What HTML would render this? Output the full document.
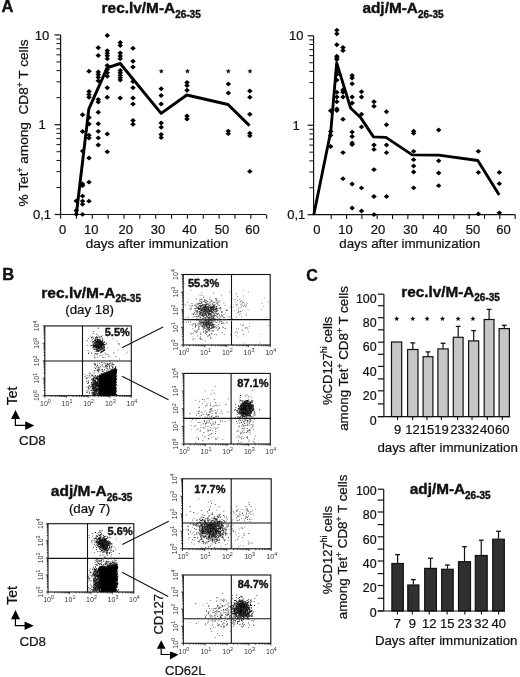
<!DOCTYPE html>
<html><head><meta charset="utf-8"><style>
html,body{margin:0;padding:0;background:#fff;}
svg{display:block;will-change:transform;}
text{font-family:"Liberation Sans", sans-serif;fill:#111;stroke:#111;stroke-width:0.22px;}
text[font-weight=bold]{stroke-width:0.4px;}
text.tk{stroke:none;fill:#333;}
</style></head><body>
<svg width="520" height="677" viewBox="0 0 520 677">
<rect width="520" height="677" fill="#fff"/>
<text x="1.6" y="11.8" font-size="16.5" font-weight="bold" text-anchor="start" >A</text>
<text x="101.6" y="13.2" font-size="15.4" font-weight="bold">rec.lv/M-A<tspan font-size="10" dy="4.6">26-35</tspan></text>
<text x="362.4" y="13.2" font-size="15.4" font-weight="bold">adj/M-A<tspan font-size="10" dy="4.6">26-35</tspan></text>
<line x1="60.60" y1="34.90" x2="60.60" y2="215.00" stroke="#111" stroke-width="1.2"/>
<line x1="56.40" y1="97.67" x2="60.60" y2="97.67" stroke="#111" stroke-width="1.0"/>
<line x1="56.40" y1="81.85" x2="60.60" y2="81.85" stroke="#111" stroke-width="1.0"/>
<line x1="56.40" y1="70.64" x2="60.60" y2="70.64" stroke="#111" stroke-width="1.0"/>
<line x1="56.40" y1="61.93" x2="60.60" y2="61.93" stroke="#111" stroke-width="1.0"/>
<line x1="56.40" y1="54.82" x2="60.60" y2="54.82" stroke="#111" stroke-width="1.0"/>
<line x1="56.40" y1="48.81" x2="60.60" y2="48.81" stroke="#111" stroke-width="1.0"/>
<line x1="56.40" y1="43.60" x2="60.60" y2="43.60" stroke="#111" stroke-width="1.0"/>
<line x1="56.40" y1="39.01" x2="60.60" y2="39.01" stroke="#111" stroke-width="1.0"/>
<line x1="56.40" y1="187.47" x2="60.60" y2="187.47" stroke="#111" stroke-width="1.0"/>
<line x1="56.40" y1="171.65" x2="60.60" y2="171.65" stroke="#111" stroke-width="1.0"/>
<line x1="56.40" y1="160.44" x2="60.60" y2="160.44" stroke="#111" stroke-width="1.0"/>
<line x1="56.40" y1="151.73" x2="60.60" y2="151.73" stroke="#111" stroke-width="1.0"/>
<line x1="56.40" y1="144.62" x2="60.60" y2="144.62" stroke="#111" stroke-width="1.0"/>
<line x1="56.40" y1="138.61" x2="60.60" y2="138.61" stroke="#111" stroke-width="1.0"/>
<line x1="56.40" y1="133.40" x2="60.60" y2="133.40" stroke="#111" stroke-width="1.0"/>
<line x1="56.40" y1="128.81" x2="60.60" y2="128.81" stroke="#111" stroke-width="1.0"/>
<line x1="54.60" y1="34.90" x2="60.60" y2="34.90" stroke="#111" stroke-width="1.2"/>
<line x1="54.60" y1="124.70" x2="60.60" y2="124.70" stroke="#111" stroke-width="1.2"/>
<line x1="54.60" y1="214.50" x2="60.60" y2="214.50" stroke="#111" stroke-width="1.2"/>
<line x1="60.60" y1="214.50" x2="266.00" y2="214.50" stroke="#111" stroke-width="1.2"/>
<line x1="60.60" y1="214.50" x2="60.60" y2="218.70" stroke="#111" stroke-width="1.1"/>
<line x1="76.45" y1="214.50" x2="76.45" y2="218.70" stroke="#111" stroke-width="1.1"/>
<line x1="92.30" y1="214.50" x2="92.30" y2="218.70" stroke="#111" stroke-width="1.1"/>
<line x1="108.15" y1="214.50" x2="108.15" y2="218.70" stroke="#111" stroke-width="1.1"/>
<line x1="124.00" y1="214.50" x2="124.00" y2="218.70" stroke="#111" stroke-width="1.1"/>
<line x1="139.85" y1="214.50" x2="139.85" y2="218.70" stroke="#111" stroke-width="1.1"/>
<line x1="155.70" y1="214.50" x2="155.70" y2="218.70" stroke="#111" stroke-width="1.1"/>
<line x1="171.55" y1="214.50" x2="171.55" y2="218.70" stroke="#111" stroke-width="1.1"/>
<line x1="187.40" y1="214.50" x2="187.40" y2="218.70" stroke="#111" stroke-width="1.1"/>
<line x1="203.25" y1="214.50" x2="203.25" y2="218.70" stroke="#111" stroke-width="1.1"/>
<line x1="219.10" y1="214.50" x2="219.10" y2="218.70" stroke="#111" stroke-width="1.1"/>
<line x1="234.95" y1="214.50" x2="234.95" y2="218.70" stroke="#111" stroke-width="1.1"/>
<line x1="250.80" y1="214.50" x2="250.80" y2="218.70" stroke="#111" stroke-width="1.1"/>
<line x1="266.65" y1="214.50" x2="266.65" y2="218.70" stroke="#111" stroke-width="1.1"/>
<text x="42.0" y="39.5" font-size="13" font-weight="normal" text-anchor="middle" >10</text>
<text x="42.0" y="129.3" font-size="13" font-weight="normal" text-anchor="middle" >1</text>
<text x="42.0" y="219.1" font-size="13" font-weight="normal" text-anchor="middle" >0,1</text>
<text x="62.6" y="233.9" font-size="13" font-weight="normal" text-anchor="middle" >0</text>
<text x="91.3" y="233.9" font-size="13" font-weight="normal" text-anchor="middle" >10</text>
<text x="125.8" y="233.9" font-size="13" font-weight="normal" text-anchor="middle" >20</text>
<text x="158.1" y="233.9" font-size="13" font-weight="normal" text-anchor="middle" >30</text>
<text x="189.6" y="233.9" font-size="13" font-weight="normal" text-anchor="middle" >40</text>
<text x="221.9" y="233.9" font-size="13" font-weight="normal" text-anchor="middle" >50</text>
<text x="252.4" y="233.9" font-size="13" font-weight="normal" text-anchor="middle" >60</text>
<text x="157.0" y="248.0" font-size="13.5" font-weight="normal" text-anchor="middle" >days after immunization</text>
<text transform="translate(28.0,206.4) rotate(-90)" font-size="13.65">% Tet<tspan font-size="8.5" dy="-5">+</tspan><tspan dy="5"> among&#160; CD8</tspan><tspan font-size="8.5" dy="-5">+</tspan><tspan dy="5"> T cells</tspan></text>
<line x1="313.60" y1="35.80" x2="313.60" y2="215.20" stroke="#111" stroke-width="1.2"/>
<line x1="309.40" y1="98.32" x2="313.60" y2="98.32" stroke="#111" stroke-width="1.0"/>
<line x1="309.40" y1="82.57" x2="313.60" y2="82.57" stroke="#111" stroke-width="1.0"/>
<line x1="309.40" y1="71.40" x2="313.60" y2="71.40" stroke="#111" stroke-width="1.0"/>
<line x1="309.40" y1="62.73" x2="313.60" y2="62.73" stroke="#111" stroke-width="1.0"/>
<line x1="309.40" y1="55.64" x2="313.60" y2="55.64" stroke="#111" stroke-width="1.0"/>
<line x1="309.40" y1="49.66" x2="313.60" y2="49.66" stroke="#111" stroke-width="1.0"/>
<line x1="309.40" y1="44.47" x2="313.60" y2="44.47" stroke="#111" stroke-width="1.0"/>
<line x1="309.40" y1="39.89" x2="313.60" y2="39.89" stroke="#111" stroke-width="1.0"/>
<line x1="309.40" y1="187.77" x2="313.60" y2="187.77" stroke="#111" stroke-width="1.0"/>
<line x1="309.40" y1="172.02" x2="313.60" y2="172.02" stroke="#111" stroke-width="1.0"/>
<line x1="309.40" y1="160.85" x2="313.60" y2="160.85" stroke="#111" stroke-width="1.0"/>
<line x1="309.40" y1="152.18" x2="313.60" y2="152.18" stroke="#111" stroke-width="1.0"/>
<line x1="309.40" y1="145.09" x2="313.60" y2="145.09" stroke="#111" stroke-width="1.0"/>
<line x1="309.40" y1="139.11" x2="313.60" y2="139.11" stroke="#111" stroke-width="1.0"/>
<line x1="309.40" y1="133.92" x2="313.60" y2="133.92" stroke="#111" stroke-width="1.0"/>
<line x1="309.40" y1="129.34" x2="313.60" y2="129.34" stroke="#111" stroke-width="1.0"/>
<line x1="307.60" y1="35.80" x2="313.60" y2="35.80" stroke="#111" stroke-width="1.2"/>
<line x1="307.60" y1="125.25" x2="313.60" y2="125.25" stroke="#111" stroke-width="1.2"/>
<line x1="307.60" y1="214.70" x2="313.60" y2="214.70" stroke="#111" stroke-width="1.2"/>
<line x1="313.60" y1="214.70" x2="515.30" y2="214.70" stroke="#111" stroke-width="1.2"/>
<line x1="331.23" y1="214.70" x2="331.23" y2="218.90" stroke="#111" stroke-width="1.1"/>
<line x1="346.56" y1="214.70" x2="346.56" y2="218.90" stroke="#111" stroke-width="1.1"/>
<line x1="361.89" y1="214.70" x2="361.89" y2="218.90" stroke="#111" stroke-width="1.1"/>
<line x1="377.22" y1="214.70" x2="377.22" y2="218.90" stroke="#111" stroke-width="1.1"/>
<line x1="392.55" y1="214.70" x2="392.55" y2="218.90" stroke="#111" stroke-width="1.1"/>
<line x1="407.88" y1="214.70" x2="407.88" y2="218.90" stroke="#111" stroke-width="1.1"/>
<line x1="423.21" y1="214.70" x2="423.21" y2="218.90" stroke="#111" stroke-width="1.1"/>
<line x1="438.54" y1="214.70" x2="438.54" y2="218.90" stroke="#111" stroke-width="1.1"/>
<line x1="453.87" y1="214.70" x2="453.87" y2="218.90" stroke="#111" stroke-width="1.1"/>
<line x1="469.20" y1="214.70" x2="469.20" y2="218.90" stroke="#111" stroke-width="1.1"/>
<line x1="484.53" y1="214.70" x2="484.53" y2="218.90" stroke="#111" stroke-width="1.1"/>
<line x1="499.86" y1="214.70" x2="499.86" y2="218.90" stroke="#111" stroke-width="1.1"/>
<line x1="515.19" y1="214.70" x2="515.19" y2="218.90" stroke="#111" stroke-width="1.1"/>
<text x="296.2" y="40.4" font-size="13" font-weight="normal" text-anchor="middle" >10</text>
<text x="296.2" y="129.8" font-size="13" font-weight="normal" text-anchor="middle" >1</text>
<text x="296.2" y="219.3" font-size="13" font-weight="normal" text-anchor="middle" >0,1</text>
<text x="316.9" y="233.9" font-size="13" font-weight="normal" text-anchor="middle" >0</text>
<text x="345.4" y="233.9" font-size="13" font-weight="normal" text-anchor="middle" >10</text>
<text x="378.1" y="233.9" font-size="13" font-weight="normal" text-anchor="middle" >20</text>
<text x="410.5" y="233.9" font-size="13" font-weight="normal" text-anchor="middle" >30</text>
<text x="440.1" y="233.9" font-size="13" font-weight="normal" text-anchor="middle" >40</text>
<text x="472.9" y="233.9" font-size="13" font-weight="normal" text-anchor="middle" >50</text>
<text x="503.5" y="233.9" font-size="13" font-weight="normal" text-anchor="middle" >60</text>
<text x="409.7" y="248.0" font-size="13.35" font-weight="normal" text-anchor="middle" >days after immunization</text>
<path d="M73.5 201.0L76.3 198.6L79.0 201.0L76.3 203.4ZM73.5 210.5L76.3 208.1L79.0 210.5L76.3 212.9ZM73.5 214.3L76.3 211.9L79.0 214.3L76.3 216.8ZM79.8 114.8L82.6 112.3L85.3 114.8L82.6 117.2ZM79.8 131.5L82.6 129.1L85.3 131.5L82.6 133.9ZM79.8 151.1L82.6 148.7L85.3 151.1L82.6 153.5ZM79.8 184.0L82.6 181.6L85.3 184.0L82.6 186.4ZM79.8 185.7L82.6 183.2L85.3 185.7L82.6 188.1ZM79.8 196.1L82.6 193.7L85.3 196.1L82.6 198.5ZM79.8 201.1L82.6 198.7L85.3 201.1L82.6 203.5ZM79.8 204.3L82.6 201.9L85.3 204.3L82.6 206.8ZM79.8 214.4L82.6 212.0L85.3 214.4L82.6 216.8ZM86.2 71.3L89.0 68.8L91.8 71.3L89.0 73.8ZM86.2 91.5L89.0 89.0L91.8 91.5L89.0 94.0ZM86.2 94.4L89.0 92.0L91.8 94.4L89.0 96.9ZM86.2 97.3L89.0 94.8L91.8 97.3L89.0 99.8ZM86.2 117.6L89.0 115.1L91.8 117.6L89.0 120.0ZM86.2 123.9L89.0 121.5L91.8 123.9L89.0 126.4ZM86.2 135.2L89.0 132.8L91.8 135.2L89.0 137.6ZM86.2 138.1L89.0 135.7L91.8 138.1L89.0 140.5ZM86.2 158.0L89.0 155.6L91.8 158.0L89.0 160.4ZM86.2 182.2L89.0 179.8L91.8 182.2L89.0 184.6ZM86.2 201.2L89.0 198.8L91.8 201.2L89.0 203.6ZM95.5 47.7L98.3 45.2L101.0 47.7L98.3 50.2ZM95.5 55.6L98.3 53.1L101.0 55.6L98.3 58.1ZM95.5 71.9L98.3 69.5L101.0 71.9L98.3 74.4ZM95.5 74.4L98.3 72.0L101.0 74.4L98.3 76.9ZM95.5 77.2L98.3 74.8L101.0 77.2L98.3 79.7ZM95.5 80.8L98.3 78.3L101.0 80.8L98.3 83.2ZM95.5 99.4L98.3 97.0L101.0 99.4L98.3 101.9ZM95.5 102.1L98.3 99.6L101.0 102.1L98.3 104.5ZM95.5 112.3L98.3 109.8L101.0 112.3L98.3 114.8ZM95.5 123.8L98.3 121.3L101.0 123.8L98.3 126.2ZM95.5 131.3L98.3 128.9L101.0 131.3L98.3 133.8ZM95.5 137.9L98.3 135.5L101.0 137.9L98.3 140.3ZM95.5 145.0L98.3 142.6L101.0 145.0L98.3 147.4ZM104.5 35.4L107.3 32.9L110.0 35.4L107.3 37.9ZM104.5 50.8L107.3 48.3L110.0 50.8L107.3 53.2ZM104.5 53.3L107.3 50.8L110.0 53.3L107.3 55.8ZM104.5 55.8L107.3 53.3L110.0 55.8L107.3 58.2ZM104.5 58.8L107.3 56.3L110.0 58.8L107.3 61.2ZM104.5 65.6L107.3 63.1L110.0 65.6L107.3 68.0ZM104.5 69.4L107.3 67.0L110.0 69.4L107.3 71.9ZM104.5 72.7L107.3 70.2L110.0 72.7L107.3 75.2ZM104.5 76.2L107.3 73.8L110.0 76.2L107.3 78.7ZM104.5 87.7L107.3 85.2L110.0 87.7L107.3 90.2ZM104.5 97.3L107.3 94.8L110.0 97.3L107.3 99.8ZM104.5 134.0L107.3 131.6L110.0 134.0L107.3 136.4ZM104.5 151.8L107.3 149.4L110.0 151.8L107.3 154.2ZM117.5 42.5L120.2 40.0L123.0 42.5L120.2 45.0ZM117.5 45.4L120.2 42.9L123.0 45.4L120.2 47.9ZM117.5 53.1L120.2 50.6L123.0 53.1L120.2 55.6ZM117.5 56.0L120.2 53.5L123.0 56.0L120.2 58.5ZM117.5 58.8L120.2 56.3L123.0 58.8L120.2 61.2ZM117.5 70.4L120.2 68.0L123.0 70.4L120.2 72.9ZM117.5 72.7L120.2 70.2L123.0 72.7L120.2 75.2ZM117.5 75.2L120.2 72.8L123.0 75.2L120.2 77.7ZM117.5 77.7L120.2 75.2L123.0 77.7L120.2 80.2ZM117.5 80.0L120.2 77.5L123.0 80.0L120.2 82.5ZM117.5 97.9L120.2 95.5L123.0 97.9L120.2 100.4ZM130.2 48.3L133.0 45.8L135.8 48.3L133.0 50.8ZM130.2 61.3L133.0 58.8L135.8 61.3L133.0 63.8ZM130.2 67.1L133.0 64.6L135.8 67.1L133.0 69.5ZM130.2 81.5L133.0 79.0L135.8 81.5L133.0 84.0ZM130.2 87.7L133.0 85.2L135.8 87.7L133.0 90.2ZM130.2 97.9L133.0 95.5L135.8 97.9L133.0 100.4ZM130.2 104.0L133.0 101.5L135.8 104.0L133.0 106.5ZM130.2 120.4L133.0 118.0L135.8 120.4L133.0 122.9ZM130.2 124.2L133.0 121.8L135.8 124.2L133.0 126.7ZM158.4 88.8L161.2 86.3L163.9 88.8L161.2 91.2ZM158.4 95.4L161.2 93.0L163.9 95.4L161.2 97.9ZM158.4 104.0L161.2 101.5L163.9 104.0L161.2 106.5ZM158.4 123.0L161.2 120.5L163.9 123.0L161.2 125.5ZM158.4 127.3L161.2 124.8L163.9 127.3L161.2 129.8ZM158.4 134.5L161.2 132.1L163.9 134.5L161.2 136.9ZM158.4 137.6L161.2 135.2L163.9 137.6L161.2 140.0ZM184.2 82.6L187.0 80.1L189.8 82.6L187.0 85.0ZM184.2 85.6L187.0 83.1L189.8 85.6L187.0 88.0ZM184.2 90.3L187.0 87.8L189.8 90.3L187.0 92.8ZM184.2 116.0L187.0 113.5L189.8 116.0L187.0 118.5ZM184.2 119.0L187.0 116.5L189.8 119.0L187.0 121.5ZM225.6 84.0L228.3 81.5L231.1 84.0L228.3 86.5ZM225.6 93.0L228.3 90.5L231.1 93.0L228.3 95.5ZM225.6 131.1L228.3 128.7L231.1 131.1L228.3 133.5ZM225.6 133.7L228.3 131.2L231.1 133.7L228.3 136.1ZM247.1 91.0L249.8 88.5L252.6 91.0L249.8 93.5ZM247.1 97.3L249.8 94.8L252.6 97.3L249.8 99.8ZM247.1 114.2L249.8 111.8L252.6 114.2L249.8 116.7ZM247.1 133.2L249.8 130.8L252.6 133.2L249.8 135.6ZM247.1 135.8L249.8 133.4L252.6 135.8L249.8 138.2ZM247.1 171.4L249.8 169.0L252.6 171.4L249.8 173.8Z" fill="#000"/>
<polyline points="76.3,214.5 88.8,109.2 107.1,67.9 120.2,63.5 161.1,113.4 186.8,95.0 228,104.5 249.5,125.6" fill="none" stroke="#000" stroke-width="2.95" stroke-linejoin="round"/>
<polygon points="161.30,68.60 161.98,70.37 163.87,70.47 162.39,71.66 162.89,73.48 161.30,72.45 159.71,73.48 160.21,71.66 158.73,70.47 160.62,70.37" fill="#111"/>
<polygon points="187.50,68.60 188.18,70.37 190.07,70.47 188.59,71.66 189.09,73.48 187.50,72.45 185.91,73.48 186.41,71.66 184.93,70.47 186.82,70.37" fill="#111"/>
<polygon points="228.30,68.60 228.98,70.37 230.87,70.47 229.39,71.66 229.89,73.48 228.30,72.45 226.71,73.48 227.21,71.66 225.73,70.47 227.62,70.37" fill="#111"/>
<polygon points="250.00,68.60 250.68,70.37 252.57,70.47 251.09,71.66 251.59,73.48 250.00,72.45 248.41,73.48 248.91,71.66 247.43,70.47 249.32,70.37" fill="#111"/>
<path d="M327.9 110.8L330.7 108.3L333.4 110.8L330.7 113.2ZM327.9 131.5L330.7 129.1L333.4 131.5L330.7 133.9ZM327.9 135.3L330.7 132.9L333.4 135.3L330.7 137.8ZM327.9 146.5L330.7 144.1L333.4 146.5L330.7 148.9ZM334.1 30.2L336.8 27.8L339.6 30.2L336.8 32.6ZM334.1 33.7L336.8 31.3L339.6 33.7L336.8 36.2ZM334.1 44.8L336.8 42.3L339.6 44.8L336.8 47.2ZM334.1 56.2L336.8 53.8L339.6 56.2L336.8 58.7ZM334.1 57.9L336.8 55.4L339.6 57.9L336.8 60.4ZM334.1 59.6L336.8 57.1L339.6 59.6L336.8 62.1ZM334.1 72.3L336.8 69.8L339.6 72.3L336.8 74.8ZM334.1 74.6L336.8 72.1L339.6 74.6L336.8 77.0ZM334.1 80.1L336.8 77.6L339.6 80.1L336.8 82.5ZM334.1 92.3L336.8 89.8L339.6 92.3L336.8 94.8ZM334.1 96.9L336.8 94.5L339.6 96.9L336.8 99.4ZM334.1 101.8L336.8 99.3L339.6 101.8L336.8 104.2ZM334.1 108.9L336.8 106.5L339.6 108.9L336.8 111.4ZM334.1 110.5L336.8 108.0L339.6 110.5L336.8 113.0ZM340.2 47.5L343.0 45.0L345.8 47.5L343.0 50.0ZM340.2 50.6L343.0 48.1L345.8 50.6L343.0 53.1ZM340.2 90.0L343.0 87.5L345.8 90.0L343.0 92.5ZM340.2 92.3L343.0 89.8L345.8 92.3L343.0 94.8ZM340.2 96.9L343.0 94.5L345.8 96.9L343.0 99.4ZM340.2 119.2L343.0 116.8L345.8 119.2L343.0 121.7ZM340.2 152.6L343.0 150.2L345.8 152.6L343.0 155.0ZM340.2 178.7L343.0 176.2L345.8 178.7L343.0 181.1ZM349.4 75.6L352.1 73.1L354.9 75.6L352.1 78.0ZM349.4 77.9L352.1 75.5L354.9 77.9L352.1 80.4ZM349.4 83.8L352.1 81.3L354.9 83.8L352.1 86.2ZM349.4 96.9L352.1 94.5L354.9 96.9L352.1 99.4ZM349.4 103.0L352.1 100.5L354.9 103.0L352.1 105.5ZM349.4 132.1L352.1 129.7L354.9 132.1L352.1 134.5ZM349.4 136.5L352.1 134.1L354.9 136.5L352.1 138.9ZM349.4 143.0L352.1 140.6L354.9 143.0L352.1 145.4ZM349.4 144.6L352.1 142.2L354.9 144.6L352.1 147.0ZM349.4 184.0L352.1 181.6L354.9 184.0L352.1 186.4ZM349.4 208.0L352.1 205.6L354.9 208.0L352.1 210.4ZM358.8 91.8L361.5 89.3L364.2 91.8L361.5 94.2ZM358.8 96.9L361.5 94.5L364.2 96.9L361.5 99.4ZM358.8 114.2L361.5 111.8L364.2 114.2L361.5 116.7ZM358.8 126.9L361.5 124.5L364.2 126.9L361.5 129.3ZM358.8 187.9L361.5 185.5L364.2 187.9L361.5 190.3ZM358.8 211.0L361.5 208.6L364.2 211.0L361.5 213.4ZM371.2 101.8L374.0 99.3L376.8 101.8L374.0 104.2ZM371.2 106.2L374.0 103.8L376.8 106.2L374.0 108.7ZM371.2 145.0L374.0 142.6L376.8 145.0L374.0 147.4ZM371.2 149.4L374.0 147.0L376.8 149.4L374.0 151.8ZM371.2 169.6L374.0 167.2L376.8 169.6L374.0 172.0ZM371.2 196.5L374.0 194.1L376.8 196.5L374.0 198.9ZM371.2 214.6L374.0 212.2L376.8 214.6L374.0 217.0ZM383.8 111.7L386.5 109.2L389.2 111.7L386.5 114.2ZM383.8 124.7L386.5 122.2L389.2 124.7L386.5 127.2ZM383.8 145.0L386.5 142.6L389.2 145.0L386.5 147.4ZM383.8 152.7L386.5 150.2L389.2 152.7L386.5 155.1ZM383.8 196.5L386.5 194.1L389.2 196.5L386.5 198.9ZM410.9 131.2L413.7 128.8L416.4 131.2L413.7 133.6ZM410.9 133.3L413.7 130.9L416.4 133.3L413.7 135.8ZM410.9 151.3L413.7 148.9L416.4 151.3L413.7 153.8ZM410.9 159.7L413.7 157.2L416.4 159.7L413.7 162.1ZM410.9 166.0L413.7 163.6L416.4 166.0L413.7 168.4ZM410.9 172.0L413.7 169.6L416.4 172.0L413.7 174.4ZM410.9 187.8L413.7 185.4L416.4 187.8L413.7 190.2ZM435.9 130.1L438.7 127.6L441.4 130.1L438.7 132.5ZM435.9 160.8L438.7 158.4L441.4 160.8L438.7 163.2ZM435.9 173.0L438.7 170.6L441.4 173.0L438.7 175.4ZM435.9 185.7L438.7 183.2L441.4 185.7L438.7 188.1ZM475.6 151.3L478.4 148.9L481.1 151.3L478.4 153.8ZM475.6 172.4L478.4 170.0L481.1 172.4L478.4 174.8ZM475.6 213.9L478.4 211.5L481.1 213.9L478.4 216.3ZM496.6 172.4L499.4 170.0L502.1 172.4L499.4 174.8ZM496.6 183.7L499.4 181.2L502.1 183.7L499.4 186.1ZM496.6 212.8L499.4 210.4L502.1 212.8L499.4 215.2Z" fill="#000"/>
<polyline points="313.8,214.6 330.8,131.3 336.7,62.8 350.6,108.0 361,118.1 373.5,136.9 386,137.4 412.2,154.9 438.7,155.2 477.8,160.5 499.2,195.0" fill="none" stroke="#000" stroke-width="2.85" stroke-linejoin="round"/>
<text x="2.2" y="280.3" font-size="16.5" font-weight="bold" text-anchor="start" >B</text>
<text x="41.3" y="297.7" font-size="15.5" font-weight="bold">rec.lv/M-A<tspan font-size="10" dy="4.6">26-35</tspan></text>
<text x="89.6" y="313.9" font-size="13.3" font-weight="normal" text-anchor="middle" >(day 18)</text>
<path d="M44.8 395.7v2.2M44.8 395.7h-2.2M51.3 395.7v1.3M44.8 390.4h-1.3M55.1 395.7v1.3M44.8 387.4h-1.3M57.8 395.7v1.3M44.8 385.2h-1.3M59.9 395.7v1.3M44.8 383.5h-1.3M61.6 395.7v1.3M44.8 382.1h-1.3M63.1 395.7v1.3M44.8 381.0h-1.3M64.3 395.7v1.3M44.8 379.9h-1.3M65.4 395.7v1.3M44.8 379.0h-1.3M66.4 395.7v2.2M44.8 378.2h-2.2M72.9 395.7v1.3M44.8 373.0h-1.3M76.7 395.7v1.3M44.8 369.9h-1.3M79.4 395.7v1.3M44.8 367.7h-1.3M81.5 395.7v1.3M44.8 366.1h-1.3M83.3 395.7v1.3M44.8 364.7h-1.3M84.7 395.7v1.3M44.8 363.5h-1.3M86.0 395.7v1.3M44.8 362.5h-1.3M87.1 395.7v1.3M44.8 361.6h-1.3M88.1 395.7v2.2M44.8 360.8h-2.2M94.6 395.7v1.3M44.8 355.5h-1.3M98.4 395.7v1.3M44.8 352.5h-1.3M101.1 395.7v1.3M44.8 350.3h-1.3M103.2 395.7v1.3M44.8 348.6h-1.3M104.9 395.7v1.3M44.8 347.2h-1.3M106.3 395.7v1.3M44.8 346.1h-1.3M107.6 395.7v1.3M44.8 345.0h-1.3M108.7 395.7v1.3M44.8 344.1h-1.3M109.7 395.7v2.2M44.8 343.3h-2.2M116.2 395.7v1.3M44.8 338.1h-1.3M120.0 395.7v1.3M44.8 335.0h-1.3M122.7 395.7v1.3M44.8 332.8h-1.3M124.8 395.7v1.3M44.8 331.2h-1.3M126.5 395.7v1.3M44.8 329.8h-1.3M128.0 395.7v1.3M44.8 328.6h-1.3M129.2 395.7v1.3M44.8 327.6h-1.3M130.3 395.7v1.3M44.8 326.7h-1.3M131.3 395.7v2.2M44.8 325.9h-2.2" stroke="#222" stroke-width="0.8" fill="none"/>
<rect x="44.8" y="325.9" width="86.5" height="69.8" fill="none" stroke="#111" stroke-width="1.1"/>
<line x1="82.50" y1="325.90" x2="82.50" y2="395.70" stroke="#111" stroke-width="1.1"/>
<line x1="44.80" y1="361.00" x2="131.30" y2="361.00" stroke="#111" stroke-width="1.1"/>
<text class="tk" x="45.4" y="405.9" font-size="7" text-anchor="middle">10<tspan font-size="5.4" dy="-2.8">0</tspan></text>
<text class="tk" transform="translate(39.4,395.7) rotate(-90)" font-size="7" text-anchor="middle">10<tspan font-size="5.4" dy="-2.8">0</tspan></text>
<text class="tk" x="67.0" y="405.9" font-size="7" text-anchor="middle">10<tspan font-size="5.4" dy="-2.8">1</tspan></text>
<text class="tk" transform="translate(39.4,378.2) rotate(-90)" font-size="7" text-anchor="middle">10<tspan font-size="5.4" dy="-2.8">1</tspan></text>
<text class="tk" x="88.7" y="405.9" font-size="7" text-anchor="middle">10<tspan font-size="5.4" dy="-2.8">2</tspan></text>
<text class="tk" transform="translate(39.4,360.8) rotate(-90)" font-size="7" text-anchor="middle">10<tspan font-size="5.4" dy="-2.8">2</tspan></text>
<text class="tk" x="110.3" y="405.9" font-size="7" text-anchor="middle">10<tspan font-size="5.4" dy="-2.8">3</tspan></text>
<text class="tk" transform="translate(39.4,343.3) rotate(-90)" font-size="7" text-anchor="middle">10<tspan font-size="5.4" dy="-2.8">3</tspan></text>
<text class="tk" x="131.9" y="405.9" font-size="7" text-anchor="middle">10<tspan font-size="5.4" dy="-2.8">4</tspan></text>
<text class="tk" transform="translate(39.4,325.9) rotate(-90)" font-size="7" text-anchor="middle">10<tspan font-size="5.4" dy="-2.8">4</tspan></text>
<path d="M98.8 346.0h0.9v0.9h-0.9zM97.4 343.9h0.9v0.9h-0.9zM96.2 345.1h0.9v0.9h-0.9zM101.3 343.9h0.9v0.9h-0.9zM100.9 343.6h0.9v0.9h-0.9zM99.5 344.3h0.9v0.9h-0.9zM96.5 348.8h0.9v0.9h-0.9zM100.2 344.9h0.9v0.9h-0.9zM92.1 342.4h0.9v0.9h-0.9zM95.8 344.4h0.9v0.9h-0.9zM98.9 343.9h0.9v0.9h-0.9zM98.3 342.1h0.9v0.9h-0.9zM99.7 345.0h0.9v0.9h-0.9zM100.0 349.5h0.9v0.9h-0.9zM101.5 346.6h0.9v0.9h-0.9zM95.9 343.4h0.9v0.9h-0.9zM97.5 344.6h0.9v0.9h-0.9zM100.1 344.2h0.9v0.9h-0.9zM95.9 342.6h0.9v0.9h-0.9zM99.4 348.1h0.9v0.9h-0.9zM97.2 346.1h0.9v0.9h-0.9zM96.7 340.1h0.9v0.9h-0.9zM100.7 347.6h0.9v0.9h-0.9zM93.9 346.3h0.9v0.9h-0.9zM96.8 342.5h0.9v0.9h-0.9zM99.3 343.6h0.9v0.9h-0.9zM96.9 348.4h0.9v0.9h-0.9zM101.3 345.8h0.9v0.9h-0.9zM101.9 343.3h0.9v0.9h-0.9zM96.4 341.0h0.9v0.9h-0.9zM98.6 342.1h0.9v0.9h-0.9zM95.4 341.9h0.9v0.9h-0.9zM95.6 344.4h0.9v0.9h-0.9zM97.5 337.6h0.9v0.9h-0.9zM95.9 347.0h0.9v0.9h-0.9zM102.2 343.9h0.9v0.9h-0.9zM90.4 340.7h0.9v0.9h-0.9zM97.9 342.1h0.9v0.9h-0.9zM97.8 348.3h0.9v0.9h-0.9zM100.8 343.3h0.9v0.9h-0.9zM99.6 345.1h0.9v0.9h-0.9zM102.6 343.8h0.9v0.9h-0.9zM100.4 345.1h0.9v0.9h-0.9zM97.5 349.7h0.9v0.9h-0.9zM101.2 344.4h0.9v0.9h-0.9zM93.4 345.5h0.9v0.9h-0.9zM97.0 338.8h0.9v0.9h-0.9zM99.8 347.2h0.9v0.9h-0.9zM98.5 350.2h0.9v0.9h-0.9zM99.2 343.3h0.9v0.9h-0.9zM100.1 345.6h0.9v0.9h-0.9zM100.6 347.1h0.9v0.9h-0.9zM96.4 344.3h0.9v0.9h-0.9zM100.5 343.1h0.9v0.9h-0.9zM98.3 347.9h0.9v0.9h-0.9zM100.5 341.3h0.9v0.9h-0.9zM95.4 345.9h0.9v0.9h-0.9zM97.6 343.9h0.9v0.9h-0.9zM99.4 340.0h0.9v0.9h-0.9zM98.7 339.6h0.9v0.9h-0.9zM97.9 347.0h0.9v0.9h-0.9zM102.1 345.0h0.9v0.9h-0.9zM99.3 344.3h0.9v0.9h-0.9zM99.7 345.6h0.9v0.9h-0.9zM98.5 345.3h0.9v0.9h-0.9zM99.5 343.6h0.9v0.9h-0.9zM100.9 344.8h0.9v0.9h-0.9zM102.9 342.5h0.9v0.9h-0.9zM96.9 344.1h0.9v0.9h-0.9zM99.9 346.7h0.9v0.9h-0.9zM98.4 345.8h0.9v0.9h-0.9zM97.7 335.6h0.9v0.9h-0.9zM96.6 346.5h0.9v0.9h-0.9zM99.6 344.5h0.9v0.9h-0.9zM98.7 346.6h0.9v0.9h-0.9zM98.1 342.7h0.9v0.9h-0.9zM103.8 342.0h0.9v0.9h-0.9zM97.1 344.9h0.9v0.9h-0.9zM97.8 344.6h0.9v0.9h-0.9zM92.2 346.9h0.9v0.9h-0.9zM98.4 340.1h0.9v0.9h-0.9zM99.9 346.9h0.9v0.9h-0.9zM102.6 346.9h0.9v0.9h-0.9zM94.4 345.8h0.9v0.9h-0.9zM98.8 346.4h0.9v0.9h-0.9zM96.0 336.3h0.9v0.9h-0.9zM98.1 339.3h0.9v0.9h-0.9zM97.2 339.8h0.9v0.9h-0.9zM100.8 347.1h0.9v0.9h-0.9zM98.4 345.1h0.9v0.9h-0.9zM100.2 343.7h0.9v0.9h-0.9zM100.8 348.3h0.9v0.9h-0.9zM100.0 342.3h0.9v0.9h-0.9zM101.9 337.8h0.9v0.9h-0.9zM99.8 342.5h0.9v0.9h-0.9zM99.9 346.0h0.9v0.9h-0.9zM99.9 345.7h0.9v0.9h-0.9zM92.8 342.7h0.9v0.9h-0.9zM98.0 341.2h0.9v0.9h-0.9zM93.9 342.2h0.9v0.9h-0.9zM102.2 344.5h0.9v0.9h-0.9zM99.7 340.1h0.9v0.9h-0.9zM96.5 341.6h0.9v0.9h-0.9zM102.6 347.3h0.9v0.9h-0.9zM99.3 349.5h0.9v0.9h-0.9zM100.1 342.6h0.9v0.9h-0.9zM96.9 350.6h0.9v0.9h-0.9zM97.2 343.0h0.9v0.9h-0.9zM99.9 344.9h0.9v0.9h-0.9zM99.6 339.8h0.9v0.9h-0.9zM103.2 346.5h0.9v0.9h-0.9zM101.0 342.0h0.9v0.9h-0.9zM98.7 347.9h0.9v0.9h-0.9zM98.8 344.6h0.9v0.9h-0.9zM100.8 341.8h0.9v0.9h-0.9zM93.2 346.6h0.9v0.9h-0.9zM96.1 348.9h0.9v0.9h-0.9zM98.0 342.5h0.9v0.9h-0.9zM99.8 346.5h0.9v0.9h-0.9zM100.8 347.6h0.9v0.9h-0.9zM100.0 347.1h0.9v0.9h-0.9zM104.1 346.4h0.9v0.9h-0.9zM98.6 347.5h0.9v0.9h-0.9zM92.8 344.3h0.9v0.9h-0.9zM96.3 349.7h0.9v0.9h-0.9zM95.9 346.0h0.9v0.9h-0.9zM98.0 344.6h0.9v0.9h-0.9zM97.6 345.8h0.9v0.9h-0.9zM102.0 342.1h0.9v0.9h-0.9zM101.1 346.2h0.9v0.9h-0.9zM95.9 341.5h0.9v0.9h-0.9zM99.1 347.8h0.9v0.9h-0.9zM94.1 345.2h0.9v0.9h-0.9zM101.7 345.0h0.9v0.9h-0.9zM99.8 346.4h0.9v0.9h-0.9zM96.7 341.3h0.9v0.9h-0.9zM94.2 344.9h0.9v0.9h-0.9zM99.3 341.7h0.9v0.9h-0.9zM95.3 343.7h0.9v0.9h-0.9zM95.2 346.2h0.9v0.9h-0.9zM96.7 346.9h0.9v0.9h-0.9zM94.3 348.4h0.9v0.9h-0.9zM93.8 340.5h0.9v0.9h-0.9zM99.4 342.7h0.9v0.9h-0.9zM92.5 345.3h0.9v0.9h-0.9zM98.2 342.9h0.9v0.9h-0.9zM101.2 345.2h0.9v0.9h-0.9zM100.3 344.3h0.9v0.9h-0.9zM102.2 344.2h0.9v0.9h-0.9zM95.8 338.6h0.9v0.9h-0.9zM102.4 346.4h0.9v0.9h-0.9zM97.0 343.6h0.9v0.9h-0.9zM99.3 337.4h0.9v0.9h-0.9zM103.4 349.8h0.9v0.9h-0.9zM97.7 347.4h0.9v0.9h-0.9zM101.9 341.5h0.9v0.9h-0.9zM101.0 345.9h0.9v0.9h-0.9zM96.5 345.4h0.9v0.9h-0.9zM100.4 346.0h0.9v0.9h-0.9zM98.0 344.0h0.9v0.9h-0.9zM95.8 344.9h0.9v0.9h-0.9zM100.3 343.4h0.9v0.9h-0.9zM95.3 343.5h0.9v0.9h-0.9zM105.6 343.6h0.9v0.9h-0.9zM95.3 337.1h0.9v0.9h-0.9zM100.4 344.7h0.9v0.9h-0.9zM102.5 343.2h0.9v0.9h-0.9zM99.2 345.8h0.9v0.9h-0.9zM96.3 349.6h0.9v0.9h-0.9zM97.9 342.2h0.9v0.9h-0.9zM104.1 347.1h0.9v0.9h-0.9zM94.5 344.7h0.9v0.9h-0.9zM99.3 344.5h0.9v0.9h-0.9zM96.0 342.5h0.9v0.9h-0.9zM104.4 344.1h0.9v0.9h-0.9zM93.8 342.7h0.9v0.9h-0.9zM103.4 344.5h0.9v0.9h-0.9zM103.4 343.9h0.9v0.9h-0.9zM97.1 346.2h0.9v0.9h-0.9zM92.9 345.5h0.9v0.9h-0.9zM99.2 345.8h0.9v0.9h-0.9zM96.7 345.1h0.9v0.9h-0.9zM99.9 344.7h0.9v0.9h-0.9zM100.0 344.1h0.9v0.9h-0.9zM99.1 346.8h0.9v0.9h-0.9zM97.1 342.3h0.9v0.9h-0.9zM97.2 345.2h0.9v0.9h-0.9zM98.4 344.9h0.9v0.9h-0.9zM98.7 344.8h0.9v0.9h-0.9zM96.0 341.5h0.9v0.9h-0.9zM101.0 346.4h0.9v0.9h-0.9zM98.9 343.3h0.9v0.9h-0.9zM97.6 341.4h0.9v0.9h-0.9zM94.7 347.1h0.9v0.9h-0.9zM97.8 347.5h0.9v0.9h-0.9zM91.8 339.4h0.9v0.9h-0.9zM99.0 349.7h0.9v0.9h-0.9zM95.3 341.5h0.9v0.9h-0.9zM97.8 346.7h0.9v0.9h-0.9zM99.7 344.2h0.9v0.9h-0.9zM102.5 344.1h0.9v0.9h-0.9zM99.4 345.9h0.9v0.9h-0.9zM103.3 344.6h0.9v0.9h-0.9zM98.6 340.3h0.9v0.9h-0.9zM99.3 346.4h0.9v0.9h-0.9zM99.6 347.4h0.9v0.9h-0.9zM101.1 345.8h0.9v0.9h-0.9zM102.3 351.0h0.9v0.9h-0.9zM100.5 342.2h0.9v0.9h-0.9zM103.0 350.7h0.9v0.9h-0.9zM99.2 347.0h0.9v0.9h-0.9zM100.4 343.1h0.9v0.9h-0.9zM96.4 346.4h0.9v0.9h-0.9zM101.0 346.7h0.9v0.9h-0.9zM100.0 343.4h0.9v0.9h-0.9zM101.0 344.6h0.9v0.9h-0.9zM98.9 344.3h0.9v0.9h-0.9zM99.1 346.4h0.9v0.9h-0.9zM95.2 344.3h0.9v0.9h-0.9zM95.9 340.8h0.9v0.9h-0.9zM94.1 340.0h0.9v0.9h-0.9zM98.0 346.7h0.9v0.9h-0.9zM99.4 343.5h0.9v0.9h-0.9zM95.5 341.2h0.9v0.9h-0.9zM102.9 343.2h0.9v0.9h-0.9zM99.1 340.7h0.9v0.9h-0.9zM95.0 340.1h0.9v0.9h-0.9zM101.5 345.7h0.9v0.9h-0.9zM94.6 346.8h0.9v0.9h-0.9zM96.7 339.2h0.9v0.9h-0.9zM93.0 344.2h0.9v0.9h-0.9zM94.8 341.8h0.9v0.9h-0.9zM98.9 345.0h0.9v0.9h-0.9zM100.8 345.3h0.9v0.9h-0.9zM103.3 345.2h0.9v0.9h-0.9zM94.9 344.9h0.9v0.9h-0.9zM94.5 343.2h0.9v0.9h-0.9zM98.2 344.5h0.9v0.9h-0.9zM96.7 339.8h0.9v0.9h-0.9zM95.9 346.0h0.9v0.9h-0.9zM97.5 343.9h0.9v0.9h-0.9zM97.0 342.6h0.9v0.9h-0.9zM100.4 344.3h0.9v0.9h-0.9zM97.1 342.9h0.9v0.9h-0.9zM93.4 337.9h0.9v0.9h-0.9zM96.5 345.8h0.9v0.9h-0.9zM95.8 346.9h0.9v0.9h-0.9zM96.4 340.8h0.9v0.9h-0.9zM97.4 344.0h0.9v0.9h-0.9zM100.3 345.3h0.9v0.9h-0.9zM96.9 342.3h0.9v0.9h-0.9zM98.0 344.4h0.9v0.9h-0.9zM100.4 344.1h0.9v0.9h-0.9zM94.7 342.0h0.9v0.9h-0.9zM96.4 343.1h0.9v0.9h-0.9zM96.0 345.6h0.9v0.9h-0.9zM97.6 345.3h0.9v0.9h-0.9zM98.7 342.7h0.9v0.9h-0.9zM102.5 340.5h0.9v0.9h-0.9zM100.8 343.2h0.9v0.9h-0.9zM96.6 337.0h0.9v0.9h-0.9zM97.3 346.0h0.9v0.9h-0.9zM103.6 349.4h0.9v0.9h-0.9zM101.2 347.1h0.9v0.9h-0.9zM101.5 345.7h0.9v0.9h-0.9zM99.1 343.3h0.9v0.9h-0.9zM97.6 341.0h0.9v0.9h-0.9zM99.0 340.3h0.9v0.9h-0.9zM102.5 349.3h0.9v0.9h-0.9zM98.0 344.8h0.9v0.9h-0.9zM100.7 342.9h0.9v0.9h-0.9zM97.2 346.1h0.9v0.9h-0.9zM100.8 345.4h0.9v0.9h-0.9zM99.8 349.8h0.9v0.9h-0.9zM101.7 342.2h0.9v0.9h-0.9zM98.2 343.0h0.9v0.9h-0.9zM100.0 340.7h0.9v0.9h-0.9zM98.9 342.3h0.9v0.9h-0.9zM98.2 347.1h0.9v0.9h-0.9zM101.0 342.6h0.9v0.9h-0.9zM98.4 347.3h0.9v0.9h-0.9zM98.8 345.2h0.9v0.9h-0.9zM103.3 345.1h0.9v0.9h-0.9zM101.2 350.8h0.9v0.9h-0.9zM99.7 346.3h0.9v0.9h-0.9zM97.0 345.2h0.9v0.9h-0.9zM98.0 351.2h0.9v0.9h-0.9zM99.0 339.5h0.9v0.9h-0.9zM92.7 342.4h0.9v0.9h-0.9zM100.0 341.7h0.9v0.9h-0.9zM97.8 343.7h0.9v0.9h-0.9zM96.3 341.9h0.9v0.9h-0.9zM96.0 340.8h0.9v0.9h-0.9zM98.8 345.3h0.9v0.9h-0.9zM98.9 343.2h0.9v0.9h-0.9zM96.9 346.0h0.9v0.9h-0.9zM100.1 348.9h0.9v0.9h-0.9zM99.7 343.1h0.9v0.9h-0.9zM96.3 343.3h0.9v0.9h-0.9zM95.9 344.8h0.9v0.9h-0.9zM99.9 345.3h0.9v0.9h-0.9zM103.1 348.8h0.9v0.9h-0.9zM97.0 345.4h0.9v0.9h-0.9zM100.8 336.0h0.9v0.9h-0.9zM97.7 345.5h0.9v0.9h-0.9zM99.4 345.2h0.9v0.9h-0.9zM98.5 345.6h0.9v0.9h-0.9zM99.8 346.2h0.9v0.9h-0.9zM93.2 344.8h0.9v0.9h-0.9zM96.6 341.8h0.9v0.9h-0.9zM97.4 347.4h0.9v0.9h-0.9zM98.2 346.9h0.9v0.9h-0.9zM100.4 344.1h0.9v0.9h-0.9zM99.2 343.5h0.9v0.9h-0.9zM95.6 346.2h0.9v0.9h-0.9zM98.4 342.5h0.9v0.9h-0.9zM99.5 346.4h0.9v0.9h-0.9zM97.7 347.2h0.9v0.9h-0.9zM101.2 340.5h0.9v0.9h-0.9zM98.4 343.8h0.9v0.9h-0.9zM102.0 343.1h0.9v0.9h-0.9zM99.0 341.5h0.9v0.9h-0.9zM98.4 344.4h0.9v0.9h-0.9zM97.3 350.4h0.9v0.9h-0.9zM97.2 338.9h0.9v0.9h-0.9zM99.7 343.1h0.9v0.9h-0.9zM99.9 344.7h0.9v0.9h-0.9zM95.1 345.9h0.9v0.9h-0.9zM100.4 341.0h0.9v0.9h-0.9zM94.1 342.4h0.9v0.9h-0.9zM96.5 346.9h0.9v0.9h-0.9zM102.5 343.2h0.9v0.9h-0.9zM102.7 349.6h0.9v0.9h-0.9zM96.2 343.4h0.9v0.9h-0.9zM100.4 345.0h0.9v0.9h-0.9zM94.4 342.9h0.9v0.9h-0.9zM99.4 344.6h0.9v0.9h-0.9zM95.5 345.7h0.9v0.9h-0.9zM98.1 346.3h0.9v0.9h-0.9zM98.0 344.3h0.9v0.9h-0.9zM99.5 347.5h0.9v0.9h-0.9zM100.5 341.6h0.9v0.9h-0.9zM98.8 341.4h0.9v0.9h-0.9zM99.8 346.2h0.9v0.9h-0.9zM100.8 341.4h0.9v0.9h-0.9zM98.6 345.0h0.9v0.9h-0.9zM95.5 346.5h0.9v0.9h-0.9zM97.7 346.2h0.9v0.9h-0.9zM92.8 341.0h0.9v0.9h-0.9zM98.9 345.0h0.9v0.9h-0.9zM98.8 347.3h0.9v0.9h-0.9zM96.8 343.3h0.9v0.9h-0.9zM96.7 339.9h0.9v0.9h-0.9zM97.0 345.3h0.9v0.9h-0.9zM99.8 342.8h0.9v0.9h-0.9zM97.9 342.4h0.9v0.9h-0.9zM101.8 348.1h0.9v0.9h-0.9zM101.0 351.2h0.9v0.9h-0.9zM97.2 345.3h0.9v0.9h-0.9zM100.5 346.7h0.9v0.9h-0.9zM92.4 340.9h0.9v0.9h-0.9zM100.9 345.5h0.9v0.9h-0.9zM104.1 350.1h0.9v0.9h-0.9zM99.2 344.8h0.9v0.9h-0.9zM100.9 344.1h0.9v0.9h-0.9zM99.6 339.1h0.9v0.9h-0.9zM91.8 336.4h0.9v0.9h-0.9zM99.4 342.4h0.9v0.9h-0.9zM103.9 348.5h0.9v0.9h-0.9zM98.0 343.8h0.9v0.9h-0.9zM96.0 343.0h0.9v0.9h-0.9zM98.2 346.8h0.9v0.9h-0.9zM98.6 344.5h0.9v0.9h-0.9zM99.6 346.9h0.9v0.9h-0.9zM99.1 343.4h0.9v0.9h-0.9zM99.5 343.1h0.9v0.9h-0.9zM98.6 349.6h0.9v0.9h-0.9zM97.7 341.4h0.9v0.9h-0.9zM101.1 343.8h0.9v0.9h-0.9zM98.0 350.5h0.9v0.9h-0.9zM100.6 346.2h0.9v0.9h-0.9zM98.5 343.8h0.9v0.9h-0.9zM97.0 348.9h0.9v0.9h-0.9zM98.0 343.6h0.9v0.9h-0.9zM99.2 344.1h0.9v0.9h-0.9zM99.1 342.6h0.9v0.9h-0.9zM94.7 339.2h0.9v0.9h-0.9zM98.7 346.6h0.9v0.9h-0.9zM100.4 341.7h0.9v0.9h-0.9zM100.8 348.5h0.9v0.9h-0.9zM99.0 346.7h0.9v0.9h-0.9zM101.8 342.2h0.9v0.9h-0.9zM99.6 341.0h0.9v0.9h-0.9zM98.7 343.9h0.9v0.9h-0.9zM100.5 347.0h0.9v0.9h-0.9zM102.0 339.5h0.9v0.9h-0.9zM98.1 346.4h0.9v0.9h-0.9zM97.2 347.1h0.9v0.9h-0.9zM99.1 342.9h0.9v0.9h-0.9zM96.8 339.8h0.9v0.9h-0.9zM97.3 339.5h0.9v0.9h-0.9zM96.1 344.0h0.9v0.9h-0.9zM99.1 347.1h0.9v0.9h-0.9zM97.9 343.3h0.9v0.9h-0.9zM102.2 347.6h0.9v0.9h-0.9zM99.0 345.3h0.9v0.9h-0.9zM101.3 343.4h0.9v0.9h-0.9zM100.1 352.3h0.9v0.9h-0.9zM99.4 336.5h0.9v0.9h-0.9zM99.0 345.5h0.9v0.9h-0.9zM101.4 344.7h0.9v0.9h-0.9zM96.1 342.2h0.9v0.9h-0.9zM100.4 346.8h0.9v0.9h-0.9zM94.5 343.3h0.9v0.9h-0.9zM95.1 339.6h0.9v0.9h-0.9zM97.1 343.7h0.9v0.9h-0.9zM98.1 342.1h0.9v0.9h-0.9zM96.0 344.6h0.9v0.9h-0.9zM97.2 342.8h0.9v0.9h-0.9zM99.7 346.2h0.9v0.9h-0.9z" fill="#000"/>
<path d="M107.5 354.2h0.9v0.9h-0.9zM93.1 346.3h0.9v0.9h-0.9zM93.6 363.2h0.9v0.9h-0.9zM94.5 348.4h0.9v0.9h-0.9zM95.3 338.1h0.9v0.9h-0.9zM99.2 345.8h0.9v0.9h-0.9zM91.2 352.6h0.9v0.9h-0.9zM96.4 333.8h0.9v0.9h-0.9zM101.3 346.5h0.9v0.9h-0.9zM100.8 348.5h0.9v0.9h-0.9zM102.0 342.9h0.9v0.9h-0.9zM99.7 342.8h0.9v0.9h-0.9zM97.8 340.8h0.9v0.9h-0.9zM102.5 357.1h0.9v0.9h-0.9zM98.8 345.1h0.9v0.9h-0.9zM90.5 345.0h0.9v0.9h-0.9zM101.2 351.9h0.9v0.9h-0.9zM100.8 349.1h0.9v0.9h-0.9zM101.5 354.8h0.9v0.9h-0.9zM94.2 344.7h0.9v0.9h-0.9zM101.2 345.4h0.9v0.9h-0.9zM94.6 344.3h0.9v0.9h-0.9zM98.4 351.1h0.9v0.9h-0.9zM95.1 339.3h0.9v0.9h-0.9zM99.7 347.1h0.9v0.9h-0.9zM96.0 353.6h0.9v0.9h-0.9zM95.3 345.7h0.9v0.9h-0.9zM104.8 352.8h0.9v0.9h-0.9zM96.1 351.0h0.9v0.9h-0.9zM101.3 362.1h0.9v0.9h-0.9zM99.3 354.9h0.9v0.9h-0.9zM97.5 353.0h0.9v0.9h-0.9zM98.3 327.7h0.9v0.9h-0.9zM97.3 350.8h0.9v0.9h-0.9zM95.1 343.4h0.9v0.9h-0.9zM106.2 342.8h0.9v0.9h-0.9zM93.7 355.4h0.9v0.9h-0.9zM94.3 357.3h0.9v0.9h-0.9zM95.7 349.1h0.9v0.9h-0.9zM102.8 345.0h0.9v0.9h-0.9zM86.7 340.3h0.9v0.9h-0.9zM104.5 348.7h0.9v0.9h-0.9zM97.0 353.7h0.9v0.9h-0.9zM101.5 349.6h0.9v0.9h-0.9zM87.6 350.2h0.9v0.9h-0.9zM103.3 349.2h0.9v0.9h-0.9zM93.3 331.1h0.9v0.9h-0.9zM99.7 349.4h0.9v0.9h-0.9zM96.3 347.9h0.9v0.9h-0.9zM99.6 342.6h0.9v0.9h-0.9zM99.6 340.0h0.9v0.9h-0.9zM96.9 343.4h0.9v0.9h-0.9zM96.0 342.7h0.9v0.9h-0.9zM94.6 356.7h0.9v0.9h-0.9zM97.0 343.2h0.9v0.9h-0.9zM101.4 352.2h0.9v0.9h-0.9zM93.3 348.5h0.9v0.9h-0.9zM101.3 348.8h0.9v0.9h-0.9zM89.6 335.7h0.9v0.9h-0.9zM103.4 346.2h0.9v0.9h-0.9zM96.7 345.4h0.9v0.9h-0.9zM97.2 344.0h0.9v0.9h-0.9zM91.1 345.0h0.9v0.9h-0.9zM93.2 344.8h0.9v0.9h-0.9zM94.9 353.1h0.9v0.9h-0.9zM94.4 353.6h0.9v0.9h-0.9zM94.6 351.2h0.9v0.9h-0.9zM103.6 345.2h0.9v0.9h-0.9zM94.8 348.9h0.9v0.9h-0.9zM92.7 336.8h0.9v0.9h-0.9zM95.6 349.2h0.9v0.9h-0.9zM95.9 348.5h0.9v0.9h-0.9zM102.8 349.8h0.9v0.9h-0.9zM102.9 348.4h0.9v0.9h-0.9zM96.3 347.5h0.9v0.9h-0.9zM95.5 345.8h0.9v0.9h-0.9zM91.4 337.5h0.9v0.9h-0.9zM96.1 347.6h0.9v0.9h-0.9zM93.6 349.0h0.9v0.9h-0.9zM99.0 345.0h0.9v0.9h-0.9zM97.6 327.7h0.9v0.9h-0.9zM91.0 337.0h0.9v0.9h-0.9zM109.6 360.0h0.9v0.9h-0.9zM88.0 353.1h0.9v0.9h-0.9zM98.6 344.2h0.9v0.9h-0.9zM92.7 333.0h0.9v0.9h-0.9zM102.0 347.3h0.9v0.9h-0.9zM95.8 343.6h0.9v0.9h-0.9zM98.5 342.9h0.9v0.9h-0.9zM96.8 343.6h0.9v0.9h-0.9zM88.5 351.7h0.9v0.9h-0.9zM100.6 350.9h0.9v0.9h-0.9zM93.9 348.7h0.9v0.9h-0.9zM100.4 346.5h0.9v0.9h-0.9zM108.6 355.7h0.9v0.9h-0.9zM87.9 338.0h0.9v0.9h-0.9zM105.6 353.9h0.9v0.9h-0.9zM103.7 349.7h0.9v0.9h-0.9zM92.8 344.3h0.9v0.9h-0.9zM98.2 339.9h0.9v0.9h-0.9zM87.2 345.2h0.9v0.9h-0.9zM113.3 352.6h0.9v0.9h-0.9zM92.5 344.3h0.9v0.9h-0.9zM96.1 342.2h0.9v0.9h-0.9zM102.4 343.7h0.9v0.9h-0.9zM97.3 356.8h0.9v0.9h-0.9zM95.9 349.5h0.9v0.9h-0.9zM96.5 345.2h0.9v0.9h-0.9zM96.6 342.3h0.9v0.9h-0.9z" fill="#333"/>
<path d="M118.9 358.6h0.9v0.9h-0.9zM117.4 349.6h0.9v0.9h-0.9zM101.9 335.2h0.9v0.9h-0.9zM118.2 343.1h0.9v0.9h-0.9zM115.4 356.1h0.9v0.9h-0.9zM101.1 340.9h0.9v0.9h-0.9zM104.0 341.0h0.9v0.9h-0.9zM107.3 347.3h0.9v0.9h-0.9zM118.5 344.3h0.9v0.9h-0.9zM104.8 357.2h0.9v0.9h-0.9zM103.7 348.9h0.9v0.9h-0.9zM125.4 352.9h0.9v0.9h-0.9zM112.3 338.4h0.9v0.9h-0.9zM101.3 349.1h0.9v0.9h-0.9zM116.7 340.8h0.9v0.9h-0.9zM119.1 343.4h0.9v0.9h-0.9zM127.2 351.5h0.9v0.9h-0.9zM108.0 356.3h0.9v0.9h-0.9zM102.2 345.9h0.9v0.9h-0.9z" fill="#666"/>
<path d="M99.5 386.4h0.9v0.9h-0.9zM114.8 386.0h0.9v0.9h-0.9zM106.6 374.6h0.9v0.9h-0.9zM103.7 393.9h0.9v0.9h-0.9zM111.9 391.8h0.9v0.9h-0.9zM110.4 382.5h0.9v0.9h-0.9zM102.7 375.2h0.9v0.9h-0.9zM104.2 390.6h0.9v0.9h-0.9zM110.6 383.2h0.9v0.9h-0.9zM111.6 386.6h0.9v0.9h-0.9zM115.2 371.5h0.9v0.9h-0.9zM110.8 381.0h0.9v0.9h-0.9zM103.2 388.2h0.9v0.9h-0.9zM110.4 391.8h0.9v0.9h-0.9zM110.8 388.0h0.9v0.9h-0.9zM108.1 387.6h0.9v0.9h-0.9zM100.1 375.1h0.9v0.9h-0.9zM100.7 377.1h0.9v0.9h-0.9zM99.7 388.8h0.9v0.9h-0.9zM110.4 385.2h0.9v0.9h-0.9zM105.1 391.5h0.9v0.9h-0.9zM100.4 392.9h0.9v0.9h-0.9zM100.4 376.0h0.9v0.9h-0.9zM113.3 389.8h0.9v0.9h-0.9zM109.2 374.1h0.9v0.9h-0.9zM111.6 382.1h0.9v0.9h-0.9zM98.8 391.1h0.9v0.9h-0.9zM104.2 387.5h0.9v0.9h-0.9zM113.0 380.3h0.9v0.9h-0.9zM106.0 387.9h0.9v0.9h-0.9zM107.9 376.2h0.9v0.9h-0.9zM112.5 375.1h0.9v0.9h-0.9zM111.6 382.8h0.9v0.9h-0.9zM107.0 383.1h0.9v0.9h-0.9zM104.6 393.9h0.9v0.9h-0.9zM103.5 386.5h0.9v0.9h-0.9zM100.2 391.1h0.9v0.9h-0.9zM110.6 378.0h0.9v0.9h-0.9zM104.5 376.6h0.9v0.9h-0.9zM114.0 376.3h0.9v0.9h-0.9zM113.4 392.9h0.9v0.9h-0.9zM101.9 391.0h0.9v0.9h-0.9zM111.1 377.8h0.9v0.9h-0.9zM101.6 388.9h0.9v0.9h-0.9zM100.6 387.8h0.9v0.9h-0.9zM99.6 380.6h0.9v0.9h-0.9zM101.5 394.4h0.9v0.9h-0.9zM101.4 382.2h0.9v0.9h-0.9zM107.7 377.2h0.9v0.9h-0.9zM115.1 394.4h0.9v0.9h-0.9zM99.2 394.0h0.9v0.9h-0.9zM110.7 387.1h0.9v0.9h-0.9zM100.5 376.6h0.9v0.9h-0.9zM105.5 382.5h0.9v0.9h-0.9zM109.0 386.3h0.9v0.9h-0.9zM105.4 380.1h0.9v0.9h-0.9zM108.3 375.8h0.9v0.9h-0.9zM111.5 386.8h0.9v0.9h-0.9zM112.8 380.1h0.9v0.9h-0.9zM103.7 382.5h0.9v0.9h-0.9zM111.7 374.9h0.9v0.9h-0.9zM105.1 382.8h0.9v0.9h-0.9zM110.3 386.9h0.9v0.9h-0.9zM98.9 391.3h0.9v0.9h-0.9zM114.4 384.5h0.9v0.9h-0.9zM107.6 385.8h0.9v0.9h-0.9zM112.2 394.5h0.9v0.9h-0.9zM101.9 389.7h0.9v0.9h-0.9zM101.1 375.6h0.9v0.9h-0.9zM103.1 383.1h0.9v0.9h-0.9zM105.5 377.8h0.9v0.9h-0.9zM102.3 382.7h0.9v0.9h-0.9zM102.4 377.5h0.9v0.9h-0.9zM100.9 386.0h0.9v0.9h-0.9zM106.2 394.8h0.9v0.9h-0.9zM103.9 390.1h0.9v0.9h-0.9zM106.3 376.7h0.9v0.9h-0.9zM112.2 378.7h0.9v0.9h-0.9zM104.9 378.4h0.9v0.9h-0.9zM98.5 379.6h0.9v0.9h-0.9zM103.1 388.0h0.9v0.9h-0.9zM109.0 394.5h0.9v0.9h-0.9zM100.0 389.1h0.9v0.9h-0.9zM101.2 373.2h0.9v0.9h-0.9zM99.4 379.8h0.9v0.9h-0.9zM100.5 391.9h0.9v0.9h-0.9zM105.0 393.3h0.9v0.9h-0.9zM101.9 390.2h0.9v0.9h-0.9zM110.6 390.6h0.9v0.9h-0.9zM101.7 389.0h0.9v0.9h-0.9zM106.5 377.5h0.9v0.9h-0.9zM102.9 376.1h0.9v0.9h-0.9zM106.8 385.1h0.9v0.9h-0.9zM107.8 392.0h0.9v0.9h-0.9zM105.8 391.6h0.9v0.9h-0.9zM103.8 376.5h0.9v0.9h-0.9zM109.3 386.1h0.9v0.9h-0.9zM106.2 373.4h0.9v0.9h-0.9zM110.5 391.7h0.9v0.9h-0.9zM104.2 391.0h0.9v0.9h-0.9zM101.6 386.8h0.9v0.9h-0.9zM112.4 382.6h0.9v0.9h-0.9zM109.8 377.8h0.9v0.9h-0.9zM103.0 390.3h0.9v0.9h-0.9zM99.0 384.1h0.9v0.9h-0.9zM99.3 379.2h0.9v0.9h-0.9zM113.7 389.3h0.9v0.9h-0.9zM113.5 385.0h0.9v0.9h-0.9zM109.8 375.2h0.9v0.9h-0.9zM109.1 374.2h0.9v0.9h-0.9zM102.4 394.6h0.9v0.9h-0.9zM109.1 392.3h0.9v0.9h-0.9zM108.1 382.9h0.9v0.9h-0.9zM99.3 377.5h0.9v0.9h-0.9zM111.4 380.5h0.9v0.9h-0.9zM114.8 371.8h0.9v0.9h-0.9zM109.6 372.0h0.9v0.9h-0.9zM98.5 394.8h0.9v0.9h-0.9zM100.2 374.7h0.9v0.9h-0.9zM110.8 377.2h0.9v0.9h-0.9zM99.5 391.1h0.9v0.9h-0.9zM111.6 389.3h0.9v0.9h-0.9zM106.7 394.8h0.9v0.9h-0.9zM110.9 387.1h0.9v0.9h-0.9zM112.9 389.4h0.9v0.9h-0.9zM101.7 374.4h0.9v0.9h-0.9zM104.3 388.0h0.9v0.9h-0.9zM101.1 387.2h0.9v0.9h-0.9zM108.8 391.3h0.9v0.9h-0.9zM114.8 375.3h0.9v0.9h-0.9zM100.3 392.0h0.9v0.9h-0.9zM103.1 390.2h0.9v0.9h-0.9zM108.6 394.4h0.9v0.9h-0.9zM104.7 392.1h0.9v0.9h-0.9zM112.3 376.8h0.9v0.9h-0.9zM104.9 392.3h0.9v0.9h-0.9zM99.7 391.3h0.9v0.9h-0.9zM108.1 393.6h0.9v0.9h-0.9zM110.6 372.1h0.9v0.9h-0.9zM108.1 389.1h0.9v0.9h-0.9zM114.5 388.9h0.9v0.9h-0.9zM106.6 391.0h0.9v0.9h-0.9zM111.8 391.1h0.9v0.9h-0.9zM111.8 394.9h0.9v0.9h-0.9zM113.1 384.9h0.9v0.9h-0.9zM101.8 390.2h0.9v0.9h-0.9zM104.2 384.5h0.9v0.9h-0.9zM102.7 383.2h0.9v0.9h-0.9zM99.7 376.7h0.9v0.9h-0.9zM108.4 373.2h0.9v0.9h-0.9zM100.1 385.0h0.9v0.9h-0.9zM108.1 384.0h0.9v0.9h-0.9zM114.8 392.8h0.9v0.9h-0.9zM103.2 377.8h0.9v0.9h-0.9zM100.5 393.7h0.9v0.9h-0.9zM107.4 372.6h0.9v0.9h-0.9zM102.2 394.4h0.9v0.9h-0.9zM109.5 375.8h0.9v0.9h-0.9zM115.4 369.6h0.9v0.9h-0.9zM113.7 388.9h0.9v0.9h-0.9zM109.7 374.5h0.9v0.9h-0.9zM112.1 377.0h0.9v0.9h-0.9zM108.6 378.8h0.9v0.9h-0.9zM103.3 378.3h0.9v0.9h-0.9zM103.0 375.3h0.9v0.9h-0.9zM110.8 394.5h0.9v0.9h-0.9zM103.2 392.5h0.9v0.9h-0.9zM100.7 394.7h0.9v0.9h-0.9zM112.5 377.7h0.9v0.9h-0.9zM111.9 374.0h0.9v0.9h-0.9zM103.0 386.7h0.9v0.9h-0.9zM101.2 382.6h0.9v0.9h-0.9zM101.0 383.9h0.9v0.9h-0.9zM100.9 394.0h0.9v0.9h-0.9zM100.6 393.7h0.9v0.9h-0.9zM110.1 379.3h0.9v0.9h-0.9zM115.8 376.2h0.9v0.9h-0.9zM114.6 377.6h0.9v0.9h-0.9zM116.1 377.9h0.9v0.9h-0.9zM101.8 385.7h0.9v0.9h-0.9zM100.7 380.3h0.9v0.9h-0.9zM108.5 390.9h0.9v0.9h-0.9zM110.7 373.2h0.9v0.9h-0.9zM108.5 376.5h0.9v0.9h-0.9zM108.7 383.6h0.9v0.9h-0.9zM102.7 383.6h0.9v0.9h-0.9zM111.7 379.5h0.9v0.9h-0.9zM113.3 368.8h0.9v0.9h-0.9zM113.1 376.9h0.9v0.9h-0.9zM101.9 376.7h0.9v0.9h-0.9zM104.8 384.9h0.9v0.9h-0.9zM105.9 389.2h0.9v0.9h-0.9zM112.8 387.6h0.9v0.9h-0.9zM105.0 392.6h0.9v0.9h-0.9zM114.2 383.4h0.9v0.9h-0.9zM109.0 377.2h0.9v0.9h-0.9zM101.9 392.5h0.9v0.9h-0.9zM99.7 380.2h0.9v0.9h-0.9zM98.3 385.3h0.9v0.9h-0.9zM111.3 390.2h0.9v0.9h-0.9zM99.7 386.5h0.9v0.9h-0.9zM103.6 377.3h0.9v0.9h-0.9zM108.8 384.9h0.9v0.9h-0.9zM104.3 386.2h0.9v0.9h-0.9zM106.1 379.6h0.9v0.9h-0.9zM113.0 390.8h0.9v0.9h-0.9zM98.2 394.3h0.9v0.9h-0.9zM102.1 382.8h0.9v0.9h-0.9zM108.1 384.4h0.9v0.9h-0.9zM99.7 393.7h0.9v0.9h-0.9zM113.9 391.3h0.9v0.9h-0.9zM114.3 376.6h0.9v0.9h-0.9zM109.1 383.4h0.9v0.9h-0.9zM114.7 387.4h0.9v0.9h-0.9zM99.5 384.2h0.9v0.9h-0.9zM102.5 377.5h0.9v0.9h-0.9zM100.9 384.0h0.9v0.9h-0.9zM103.4 386.3h0.9v0.9h-0.9zM112.4 385.9h0.9v0.9h-0.9zM101.8 384.8h0.9v0.9h-0.9zM108.6 377.5h0.9v0.9h-0.9zM101.8 386.9h0.9v0.9h-0.9zM98.1 382.4h0.9v0.9h-0.9zM103.6 374.2h0.9v0.9h-0.9zM113.2 379.9h0.9v0.9h-0.9zM106.0 377.2h0.9v0.9h-0.9zM114.9 377.3h0.9v0.9h-0.9zM104.2 391.1h0.9v0.9h-0.9zM111.7 389.1h0.9v0.9h-0.9zM110.6 388.9h0.9v0.9h-0.9zM114.8 370.7h0.9v0.9h-0.9zM111.1 394.3h0.9v0.9h-0.9zM107.5 394.0h0.9v0.9h-0.9zM108.5 383.6h0.9v0.9h-0.9zM110.7 385.8h0.9v0.9h-0.9zM104.7 394.4h0.9v0.9h-0.9zM106.7 379.6h0.9v0.9h-0.9zM100.4 375.9h0.9v0.9h-0.9zM113.8 393.7h0.9v0.9h-0.9zM115.0 394.8h0.9v0.9h-0.9zM99.3 386.0h0.9v0.9h-0.9zM114.3 394.5h0.9v0.9h-0.9zM106.6 381.3h0.9v0.9h-0.9zM104.2 394.2h0.9v0.9h-0.9zM109.8 380.2h0.9v0.9h-0.9zM104.7 392.6h0.9v0.9h-0.9zM114.5 386.0h0.9v0.9h-0.9zM115.2 392.2h0.9v0.9h-0.9zM108.1 390.1h0.9v0.9h-0.9zM113.6 380.4h0.9v0.9h-0.9zM101.0 386.7h0.9v0.9h-0.9zM102.0 388.8h0.9v0.9h-0.9zM105.3 373.7h0.9v0.9h-0.9zM105.6 387.8h0.9v0.9h-0.9zM98.2 389.7h0.9v0.9h-0.9zM110.1 386.0h0.9v0.9h-0.9zM102.7 394.8h0.9v0.9h-0.9zM108.1 375.7h0.9v0.9h-0.9zM111.7 374.9h0.9v0.9h-0.9zM107.7 389.8h0.9v0.9h-0.9zM100.4 381.7h0.9v0.9h-0.9zM110.5 377.9h0.9v0.9h-0.9zM100.7 381.2h0.9v0.9h-0.9zM106.1 393.7h0.9v0.9h-0.9zM109.0 386.3h0.9v0.9h-0.9zM103.9 393.5h0.9v0.9h-0.9zM104.6 378.7h0.9v0.9h-0.9zM109.4 394.4h0.9v0.9h-0.9zM102.0 380.1h0.9v0.9h-0.9zM104.2 390.3h0.9v0.9h-0.9zM102.9 378.9h0.9v0.9h-0.9zM115.0 373.4h0.9v0.9h-0.9zM107.2 374.3h0.9v0.9h-0.9zM100.8 378.8h0.9v0.9h-0.9zM101.7 375.8h0.9v0.9h-0.9zM109.7 389.2h0.9v0.9h-0.9zM100.0 379.9h0.9v0.9h-0.9zM106.5 374.1h0.9v0.9h-0.9zM104.5 393.9h0.9v0.9h-0.9zM102.6 378.4h0.9v0.9h-0.9zM106.8 379.7h0.9v0.9h-0.9zM113.5 375.3h0.9v0.9h-0.9zM109.1 376.6h0.9v0.9h-0.9zM106.9 390.3h0.9v0.9h-0.9zM104.7 378.8h0.9v0.9h-0.9zM105.4 392.9h0.9v0.9h-0.9zM103.9 385.6h0.9v0.9h-0.9zM104.3 374.6h0.9v0.9h-0.9zM103.9 390.2h0.9v0.9h-0.9zM102.4 392.5h0.9v0.9h-0.9zM113.8 376.2h0.9v0.9h-0.9zM98.7 381.1h0.9v0.9h-0.9zM105.1 377.0h0.9v0.9h-0.9zM112.6 375.9h0.9v0.9h-0.9zM101.2 388.8h0.9v0.9h-0.9zM99.5 379.4h0.9v0.9h-0.9zM103.6 380.7h0.9v0.9h-0.9zM109.8 387.3h0.9v0.9h-0.9zM110.7 389.2h0.9v0.9h-0.9zM105.4 390.8h0.9v0.9h-0.9zM104.3 387.6h0.9v0.9h-0.9zM99.3 392.2h0.9v0.9h-0.9zM102.8 374.6h0.9v0.9h-0.9zM109.7 392.9h0.9v0.9h-0.9zM104.3 384.4h0.9v0.9h-0.9zM114.1 389.6h0.9v0.9h-0.9zM109.1 388.6h0.9v0.9h-0.9zM104.7 375.7h0.9v0.9h-0.9zM112.3 391.4h0.9v0.9h-0.9zM101.7 387.2h0.9v0.9h-0.9zM107.8 380.8h0.9v0.9h-0.9zM105.7 376.8h0.9v0.9h-0.9zM110.4 376.0h0.9v0.9h-0.9zM106.2 381.6h0.9v0.9h-0.9zM103.8 385.7h0.9v0.9h-0.9zM104.5 389.1h0.9v0.9h-0.9zM101.1 383.0h0.9v0.9h-0.9zM111.7 377.1h0.9v0.9h-0.9zM104.7 379.8h0.9v0.9h-0.9zM101.7 375.4h0.9v0.9h-0.9zM103.6 377.4h0.9v0.9h-0.9zM101.3 390.9h0.9v0.9h-0.9zM99.6 383.6h0.9v0.9h-0.9zM99.8 379.0h0.9v0.9h-0.9zM108.9 387.3h0.9v0.9h-0.9zM109.9 376.5h0.9v0.9h-0.9zM102.8 391.2h0.9v0.9h-0.9zM112.8 387.2h0.9v0.9h-0.9zM113.2 390.0h0.9v0.9h-0.9zM112.7 373.5h0.9v0.9h-0.9zM112.4 385.3h0.9v0.9h-0.9zM105.0 373.0h0.9v0.9h-0.9zM107.6 387.3h0.9v0.9h-0.9zM114.5 382.0h0.9v0.9h-0.9zM101.0 377.7h0.9v0.9h-0.9zM100.6 379.1h0.9v0.9h-0.9zM111.8 392.3h0.9v0.9h-0.9zM111.6 387.7h0.9v0.9h-0.9zM106.9 383.1h0.9v0.9h-0.9zM110.4 372.5h0.9v0.9h-0.9zM103.0 382.0h0.9v0.9h-0.9zM102.2 384.7h0.9v0.9h-0.9zM116.0 394.0h0.9v0.9h-0.9zM114.3 369.2h0.9v0.9h-0.9zM109.7 384.6h0.9v0.9h-0.9zM114.1 377.4h0.9v0.9h-0.9zM104.5 377.2h0.9v0.9h-0.9zM109.9 387.6h0.9v0.9h-0.9zM104.4 384.6h0.9v0.9h-0.9zM108.0 376.4h0.9v0.9h-0.9zM113.5 392.2h0.9v0.9h-0.9zM103.3 380.0h0.9v0.9h-0.9zM106.5 385.5h0.9v0.9h-0.9zM99.8 376.5h0.9v0.9h-0.9zM106.0 393.4h0.9v0.9h-0.9zM107.7 372.5h0.9v0.9h-0.9zM115.4 390.8h0.9v0.9h-0.9zM105.8 388.4h0.9v0.9h-0.9zM112.3 372.9h0.9v0.9h-0.9zM102.5 387.2h0.9v0.9h-0.9zM101.9 385.2h0.9v0.9h-0.9zM113.0 382.8h0.9v0.9h-0.9zM114.4 388.6h0.9v0.9h-0.9zM104.4 390.2h0.9v0.9h-0.9zM111.5 373.2h0.9v0.9h-0.9zM108.0 393.6h0.9v0.9h-0.9zM110.0 382.8h0.9v0.9h-0.9zM112.6 370.0h0.9v0.9h-0.9zM100.5 385.8h0.9v0.9h-0.9zM103.3 375.7h0.9v0.9h-0.9zM112.7 390.5h0.9v0.9h-0.9zM115.2 372.9h0.9v0.9h-0.9zM107.7 371.0h0.9v0.9h-0.9zM101.9 381.0h0.9v0.9h-0.9zM107.2 383.4h0.9v0.9h-0.9zM113.3 377.9h0.9v0.9h-0.9zM102.7 373.8h0.9v0.9h-0.9zM101.0 387.9h0.9v0.9h-0.9zM105.1 386.3h0.9v0.9h-0.9zM99.7 382.1h0.9v0.9h-0.9zM102.8 386.4h0.9v0.9h-0.9zM109.0 371.0h0.9v0.9h-0.9zM108.2 388.1h0.9v0.9h-0.9zM109.0 377.3h0.9v0.9h-0.9zM112.9 385.6h0.9v0.9h-0.9zM103.8 382.9h0.9v0.9h-0.9zM109.0 382.5h0.9v0.9h-0.9zM106.5 378.5h0.9v0.9h-0.9zM104.5 393.1h0.9v0.9h-0.9zM105.6 380.2h0.9v0.9h-0.9zM101.8 381.3h0.9v0.9h-0.9zM109.8 378.5h0.9v0.9h-0.9zM114.1 373.7h0.9v0.9h-0.9zM108.9 390.3h0.9v0.9h-0.9zM106.0 383.5h0.9v0.9h-0.9zM113.8 370.8h0.9v0.9h-0.9zM101.2 381.0h0.9v0.9h-0.9zM105.5 394.4h0.9v0.9h-0.9zM109.6 393.9h0.9v0.9h-0.9zM104.5 385.9h0.9v0.9h-0.9zM112.7 373.2h0.9v0.9h-0.9zM104.1 380.7h0.9v0.9h-0.9zM110.0 381.6h0.9v0.9h-0.9zM99.0 384.8h0.9v0.9h-0.9zM108.7 373.0h0.9v0.9h-0.9zM113.0 369.7h0.9v0.9h-0.9zM108.9 372.5h0.9v0.9h-0.9zM101.7 377.7h0.9v0.9h-0.9zM111.9 386.0h0.9v0.9h-0.9zM107.6 378.4h0.9v0.9h-0.9zM111.1 391.8h0.9v0.9h-0.9zM101.3 388.6h0.9v0.9h-0.9zM110.8 379.1h0.9v0.9h-0.9zM111.5 373.8h0.9v0.9h-0.9zM98.9 379.1h0.9v0.9h-0.9zM114.4 374.3h0.9v0.9h-0.9zM111.4 370.6h0.9v0.9h-0.9zM111.9 386.4h0.9v0.9h-0.9zM108.9 384.4h0.9v0.9h-0.9zM104.2 389.6h0.9v0.9h-0.9zM99.3 392.2h0.9v0.9h-0.9zM99.1 393.8h0.9v0.9h-0.9zM114.4 375.2h0.9v0.9h-0.9zM102.7 378.7h0.9v0.9h-0.9zM101.9 392.7h0.9v0.9h-0.9zM113.3 393.3h0.9v0.9h-0.9zM103.0 394.8h0.9v0.9h-0.9zM101.0 382.8h0.9v0.9h-0.9zM108.7 392.6h0.9v0.9h-0.9zM104.8 374.8h0.9v0.9h-0.9zM113.7 369.9h0.9v0.9h-0.9zM100.5 394.1h0.9v0.9h-0.9zM101.1 377.5h0.9v0.9h-0.9zM110.6 394.5h0.9v0.9h-0.9zM111.8 368.7h0.9v0.9h-0.9zM102.7 372.8h0.9v0.9h-0.9zM107.2 375.7h0.9v0.9h-0.9zM99.3 393.4h0.9v0.9h-0.9zM100.3 383.9h0.9v0.9h-0.9zM101.4 389.7h0.9v0.9h-0.9zM107.4 384.6h0.9v0.9h-0.9zM113.6 373.1h0.9v0.9h-0.9zM103.2 385.1h0.9v0.9h-0.9zM105.0 372.7h0.9v0.9h-0.9zM109.9 383.4h0.9v0.9h-0.9zM111.3 388.5h0.9v0.9h-0.9zM104.7 377.1h0.9v0.9h-0.9zM116.3 394.0h0.9v0.9h-0.9zM102.5 378.4h0.9v0.9h-0.9zM102.6 392.7h0.9v0.9h-0.9zM114.8 378.2h0.9v0.9h-0.9zM98.5 383.6h0.9v0.9h-0.9zM109.0 386.8h0.9v0.9h-0.9zM110.6 381.9h0.9v0.9h-0.9zM106.9 378.6h0.9v0.9h-0.9zM108.9 386.2h0.9v0.9h-0.9zM103.5 389.0h0.9v0.9h-0.9zM107.1 375.5h0.9v0.9h-0.9zM113.8 383.1h0.9v0.9h-0.9zM112.4 392.1h0.9v0.9h-0.9zM105.8 391.8h0.9v0.9h-0.9zM113.8 391.8h0.9v0.9h-0.9zM112.7 376.8h0.9v0.9h-0.9zM99.7 387.6h0.9v0.9h-0.9zM109.8 391.4h0.9v0.9h-0.9zM111.9 381.0h0.9v0.9h-0.9zM107.4 381.2h0.9v0.9h-0.9zM105.4 386.1h0.9v0.9h-0.9zM99.8 382.5h0.9v0.9h-0.9zM104.1 377.6h0.9v0.9h-0.9zM109.6 380.9h0.9v0.9h-0.9zM111.7 370.5h0.9v0.9h-0.9zM105.5 380.9h0.9v0.9h-0.9zM104.9 379.3h0.9v0.9h-0.9zM104.1 376.3h0.9v0.9h-0.9zM115.0 385.8h0.9v0.9h-0.9zM104.9 382.5h0.9v0.9h-0.9zM106.4 390.3h0.9v0.9h-0.9zM98.5 384.2h0.9v0.9h-0.9zM112.4 393.8h0.9v0.9h-0.9zM105.4 392.0h0.9v0.9h-0.9zM109.9 370.6h0.9v0.9h-0.9zM109.3 389.6h0.9v0.9h-0.9zM100.6 392.6h0.9v0.9h-0.9zM101.0 387.7h0.9v0.9h-0.9zM99.1 383.6h0.9v0.9h-0.9zM99.2 386.2h0.9v0.9h-0.9zM116.0 370.1h0.9v0.9h-0.9zM103.2 380.3h0.9v0.9h-0.9zM112.6 380.3h0.9v0.9h-0.9zM99.0 394.2h0.9v0.9h-0.9zM113.1 371.7h0.9v0.9h-0.9zM107.3 384.6h0.9v0.9h-0.9zM107.9 378.1h0.9v0.9h-0.9zM114.1 377.4h0.9v0.9h-0.9zM107.1 380.6h0.9v0.9h-0.9zM103.3 388.5h0.9v0.9h-0.9zM111.8 393.6h0.9v0.9h-0.9zM106.2 382.3h0.9v0.9h-0.9zM110.4 373.2h0.9v0.9h-0.9zM109.2 387.5h0.9v0.9h-0.9zM111.4 387.6h0.9v0.9h-0.9zM103.8 378.9h0.9v0.9h-0.9zM114.3 372.1h0.9v0.9h-0.9zM112.4 386.7h0.9v0.9h-0.9zM103.5 375.9h0.9v0.9h-0.9zM99.4 392.2h0.9v0.9h-0.9zM103.6 382.2h0.9v0.9h-0.9zM108.7 381.5h0.9v0.9h-0.9zM105.7 387.8h0.9v0.9h-0.9zM102.1 384.1h0.9v0.9h-0.9zM110.3 374.3h0.9v0.9h-0.9zM114.2 378.3h0.9v0.9h-0.9zM110.2 373.1h0.9v0.9h-0.9zM107.2 383.7h0.9v0.9h-0.9zM100.3 394.5h0.9v0.9h-0.9zM113.1 373.1h0.9v0.9h-0.9zM109.2 394.4h0.9v0.9h-0.9zM110.2 382.4h0.9v0.9h-0.9zM102.7 390.5h0.9v0.9h-0.9zM104.2 376.0h0.9v0.9h-0.9zM108.1 381.3h0.9v0.9h-0.9zM98.9 388.7h0.9v0.9h-0.9zM100.3 382.2h0.9v0.9h-0.9zM104.7 382.0h0.9v0.9h-0.9zM101.9 378.0h0.9v0.9h-0.9zM106.7 383.2h0.9v0.9h-0.9zM100.7 382.1h0.9v0.9h-0.9zM101.6 377.5h0.9v0.9h-0.9zM103.0 392.5h0.9v0.9h-0.9zM99.3 391.2h0.9v0.9h-0.9zM108.1 389.1h0.9v0.9h-0.9zM101.1 383.2h0.9v0.9h-0.9zM107.1 376.4h0.9v0.9h-0.9zM108.5 392.3h0.9v0.9h-0.9zM111.0 386.1h0.9v0.9h-0.9zM116.0 387.9h0.9v0.9h-0.9zM111.9 383.8h0.9v0.9h-0.9zM115.4 380.1h0.9v0.9h-0.9zM105.8 390.2h0.9v0.9h-0.9zM110.4 375.1h0.9v0.9h-0.9zM115.7 380.8h0.9v0.9h-0.9zM112.5 385.4h0.9v0.9h-0.9zM101.2 389.7h0.9v0.9h-0.9zM100.0 377.2h0.9v0.9h-0.9zM114.6 370.8h0.9v0.9h-0.9zM113.7 388.2h0.9v0.9h-0.9zM113.0 379.6h0.9v0.9h-0.9zM112.8 375.1h0.9v0.9h-0.9zM113.7 371.8h0.9v0.9h-0.9zM115.1 390.7h0.9v0.9h-0.9zM102.6 380.3h0.9v0.9h-0.9zM107.6 388.0h0.9v0.9h-0.9zM105.4 386.5h0.9v0.9h-0.9zM114.8 370.1h0.9v0.9h-0.9zM109.9 384.9h0.9v0.9h-0.9zM112.8 382.4h0.9v0.9h-0.9zM99.5 385.3h0.9v0.9h-0.9zM108.4 377.0h0.9v0.9h-0.9zM104.9 378.2h0.9v0.9h-0.9zM99.9 386.1h0.9v0.9h-0.9zM109.9 387.5h0.9v0.9h-0.9zM99.4 380.1h0.9v0.9h-0.9zM114.6 393.7h0.9v0.9h-0.9zM109.3 382.8h0.9v0.9h-0.9zM113.4 374.3h0.9v0.9h-0.9zM113.0 370.8h0.9v0.9h-0.9zM102.0 391.4h0.9v0.9h-0.9zM102.7 386.5h0.9v0.9h-0.9zM112.8 394.0h0.9v0.9h-0.9zM113.7 385.5h0.9v0.9h-0.9zM106.6 387.6h0.9v0.9h-0.9zM108.9 389.0h0.9v0.9h-0.9zM99.9 385.1h0.9v0.9h-0.9zM106.2 387.1h0.9v0.9h-0.9zM111.8 373.9h0.9v0.9h-0.9zM115.0 384.3h0.9v0.9h-0.9zM108.8 390.1h0.9v0.9h-0.9zM109.3 380.3h0.9v0.9h-0.9zM106.6 389.2h0.9v0.9h-0.9zM112.0 394.0h0.9v0.9h-0.9zM110.5 373.8h0.9v0.9h-0.9zM108.7 378.0h0.9v0.9h-0.9zM99.9 378.1h0.9v0.9h-0.9zM111.3 372.5h0.9v0.9h-0.9zM101.3 381.3h0.9v0.9h-0.9zM103.8 379.5h0.9v0.9h-0.9zM104.3 381.3h0.9v0.9h-0.9zM102.4 391.7h0.9v0.9h-0.9zM109.5 373.8h0.9v0.9h-0.9zM110.8 387.9h0.9v0.9h-0.9zM107.4 379.8h0.9v0.9h-0.9zM112.6 385.2h0.9v0.9h-0.9zM104.9 378.2h0.9v0.9h-0.9zM98.9 388.7h0.9v0.9h-0.9zM105.6 379.2h0.9v0.9h-0.9zM110.2 387.9h0.9v0.9h-0.9zM110.8 391.2h0.9v0.9h-0.9zM103.6 382.7h0.9v0.9h-0.9zM102.1 384.4h0.9v0.9h-0.9zM110.2 378.9h0.9v0.9h-0.9zM99.1 393.7h0.9v0.9h-0.9zM109.5 384.8h0.9v0.9h-0.9zM103.7 390.6h0.9v0.9h-0.9zM100.7 383.5h0.9v0.9h-0.9zM114.5 390.0h0.9v0.9h-0.9zM109.8 388.1h0.9v0.9h-0.9zM110.2 371.8h0.9v0.9h-0.9zM109.0 375.6h0.9v0.9h-0.9zM111.7 373.4h0.9v0.9h-0.9zM112.8 386.3h0.9v0.9h-0.9zM100.8 384.5h0.9v0.9h-0.9zM108.0 391.5h0.9v0.9h-0.9zM100.5 383.6h0.9v0.9h-0.9zM103.8 391.0h0.9v0.9h-0.9zM102.6 383.9h0.9v0.9h-0.9zM99.0 385.5h0.9v0.9h-0.9zM106.4 390.1h0.9v0.9h-0.9zM108.0 386.8h0.9v0.9h-0.9zM103.5 388.7h0.9v0.9h-0.9zM114.2 374.1h0.9v0.9h-0.9zM107.0 389.4h0.9v0.9h-0.9zM110.2 375.8h0.9v0.9h-0.9zM105.3 390.6h0.9v0.9h-0.9zM107.0 389.2h0.9v0.9h-0.9zM101.8 391.0h0.9v0.9h-0.9zM115.1 390.9h0.9v0.9h-0.9zM110.8 375.3h0.9v0.9h-0.9zM99.2 386.9h0.9v0.9h-0.9zM102.8 388.4h0.9v0.9h-0.9zM115.4 373.7h0.9v0.9h-0.9zM105.3 382.0h0.9v0.9h-0.9zM100.5 391.7h0.9v0.9h-0.9zM107.7 390.9h0.9v0.9h-0.9zM106.8 374.2h0.9v0.9h-0.9zM107.8 377.8h0.9v0.9h-0.9zM99.5 393.8h0.9v0.9h-0.9zM114.5 380.1h0.9v0.9h-0.9zM112.5 369.6h0.9v0.9h-0.9zM101.7 373.8h0.9v0.9h-0.9zM112.8 369.5h0.9v0.9h-0.9zM113.5 377.9h0.9v0.9h-0.9zM109.6 386.1h0.9v0.9h-0.9zM102.1 385.0h0.9v0.9h-0.9zM100.1 378.7h0.9v0.9h-0.9zM105.7 388.3h0.9v0.9h-0.9zM106.7 374.2h0.9v0.9h-0.9zM105.9 390.3h0.9v0.9h-0.9zM102.1 382.9h0.9v0.9h-0.9zM101.5 374.8h0.9v0.9h-0.9zM102.9 382.4h0.9v0.9h-0.9zM112.3 387.7h0.9v0.9h-0.9zM100.3 393.6h0.9v0.9h-0.9zM99.5 394.8h0.9v0.9h-0.9zM101.7 385.7h0.9v0.9h-0.9zM114.2 370.3h0.9v0.9h-0.9zM112.5 390.3h0.9v0.9h-0.9zM101.8 384.7h0.9v0.9h-0.9zM100.6 391.8h0.9v0.9h-0.9zM98.9 391.1h0.9v0.9h-0.9zM106.6 390.1h0.9v0.9h-0.9zM100.4 381.4h0.9v0.9h-0.9zM106.1 373.0h0.9v0.9h-0.9zM112.9 371.6h0.9v0.9h-0.9zM109.8 374.9h0.9v0.9h-0.9zM114.8 371.1h0.9v0.9h-0.9zM111.6 370.9h0.9v0.9h-0.9zM104.5 378.4h0.9v0.9h-0.9zM109.7 370.8h0.9v0.9h-0.9zM100.4 388.7h0.9v0.9h-0.9zM106.9 387.0h0.9v0.9h-0.9zM110.3 389.9h0.9v0.9h-0.9zM114.5 368.1h0.9v0.9h-0.9zM110.5 391.9h0.9v0.9h-0.9zM102.1 389.1h0.9v0.9h-0.9zM102.7 382.1h0.9v0.9h-0.9zM98.8 390.1h0.9v0.9h-0.9zM114.5 393.6h0.9v0.9h-0.9zM111.3 381.8h0.9v0.9h-0.9zM104.2 391.4h0.9v0.9h-0.9zM111.9 391.4h0.9v0.9h-0.9zM103.5 384.7h0.9v0.9h-0.9zM115.3 387.7h0.9v0.9h-0.9zM108.2 393.4h0.9v0.9h-0.9zM110.5 375.9h0.9v0.9h-0.9zM103.5 379.2h0.9v0.9h-0.9zM111.1 381.5h0.9v0.9h-0.9zM109.9 387.9h0.9v0.9h-0.9zM102.7 389.4h0.9v0.9h-0.9zM102.0 391.3h0.9v0.9h-0.9zM108.2 387.2h0.9v0.9h-0.9zM103.9 373.8h0.9v0.9h-0.9zM104.8 384.8h0.9v0.9h-0.9zM114.9 388.8h0.9v0.9h-0.9zM101.9 383.7h0.9v0.9h-0.9zM109.5 374.0h0.9v0.9h-0.9zM113.9 371.9h0.9v0.9h-0.9zM112.8 393.1h0.9v0.9h-0.9zM110.0 375.8h0.9v0.9h-0.9zM114.4 386.3h0.9v0.9h-0.9zM109.9 373.9h0.9v0.9h-0.9zM114.8 385.5h0.9v0.9h-0.9zM102.4 392.8h0.9v0.9h-0.9zM101.2 389.7h0.9v0.9h-0.9zM101.0 381.5h0.9v0.9h-0.9zM107.7 391.6h0.9v0.9h-0.9zM102.8 380.1h0.9v0.9h-0.9zM101.9 383.3h0.9v0.9h-0.9zM108.5 373.1h0.9v0.9h-0.9zM110.0 370.8h0.9v0.9h-0.9zM106.4 390.0h0.9v0.9h-0.9zM100.5 379.3h0.9v0.9h-0.9zM102.2 375.7h0.9v0.9h-0.9zM103.5 386.5h0.9v0.9h-0.9zM99.9 388.7h0.9v0.9h-0.9zM114.3 371.4h0.9v0.9h-0.9zM114.3 373.5h0.9v0.9h-0.9zM113.3 377.0h0.9v0.9h-0.9zM113.5 371.8h0.9v0.9h-0.9zM106.1 388.8h0.9v0.9h-0.9zM105.7 386.2h0.9v0.9h-0.9zM102.3 385.4h0.9v0.9h-0.9zM98.1 387.0h0.9v0.9h-0.9zM101.8 388.4h0.9v0.9h-0.9zM101.4 387.6h0.9v0.9h-0.9zM112.4 376.5h0.9v0.9h-0.9zM101.5 374.6h0.9v0.9h-0.9zM102.7 377.2h0.9v0.9h-0.9zM101.8 393.1h0.9v0.9h-0.9zM105.3 394.6h0.9v0.9h-0.9zM107.6 376.9h0.9v0.9h-0.9zM113.3 386.1h0.9v0.9h-0.9zM102.8 382.5h0.9v0.9h-0.9zM104.3 381.4h0.9v0.9h-0.9zM101.3 387.5h0.9v0.9h-0.9zM102.3 390.1h0.9v0.9h-0.9zM101.4 388.0h0.9v0.9h-0.9zM114.0 374.0h0.9v0.9h-0.9zM108.0 393.6h0.9v0.9h-0.9zM110.6 375.1h0.9v0.9h-0.9zM114.5 393.9h0.9v0.9h-0.9zM100.7 380.9h0.9v0.9h-0.9zM115.4 382.2h0.9v0.9h-0.9zM113.3 381.4h0.9v0.9h-0.9zM100.5 388.9h0.9v0.9h-0.9zM113.2 372.8h0.9v0.9h-0.9zM100.3 377.7h0.9v0.9h-0.9zM110.3 380.8h0.9v0.9h-0.9zM107.4 389.3h0.9v0.9h-0.9zM108.4 391.4h0.9v0.9h-0.9zM97.9 390.4h0.9v0.9h-0.9zM110.1 393.3h0.9v0.9h-0.9zM101.3 380.1h0.9v0.9h-0.9zM106.5 377.1h0.9v0.9h-0.9zM110.6 391.4h0.9v0.9h-0.9zM100.7 381.1h0.9v0.9h-0.9zM99.4 384.8h0.9v0.9h-0.9zM98.8 385.9h0.9v0.9h-0.9zM104.4 375.9h0.9v0.9h-0.9zM107.5 375.9h0.9v0.9h-0.9zM105.7 391.7h0.9v0.9h-0.9zM109.0 393.8h0.9v0.9h-0.9zM101.9 378.7h0.9v0.9h-0.9zM111.8 391.4h0.9v0.9h-0.9zM108.6 384.7h0.9v0.9h-0.9zM110.9 371.0h0.9v0.9h-0.9zM101.4 379.2h0.9v0.9h-0.9zM102.7 370.8h0.9v0.9h-0.9zM101.7 376.2h0.9v0.9h-0.9zM103.8 382.6h0.9v0.9h-0.9zM106.7 374.6h0.9v0.9h-0.9zM101.9 390.3h0.9v0.9h-0.9zM103.2 379.4h0.9v0.9h-0.9zM107.3 388.0h0.9v0.9h-0.9zM99.8 384.6h0.9v0.9h-0.9zM110.9 393.1h0.9v0.9h-0.9zM99.8 389.4h0.9v0.9h-0.9zM112.3 371.4h0.9v0.9h-0.9zM109.6 375.5h0.9v0.9h-0.9zM109.0 378.2h0.9v0.9h-0.9zM102.4 390.6h0.9v0.9h-0.9zM99.0 380.5h0.9v0.9h-0.9zM109.2 392.0h0.9v0.9h-0.9zM101.7 381.5h0.9v0.9h-0.9zM101.3 394.3h0.9v0.9h-0.9zM111.6 377.6h0.9v0.9h-0.9zM103.9 386.7h0.9v0.9h-0.9zM100.6 378.3h0.9v0.9h-0.9zM114.8 373.3h0.9v0.9h-0.9zM99.9 382.5h0.9v0.9h-0.9zM109.9 373.1h0.9v0.9h-0.9zM99.3 381.3h0.9v0.9h-0.9zM110.0 383.8h0.9v0.9h-0.9zM110.7 380.7h0.9v0.9h-0.9zM115.0 370.9h0.9v0.9h-0.9zM106.0 372.6h0.9v0.9h-0.9zM115.5 381.0h0.9v0.9h-0.9zM109.0 390.2h0.9v0.9h-0.9zM111.5 380.5h0.9v0.9h-0.9zM100.3 380.8h0.9v0.9h-0.9zM111.8 372.3h0.9v0.9h-0.9zM100.4 377.9h0.9v0.9h-0.9zM101.5 380.4h0.9v0.9h-0.9zM100.7 380.3h0.9v0.9h-0.9zM102.9 391.3h0.9v0.9h-0.9zM107.2 378.4h0.9v0.9h-0.9zM106.3 373.5h0.9v0.9h-0.9zM102.0 391.8h0.9v0.9h-0.9zM104.3 384.8h0.9v0.9h-0.9zM116.0 379.1h0.9v0.9h-0.9zM101.4 377.3h0.9v0.9h-0.9zM106.1 383.8h0.9v0.9h-0.9zM98.7 392.3h0.9v0.9h-0.9zM114.3 393.2h0.9v0.9h-0.9zM102.7 382.5h0.9v0.9h-0.9zM105.2 394.4h0.9v0.9h-0.9zM104.8 388.5h0.9v0.9h-0.9zM103.5 394.7h0.9v0.9h-0.9zM111.0 374.7h0.9v0.9h-0.9zM109.0 376.1h0.9v0.9h-0.9zM107.2 382.1h0.9v0.9h-0.9zM113.5 371.0h0.9v0.9h-0.9zM114.5 384.8h0.9v0.9h-0.9zM99.8 383.5h0.9v0.9h-0.9zM104.5 391.0h0.9v0.9h-0.9zM102.0 377.1h0.9v0.9h-0.9zM105.0 378.5h0.9v0.9h-0.9zM100.5 379.7h0.9v0.9h-0.9zM103.1 382.3h0.9v0.9h-0.9zM113.8 391.6h0.9v0.9h-0.9zM108.8 392.8h0.9v0.9h-0.9zM106.9 393.3h0.9v0.9h-0.9zM110.0 381.0h0.9v0.9h-0.9zM114.8 393.1h0.9v0.9h-0.9zM98.6 389.5h0.9v0.9h-0.9zM106.4 392.5h0.9v0.9h-0.9zM111.8 390.0h0.9v0.9h-0.9zM101.8 391.2h0.9v0.9h-0.9zM101.1 388.4h0.9v0.9h-0.9zM103.1 384.7h0.9v0.9h-0.9zM112.5 386.6h0.9v0.9h-0.9zM111.8 393.2h0.9v0.9h-0.9zM102.6 394.0h0.9v0.9h-0.9zM114.5 393.8h0.9v0.9h-0.9zM108.5 392.5h0.9v0.9h-0.9zM105.4 378.5h0.9v0.9h-0.9zM105.1 374.8h0.9v0.9h-0.9zM98.2 392.5h0.9v0.9h-0.9zM102.5 379.2h0.9v0.9h-0.9zM109.1 385.2h0.9v0.9h-0.9zM110.8 386.7h0.9v0.9h-0.9zM103.8 372.2h0.9v0.9h-0.9zM114.4 371.0h0.9v0.9h-0.9zM112.0 381.3h0.9v0.9h-0.9zM109.9 390.1h0.9v0.9h-0.9zM102.8 383.5h0.9v0.9h-0.9zM109.0 377.3h0.9v0.9h-0.9zM100.1 386.5h0.9v0.9h-0.9zM107.3 376.2h0.9v0.9h-0.9zM108.8 373.7h0.9v0.9h-0.9zM111.0 379.2h0.9v0.9h-0.9zM105.3 383.3h0.9v0.9h-0.9zM101.5 373.2h0.9v0.9h-0.9zM113.0 385.1h0.9v0.9h-0.9zM113.8 378.0h0.9v0.9h-0.9zM107.6 393.1h0.9v0.9h-0.9zM100.3 393.3h0.9v0.9h-0.9zM108.4 393.7h0.9v0.9h-0.9zM107.6 375.0h0.9v0.9h-0.9zM113.9 377.6h0.9v0.9h-0.9zM106.2 393.5h0.9v0.9h-0.9zM103.4 387.3h0.9v0.9h-0.9zM106.4 387.8h0.9v0.9h-0.9zM111.9 381.2h0.9v0.9h-0.9zM105.2 378.4h0.9v0.9h-0.9zM104.3 388.3h0.9v0.9h-0.9zM98.9 392.4h0.9v0.9h-0.9zM101.0 380.6h0.9v0.9h-0.9zM110.8 392.1h0.9v0.9h-0.9zM108.1 393.9h0.9v0.9h-0.9zM106.2 394.5h0.9v0.9h-0.9zM105.9 391.5h0.9v0.9h-0.9zM108.8 372.6h0.9v0.9h-0.9zM101.4 388.2h0.9v0.9h-0.9zM100.6 388.3h0.9v0.9h-0.9zM105.6 378.6h0.9v0.9h-0.9zM115.9 373.1h0.9v0.9h-0.9zM101.8 391.2h0.9v0.9h-0.9zM98.8 375.7h0.9v0.9h-0.9zM106.2 381.5h0.9v0.9h-0.9zM113.2 379.3h0.9v0.9h-0.9zM115.3 381.9h0.9v0.9h-0.9zM101.2 390.4h0.9v0.9h-0.9zM98.9 384.0h0.9v0.9h-0.9zM98.7 388.0h0.9v0.9h-0.9zM108.2 393.8h0.9v0.9h-0.9zM115.5 376.5h0.9v0.9h-0.9zM104.8 393.8h0.9v0.9h-0.9zM112.6 384.5h0.9v0.9h-0.9zM104.0 386.2h0.9v0.9h-0.9zM101.6 379.1h0.9v0.9h-0.9zM115.3 390.7h0.9v0.9h-0.9zM101.1 392.4h0.9v0.9h-0.9zM107.5 375.2h0.9v0.9h-0.9zM112.1 373.5h0.9v0.9h-0.9zM112.6 377.1h0.9v0.9h-0.9zM110.9 382.6h0.9v0.9h-0.9zM111.0 379.2h0.9v0.9h-0.9zM105.9 394.6h0.9v0.9h-0.9zM105.0 389.5h0.9v0.9h-0.9zM106.6 393.9h0.9v0.9h-0.9zM107.2 376.8h0.9v0.9h-0.9zM111.5 385.3h0.9v0.9h-0.9zM111.6 381.1h0.9v0.9h-0.9zM102.8 384.1h0.9v0.9h-0.9zM100.6 373.3h0.9v0.9h-0.9zM105.7 390.0h0.9v0.9h-0.9zM104.7 375.8h0.9v0.9h-0.9zM112.7 383.4h0.9v0.9h-0.9zM104.8 386.2h0.9v0.9h-0.9zM111.9 378.4h0.9v0.9h-0.9zM113.0 387.9h0.9v0.9h-0.9zM108.3 381.9h0.9v0.9h-0.9zM101.0 388.0h0.9v0.9h-0.9zM111.3 392.8h0.9v0.9h-0.9zM115.2 387.0h0.9v0.9h-0.9zM107.7 375.5h0.9v0.9h-0.9zM106.1 381.1h0.9v0.9h-0.9zM108.0 374.0h0.9v0.9h-0.9zM99.8 381.5h0.9v0.9h-0.9zM107.8 376.9h0.9v0.9h-0.9zM100.5 388.3h0.9v0.9h-0.9zM114.5 393.6h0.9v0.9h-0.9zM108.4 387.3h0.9v0.9h-0.9zM104.3 394.7h0.9v0.9h-0.9zM102.9 373.9h0.9v0.9h-0.9zM108.1 375.8h0.9v0.9h-0.9zM112.4 392.5h0.9v0.9h-0.9zM115.1 367.0h0.9v0.9h-0.9zM98.2 383.4h0.9v0.9h-0.9zM108.7 393.7h0.9v0.9h-0.9zM108.6 376.2h0.9v0.9h-0.9zM101.7 394.0h0.9v0.9h-0.9zM103.5 379.8h0.9v0.9h-0.9zM114.4 371.9h0.9v0.9h-0.9zM112.9 389.2h0.9v0.9h-0.9zM103.4 389.3h0.9v0.9h-0.9zM116.4 385.4h0.9v0.9h-0.9zM110.1 386.3h0.9v0.9h-0.9zM104.9 375.6h0.9v0.9h-0.9zM101.6 393.0h0.9v0.9h-0.9zM100.6 386.6h0.9v0.9h-0.9zM105.5 373.9h0.9v0.9h-0.9zM105.8 380.2h0.9v0.9h-0.9zM112.6 382.8h0.9v0.9h-0.9zM104.7 379.8h0.9v0.9h-0.9zM110.2 382.3h0.9v0.9h-0.9zM114.0 370.5h0.9v0.9h-0.9zM99.8 389.1h0.9v0.9h-0.9zM102.9 381.8h0.9v0.9h-0.9zM113.9 372.4h0.9v0.9h-0.9zM100.0 390.2h0.9v0.9h-0.9zM101.1 385.1h0.9v0.9h-0.9zM104.9 390.6h0.9v0.9h-0.9zM107.6 383.8h0.9v0.9h-0.9zM110.7 372.0h0.9v0.9h-0.9zM102.0 376.5h0.9v0.9h-0.9zM110.7 377.2h0.9v0.9h-0.9zM110.1 389.3h0.9v0.9h-0.9zM106.0 385.6h0.9v0.9h-0.9zM115.6 382.0h0.9v0.9h-0.9zM107.1 385.6h0.9v0.9h-0.9zM112.0 393.9h0.9v0.9h-0.9zM107.0 376.2h0.9v0.9h-0.9zM110.0 393.9h0.9v0.9h-0.9zM99.1 375.5h0.9v0.9h-0.9zM104.6 390.2h0.9v0.9h-0.9zM104.3 388.3h0.9v0.9h-0.9zM103.8 373.2h0.9v0.9h-0.9zM99.9 386.0h0.9v0.9h-0.9zM101.7 375.3h0.9v0.9h-0.9zM105.0 373.7h0.9v0.9h-0.9zM105.7 377.2h0.9v0.9h-0.9zM114.3 382.6h0.9v0.9h-0.9zM114.3 382.0h0.9v0.9h-0.9zM101.3 381.5h0.9v0.9h-0.9zM104.2 378.1h0.9v0.9h-0.9zM102.7 383.1h0.9v0.9h-0.9zM110.1 379.1h0.9v0.9h-0.9zM111.4 381.6h0.9v0.9h-0.9zM103.3 381.3h0.9v0.9h-0.9zM102.8 393.0h0.9v0.9h-0.9zM106.7 382.1h0.9v0.9h-0.9zM104.5 391.4h0.9v0.9h-0.9zM111.1 391.3h0.9v0.9h-0.9zM109.4 386.8h0.9v0.9h-0.9zM103.6 374.6h0.9v0.9h-0.9zM114.2 394.8h0.9v0.9h-0.9zM112.3 373.8h0.9v0.9h-0.9zM112.1 378.2h0.9v0.9h-0.9zM102.3 393.8h0.9v0.9h-0.9zM113.4 379.7h0.9v0.9h-0.9zM104.2 376.7h0.9v0.9h-0.9zM104.2 379.6h0.9v0.9h-0.9zM113.5 373.7h0.9v0.9h-0.9zM111.5 393.9h0.9v0.9h-0.9zM105.5 379.6h0.9v0.9h-0.9zM98.5 376.5h0.9v0.9h-0.9zM104.9 387.5h0.9v0.9h-0.9zM109.2 388.1h0.9v0.9h-0.9zM108.9 393.2h0.9v0.9h-0.9zM114.1 386.1h0.9v0.9h-0.9zM104.4 388.1h0.9v0.9h-0.9zM108.5 376.6h0.9v0.9h-0.9zM103.4 394.4h0.9v0.9h-0.9zM100.9 392.8h0.9v0.9h-0.9zM102.2 374.2h0.9v0.9h-0.9zM112.3 389.3h0.9v0.9h-0.9zM106.9 381.1h0.9v0.9h-0.9zM101.8 391.1h0.9v0.9h-0.9zM107.2 375.9h0.9v0.9h-0.9zM103.0 394.6h0.9v0.9h-0.9zM99.7 375.2h0.9v0.9h-0.9zM100.5 384.5h0.9v0.9h-0.9zM107.0 386.2h0.9v0.9h-0.9zM115.6 383.3h0.9v0.9h-0.9zM105.1 392.5h0.9v0.9h-0.9zM104.3 387.4h0.9v0.9h-0.9zM104.4 383.1h0.9v0.9h-0.9zM100.1 380.5h0.9v0.9h-0.9zM104.4 381.8h0.9v0.9h-0.9zM114.5 374.3h0.9v0.9h-0.9zM109.6 380.0h0.9v0.9h-0.9zM102.6 391.0h0.9v0.9h-0.9zM104.9 377.7h0.9v0.9h-0.9zM114.6 380.7h0.9v0.9h-0.9zM106.7 388.2h0.9v0.9h-0.9zM110.3 375.8h0.9v0.9h-0.9zM109.3 380.2h0.9v0.9h-0.9zM108.3 387.6h0.9v0.9h-0.9zM100.5 388.0h0.9v0.9h-0.9zM109.2 375.1h0.9v0.9h-0.9zM106.4 388.8h0.9v0.9h-0.9zM103.5 393.0h0.9v0.9h-0.9zM110.2 372.6h0.9v0.9h-0.9zM115.3 375.6h0.9v0.9h-0.9zM113.4 385.3h0.9v0.9h-0.9zM99.2 391.6h0.9v0.9h-0.9zM109.3 375.7h0.9v0.9h-0.9zM113.8 378.5h0.9v0.9h-0.9zM100.3 378.1h0.9v0.9h-0.9zM115.0 378.1h0.9v0.9h-0.9zM111.9 393.8h0.9v0.9h-0.9zM111.1 394.6h0.9v0.9h-0.9zM107.2 373.8h0.9v0.9h-0.9zM109.6 382.8h0.9v0.9h-0.9zM102.3 390.1h0.9v0.9h-0.9zM112.7 382.0h0.9v0.9h-0.9zM102.6 384.9h0.9v0.9h-0.9zM107.1 390.1h0.9v0.9h-0.9zM111.6 374.8h0.9v0.9h-0.9zM104.4 380.7h0.9v0.9h-0.9zM108.1 385.3h0.9v0.9h-0.9zM107.2 388.5h0.9v0.9h-0.9zM104.6 378.8h0.9v0.9h-0.9zM108.9 385.7h0.9v0.9h-0.9zM102.2 391.6h0.9v0.9h-0.9zM103.1 385.7h0.9v0.9h-0.9zM109.8 379.7h0.9v0.9h-0.9zM113.4 389.3h0.9v0.9h-0.9zM105.4 374.5h0.9v0.9h-0.9zM99.7 378.9h0.9v0.9h-0.9zM102.6 376.2h0.9v0.9h-0.9zM101.3 384.3h0.9v0.9h-0.9zM107.1 392.6h0.9v0.9h-0.9zM99.1 375.7h0.9v0.9h-0.9zM111.1 375.3h0.9v0.9h-0.9zM111.6 377.9h0.9v0.9h-0.9zM108.0 382.4h0.9v0.9h-0.9zM99.1 377.0h0.9v0.9h-0.9zM107.9 391.5h0.9v0.9h-0.9zM113.7 371.8h0.9v0.9h-0.9zM103.3 379.9h0.9v0.9h-0.9zM103.2 391.5h0.9v0.9h-0.9zM111.1 371.1h0.9v0.9h-0.9zM104.7 392.1h0.9v0.9h-0.9zM115.6 389.6h0.9v0.9h-0.9zM106.0 379.3h0.9v0.9h-0.9zM100.3 383.7h0.9v0.9h-0.9zM106.1 381.4h0.9v0.9h-0.9zM100.7 384.7h0.9v0.9h-0.9zM109.3 384.9h0.9v0.9h-0.9zM101.8 375.1h0.9v0.9h-0.9zM105.8 370.6h0.9v0.9h-0.9zM108.6 381.2h0.9v0.9h-0.9zM100.5 392.0h0.9v0.9h-0.9zM101.5 387.2h0.9v0.9h-0.9zM98.5 388.1h0.9v0.9h-0.9zM104.8 380.8h0.9v0.9h-0.9zM111.8 392.4h0.9v0.9h-0.9zM100.5 394.2h0.9v0.9h-0.9zM98.9 377.9h0.9v0.9h-0.9zM104.7 375.8h0.9v0.9h-0.9zM107.0 384.2h0.9v0.9h-0.9zM106.1 383.1h0.9v0.9h-0.9zM109.8 388.8h0.9v0.9h-0.9zM103.4 383.8h0.9v0.9h-0.9zM113.6 390.9h0.9v0.9h-0.9zM103.6 384.2h0.9v0.9h-0.9zM114.8 383.5h0.9v0.9h-0.9zM106.1 394.3h0.9v0.9h-0.9zM103.0 374.1h0.9v0.9h-0.9zM114.6 388.9h0.9v0.9h-0.9zM98.6 385.6h0.9v0.9h-0.9zM99.0 377.7h0.9v0.9h-0.9zM100.3 379.0h0.9v0.9h-0.9zM112.2 376.6h0.9v0.9h-0.9zM113.6 372.5h0.9v0.9h-0.9zM114.1 393.2h0.9v0.9h-0.9zM100.9 387.9h0.9v0.9h-0.9zM110.7 376.6h0.9v0.9h-0.9zM105.8 381.1h0.9v0.9h-0.9zM103.1 391.2h0.9v0.9h-0.9zM107.0 384.8h0.9v0.9h-0.9zM107.0 380.8h0.9v0.9h-0.9zM115.8 390.6h0.9v0.9h-0.9zM109.5 391.2h0.9v0.9h-0.9zM112.2 392.3h0.9v0.9h-0.9zM101.5 380.2h0.9v0.9h-0.9zM106.4 387.4h0.9v0.9h-0.9zM99.6 389.7h0.9v0.9h-0.9zM99.7 386.1h0.9v0.9h-0.9zM105.2 391.3h0.9v0.9h-0.9zM109.1 384.9h0.9v0.9h-0.9zM102.9 390.1h0.9v0.9h-0.9zM114.5 375.9h0.9v0.9h-0.9zM110.9 389.0h0.9v0.9h-0.9zM113.4 384.1h0.9v0.9h-0.9zM103.2 394.1h0.9v0.9h-0.9zM112.8 373.1h0.9v0.9h-0.9zM108.3 375.0h0.9v0.9h-0.9zM101.1 391.9h0.9v0.9h-0.9zM104.4 378.4h0.9v0.9h-0.9zM105.8 381.5h0.9v0.9h-0.9zM99.0 374.4h0.9v0.9h-0.9zM115.0 370.3h0.9v0.9h-0.9zM100.0 384.0h0.9v0.9h-0.9zM102.4 385.2h0.9v0.9h-0.9zM115.6 391.4h0.9v0.9h-0.9zM98.6 387.6h0.9v0.9h-0.9zM108.0 384.1h0.9v0.9h-0.9zM102.8 390.0h0.9v0.9h-0.9zM108.4 384.5h0.9v0.9h-0.9zM114.5 376.3h0.9v0.9h-0.9zM114.2 378.4h0.9v0.9h-0.9zM111.2 386.6h0.9v0.9h-0.9zM114.6 380.1h0.9v0.9h-0.9zM111.4 386.7h0.9v0.9h-0.9zM101.1 382.7h0.9v0.9h-0.9zM115.3 390.3h0.9v0.9h-0.9zM109.9 378.1h0.9v0.9h-0.9zM99.7 385.2h0.9v0.9h-0.9zM106.0 392.1h0.9v0.9h-0.9zM111.5 377.6h0.9v0.9h-0.9zM106.3 385.3h0.9v0.9h-0.9zM102.7 375.8h0.9v0.9h-0.9zM104.5 374.4h0.9v0.9h-0.9zM106.1 393.6h0.9v0.9h-0.9zM112.2 369.4h0.9v0.9h-0.9zM105.0 376.0h0.9v0.9h-0.9zM107.4 382.6h0.9v0.9h-0.9zM100.1 385.4h0.9v0.9h-0.9zM99.7 394.3h0.9v0.9h-0.9zM112.5 387.9h0.9v0.9h-0.9zM104.0 392.5h0.9v0.9h-0.9zM102.3 379.9h0.9v0.9h-0.9zM111.2 383.5h0.9v0.9h-0.9zM113.4 383.4h0.9v0.9h-0.9zM116.0 383.9h0.9v0.9h-0.9zM111.6 382.2h0.9v0.9h-0.9zM108.6 394.3h0.9v0.9h-0.9zM98.3 379.0h0.9v0.9h-0.9zM112.7 391.1h0.9v0.9h-0.9zM102.3 390.1h0.9v0.9h-0.9zM107.2 385.4h0.9v0.9h-0.9zM115.0 372.6h0.9v0.9h-0.9zM107.0 392.0h0.9v0.9h-0.9zM100.7 393.9h0.9v0.9h-0.9zM101.6 385.1h0.9v0.9h-0.9zM114.8 373.5h0.9v0.9h-0.9zM100.5 388.8h0.9v0.9h-0.9zM100.8 376.3h0.9v0.9h-0.9zM112.7 393.7h0.9v0.9h-0.9zM112.4 392.6h0.9v0.9h-0.9zM113.3 391.2h0.9v0.9h-0.9zM110.1 376.0h0.9v0.9h-0.9zM113.1 387.1h0.9v0.9h-0.9zM110.6 376.3h0.9v0.9h-0.9zM102.5 392.7h0.9v0.9h-0.9zM113.7 389.1h0.9v0.9h-0.9zM100.7 379.1h0.9v0.9h-0.9zM100.0 386.8h0.9v0.9h-0.9zM112.6 379.4h0.9v0.9h-0.9zM113.6 389.8h0.9v0.9h-0.9zM100.0 379.7h0.9v0.9h-0.9zM110.2 381.2h0.9v0.9h-0.9zM98.8 392.4h0.9v0.9h-0.9zM110.8 386.9h0.9v0.9h-0.9zM100.4 381.4h0.9v0.9h-0.9zM111.2 378.6h0.9v0.9h-0.9zM112.9 378.6h0.9v0.9h-0.9zM114.8 383.7h0.9v0.9h-0.9zM113.2 373.1h0.9v0.9h-0.9zM107.1 381.7h0.9v0.9h-0.9zM115.0 391.8h0.9v0.9h-0.9zM113.6 386.7h0.9v0.9h-0.9zM111.8 377.2h0.9v0.9h-0.9zM107.2 384.5h0.9v0.9h-0.9zM115.0 380.2h0.9v0.9h-0.9zM115.7 388.2h0.9v0.9h-0.9zM112.1 372.5h0.9v0.9h-0.9zM113.2 390.4h0.9v0.9h-0.9zM102.2 381.7h0.9v0.9h-0.9zM102.1 374.1h0.9v0.9h-0.9zM115.3 381.1h0.9v0.9h-0.9zM109.3 385.0h0.9v0.9h-0.9zM104.9 385.2h0.9v0.9h-0.9zM107.1 383.0h0.9v0.9h-0.9zM108.1 377.3h0.9v0.9h-0.9zM108.2 375.8h0.9v0.9h-0.9zM104.6 376.0h0.9v0.9h-0.9zM111.3 384.5h0.9v0.9h-0.9zM99.9 390.2h0.9v0.9h-0.9zM105.8 378.5h0.9v0.9h-0.9zM99.0 379.4h0.9v0.9h-0.9zM99.1 390.6h0.9v0.9h-0.9zM109.1 378.2h0.9v0.9h-0.9zM102.1 386.0h0.9v0.9h-0.9zM110.2 387.6h0.9v0.9h-0.9zM109.2 376.8h0.9v0.9h-0.9zM114.9 384.9h0.9v0.9h-0.9zM100.0 393.4h0.9v0.9h-0.9zM97.8 392.4h0.9v0.9h-0.9zM110.7 389.3h0.9v0.9h-0.9zM103.5 389.5h0.9v0.9h-0.9zM108.9 377.4h0.9v0.9h-0.9zM116.4 369.2h0.9v0.9h-0.9zM107.2 380.9h0.9v0.9h-0.9zM102.2 389.1h0.9v0.9h-0.9zM107.7 377.5h0.9v0.9h-0.9zM107.0 388.0h0.9v0.9h-0.9zM111.2 388.1h0.9v0.9h-0.9zM110.1 387.3h0.9v0.9h-0.9zM111.1 380.1h0.9v0.9h-0.9zM99.7 388.7h0.9v0.9h-0.9zM101.4 390.0h0.9v0.9h-0.9zM101.3 386.0h0.9v0.9h-0.9zM104.0 377.8h0.9v0.9h-0.9zM111.1 375.4h0.9v0.9h-0.9zM114.8 377.7h0.9v0.9h-0.9zM104.2 394.9h0.9v0.9h-0.9zM99.1 374.6h0.9v0.9h-0.9zM113.8 373.2h0.9v0.9h-0.9zM105.0 379.1h0.9v0.9h-0.9zM108.0 384.8h0.9v0.9h-0.9zM111.7 392.8h0.9v0.9h-0.9zM111.5 378.2h0.9v0.9h-0.9zM101.3 375.4h0.9v0.9h-0.9zM114.4 387.7h0.9v0.9h-0.9zM101.6 381.3h0.9v0.9h-0.9zM106.9 386.4h0.9v0.9h-0.9zM106.1 389.1h0.9v0.9h-0.9zM99.2 378.9h0.9v0.9h-0.9zM107.9 375.9h0.9v0.9h-0.9zM109.3 376.0h0.9v0.9h-0.9zM110.4 379.7h0.9v0.9h-0.9zM101.0 388.9h0.9v0.9h-0.9zM109.8 375.2h0.9v0.9h-0.9zM111.8 386.8h0.9v0.9h-0.9zM105.5 394.1h0.9v0.9h-0.9zM105.3 390.4h0.9v0.9h-0.9zM103.5 384.4h0.9v0.9h-0.9zM100.3 382.4h0.9v0.9h-0.9zM116.3 369.5h0.9v0.9h-0.9zM110.4 369.4h0.9v0.9h-0.9zM113.7 391.7h0.9v0.9h-0.9zM104.3 379.8h0.9v0.9h-0.9zM100.3 393.4h0.9v0.9h-0.9zM102.7 390.6h0.9v0.9h-0.9zM101.2 389.5h0.9v0.9h-0.9zM99.0 384.1h0.9v0.9h-0.9zM100.1 377.5h0.9v0.9h-0.9zM113.1 376.3h0.9v0.9h-0.9zM106.0 392.2h0.9v0.9h-0.9zM105.8 377.3h0.9v0.9h-0.9zM98.6 378.9h0.9v0.9h-0.9zM106.8 384.3h0.9v0.9h-0.9zM113.3 387.8h0.9v0.9h-0.9zM103.6 385.1h0.9v0.9h-0.9zM108.7 379.1h0.9v0.9h-0.9zM113.1 369.5h0.9v0.9h-0.9zM102.7 391.5h0.9v0.9h-0.9zM109.7 383.6h0.9v0.9h-0.9zM113.8 383.6h0.9v0.9h-0.9zM107.0 373.6h0.9v0.9h-0.9zM105.3 386.4h0.9v0.9h-0.9zM104.3 382.4h0.9v0.9h-0.9zM115.2 388.5h0.9v0.9h-0.9zM104.6 381.9h0.9v0.9h-0.9zM103.6 394.9h0.9v0.9h-0.9zM103.0 375.2h0.9v0.9h-0.9zM114.0 375.2h0.9v0.9h-0.9zM110.6 379.1h0.9v0.9h-0.9zM102.8 390.6h0.9v0.9h-0.9zM99.2 388.1h0.9v0.9h-0.9zM106.5 390.0h0.9v0.9h-0.9zM99.9 383.2h0.9v0.9h-0.9zM114.4 371.0h0.9v0.9h-0.9zM108.2 394.7h0.9v0.9h-0.9zM111.2 379.7h0.9v0.9h-0.9zM108.1 392.6h0.9v0.9h-0.9zM101.5 393.7h0.9v0.9h-0.9zM114.5 373.4h0.9v0.9h-0.9zM105.0 379.6h0.9v0.9h-0.9zM99.5 379.7h0.9v0.9h-0.9zM102.9 383.4h0.9v0.9h-0.9zM102.5 390.7h0.9v0.9h-0.9zM101.4 379.5h0.9v0.9h-0.9zM103.5 383.8h0.9v0.9h-0.9zM107.3 377.4h0.9v0.9h-0.9zM101.2 388.7h0.9v0.9h-0.9zM106.0 376.5h0.9v0.9h-0.9zM104.0 371.9h0.9v0.9h-0.9zM110.5 377.4h0.9v0.9h-0.9zM102.4 379.8h0.9v0.9h-0.9zM102.6 382.4h0.9v0.9h-0.9zM112.2 391.2h0.9v0.9h-0.9zM109.8 375.2h0.9v0.9h-0.9zM102.0 386.5h0.9v0.9h-0.9zM105.9 393.6h0.9v0.9h-0.9zM105.7 379.5h0.9v0.9h-0.9zM113.5 380.0h0.9v0.9h-0.9zM113.6 375.1h0.9v0.9h-0.9zM113.0 387.4h0.9v0.9h-0.9zM98.9 378.5h0.9v0.9h-0.9zM106.3 375.8h0.9v0.9h-0.9zM108.9 374.5h0.9v0.9h-0.9zM113.7 376.2h0.9v0.9h-0.9zM106.7 389.7h0.9v0.9h-0.9zM113.6 391.6h0.9v0.9h-0.9zM98.7 388.4h0.9v0.9h-0.9zM112.2 392.8h0.9v0.9h-0.9zM110.9 391.9h0.9v0.9h-0.9zM105.9 381.4h0.9v0.9h-0.9zM101.0 378.2h0.9v0.9h-0.9zM104.5 381.8h0.9v0.9h-0.9zM112.6 394.8h0.9v0.9h-0.9zM114.0 382.6h0.9v0.9h-0.9zM111.7 376.4h0.9v0.9h-0.9zM100.5 382.6h0.9v0.9h-0.9zM108.3 392.1h0.9v0.9h-0.9zM112.4 372.9h0.9v0.9h-0.9zM111.4 378.0h0.9v0.9h-0.9zM101.4 390.8h0.9v0.9h-0.9zM104.0 391.5h0.9v0.9h-0.9zM113.1 381.7h0.9v0.9h-0.9zM113.3 377.6h0.9v0.9h-0.9zM103.9 378.8h0.9v0.9h-0.9zM100.4 378.5h0.9v0.9h-0.9zM111.7 383.8h0.9v0.9h-0.9zM105.3 393.9h0.9v0.9h-0.9zM100.7 389.7h0.9v0.9h-0.9zM111.9 368.8h0.9v0.9h-0.9zM98.8 380.6h0.9v0.9h-0.9zM107.6 383.9h0.9v0.9h-0.9zM113.9 380.8h0.9v0.9h-0.9zM104.1 388.2h0.9v0.9h-0.9zM103.6 390.1h0.9v0.9h-0.9zM105.3 382.0h0.9v0.9h-0.9zM108.3 393.6h0.9v0.9h-0.9zM99.3 384.2h0.9v0.9h-0.9zM113.3 389.3h0.9v0.9h-0.9zM111.5 389.7h0.9v0.9h-0.9zM99.4 387.4h0.9v0.9h-0.9zM104.0 376.3h0.9v0.9h-0.9zM114.4 379.7h0.9v0.9h-0.9zM103.4 394.8h0.9v0.9h-0.9zM114.7 368.7h0.9v0.9h-0.9zM100.5 384.2h0.9v0.9h-0.9zM116.0 371.9h0.9v0.9h-0.9zM102.7 375.2h0.9v0.9h-0.9zM107.3 387.1h0.9v0.9h-0.9zM108.5 390.2h0.9v0.9h-0.9zM110.2 378.2h0.9v0.9h-0.9zM98.5 379.7h0.9v0.9h-0.9zM113.9 389.4h0.9v0.9h-0.9zM107.0 390.6h0.9v0.9h-0.9zM115.4 378.4h0.9v0.9h-0.9zM104.3 392.1h0.9v0.9h-0.9zM104.7 379.4h0.9v0.9h-0.9zM102.2 391.8h0.9v0.9h-0.9zM108.0 372.0h0.9v0.9h-0.9zM114.6 380.2h0.9v0.9h-0.9zM109.5 391.8h0.9v0.9h-0.9zM102.9 382.8h0.9v0.9h-0.9zM114.6 385.8h0.9v0.9h-0.9zM102.4 374.3h0.9v0.9h-0.9zM114.9 379.1h0.9v0.9h-0.9zM102.5 393.5h0.9v0.9h-0.9zM106.7 391.2h0.9v0.9h-0.9zM110.5 379.0h0.9v0.9h-0.9zM108.3 391.9h0.9v0.9h-0.9zM98.3 378.2h0.9v0.9h-0.9zM114.0 380.5h0.9v0.9h-0.9zM108.6 373.7h0.9v0.9h-0.9zM111.0 391.8h0.9v0.9h-0.9zM113.5 369.0h0.9v0.9h-0.9zM111.0 370.2h0.9v0.9h-0.9zM102.8 377.0h0.9v0.9h-0.9zM101.0 382.8h0.9v0.9h-0.9zM103.6 382.6h0.9v0.9h-0.9zM110.1 377.3h0.9v0.9h-0.9zM99.9 393.3h0.9v0.9h-0.9zM100.3 380.8h0.9v0.9h-0.9zM100.1 383.5h0.9v0.9h-0.9zM106.3 380.8h0.9v0.9h-0.9zM101.1 394.1h0.9v0.9h-0.9zM115.1 374.4h0.9v0.9h-0.9zM109.3 387.4h0.9v0.9h-0.9zM114.7 382.5h0.9v0.9h-0.9zM109.9 378.9h0.9v0.9h-0.9zM115.7 382.0h0.9v0.9h-0.9zM110.5 385.6h0.9v0.9h-0.9zM98.6 384.5h0.9v0.9h-0.9zM98.3 379.4h0.9v0.9h-0.9zM112.1 380.8h0.9v0.9h-0.9zM108.7 390.3h0.9v0.9h-0.9zM98.6 394.6h0.9v0.9h-0.9zM107.5 386.8h0.9v0.9h-0.9zM113.0 381.2h0.9v0.9h-0.9zM114.9 386.9h0.9v0.9h-0.9zM101.8 389.3h0.9v0.9h-0.9zM108.1 380.2h0.9v0.9h-0.9zM100.7 391.7h0.9v0.9h-0.9zM98.4 390.7h0.9v0.9h-0.9zM112.6 370.9h0.9v0.9h-0.9zM99.5 393.7h0.9v0.9h-0.9zM107.4 377.1h0.9v0.9h-0.9zM105.5 382.4h0.9v0.9h-0.9zM111.9 394.2h0.9v0.9h-0.9zM112.9 370.4h0.9v0.9h-0.9zM111.4 380.1h0.9v0.9h-0.9zM115.9 372.4h0.9v0.9h-0.9zM114.8 383.0h0.9v0.9h-0.9zM111.4 390.5h0.9v0.9h-0.9zM110.8 391.5h0.9v0.9h-0.9zM110.6 384.4h0.9v0.9h-0.9zM100.2 378.0h0.9v0.9h-0.9zM99.2 386.1h0.9v0.9h-0.9zM101.9 385.5h0.9v0.9h-0.9zM101.9 379.5h0.9v0.9h-0.9zM101.5 393.3h0.9v0.9h-0.9zM101.4 377.0h0.9v0.9h-0.9zM103.1 393.6h0.9v0.9h-0.9zM107.9 389.6h0.9v0.9h-0.9zM106.2 391.1h0.9v0.9h-0.9zM100.9 389.2h0.9v0.9h-0.9zM101.3 374.7h0.9v0.9h-0.9zM102.7 374.4h0.9v0.9h-0.9zM103.0 384.0h0.9v0.9h-0.9zM104.6 392.5h0.9v0.9h-0.9zM111.1 376.3h0.9v0.9h-0.9zM113.6 391.4h0.9v0.9h-0.9zM114.2 385.2h0.9v0.9h-0.9zM100.2 390.6h0.9v0.9h-0.9zM108.9 372.1h0.9v0.9h-0.9zM99.3 392.0h0.9v0.9h-0.9zM99.8 381.5h0.9v0.9h-0.9zM102.5 390.6h0.9v0.9h-0.9zM105.4 385.7h0.9v0.9h-0.9zM110.1 374.5h0.9v0.9h-0.9zM112.2 377.7h0.9v0.9h-0.9zM109.1 391.3h0.9v0.9h-0.9zM111.5 376.0h0.9v0.9h-0.9zM102.8 381.9h0.9v0.9h-0.9zM113.5 374.8h0.9v0.9h-0.9zM108.5 373.7h0.9v0.9h-0.9zM108.0 390.2h0.9v0.9h-0.9zM102.1 380.7h0.9v0.9h-0.9zM114.3 384.4h0.9v0.9h-0.9zM113.7 383.5h0.9v0.9h-0.9zM109.9 392.9h0.9v0.9h-0.9zM111.6 383.0h0.9v0.9h-0.9zM102.5 388.7h0.9v0.9h-0.9zM106.2 390.3h0.9v0.9h-0.9zM116.3 375.5h0.9v0.9h-0.9zM108.8 382.4h0.9v0.9h-0.9zM105.2 385.4h0.9v0.9h-0.9zM104.2 375.6h0.9v0.9h-0.9zM101.0 385.6h0.9v0.9h-0.9zM107.4 372.7h0.9v0.9h-0.9zM108.5 379.9h0.9v0.9h-0.9zM103.9 390.0h0.9v0.9h-0.9zM98.8 383.6h0.9v0.9h-0.9zM104.4 385.2h0.9v0.9h-0.9zM109.0 385.6h0.9v0.9h-0.9zM107.5 389.6h0.9v0.9h-0.9zM104.6 393.4h0.9v0.9h-0.9zM104.6 380.6h0.9v0.9h-0.9zM101.7 377.0h0.9v0.9h-0.9zM102.2 382.7h0.9v0.9h-0.9zM111.7 371.1h0.9v0.9h-0.9zM113.1 383.7h0.9v0.9h-0.9zM113.4 373.6h0.9v0.9h-0.9zM107.3 393.2h0.9v0.9h-0.9zM108.5 382.7h0.9v0.9h-0.9zM106.8 394.7h0.9v0.9h-0.9zM110.2 392.4h0.9v0.9h-0.9zM114.7 392.3h0.9v0.9h-0.9zM101.3 386.1h0.9v0.9h-0.9zM107.9 375.4h0.9v0.9h-0.9zM110.4 391.5h0.9v0.9h-0.9zM115.8 368.7h0.9v0.9h-0.9zM104.8 390.4h0.9v0.9h-0.9zM113.5 381.7h0.9v0.9h-0.9zM107.4 377.8h0.9v0.9h-0.9zM116.0 371.1h0.9v0.9h-0.9zM110.3 377.6h0.9v0.9h-0.9zM113.5 372.0h0.9v0.9h-0.9zM98.8 384.8h0.9v0.9h-0.9zM111.3 384.4h0.9v0.9h-0.9zM99.7 381.3h0.9v0.9h-0.9zM112.6 371.9h0.9v0.9h-0.9zM115.2 389.8h0.9v0.9h-0.9zM109.9 386.6h0.9v0.9h-0.9zM100.6 388.3h0.9v0.9h-0.9zM109.2 371.2h0.9v0.9h-0.9zM115.1 393.3h0.9v0.9h-0.9zM100.7 384.2h0.9v0.9h-0.9zM109.6 386.4h0.9v0.9h-0.9zM111.4 375.9h0.9v0.9h-0.9zM109.9 377.4h0.9v0.9h-0.9zM111.7 394.7h0.9v0.9h-0.9zM108.5 394.0h0.9v0.9h-0.9zM109.7 380.4h0.9v0.9h-0.9zM106.6 384.0h0.9v0.9h-0.9zM103.1 382.8h0.9v0.9h-0.9zM109.2 384.7h0.9v0.9h-0.9zM107.7 385.9h0.9v0.9h-0.9zM114.5 386.5h0.9v0.9h-0.9zM99.4 380.7h0.9v0.9h-0.9zM105.9 380.4h0.9v0.9h-0.9zM111.7 371.3h0.9v0.9h-0.9zM102.2 388.4h0.9v0.9h-0.9zM108.9 393.3h0.9v0.9h-0.9zM106.1 383.2h0.9v0.9h-0.9zM114.5 378.5h0.9v0.9h-0.9zM101.5 383.6h0.9v0.9h-0.9zM114.4 369.3h0.9v0.9h-0.9zM109.9 382.4h0.9v0.9h-0.9zM98.2 388.6h0.9v0.9h-0.9zM100.0 388.2h0.9v0.9h-0.9zM101.0 390.5h0.9v0.9h-0.9zM109.6 382.1h0.9v0.9h-0.9zM112.2 393.1h0.9v0.9h-0.9zM110.7 384.7h0.9v0.9h-0.9zM114.1 370.3h0.9v0.9h-0.9zM108.5 376.0h0.9v0.9h-0.9zM107.1 388.0h0.9v0.9h-0.9zM114.0 392.0h0.9v0.9h-0.9zM108.3 372.9h0.9v0.9h-0.9zM111.2 387.2h0.9v0.9h-0.9zM113.5 387.1h0.9v0.9h-0.9zM110.2 381.6h0.9v0.9h-0.9zM110.8 383.5h0.9v0.9h-0.9zM103.1 374.5h0.9v0.9h-0.9zM107.4 371.5h0.9v0.9h-0.9zM110.1 386.6h0.9v0.9h-0.9zM107.7 376.5h0.9v0.9h-0.9zM104.2 383.6h0.9v0.9h-0.9zM110.1 384.7h0.9v0.9h-0.9zM113.9 391.5h0.9v0.9h-0.9zM103.6 385.4h0.9v0.9h-0.9zM111.1 386.5h0.9v0.9h-0.9zM111.7 380.0h0.9v0.9h-0.9zM105.6 389.8h0.9v0.9h-0.9zM105.9 373.4h0.9v0.9h-0.9zM104.4 383.1h0.9v0.9h-0.9zM103.0 383.0h0.9v0.9h-0.9zM115.6 374.3h0.9v0.9h-0.9zM107.7 374.2h0.9v0.9h-0.9zM107.9 380.0h0.9v0.9h-0.9zM103.4 392.3h0.9v0.9h-0.9zM114.3 387.7h0.9v0.9h-0.9zM104.5 385.9h0.9v0.9h-0.9zM113.7 368.9h0.9v0.9h-0.9zM111.4 370.7h0.9v0.9h-0.9zM100.2 384.1h0.9v0.9h-0.9zM115.4 371.9h0.9v0.9h-0.9zM108.1 389.4h0.9v0.9h-0.9zM115.5 392.7h0.9v0.9h-0.9zM109.9 390.5h0.9v0.9h-0.9zM109.1 378.9h0.9v0.9h-0.9zM104.6 378.1h0.9v0.9h-0.9zM115.7 377.7h0.9v0.9h-0.9zM100.3 382.7h0.9v0.9h-0.9zM112.4 381.0h0.9v0.9h-0.9zM106.8 384.4h0.9v0.9h-0.9zM106.9 384.7h0.9v0.9h-0.9zM112.0 394.5h0.9v0.9h-0.9zM101.0 388.2h0.9v0.9h-0.9zM101.0 392.0h0.9v0.9h-0.9zM105.5 385.4h0.9v0.9h-0.9zM103.6 376.2h0.9v0.9h-0.9zM107.4 374.4h0.9v0.9h-0.9zM109.3 380.6h0.9v0.9h-0.9zM105.6 380.5h0.9v0.9h-0.9zM109.3 379.3h0.9v0.9h-0.9zM105.6 387.2h0.9v0.9h-0.9zM106.0 376.2h0.9v0.9h-0.9zM101.9 383.2h0.9v0.9h-0.9zM114.1 374.9h0.9v0.9h-0.9zM100.7 378.5h0.9v0.9h-0.9zM112.1 384.6h0.9v0.9h-0.9zM109.5 380.3h0.9v0.9h-0.9zM114.2 372.7h0.9v0.9h-0.9zM112.1 378.8h0.9v0.9h-0.9zM107.3 375.8h0.9v0.9h-0.9zM109.0 394.9h0.9v0.9h-0.9zM114.3 368.9h0.9v0.9h-0.9zM101.7 387.2h0.9v0.9h-0.9zM108.6 375.4h0.9v0.9h-0.9zM107.8 393.5h0.9v0.9h-0.9zM108.6 384.9h0.9v0.9h-0.9zM103.4 387.4h0.9v0.9h-0.9zM107.9 383.9h0.9v0.9h-0.9zM107.6 375.5h0.9v0.9h-0.9zM103.8 386.9h0.9v0.9h-0.9zM99.7 386.4h0.9v0.9h-0.9zM99.3 383.8h0.9v0.9h-0.9zM107.5 373.5h0.9v0.9h-0.9zM113.2 376.5h0.9v0.9h-0.9zM102.6 381.3h0.9v0.9h-0.9zM108.5 372.0h0.9v0.9h-0.9zM111.4 372.0h0.9v0.9h-0.9zM99.2 389.4h0.9v0.9h-0.9zM115.1 367.8h0.9v0.9h-0.9zM113.9 370.5h0.9v0.9h-0.9zM112.4 380.6h0.9v0.9h-0.9zM99.5 389.4h0.9v0.9h-0.9zM101.2 388.2h0.9v0.9h-0.9zM114.5 381.4h0.9v0.9h-0.9zM114.2 383.4h0.9v0.9h-0.9zM104.1 393.1h0.9v0.9h-0.9zM104.6 390.7h0.9v0.9h-0.9zM111.7 391.0h0.9v0.9h-0.9zM108.7 371.5h0.9v0.9h-0.9zM98.5 392.9h0.9v0.9h-0.9zM100.3 377.0h0.9v0.9h-0.9zM111.2 384.5h0.9v0.9h-0.9zM108.5 384.2h0.9v0.9h-0.9zM105.7 376.1h0.9v0.9h-0.9zM111.1 383.4h0.9v0.9h-0.9zM104.7 385.7h0.9v0.9h-0.9zM113.8 388.7h0.9v0.9h-0.9zM111.3 375.4h0.9v0.9h-0.9zM103.4 383.4h0.9v0.9h-0.9zM104.0 381.9h0.9v0.9h-0.9zM101.5 382.3h0.9v0.9h-0.9zM102.2 377.7h0.9v0.9h-0.9zM99.7 393.5h0.9v0.9h-0.9zM107.7 384.4h0.9v0.9h-0.9zM101.1 386.5h0.9v0.9h-0.9zM102.3 385.1h0.9v0.9h-0.9zM110.1 379.4h0.9v0.9h-0.9zM110.4 384.3h0.9v0.9h-0.9zM101.9 393.6h0.9v0.9h-0.9zM99.2 385.4h0.9v0.9h-0.9zM112.7 389.1h0.9v0.9h-0.9zM102.9 383.5h0.9v0.9h-0.9zM107.4 391.5h0.9v0.9h-0.9zM104.9 394.9h0.9v0.9h-0.9zM102.8 377.8h0.9v0.9h-0.9zM111.6 379.4h0.9v0.9h-0.9zM99.5 390.7h0.9v0.9h-0.9zM107.9 375.3h0.9v0.9h-0.9zM114.7 382.2h0.9v0.9h-0.9zM101.3 379.4h0.9v0.9h-0.9zM108.6 387.3h0.9v0.9h-0.9zM113.5 384.1h0.9v0.9h-0.9zM109.4 383.0h0.9v0.9h-0.9zM110.6 377.9h0.9v0.9h-0.9zM112.1 384.3h0.9v0.9h-0.9zM110.5 383.9h0.9v0.9h-0.9zM111.8 377.4h0.9v0.9h-0.9zM108.6 377.9h0.9v0.9h-0.9zM113.1 390.9h0.9v0.9h-0.9zM103.0 394.4h0.9v0.9h-0.9zM109.7 384.3h0.9v0.9h-0.9zM109.7 389.1h0.9v0.9h-0.9zM100.2 379.0h0.9v0.9h-0.9zM111.3 370.2h0.9v0.9h-0.9zM112.8 389.9h0.9v0.9h-0.9zM107.2 394.6h0.9v0.9h-0.9zM114.2 386.3h0.9v0.9h-0.9zM104.7 377.9h0.9v0.9h-0.9zM103.5 387.3h0.9v0.9h-0.9zM109.6 387.5h0.9v0.9h-0.9zM97.4 381.2h0.9v0.9h-0.9zM106.8 392.2h0.9v0.9h-0.9zM99.3 391.2h0.9v0.9h-0.9zM103.3 383.2h0.9v0.9h-0.9zM114.0 371.6h0.9v0.9h-0.9zM98.6 393.0h0.9v0.9h-0.9zM103.5 377.3h0.9v0.9h-0.9zM110.4 373.9h0.9v0.9h-0.9zM112.9 386.3h0.9v0.9h-0.9zM104.6 390.8h0.9v0.9h-0.9zM108.4 383.8h0.9v0.9h-0.9zM99.3 378.3h0.9v0.9h-0.9zM114.3 391.9h0.9v0.9h-0.9zM102.4 386.6h0.9v0.9h-0.9zM105.5 394.8h0.9v0.9h-0.9zM103.4 388.7h0.9v0.9h-0.9zM109.9 373.4h0.9v0.9h-0.9zM108.9 385.9h0.9v0.9h-0.9zM99.2 388.0h0.9v0.9h-0.9zM104.7 386.9h0.9v0.9h-0.9zM113.6 375.2h0.9v0.9h-0.9zM101.1 375.0h0.9v0.9h-0.9zM105.5 394.1h0.9v0.9h-0.9zM115.4 375.8h0.9v0.9h-0.9zM107.5 383.3h0.9v0.9h-0.9zM110.3 379.5h0.9v0.9h-0.9zM100.2 392.1h0.9v0.9h-0.9zM114.4 392.3h0.9v0.9h-0.9zM109.3 375.2h0.9v0.9h-0.9zM99.6 394.0h0.9v0.9h-0.9zM111.6 387.0h0.9v0.9h-0.9zM100.6 378.0h0.9v0.9h-0.9zM106.9 389.5h0.9v0.9h-0.9zM110.2 392.8h0.9v0.9h-0.9zM111.2 382.8h0.9v0.9h-0.9zM111.0 383.4h0.9v0.9h-0.9zM102.8 393.2h0.9v0.9h-0.9zM111.0 386.7h0.9v0.9h-0.9zM107.8 388.8h0.9v0.9h-0.9zM112.7 387.4h0.9v0.9h-0.9zM100.5 383.3h0.9v0.9h-0.9zM106.4 393.7h0.9v0.9h-0.9zM104.5 374.1h0.9v0.9h-0.9zM109.7 392.6h0.9v0.9h-0.9zM112.1 391.6h0.9v0.9h-0.9zM105.3 390.8h0.9v0.9h-0.9zM114.5 372.7h0.9v0.9h-0.9zM105.1 380.7h0.9v0.9h-0.9zM101.3 388.6h0.9v0.9h-0.9zM105.5 382.1h0.9v0.9h-0.9zM99.3 391.8h0.9v0.9h-0.9zM103.5 378.6h0.9v0.9h-0.9zM114.7 369.0h0.9v0.9h-0.9zM102.1 378.8h0.9v0.9h-0.9zM109.8 391.1h0.9v0.9h-0.9zM112.4 375.4h0.9v0.9h-0.9zM99.0 379.0h0.9v0.9h-0.9zM102.3 379.2h0.9v0.9h-0.9zM115.3 379.6h0.9v0.9h-0.9zM113.0 385.2h0.9v0.9h-0.9zM112.1 372.8h0.9v0.9h-0.9zM110.0 375.7h0.9v0.9h-0.9zM103.5 391.6h0.9v0.9h-0.9zM101.1 384.2h0.9v0.9h-0.9zM103.0 387.0h0.9v0.9h-0.9zM102.6 389.7h0.9v0.9h-0.9zM99.2 380.5h0.9v0.9h-0.9zM106.7 385.4h0.9v0.9h-0.9zM107.4 371.3h0.9v0.9h-0.9zM107.5 381.9h0.9v0.9h-0.9zM106.5 384.0h0.9v0.9h-0.9zM111.3 373.4h0.9v0.9h-0.9zM114.4 377.2h0.9v0.9h-0.9zM100.0 393.2h0.9v0.9h-0.9zM109.9 388.2h0.9v0.9h-0.9zM101.4 387.2h0.9v0.9h-0.9zM102.4 391.0h0.9v0.9h-0.9zM109.9 391.6h0.9v0.9h-0.9zM109.6 390.1h0.9v0.9h-0.9zM98.3 376.0h0.9v0.9h-0.9zM105.2 372.5h0.9v0.9h-0.9zM107.3 392.8h0.9v0.9h-0.9zM114.4 373.6h0.9v0.9h-0.9zM108.6 387.2h0.9v0.9h-0.9zM98.4 378.4h0.9v0.9h-0.9zM112.6 384.2h0.9v0.9h-0.9zM107.7 388.3h0.9v0.9h-0.9zM105.9 382.0h0.9v0.9h-0.9zM115.9 370.7h0.9v0.9h-0.9zM108.8 373.6h0.9v0.9h-0.9zM106.9 391.6h0.9v0.9h-0.9zM108.8 385.6h0.9v0.9h-0.9zM104.8 382.4h0.9v0.9h-0.9zM114.9 390.1h0.9v0.9h-0.9zM112.3 387.3h0.9v0.9h-0.9zM101.8 378.2h0.9v0.9h-0.9zM101.0 376.5h0.9v0.9h-0.9zM109.6 379.8h0.9v0.9h-0.9zM114.0 387.0h0.9v0.9h-0.9zM111.9 384.0h0.9v0.9h-0.9zM108.7 384.6h0.9v0.9h-0.9zM109.5 383.1h0.9v0.9h-0.9zM101.0 378.7h0.9v0.9h-0.9zM113.2 386.3h0.9v0.9h-0.9zM114.5 379.9h0.9v0.9h-0.9zM102.3 391.8h0.9v0.9h-0.9zM98.9 383.2h0.9v0.9h-0.9zM109.4 379.5h0.9v0.9h-0.9zM115.5 383.6h0.9v0.9h-0.9zM102.0 389.4h0.9v0.9h-0.9zM113.7 382.6h0.9v0.9h-0.9zM100.6 378.6h0.9v0.9h-0.9zM115.1 381.0h0.9v0.9h-0.9zM99.2 379.2h0.9v0.9h-0.9zM109.5 388.8h0.9v0.9h-0.9zM107.9 372.0h0.9v0.9h-0.9zM104.8 389.4h0.9v0.9h-0.9zM105.9 375.2h0.9v0.9h-0.9zM102.9 383.9h0.9v0.9h-0.9zM115.3 381.7h0.9v0.9h-0.9zM100.3 376.9h0.9v0.9h-0.9zM113.8 382.2h0.9v0.9h-0.9zM115.8 391.0h0.9v0.9h-0.9zM104.3 378.5h0.9v0.9h-0.9zM103.9 388.1h0.9v0.9h-0.9zM114.6 369.9h0.9v0.9h-0.9zM106.8 378.5h0.9v0.9h-0.9zM110.8 377.5h0.9v0.9h-0.9zM100.4 383.9h0.9v0.9h-0.9zM115.3 375.5h0.9v0.9h-0.9zM101.3 384.4h0.9v0.9h-0.9zM111.3 387.3h0.9v0.9h-0.9zM115.3 372.9h0.9v0.9h-0.9zM110.4 388.6h0.9v0.9h-0.9zM114.3 394.5h0.9v0.9h-0.9zM112.1 394.4h0.9v0.9h-0.9zM100.6 387.5h0.9v0.9h-0.9zM114.1 383.9h0.9v0.9h-0.9zM103.0 384.7h0.9v0.9h-0.9zM100.3 380.0h0.9v0.9h-0.9zM112.9 389.8h0.9v0.9h-0.9zM105.5 381.4h0.9v0.9h-0.9zM112.1 387.8h0.9v0.9h-0.9zM102.9 391.1h0.9v0.9h-0.9zM104.9 380.2h0.9v0.9h-0.9zM111.7 393.2h0.9v0.9h-0.9zM105.9 386.1h0.9v0.9h-0.9zM107.5 387.5h0.9v0.9h-0.9zM110.6 391.2h0.9v0.9h-0.9zM98.9 387.0h0.9v0.9h-0.9zM107.5 373.3h0.9v0.9h-0.9zM100.1 375.7h0.9v0.9h-0.9zM109.1 392.0h0.9v0.9h-0.9zM110.2 393.2h0.9v0.9h-0.9zM100.7 393.4h0.9v0.9h-0.9zM112.9 379.5h0.9v0.9h-0.9zM107.5 384.5h0.9v0.9h-0.9zM108.1 385.3h0.9v0.9h-0.9zM110.5 394.8h0.9v0.9h-0.9zM104.2 392.1h0.9v0.9h-0.9zM103.0 389.4h0.9v0.9h-0.9zM101.7 389.9h0.9v0.9h-0.9zM106.0 386.1h0.9v0.9h-0.9zM100.7 384.2h0.9v0.9h-0.9zM99.0 389.8h0.9v0.9h-0.9zM101.1 386.7h0.9v0.9h-0.9zM109.4 386.4h0.9v0.9h-0.9zM99.6 389.8h0.9v0.9h-0.9zM113.9 377.2h0.9v0.9h-0.9zM110.5 382.0h0.9v0.9h-0.9zM105.8 377.9h0.9v0.9h-0.9zM110.2 377.3h0.9v0.9h-0.9zM114.3 385.6h0.9v0.9h-0.9zM106.2 374.3h0.9v0.9h-0.9zM102.6 381.3h0.9v0.9h-0.9zM110.2 371.1h0.9v0.9h-0.9zM100.3 384.5h0.9v0.9h-0.9zM104.5 392.4h0.9v0.9h-0.9zM105.5 386.4h0.9v0.9h-0.9zM113.8 373.2h0.9v0.9h-0.9zM113.6 369.2h0.9v0.9h-0.9zM109.9 391.1h0.9v0.9h-0.9zM108.8 392.1h0.9v0.9h-0.9zM105.4 389.9h0.9v0.9h-0.9zM114.3 380.3h0.9v0.9h-0.9zM106.1 387.2h0.9v0.9h-0.9zM111.1 392.4h0.9v0.9h-0.9zM107.5 384.6h0.9v0.9h-0.9zM106.2 379.6h0.9v0.9h-0.9zM114.9 390.2h0.9v0.9h-0.9zM109.7 372.0h0.9v0.9h-0.9zM112.8 383.1h0.9v0.9h-0.9zM111.7 382.7h0.9v0.9h-0.9zM111.0 389.2h0.9v0.9h-0.9zM104.7 392.6h0.9v0.9h-0.9zM114.7 377.3h0.9v0.9h-0.9zM105.8 385.1h0.9v0.9h-0.9zM115.3 385.3h0.9v0.9h-0.9zM115.4 387.3h0.9v0.9h-0.9zM106.4 394.7h0.9v0.9h-0.9zM111.0 385.0h0.9v0.9h-0.9zM110.3 374.8h0.9v0.9h-0.9zM111.2 385.9h0.9v0.9h-0.9zM110.9 381.6h0.9v0.9h-0.9zM104.4 385.2h0.9v0.9h-0.9zM110.1 378.3h0.9v0.9h-0.9zM114.8 392.7h0.9v0.9h-0.9zM104.3 381.5h0.9v0.9h-0.9zM111.4 377.3h0.9v0.9h-0.9zM111.9 382.1h0.9v0.9h-0.9zM102.2 390.5h0.9v0.9h-0.9zM105.9 371.9h0.9v0.9h-0.9zM104.3 385.2h0.9v0.9h-0.9zM104.0 383.4h0.9v0.9h-0.9zM111.2 370.0h0.9v0.9h-0.9zM112.3 387.3h0.9v0.9h-0.9zM108.1 394.9h0.9v0.9h-0.9zM109.4 381.4h0.9v0.9h-0.9zM108.4 391.6h0.9v0.9h-0.9zM103.8 376.1h0.9v0.9h-0.9zM101.9 377.4h0.9v0.9h-0.9zM102.9 382.8h0.9v0.9h-0.9zM110.0 385.7h0.9v0.9h-0.9zM111.0 387.8h0.9v0.9h-0.9zM100.3 377.3h0.9v0.9h-0.9zM105.7 381.0h0.9v0.9h-0.9zM114.2 385.2h0.9v0.9h-0.9zM107.8 383.7h0.9v0.9h-0.9zM105.5 381.2h0.9v0.9h-0.9zM110.6 381.3h0.9v0.9h-0.9zM105.5 392.2h0.9v0.9h-0.9zM101.3 387.0h0.9v0.9h-0.9zM112.2 375.7h0.9v0.9h-0.9zM109.4 376.0h0.9v0.9h-0.9zM111.6 376.2h0.9v0.9h-0.9zM106.6 381.4h0.9v0.9h-0.9zM102.1 383.9h0.9v0.9h-0.9zM99.2 390.5h0.9v0.9h-0.9zM110.8 375.9h0.9v0.9h-0.9zM109.8 389.8h0.9v0.9h-0.9zM106.8 385.7h0.9v0.9h-0.9zM111.9 388.2h0.9v0.9h-0.9zM106.7 394.4h0.9v0.9h-0.9zM113.2 386.4h0.9v0.9h-0.9zM106.5 390.0h0.9v0.9h-0.9zM102.2 386.8h0.9v0.9h-0.9zM99.0 377.4h0.9v0.9h-0.9zM112.3 388.5h0.9v0.9h-0.9zM109.3 379.2h0.9v0.9h-0.9zM101.1 374.4h0.9v0.9h-0.9zM101.1 385.6h0.9v0.9h-0.9zM107.1 378.2h0.9v0.9h-0.9zM100.3 383.5h0.9v0.9h-0.9zM101.1 390.5h0.9v0.9h-0.9zM99.4 383.6h0.9v0.9h-0.9zM114.2 381.8h0.9v0.9h-0.9zM112.7 371.1h0.9v0.9h-0.9zM102.7 382.8h0.9v0.9h-0.9zM105.3 382.5h0.9v0.9h-0.9zM106.1 373.4h0.9v0.9h-0.9zM114.7 386.0h0.9v0.9h-0.9zM103.6 394.5h0.9v0.9h-0.9zM109.1 379.5h0.9v0.9h-0.9zM110.2 369.6h0.9v0.9h-0.9zM110.3 372.3h0.9v0.9h-0.9zM99.4 392.7h0.9v0.9h-0.9zM106.4 382.4h0.9v0.9h-0.9zM101.0 393.7h0.9v0.9h-0.9zM113.7 387.3h0.9v0.9h-0.9zM109.7 389.6h0.9v0.9h-0.9zM109.3 394.1h0.9v0.9h-0.9zM110.1 387.3h0.9v0.9h-0.9zM104.1 383.9h0.9v0.9h-0.9zM107.5 393.0h0.9v0.9h-0.9zM109.8 391.9h0.9v0.9h-0.9zM111.2 375.9h0.9v0.9h-0.9zM110.2 380.7h0.9v0.9h-0.9zM105.5 388.0h0.9v0.9h-0.9zM104.7 393.5h0.9v0.9h-0.9zM109.8 373.2h0.9v0.9h-0.9zM100.3 390.1h0.9v0.9h-0.9zM110.6 382.3h0.9v0.9h-0.9zM113.3 371.0h0.9v0.9h-0.9zM104.7 375.7h0.9v0.9h-0.9zM106.7 375.6h0.9v0.9h-0.9zM111.2 375.8h0.9v0.9h-0.9zM109.1 386.1h0.9v0.9h-0.9zM107.7 382.8h0.9v0.9h-0.9zM112.5 377.9h0.9v0.9h-0.9zM114.1 383.4h0.9v0.9h-0.9zM106.1 392.3h0.9v0.9h-0.9zM106.1 374.9h0.9v0.9h-0.9z" fill="#000"/>
<path d="M93.0 379.8h0.9v0.9h-0.9zM94.8 387.6h0.9v0.9h-0.9zM96.5 389.9h0.9v0.9h-0.9zM93.1 378.8h0.9v0.9h-0.9zM98.9 388.7h0.9v0.9h-0.9zM92.6 392.3h0.9v0.9h-0.9zM97.8 384.6h0.9v0.9h-0.9zM99.1 389.2h0.9v0.9h-0.9zM100.2 385.1h0.9v0.9h-0.9zM96.1 387.9h0.9v0.9h-0.9zM94.4 383.3h0.9v0.9h-0.9zM93.2 386.3h0.9v0.9h-0.9zM97.9 389.5h0.9v0.9h-0.9zM97.9 384.9h0.9v0.9h-0.9zM98.0 392.1h0.9v0.9h-0.9zM97.5 388.8h0.9v0.9h-0.9zM97.1 382.0h0.9v0.9h-0.9zM96.1 383.0h0.9v0.9h-0.9zM91.7 384.8h0.9v0.9h-0.9zM97.3 377.6h0.9v0.9h-0.9zM94.8 393.3h0.9v0.9h-0.9zM92.6 389.5h0.9v0.9h-0.9zM99.2 392.6h0.9v0.9h-0.9zM95.8 382.1h0.9v0.9h-0.9zM93.5 379.3h0.9v0.9h-0.9zM98.4 382.7h0.9v0.9h-0.9zM94.2 386.8h0.9v0.9h-0.9zM97.5 376.3h0.9v0.9h-0.9zM99.4 385.9h0.9v0.9h-0.9zM94.2 388.7h0.9v0.9h-0.9zM92.8 393.9h0.9v0.9h-0.9zM97.6 385.7h0.9v0.9h-0.9zM97.2 387.4h0.9v0.9h-0.9zM93.0 388.0h0.9v0.9h-0.9zM92.0 383.8h0.9v0.9h-0.9zM94.5 380.5h0.9v0.9h-0.9zM99.6 378.5h0.9v0.9h-0.9zM95.7 388.6h0.9v0.9h-0.9zM98.6 380.3h0.9v0.9h-0.9zM97.9 382.7h0.9v0.9h-0.9zM94.2 393.0h0.9v0.9h-0.9zM95.6 388.6h0.9v0.9h-0.9zM94.3 380.1h0.9v0.9h-0.9zM93.9 392.5h0.9v0.9h-0.9zM95.9 382.7h0.9v0.9h-0.9zM96.8 377.2h0.9v0.9h-0.9zM93.7 392.5h0.9v0.9h-0.9zM96.7 376.0h0.9v0.9h-0.9zM94.8 393.5h0.9v0.9h-0.9zM92.8 384.5h0.9v0.9h-0.9zM95.4 390.4h0.9v0.9h-0.9zM97.9 379.8h0.9v0.9h-0.9zM93.6 387.9h0.9v0.9h-0.9zM99.3 389.3h0.9v0.9h-0.9zM97.6 383.4h0.9v0.9h-0.9zM97.7 389.3h0.9v0.9h-0.9zM91.8 379.1h0.9v0.9h-0.9zM95.4 386.4h0.9v0.9h-0.9zM94.1 383.6h0.9v0.9h-0.9zM98.3 378.6h0.9v0.9h-0.9zM94.8 386.0h0.9v0.9h-0.9zM97.4 383.0h0.9v0.9h-0.9zM98.0 389.6h0.9v0.9h-0.9zM93.5 389.6h0.9v0.9h-0.9zM97.5 378.4h0.9v0.9h-0.9zM97.8 380.9h0.9v0.9h-0.9zM97.4 388.0h0.9v0.9h-0.9zM95.9 389.0h0.9v0.9h-0.9zM95.1 393.9h0.9v0.9h-0.9zM97.8 391.4h0.9v0.9h-0.9zM91.9 389.7h0.9v0.9h-0.9zM93.8 383.7h0.9v0.9h-0.9zM93.8 386.5h0.9v0.9h-0.9zM95.5 377.2h0.9v0.9h-0.9zM99.1 385.6h0.9v0.9h-0.9zM96.4 390.8h0.9v0.9h-0.9zM99.7 378.1h0.9v0.9h-0.9zM94.2 392.7h0.9v0.9h-0.9zM94.0 390.1h0.9v0.9h-0.9zM91.4 388.4h0.9v0.9h-0.9zM95.7 388.2h0.9v0.9h-0.9zM94.1 381.1h0.9v0.9h-0.9zM97.4 375.0h0.9v0.9h-0.9zM95.1 386.1h0.9v0.9h-0.9zM96.7 376.7h0.9v0.9h-0.9zM97.6 388.0h0.9v0.9h-0.9zM98.5 393.0h0.9v0.9h-0.9zM98.9 385.2h0.9v0.9h-0.9zM97.1 393.8h0.9v0.9h-0.9zM94.5 380.7h0.9v0.9h-0.9zM98.2 381.1h0.9v0.9h-0.9zM92.6 385.6h0.9v0.9h-0.9zM93.4 388.4h0.9v0.9h-0.9zM93.6 379.8h0.9v0.9h-0.9zM96.3 391.7h0.9v0.9h-0.9zM97.2 380.9h0.9v0.9h-0.9zM92.2 387.8h0.9v0.9h-0.9zM94.8 385.1h0.9v0.9h-0.9zM93.9 393.5h0.9v0.9h-0.9zM99.1 385.9h0.9v0.9h-0.9zM95.0 383.3h0.9v0.9h-0.9zM99.4 393.5h0.9v0.9h-0.9zM93.7 384.3h0.9v0.9h-0.9zM99.0 384.9h0.9v0.9h-0.9zM96.3 394.9h0.9v0.9h-0.9zM97.1 379.0h0.9v0.9h-0.9zM95.0 379.7h0.9v0.9h-0.9zM96.6 377.7h0.9v0.9h-0.9zM95.4 387.2h0.9v0.9h-0.9zM95.6 384.9h0.9v0.9h-0.9zM99.1 390.2h0.9v0.9h-0.9zM94.2 392.0h0.9v0.9h-0.9zM96.1 388.7h0.9v0.9h-0.9zM95.2 384.2h0.9v0.9h-0.9zM92.2 385.4h0.9v0.9h-0.9zM97.5 390.7h0.9v0.9h-0.9zM92.7 394.4h0.9v0.9h-0.9zM98.1 385.3h0.9v0.9h-0.9zM96.8 386.0h0.9v0.9h-0.9zM96.0 387.5h0.9v0.9h-0.9zM99.0 382.9h0.9v0.9h-0.9zM97.2 393.2h0.9v0.9h-0.9zM92.6 381.4h0.9v0.9h-0.9zM93.5 380.5h0.9v0.9h-0.9zM92.6 387.1h0.9v0.9h-0.9zM97.7 386.8h0.9v0.9h-0.9zM92.5 381.4h0.9v0.9h-0.9zM97.9 389.5h0.9v0.9h-0.9zM98.7 389.9h0.9v0.9h-0.9zM96.1 392.7h0.9v0.9h-0.9zM96.7 381.6h0.9v0.9h-0.9zM93.5 381.9h0.9v0.9h-0.9zM93.8 388.7h0.9v0.9h-0.9zM95.0 385.4h0.9v0.9h-0.9zM94.6 384.5h0.9v0.9h-0.9zM94.7 387.0h0.9v0.9h-0.9zM92.2 394.2h0.9v0.9h-0.9zM98.4 376.5h0.9v0.9h-0.9zM92.6 383.6h0.9v0.9h-0.9zM97.5 386.1h0.9v0.9h-0.9zM93.1 391.7h0.9v0.9h-0.9zM97.2 380.9h0.9v0.9h-0.9zM92.9 387.1h0.9v0.9h-0.9zM94.7 392.3h0.9v0.9h-0.9zM95.8 381.9h0.9v0.9h-0.9zM94.1 393.2h0.9v0.9h-0.9zM92.9 392.1h0.9v0.9h-0.9zM95.0 382.4h0.9v0.9h-0.9zM99.2 393.6h0.9v0.9h-0.9zM94.3 387.6h0.9v0.9h-0.9zM96.2 389.9h0.9v0.9h-0.9zM93.5 383.1h0.9v0.9h-0.9zM92.6 379.7h0.9v0.9h-0.9zM96.9 381.0h0.9v0.9h-0.9zM97.8 387.2h0.9v0.9h-0.9zM93.0 383.9h0.9v0.9h-0.9zM96.4 378.9h0.9v0.9h-0.9zM95.5 389.5h0.9v0.9h-0.9zM97.2 390.4h0.9v0.9h-0.9zM93.7 386.6h0.9v0.9h-0.9zM97.7 379.0h0.9v0.9h-0.9zM95.4 391.9h0.9v0.9h-0.9zM96.3 376.7h0.9v0.9h-0.9zM94.4 381.3h0.9v0.9h-0.9zM92.1 392.6h0.9v0.9h-0.9zM96.6 392.7h0.9v0.9h-0.9zM93.8 380.4h0.9v0.9h-0.9zM96.2 393.1h0.9v0.9h-0.9zM94.1 384.5h0.9v0.9h-0.9zM94.2 384.4h0.9v0.9h-0.9zM96.8 393.9h0.9v0.9h-0.9zM93.8 391.3h0.9v0.9h-0.9zM97.0 388.6h0.9v0.9h-0.9zM93.8 377.2h0.9v0.9h-0.9zM92.8 377.6h0.9v0.9h-0.9zM92.8 384.7h0.9v0.9h-0.9zM100.1 377.9h0.9v0.9h-0.9zM97.3 394.0h0.9v0.9h-0.9zM95.7 381.5h0.9v0.9h-0.9zM98.1 383.5h0.9v0.9h-0.9zM96.8 383.8h0.9v0.9h-0.9zM95.6 394.5h0.9v0.9h-0.9zM94.7 386.7h0.9v0.9h-0.9zM94.5 392.8h0.9v0.9h-0.9zM99.6 394.5h0.9v0.9h-0.9zM94.6 394.6h0.9v0.9h-0.9zM97.0 380.6h0.9v0.9h-0.9zM94.2 384.9h0.9v0.9h-0.9zM94.0 377.0h0.9v0.9h-0.9zM92.0 388.2h0.9v0.9h-0.9zM91.5 388.4h0.9v0.9h-0.9zM94.3 389.8h0.9v0.9h-0.9zM99.5 386.4h0.9v0.9h-0.9zM95.2 380.8h0.9v0.9h-0.9zM93.9 382.9h0.9v0.9h-0.9zM91.2 382.0h0.9v0.9h-0.9zM95.1 382.0h0.9v0.9h-0.9zM97.8 386.4h0.9v0.9h-0.9zM94.1 388.6h0.9v0.9h-0.9zM96.5 384.8h0.9v0.9h-0.9zM94.3 381.6h0.9v0.9h-0.9zM94.0 386.4h0.9v0.9h-0.9zM98.7 383.7h0.9v0.9h-0.9zM96.3 385.3h0.9v0.9h-0.9zM94.8 379.8h0.9v0.9h-0.9zM94.6 388.4h0.9v0.9h-0.9zM92.9 388.0h0.9v0.9h-0.9zM95.4 377.7h0.9v0.9h-0.9zM96.0 385.9h0.9v0.9h-0.9zM95.1 380.2h0.9v0.9h-0.9zM94.0 385.0h0.9v0.9h-0.9zM94.9 393.6h0.9v0.9h-0.9zM94.7 377.9h0.9v0.9h-0.9zM93.2 378.0h0.9v0.9h-0.9zM94.5 383.9h0.9v0.9h-0.9zM92.9 389.4h0.9v0.9h-0.9zM91.5 378.7h0.9v0.9h-0.9zM93.6 392.1h0.9v0.9h-0.9zM96.7 389.2h0.9v0.9h-0.9zM96.0 387.4h0.9v0.9h-0.9zM96.4 389.7h0.9v0.9h-0.9zM96.9 386.1h0.9v0.9h-0.9zM99.6 380.3h0.9v0.9h-0.9zM92.9 386.5h0.9v0.9h-0.9zM93.3 380.0h0.9v0.9h-0.9zM96.9 380.6h0.9v0.9h-0.9zM91.5 386.1h0.9v0.9h-0.9zM96.3 377.6h0.9v0.9h-0.9zM96.5 384.4h0.9v0.9h-0.9zM94.4 392.9h0.9v0.9h-0.9zM95.3 391.0h0.9v0.9h-0.9zM96.9 385.6h0.9v0.9h-0.9zM92.5 393.2h0.9v0.9h-0.9zM92.5 388.0h0.9v0.9h-0.9zM92.7 382.2h0.9v0.9h-0.9zM91.2 390.0h0.9v0.9h-0.9zM99.0 375.6h0.9v0.9h-0.9zM93.9 381.1h0.9v0.9h-0.9zM93.0 382.1h0.9v0.9h-0.9zM95.7 388.5h0.9v0.9h-0.9zM94.5 393.8h0.9v0.9h-0.9zM94.4 384.0h0.9v0.9h-0.9zM100.7 393.3h0.9v0.9h-0.9zM95.1 383.1h0.9v0.9h-0.9zM99.0 382.1h0.9v0.9h-0.9zM97.4 380.9h0.9v0.9h-0.9zM94.3 390.4h0.9v0.9h-0.9zM95.8 383.6h0.9v0.9h-0.9zM96.2 384.1h0.9v0.9h-0.9zM94.5 381.2h0.9v0.9h-0.9zM98.8 388.8h0.9v0.9h-0.9zM92.5 392.7h0.9v0.9h-0.9zM93.0 378.5h0.9v0.9h-0.9zM93.8 384.2h0.9v0.9h-0.9zM95.8 378.4h0.9v0.9h-0.9zM97.6 390.2h0.9v0.9h-0.9zM97.9 393.3h0.9v0.9h-0.9zM92.8 391.6h0.9v0.9h-0.9zM98.1 378.8h0.9v0.9h-0.9zM97.2 382.7h0.9v0.9h-0.9zM97.8 390.1h0.9v0.9h-0.9zM93.6 390.2h0.9v0.9h-0.9zM97.4 385.3h0.9v0.9h-0.9zM96.1 382.3h0.9v0.9h-0.9zM98.5 386.9h0.9v0.9h-0.9zM95.2 390.6h0.9v0.9h-0.9zM99.1 380.2h0.9v0.9h-0.9zM92.4 384.0h0.9v0.9h-0.9zM91.3 383.6h0.9v0.9h-0.9zM97.6 386.3h0.9v0.9h-0.9zM93.6 394.0h0.9v0.9h-0.9zM95.2 391.0h0.9v0.9h-0.9zM94.4 380.5h0.9v0.9h-0.9zM97.8 380.9h0.9v0.9h-0.9zM95.6 390.5h0.9v0.9h-0.9zM94.7 381.9h0.9v0.9h-0.9zM97.1 384.5h0.9v0.9h-0.9zM95.9 384.5h0.9v0.9h-0.9zM99.2 382.4h0.9v0.9h-0.9zM94.0 390.5h0.9v0.9h-0.9zM92.5 389.1h0.9v0.9h-0.9zM94.1 383.3h0.9v0.9h-0.9zM95.2 389.3h0.9v0.9h-0.9zM94.0 383.3h0.9v0.9h-0.9zM94.6 384.2h0.9v0.9h-0.9zM96.6 383.2h0.9v0.9h-0.9zM92.5 387.3h0.9v0.9h-0.9zM95.5 394.6h0.9v0.9h-0.9zM94.3 390.5h0.9v0.9h-0.9zM94.5 382.6h0.9v0.9h-0.9zM98.2 386.6h0.9v0.9h-0.9zM96.0 388.5h0.9v0.9h-0.9zM100.3 379.2h0.9v0.9h-0.9zM92.9 389.9h0.9v0.9h-0.9zM93.3 379.2h0.9v0.9h-0.9zM98.0 385.6h0.9v0.9h-0.9zM95.3 383.7h0.9v0.9h-0.9zM94.4 386.8h0.9v0.9h-0.9zM96.5 378.1h0.9v0.9h-0.9zM100.0 381.2h0.9v0.9h-0.9zM98.1 383.3h0.9v0.9h-0.9zM96.1 391.2h0.9v0.9h-0.9zM98.7 394.0h0.9v0.9h-0.9zM92.1 386.7h0.9v0.9h-0.9zM95.9 392.7h0.9v0.9h-0.9zM93.7 389.5h0.9v0.9h-0.9zM91.7 386.1h0.9v0.9h-0.9zM93.2 393.3h0.9v0.9h-0.9zM94.8 378.3h0.9v0.9h-0.9zM94.6 377.8h0.9v0.9h-0.9zM98.5 378.0h0.9v0.9h-0.9zM92.4 391.5h0.9v0.9h-0.9zM93.7 388.3h0.9v0.9h-0.9zM92.8 394.6h0.9v0.9h-0.9zM93.3 385.7h0.9v0.9h-0.9zM93.4 391.6h0.9v0.9h-0.9zM98.7 383.3h0.9v0.9h-0.9zM92.8 379.0h0.9v0.9h-0.9zM97.3 383.0h0.9v0.9h-0.9zM97.0 385.3h0.9v0.9h-0.9z" fill="#111"/>
<path d="M94.9 364.9h0.9v0.9h-0.9zM101.6 370.2h0.9v0.9h-0.9zM98.6 367.4h0.9v0.9h-0.9zM107.3 369.6h0.9v0.9h-0.9zM110.2 362.5h0.9v0.9h-0.9zM101.7 369.1h0.9v0.9h-0.9zM94.5 364.0h0.9v0.9h-0.9zM112.8 366.7h0.9v0.9h-0.9zM105.7 365.8h0.9v0.9h-0.9zM97.0 369.8h0.9v0.9h-0.9zM97.9 371.0h0.9v0.9h-0.9zM101.3 365.4h0.9v0.9h-0.9zM109.1 365.4h0.9v0.9h-0.9zM113.3 364.1h0.9v0.9h-0.9zM113.5 368.7h0.9v0.9h-0.9zM105.8 367.8h0.9v0.9h-0.9zM97.1 363.7h0.9v0.9h-0.9zM102.0 364.2h0.9v0.9h-0.9zM105.0 364.9h0.9v0.9h-0.9zM106.7 362.8h0.9v0.9h-0.9zM107.6 364.6h0.9v0.9h-0.9zM106.6 365.8h0.9v0.9h-0.9zM112.6 369.8h0.9v0.9h-0.9zM99.5 370.1h0.9v0.9h-0.9zM103.6 366.8h0.9v0.9h-0.9zM107.1 366.3h0.9v0.9h-0.9zM114.0 369.0h0.9v0.9h-0.9zM111.8 370.5h0.9v0.9h-0.9zM97.3 369.6h0.9v0.9h-0.9zM105.5 366.5h0.9v0.9h-0.9zM97.8 370.1h0.9v0.9h-0.9zM112.0 364.0h0.9v0.9h-0.9zM102.3 365.7h0.9v0.9h-0.9zM96.7 368.7h0.9v0.9h-0.9zM95.2 363.6h0.9v0.9h-0.9zM94.3 366.9h0.9v0.9h-0.9zM94.6 364.6h0.9v0.9h-0.9zM104.8 362.9h0.9v0.9h-0.9zM107.4 363.4h0.9v0.9h-0.9zM105.0 364.7h0.9v0.9h-0.9zM113.6 370.6h0.9v0.9h-0.9zM102.1 369.1h0.9v0.9h-0.9zM109.5 364.9h0.9v0.9h-0.9zM104.0 369.3h0.9v0.9h-0.9zM109.0 366.9h0.9v0.9h-0.9zM111.8 368.7h0.9v0.9h-0.9zM109.4 368.1h0.9v0.9h-0.9zM111.2 369.3h0.9v0.9h-0.9zM106.9 364.3h0.9v0.9h-0.9zM96.5 366.6h0.9v0.9h-0.9zM97.9 368.9h0.9v0.9h-0.9zM108.6 369.4h0.9v0.9h-0.9zM111.9 369.2h0.9v0.9h-0.9zM109.2 363.0h0.9v0.9h-0.9zM109.3 363.9h0.9v0.9h-0.9zM103.6 362.6h0.9v0.9h-0.9zM97.9 366.6h0.9v0.9h-0.9zM112.0 366.7h0.9v0.9h-0.9zM96.2 366.2h0.9v0.9h-0.9zM102.0 371.1h0.9v0.9h-0.9zM110.1 371.2h0.9v0.9h-0.9zM111.7 365.8h0.9v0.9h-0.9zM106.6 362.8h0.9v0.9h-0.9zM112.8 368.7h0.9v0.9h-0.9zM98.3 371.6h0.9v0.9h-0.9zM99.2 369.2h0.9v0.9h-0.9zM98.5 368.3h0.9v0.9h-0.9zM109.1 366.2h0.9v0.9h-0.9zM94.5 370.3h0.9v0.9h-0.9zM93.7 370.4h0.9v0.9h-0.9zM97.1 365.1h0.9v0.9h-0.9zM115.3 366.1h0.9v0.9h-0.9zM111.0 365.7h0.9v0.9h-0.9zM113.4 364.5h0.9v0.9h-0.9zM112.2 367.3h0.9v0.9h-0.9zM94.3 363.6h0.9v0.9h-0.9zM112.1 362.8h0.9v0.9h-0.9zM108.0 363.7h0.9v0.9h-0.9zM96.8 370.1h0.9v0.9h-0.9zM99.6 366.6h0.9v0.9h-0.9zM107.5 371.8h0.9v0.9h-0.9zM104.8 365.4h0.9v0.9h-0.9zM114.1 367.9h0.9v0.9h-0.9zM94.2 363.8h0.9v0.9h-0.9zM95.1 368.0h0.9v0.9h-0.9zM99.0 362.8h0.9v0.9h-0.9zM114.4 369.5h0.9v0.9h-0.9zM106.0 364.5h0.9v0.9h-0.9zM111.1 363.6h0.9v0.9h-0.9zM107.0 367.9h0.9v0.9h-0.9z" fill="#333"/>
<path d="M95.1 375.0h0.9v0.9h-0.9zM88.9 392.7h0.9v0.9h-0.9zM87.8 388.1h0.9v0.9h-0.9zM86.4 391.8h0.9v0.9h-0.9zM86.7 390.3h0.9v0.9h-0.9zM91.4 375.6h0.9v0.9h-0.9zM90.9 385.8h0.9v0.9h-0.9zM87.8 381.5h0.9v0.9h-0.9zM92.1 382.7h0.9v0.9h-0.9zM86.6 391.8h0.9v0.9h-0.9zM92.8 388.8h0.9v0.9h-0.9zM92.4 375.0h0.9v0.9h-0.9zM87.8 381.3h0.9v0.9h-0.9zM86.2 377.5h0.9v0.9h-0.9zM94.3 385.0h0.9v0.9h-0.9zM87.6 377.0h0.9v0.9h-0.9zM86.9 392.2h0.9v0.9h-0.9zM93.8 391.8h0.9v0.9h-0.9zM87.9 385.5h0.9v0.9h-0.9zM88.6 388.8h0.9v0.9h-0.9zM94.7 384.2h0.9v0.9h-0.9zM86.5 378.1h0.9v0.9h-0.9zM84.6 376.1h0.9v0.9h-0.9zM90.9 378.8h0.9v0.9h-0.9zM94.9 375.6h0.9v0.9h-0.9zM88.0 386.8h0.9v0.9h-0.9zM88.4 379.9h0.9v0.9h-0.9zM86.6 374.9h0.9v0.9h-0.9zM93.1 381.8h0.9v0.9h-0.9zM90.5 383.7h0.9v0.9h-0.9zM89.0 392.9h0.9v0.9h-0.9zM88.2 382.6h0.9v0.9h-0.9zM86.2 378.0h0.9v0.9h-0.9zM91.9 380.1h0.9v0.9h-0.9zM86.5 386.5h0.9v0.9h-0.9zM91.6 392.2h0.9v0.9h-0.9zM91.7 375.2h0.9v0.9h-0.9zM85.7 377.7h0.9v0.9h-0.9zM88.5 390.5h0.9v0.9h-0.9zM94.2 375.6h0.9v0.9h-0.9zM90.3 386.8h0.9v0.9h-0.9zM92.0 378.4h0.9v0.9h-0.9zM92.9 375.9h0.9v0.9h-0.9zM90.1 389.7h0.9v0.9h-0.9zM88.1 382.1h0.9v0.9h-0.9zM89.1 375.3h0.9v0.9h-0.9zM91.3 385.5h0.9v0.9h-0.9zM90.9 386.3h0.9v0.9h-0.9zM89.2 385.3h0.9v0.9h-0.9zM87.8 382.0h0.9v0.9h-0.9zM89.8 376.7h0.9v0.9h-0.9zM91.9 381.8h0.9v0.9h-0.9zM88.7 387.7h0.9v0.9h-0.9zM89.6 386.6h0.9v0.9h-0.9zM94.2 393.0h0.9v0.9h-0.9zM94.2 380.8h0.9v0.9h-0.9zM94.7 376.5h0.9v0.9h-0.9zM87.2 383.1h0.9v0.9h-0.9zM84.7 374.2h0.9v0.9h-0.9zM91.0 392.9h0.9v0.9h-0.9zM93.4 373.4h0.9v0.9h-0.9zM91.3 374.3h0.9v0.9h-0.9zM91.5 374.7h0.9v0.9h-0.9zM89.1 392.0h0.9v0.9h-0.9zM86.2 380.8h0.9v0.9h-0.9zM88.8 372.6h0.9v0.9h-0.9zM89.8 373.3h0.9v0.9h-0.9zM88.8 375.2h0.9v0.9h-0.9zM91.3 383.7h0.9v0.9h-0.9zM94.2 372.2h0.9v0.9h-0.9z" fill="#444"/>
<path d="M99.5 375.2 L115.2 369.3 L115.2 395.6 L99.5 395.6 Z" fill="#000"/>
<text x="129.8" y="335.8" font-size="11" font-weight="bold" text-anchor="end" >5.5%</text>
<line x1="122.00" y1="347.70" x2="163.10" y2="326.90" stroke="#111" stroke-width="1.1"/>
<line x1="122.00" y1="376.20" x2="168.50" y2="399.80" stroke="#111" stroke-width="1.1"/>
<path d="M183.2 345.0v2.2M183.2 345.0h-2.2M189.7 345.0v1.3M183.2 339.7h-1.3M193.6 345.0v1.3M183.2 336.6h-1.3M196.3 345.0v1.3M183.2 334.4h-1.3M198.4 345.0v1.3M183.2 332.7h-1.3M200.1 345.0v1.3M183.2 331.3h-1.3M201.6 345.0v1.3M183.2 330.1h-1.3M202.8 345.0v1.3M183.2 329.1h-1.3M204.0 345.0v1.3M183.2 328.2h-1.3M204.9 345.0v2.2M183.2 327.4h-2.2M211.5 345.0v1.3M183.2 322.1h-1.3M215.3 345.0v1.3M183.2 319.0h-1.3M218.0 345.0v1.3M183.2 316.8h-1.3M220.2 345.0v1.3M183.2 315.1h-1.3M221.9 345.0v1.3M183.2 313.7h-1.3M223.3 345.0v1.3M183.2 312.5h-1.3M224.6 345.0v1.3M183.2 311.5h-1.3M225.7 345.0v1.3M183.2 310.6h-1.3M226.7 345.0v2.2M183.2 309.8h-2.2M233.2 345.0v1.3M183.2 304.4h-1.3M237.1 345.0v1.3M183.2 301.3h-1.3M239.8 345.0v1.3M183.2 299.1h-1.3M241.9 345.0v1.3M183.2 297.4h-1.3M243.6 345.0v1.3M183.2 296.0h-1.3M245.1 345.0v1.3M183.2 294.9h-1.3M246.3 345.0v1.3M183.2 293.8h-1.3M247.5 345.0v1.3M183.2 292.9h-1.3M248.4 345.0v2.2M183.2 292.1h-2.2M255.0 345.0v1.3M183.2 286.8h-1.3M258.8 345.0v1.3M183.2 283.7h-1.3M261.5 345.0v1.3M183.2 281.5h-1.3M263.7 345.0v1.3M183.2 279.8h-1.3M265.4 345.0v1.3M183.2 278.4h-1.3M266.8 345.0v1.3M183.2 277.2h-1.3M268.1 345.0v1.3M183.2 276.2h-1.3M269.2 345.0v1.3M183.2 275.3h-1.3M270.2 345.0v2.2M183.2 274.5h-2.2" stroke="#222" stroke-width="0.8" fill="none"/>
<rect x="183.2" y="274.5" width="87.0" height="70.5" fill="none" stroke="#111" stroke-width="1.1"/>
<line x1="231.50" y1="274.50" x2="231.50" y2="345.00" stroke="#111" stroke-width="1.1"/>
<line x1="183.20" y1="319.60" x2="270.20" y2="319.60" stroke="#111" stroke-width="1.1"/>
<text class="tk" x="183.8" y="355.2" font-size="7" text-anchor="middle">10<tspan font-size="5.4" dy="-2.8">0</tspan></text>
<text class="tk" transform="translate(177.8,345.0) rotate(-90)" font-size="7" text-anchor="middle">10<tspan font-size="5.4" dy="-2.8">0</tspan></text>
<text class="tk" x="205.5" y="355.2" font-size="7" text-anchor="middle">10<tspan font-size="5.4" dy="-2.8">1</tspan></text>
<text class="tk" transform="translate(177.8,327.4) rotate(-90)" font-size="7" text-anchor="middle">10<tspan font-size="5.4" dy="-2.8">1</tspan></text>
<text class="tk" x="227.3" y="355.2" font-size="7" text-anchor="middle">10<tspan font-size="5.4" dy="-2.8">2</tspan></text>
<text class="tk" transform="translate(177.8,309.8) rotate(-90)" font-size="7" text-anchor="middle">10<tspan font-size="5.4" dy="-2.8">2</tspan></text>
<text class="tk" x="249.0" y="355.2" font-size="7" text-anchor="middle">10<tspan font-size="5.4" dy="-2.8">3</tspan></text>
<text class="tk" transform="translate(177.8,292.1) rotate(-90)" font-size="7" text-anchor="middle">10<tspan font-size="5.4" dy="-2.8">3</tspan></text>
<text class="tk" x="270.8" y="355.2" font-size="7" text-anchor="middle">10<tspan font-size="5.4" dy="-2.8">4</tspan></text>
<text class="tk" transform="translate(177.8,274.5) rotate(-90)" font-size="7" text-anchor="middle">10<tspan font-size="5.4" dy="-2.8">4</tspan></text>
<path d="M213.2 315.0h0.9v0.9h-0.9zM204.7 306.0h0.9v0.9h-0.9zM211.3 314.1h0.9v0.9h-0.9zM211.0 307.6h0.9v0.9h-0.9zM214.1 308.9h0.9v0.9h-0.9zM208.1 311.6h0.9v0.9h-0.9zM204.1 299.6h0.9v0.9h-0.9zM208.4 312.0h0.9v0.9h-0.9zM209.6 311.2h0.9v0.9h-0.9zM208.1 313.3h0.9v0.9h-0.9zM207.8 315.2h0.9v0.9h-0.9zM207.5 312.3h0.9v0.9h-0.9zM204.2 310.3h0.9v0.9h-0.9zM209.5 309.6h0.9v0.9h-0.9zM215.6 309.2h0.9v0.9h-0.9zM213.3 310.5h0.9v0.9h-0.9zM213.1 305.3h0.9v0.9h-0.9zM205.2 313.0h0.9v0.9h-0.9zM202.8 310.6h0.9v0.9h-0.9zM210.3 309.8h0.9v0.9h-0.9zM209.6 311.2h0.9v0.9h-0.9zM205.9 310.7h0.9v0.9h-0.9zM204.4 307.1h0.9v0.9h-0.9zM198.6 308.6h0.9v0.9h-0.9zM198.0 309.1h0.9v0.9h-0.9zM208.3 304.5h0.9v0.9h-0.9zM207.6 310.2h0.9v0.9h-0.9zM205.3 305.2h0.9v0.9h-0.9zM206.6 310.7h0.9v0.9h-0.9zM212.2 317.0h0.9v0.9h-0.9zM196.5 310.4h0.9v0.9h-0.9zM209.6 306.4h0.9v0.9h-0.9zM209.0 317.7h0.9v0.9h-0.9zM207.8 314.7h0.9v0.9h-0.9zM213.0 307.2h0.9v0.9h-0.9zM194.7 313.8h0.9v0.9h-0.9zM215.6 301.7h0.9v0.9h-0.9zM206.1 306.1h0.9v0.9h-0.9zM208.3 309.3h0.9v0.9h-0.9zM213.4 306.6h0.9v0.9h-0.9zM217.7 301.9h0.9v0.9h-0.9zM208.4 320.1h0.9v0.9h-0.9zM206.7 311.6h0.9v0.9h-0.9zM204.7 322.7h0.9v0.9h-0.9zM212.0 307.6h0.9v0.9h-0.9zM196.8 309.9h0.9v0.9h-0.9zM211.2 300.5h0.9v0.9h-0.9zM204.6 311.3h0.9v0.9h-0.9zM194.2 308.2h0.9v0.9h-0.9zM198.6 303.4h0.9v0.9h-0.9zM209.4 313.7h0.9v0.9h-0.9zM213.5 306.3h0.9v0.9h-0.9zM210.0 301.7h0.9v0.9h-0.9zM199.2 311.3h0.9v0.9h-0.9zM205.0 304.8h0.9v0.9h-0.9zM197.1 308.0h0.9v0.9h-0.9zM219.3 300.6h0.9v0.9h-0.9zM201.5 313.7h0.9v0.9h-0.9zM196.8 306.4h0.9v0.9h-0.9zM207.6 313.7h0.9v0.9h-0.9zM206.8 316.6h0.9v0.9h-0.9zM207.0 308.5h0.9v0.9h-0.9zM209.6 310.5h0.9v0.9h-0.9zM199.1 305.1h0.9v0.9h-0.9zM205.9 310.4h0.9v0.9h-0.9zM200.6 306.0h0.9v0.9h-0.9zM203.2 310.4h0.9v0.9h-0.9zM204.9 311.5h0.9v0.9h-0.9zM209.3 305.2h0.9v0.9h-0.9zM205.6 303.8h0.9v0.9h-0.9zM207.8 312.4h0.9v0.9h-0.9zM201.8 301.6h0.9v0.9h-0.9zM210.0 307.8h0.9v0.9h-0.9zM207.1 310.9h0.9v0.9h-0.9zM209.3 312.9h0.9v0.9h-0.9zM204.7 299.8h0.9v0.9h-0.9zM204.6 307.7h0.9v0.9h-0.9zM205.0 310.6h0.9v0.9h-0.9zM205.8 314.4h0.9v0.9h-0.9zM203.8 309.0h0.9v0.9h-0.9zM205.3 317.8h0.9v0.9h-0.9zM202.0 304.8h0.9v0.9h-0.9zM205.1 312.2h0.9v0.9h-0.9zM207.3 308.3h0.9v0.9h-0.9zM199.2 300.4h0.9v0.9h-0.9zM206.0 308.0h0.9v0.9h-0.9zM216.8 310.6h0.9v0.9h-0.9zM209.5 313.0h0.9v0.9h-0.9zM202.3 303.9h0.9v0.9h-0.9zM205.2 315.2h0.9v0.9h-0.9zM212.6 306.6h0.9v0.9h-0.9zM200.4 312.9h0.9v0.9h-0.9zM213.2 304.4h0.9v0.9h-0.9zM216.0 305.8h0.9v0.9h-0.9zM211.3 308.1h0.9v0.9h-0.9zM205.4 306.5h0.9v0.9h-0.9zM211.0 311.6h0.9v0.9h-0.9zM211.6 307.8h0.9v0.9h-0.9zM202.6 318.0h0.9v0.9h-0.9zM216.6 308.2h0.9v0.9h-0.9zM200.9 315.3h0.9v0.9h-0.9zM207.9 309.2h0.9v0.9h-0.9zM211.9 310.5h0.9v0.9h-0.9zM207.8 317.3h0.9v0.9h-0.9zM196.9 311.7h0.9v0.9h-0.9zM201.8 309.3h0.9v0.9h-0.9zM206.3 310.1h0.9v0.9h-0.9zM194.0 311.9h0.9v0.9h-0.9zM220.0 307.3h0.9v0.9h-0.9zM212.1 311.6h0.9v0.9h-0.9zM208.8 306.9h0.9v0.9h-0.9zM210.7 310.1h0.9v0.9h-0.9zM215.1 312.5h0.9v0.9h-0.9zM203.3 296.8h0.9v0.9h-0.9zM215.5 311.0h0.9v0.9h-0.9zM208.1 306.5h0.9v0.9h-0.9zM221.0 314.6h0.9v0.9h-0.9zM207.7 307.5h0.9v0.9h-0.9zM210.4 314.7h0.9v0.9h-0.9zM210.1 313.0h0.9v0.9h-0.9zM208.6 310.5h0.9v0.9h-0.9zM200.2 309.5h0.9v0.9h-0.9zM207.5 308.7h0.9v0.9h-0.9zM205.9 310.3h0.9v0.9h-0.9zM204.0 308.2h0.9v0.9h-0.9zM200.0 318.7h0.9v0.9h-0.9zM202.3 304.0h0.9v0.9h-0.9zM204.2 307.3h0.9v0.9h-0.9zM201.3 298.8h0.9v0.9h-0.9zM216.3 313.3h0.9v0.9h-0.9zM205.1 311.3h0.9v0.9h-0.9zM201.1 302.2h0.9v0.9h-0.9zM209.0 311.4h0.9v0.9h-0.9zM203.4 309.0h0.9v0.9h-0.9zM190.2 308.5h0.9v0.9h-0.9zM213.0 309.7h0.9v0.9h-0.9zM208.2 311.4h0.9v0.9h-0.9zM195.7 303.6h0.9v0.9h-0.9zM200.2 310.0h0.9v0.9h-0.9zM203.7 301.1h0.9v0.9h-0.9zM212.1 308.2h0.9v0.9h-0.9zM212.7 317.4h0.9v0.9h-0.9zM198.0 303.7h0.9v0.9h-0.9zM213.2 314.9h0.9v0.9h-0.9zM209.4 310.5h0.9v0.9h-0.9zM211.0 311.7h0.9v0.9h-0.9zM200.1 312.1h0.9v0.9h-0.9zM212.7 307.3h0.9v0.9h-0.9zM202.1 307.0h0.9v0.9h-0.9zM203.9 311.2h0.9v0.9h-0.9zM211.5 309.1h0.9v0.9h-0.9zM205.5 301.6h0.9v0.9h-0.9zM204.8 304.8h0.9v0.9h-0.9zM204.1 310.4h0.9v0.9h-0.9zM208.1 323.7h0.9v0.9h-0.9zM202.3 306.8h0.9v0.9h-0.9zM200.8 307.9h0.9v0.9h-0.9zM205.6 313.2h0.9v0.9h-0.9zM196.4 312.8h0.9v0.9h-0.9zM210.8 306.8h0.9v0.9h-0.9zM203.4 309.8h0.9v0.9h-0.9zM210.1 308.3h0.9v0.9h-0.9zM206.3 309.1h0.9v0.9h-0.9zM201.2 310.1h0.9v0.9h-0.9zM210.4 309.2h0.9v0.9h-0.9zM200.9 309.0h0.9v0.9h-0.9zM206.6 310.3h0.9v0.9h-0.9zM204.9 312.5h0.9v0.9h-0.9zM213.2 312.4h0.9v0.9h-0.9zM208.5 314.1h0.9v0.9h-0.9zM207.0 308.3h0.9v0.9h-0.9zM199.2 309.1h0.9v0.9h-0.9zM213.9 305.0h0.9v0.9h-0.9zM211.5 303.7h0.9v0.9h-0.9zM208.8 316.6h0.9v0.9h-0.9zM207.4 304.2h0.9v0.9h-0.9zM208.8 308.4h0.9v0.9h-0.9zM211.6 306.8h0.9v0.9h-0.9zM197.6 307.0h0.9v0.9h-0.9zM210.5 313.3h0.9v0.9h-0.9zM208.7 309.1h0.9v0.9h-0.9zM211.0 308.2h0.9v0.9h-0.9zM204.7 309.9h0.9v0.9h-0.9zM213.3 306.9h0.9v0.9h-0.9zM209.9 306.4h0.9v0.9h-0.9zM203.1 309.7h0.9v0.9h-0.9zM199.8 305.5h0.9v0.9h-0.9zM200.6 306.5h0.9v0.9h-0.9zM202.1 318.6h0.9v0.9h-0.9zM210.6 309.3h0.9v0.9h-0.9zM199.7 299.2h0.9v0.9h-0.9zM209.6 306.4h0.9v0.9h-0.9zM213.0 307.4h0.9v0.9h-0.9zM199.9 306.4h0.9v0.9h-0.9zM198.7 303.2h0.9v0.9h-0.9zM211.1 306.8h0.9v0.9h-0.9zM211.0 306.7h0.9v0.9h-0.9zM205.9 306.7h0.9v0.9h-0.9zM204.1 306.3h0.9v0.9h-0.9zM215.5 308.8h0.9v0.9h-0.9zM196.3 316.0h0.9v0.9h-0.9zM214.1 313.6h0.9v0.9h-0.9zM206.6 308.4h0.9v0.9h-0.9zM204.5 309.5h0.9v0.9h-0.9zM209.8 309.0h0.9v0.9h-0.9zM202.6 305.0h0.9v0.9h-0.9zM216.4 315.9h0.9v0.9h-0.9zM200.3 306.4h0.9v0.9h-0.9zM206.9 311.4h0.9v0.9h-0.9zM206.5 310.0h0.9v0.9h-0.9zM209.2 313.7h0.9v0.9h-0.9zM199.9 313.5h0.9v0.9h-0.9zM209.6 311.2h0.9v0.9h-0.9zM198.8 308.1h0.9v0.9h-0.9zM205.7 311.6h0.9v0.9h-0.9zM211.0 311.8h0.9v0.9h-0.9zM199.9 314.2h0.9v0.9h-0.9zM207.5 312.8h0.9v0.9h-0.9zM207.1 306.1h0.9v0.9h-0.9zM221.8 311.7h0.9v0.9h-0.9zM211.4 307.1h0.9v0.9h-0.9zM205.9 313.6h0.9v0.9h-0.9zM209.6 316.2h0.9v0.9h-0.9zM213.8 304.6h0.9v0.9h-0.9zM198.6 313.7h0.9v0.9h-0.9zM210.5 308.0h0.9v0.9h-0.9zM205.5 306.7h0.9v0.9h-0.9zM217.1 308.4h0.9v0.9h-0.9zM199.4 312.7h0.9v0.9h-0.9zM206.7 310.5h0.9v0.9h-0.9zM205.0 308.9h0.9v0.9h-0.9zM196.6 311.2h0.9v0.9h-0.9zM203.3 307.5h0.9v0.9h-0.9zM208.9 314.2h0.9v0.9h-0.9zM195.1 308.5h0.9v0.9h-0.9zM210.2 313.1h0.9v0.9h-0.9zM202.0 310.3h0.9v0.9h-0.9zM209.3 312.8h0.9v0.9h-0.9zM203.7 308.3h0.9v0.9h-0.9zM204.3 313.6h0.9v0.9h-0.9zM213.2 307.2h0.9v0.9h-0.9zM206.4 309.9h0.9v0.9h-0.9zM202.1 308.6h0.9v0.9h-0.9zM211.9 312.2h0.9v0.9h-0.9zM203.3 306.4h0.9v0.9h-0.9zM206.5 303.1h0.9v0.9h-0.9zM208.8 309.5h0.9v0.9h-0.9zM199.7 308.1h0.9v0.9h-0.9zM203.4 307.9h0.9v0.9h-0.9zM202.2 314.5h0.9v0.9h-0.9zM201.7 312.1h0.9v0.9h-0.9zM208.3 314.9h0.9v0.9h-0.9zM206.8 309.0h0.9v0.9h-0.9zM207.5 301.4h0.9v0.9h-0.9zM220.5 308.2h0.9v0.9h-0.9zM205.3 304.5h0.9v0.9h-0.9zM206.3 315.5h0.9v0.9h-0.9zM202.9 310.8h0.9v0.9h-0.9zM212.9 312.8h0.9v0.9h-0.9zM204.8 302.0h0.9v0.9h-0.9zM209.4 311.3h0.9v0.9h-0.9zM205.3 307.3h0.9v0.9h-0.9zM216.9 302.7h0.9v0.9h-0.9zM204.2 306.6h0.9v0.9h-0.9zM198.4 306.3h0.9v0.9h-0.9zM202.6 314.0h0.9v0.9h-0.9zM197.3 303.5h0.9v0.9h-0.9zM208.6 302.8h0.9v0.9h-0.9zM195.9 306.5h0.9v0.9h-0.9zM200.4 305.1h0.9v0.9h-0.9zM206.2 310.9h0.9v0.9h-0.9zM203.5 307.9h0.9v0.9h-0.9zM211.1 308.4h0.9v0.9h-0.9zM211.2 306.7h0.9v0.9h-0.9zM209.8 314.1h0.9v0.9h-0.9zM199.4 321.0h0.9v0.9h-0.9zM205.3 307.7h0.9v0.9h-0.9zM206.2 310.9h0.9v0.9h-0.9zM200.3 309.2h0.9v0.9h-0.9zM203.8 314.7h0.9v0.9h-0.9zM197.4 311.6h0.9v0.9h-0.9zM205.3 306.1h0.9v0.9h-0.9zM207.9 308.1h0.9v0.9h-0.9zM207.3 310.0h0.9v0.9h-0.9zM213.8 307.4h0.9v0.9h-0.9zM216.4 298.3h0.9v0.9h-0.9zM217.3 313.9h0.9v0.9h-0.9zM215.8 309.8h0.9v0.9h-0.9zM208.7 305.0h0.9v0.9h-0.9zM214.6 304.4h0.9v0.9h-0.9zM202.7 309.1h0.9v0.9h-0.9zM208.4 310.4h0.9v0.9h-0.9zM200.6 307.7h0.9v0.9h-0.9zM209.8 313.8h0.9v0.9h-0.9zM211.4 310.7h0.9v0.9h-0.9zM205.6 306.9h0.9v0.9h-0.9zM204.2 308.7h0.9v0.9h-0.9zM210.0 307.0h0.9v0.9h-0.9zM218.6 305.1h0.9v0.9h-0.9zM211.6 308.2h0.9v0.9h-0.9zM206.3 307.5h0.9v0.9h-0.9zM215.7 307.9h0.9v0.9h-0.9zM210.2 309.5h0.9v0.9h-0.9zM211.3 311.4h0.9v0.9h-0.9zM216.3 306.2h0.9v0.9h-0.9zM202.5 315.8h0.9v0.9h-0.9zM214.2 309.3h0.9v0.9h-0.9zM205.5 310.1h0.9v0.9h-0.9zM214.4 306.0h0.9v0.9h-0.9zM215.2 308.8h0.9v0.9h-0.9zM205.1 307.5h0.9v0.9h-0.9zM195.4 310.3h0.9v0.9h-0.9zM199.8 306.8h0.9v0.9h-0.9zM202.1 310.0h0.9v0.9h-0.9zM211.1 309.2h0.9v0.9h-0.9zM208.2 310.7h0.9v0.9h-0.9zM216.1 311.4h0.9v0.9h-0.9zM215.9 308.8h0.9v0.9h-0.9zM209.1 306.5h0.9v0.9h-0.9zM210.4 305.7h0.9v0.9h-0.9zM209.7 306.6h0.9v0.9h-0.9zM205.1 313.9h0.9v0.9h-0.9zM207.9 312.2h0.9v0.9h-0.9zM205.8 301.7h0.9v0.9h-0.9zM215.3 308.3h0.9v0.9h-0.9zM203.5 312.8h0.9v0.9h-0.9zM200.8 306.1h0.9v0.9h-0.9zM213.5 306.3h0.9v0.9h-0.9zM213.4 307.9h0.9v0.9h-0.9zM205.9 309.3h0.9v0.9h-0.9zM204.3 313.3h0.9v0.9h-0.9zM213.2 309.3h0.9v0.9h-0.9zM210.5 311.2h0.9v0.9h-0.9zM216.5 302.8h0.9v0.9h-0.9zM212.8 312.7h0.9v0.9h-0.9zM205.3 309.1h0.9v0.9h-0.9zM205.2 314.0h0.9v0.9h-0.9zM200.7 311.5h0.9v0.9h-0.9zM214.3 311.3h0.9v0.9h-0.9zM204.4 307.2h0.9v0.9h-0.9zM195.3 305.0h0.9v0.9h-0.9zM213.2 305.3h0.9v0.9h-0.9zM198.0 308.1h0.9v0.9h-0.9zM198.8 310.9h0.9v0.9h-0.9zM202.2 312.8h0.9v0.9h-0.9zM206.4 303.5h0.9v0.9h-0.9zM202.8 306.5h0.9v0.9h-0.9zM202.4 314.0h0.9v0.9h-0.9zM201.5 310.5h0.9v0.9h-0.9zM203.8 311.4h0.9v0.9h-0.9zM199.1 302.9h0.9v0.9h-0.9zM210.0 314.7h0.9v0.9h-0.9zM199.4 307.8h0.9v0.9h-0.9zM204.3 305.4h0.9v0.9h-0.9zM212.5 309.3h0.9v0.9h-0.9zM199.4 308.2h0.9v0.9h-0.9zM214.5 306.3h0.9v0.9h-0.9zM204.2 305.8h0.9v0.9h-0.9zM208.0 306.9h0.9v0.9h-0.9zM212.1 305.8h0.9v0.9h-0.9zM199.0 310.9h0.9v0.9h-0.9zM189.4 305.3h0.9v0.9h-0.9zM208.7 310.0h0.9v0.9h-0.9zM203.9 307.3h0.9v0.9h-0.9zM210.0 323.8h0.9v0.9h-0.9zM202.6 308.4h0.9v0.9h-0.9zM204.6 311.3h0.9v0.9h-0.9zM207.2 311.3h0.9v0.9h-0.9zM216.2 308.0h0.9v0.9h-0.9zM205.5 310.6h0.9v0.9h-0.9zM218.8 307.7h0.9v0.9h-0.9zM216.5 313.8h0.9v0.9h-0.9zM191.8 305.1h0.9v0.9h-0.9zM201.6 310.6h0.9v0.9h-0.9zM214.5 309.3h0.9v0.9h-0.9zM208.0 317.6h0.9v0.9h-0.9zM209.1 317.6h0.9v0.9h-0.9zM202.1 315.6h0.9v0.9h-0.9zM204.3 299.5h0.9v0.9h-0.9zM202.5 307.2h0.9v0.9h-0.9zM206.9 312.1h0.9v0.9h-0.9zM211.0 311.1h0.9v0.9h-0.9zM202.9 316.1h0.9v0.9h-0.9zM213.8 309.2h0.9v0.9h-0.9zM203.9 308.9h0.9v0.9h-0.9zM205.9 306.3h0.9v0.9h-0.9zM207.1 306.4h0.9v0.9h-0.9zM210.7 306.5h0.9v0.9h-0.9zM209.9 310.3h0.9v0.9h-0.9zM208.0 311.1h0.9v0.9h-0.9zM201.4 319.3h0.9v0.9h-0.9zM203.2 312.0h0.9v0.9h-0.9zM207.2 307.4h0.9v0.9h-0.9zM216.8 313.4h0.9v0.9h-0.9zM205.6 311.3h0.9v0.9h-0.9zM210.9 315.3h0.9v0.9h-0.9zM212.8 308.4h0.9v0.9h-0.9zM205.7 304.5h0.9v0.9h-0.9zM208.6 312.5h0.9v0.9h-0.9zM204.9 311.7h0.9v0.9h-0.9zM207.9 307.2h0.9v0.9h-0.9zM200.3 313.5h0.9v0.9h-0.9zM221.3 311.2h0.9v0.9h-0.9zM201.1 305.0h0.9v0.9h-0.9zM208.5 311.6h0.9v0.9h-0.9zM215.6 299.5h0.9v0.9h-0.9zM217.5 309.7h0.9v0.9h-0.9zM207.9 310.6h0.9v0.9h-0.9zM205.1 307.9h0.9v0.9h-0.9zM213.0 302.2h0.9v0.9h-0.9zM206.5 311.3h0.9v0.9h-0.9zM197.9 308.4h0.9v0.9h-0.9zM215.7 310.5h0.9v0.9h-0.9zM211.1 311.9h0.9v0.9h-0.9zM208.4 310.5h0.9v0.9h-0.9zM202.6 308.2h0.9v0.9h-0.9zM217.5 304.2h0.9v0.9h-0.9zM206.2 304.0h0.9v0.9h-0.9zM204.2 306.0h0.9v0.9h-0.9zM200.3 310.0h0.9v0.9h-0.9z" fill="#222"/>
<path d="M203.7 325.4h0.9v0.9h-0.9zM214.7 314.8h0.9v0.9h-0.9zM206.8 316.4h0.9v0.9h-0.9zM207.0 324.8h0.9v0.9h-0.9zM208.3 327.7h0.9v0.9h-0.9zM208.1 317.7h0.9v0.9h-0.9zM213.5 320.3h0.9v0.9h-0.9zM207.1 324.7h0.9v0.9h-0.9zM203.9 323.9h0.9v0.9h-0.9zM213.4 317.8h0.9v0.9h-0.9zM200.8 322.0h0.9v0.9h-0.9zM206.8 319.2h0.9v0.9h-0.9zM198.3 326.7h0.9v0.9h-0.9zM209.0 319.0h0.9v0.9h-0.9zM209.8 323.3h0.9v0.9h-0.9zM208.1 319.0h0.9v0.9h-0.9zM206.6 325.2h0.9v0.9h-0.9zM200.5 320.0h0.9v0.9h-0.9zM211.3 330.4h0.9v0.9h-0.9zM210.1 323.3h0.9v0.9h-0.9zM203.1 322.2h0.9v0.9h-0.9zM206.5 325.1h0.9v0.9h-0.9zM206.5 332.0h0.9v0.9h-0.9zM212.8 316.0h0.9v0.9h-0.9zM202.8 323.5h0.9v0.9h-0.9zM211.4 324.9h0.9v0.9h-0.9zM196.5 317.9h0.9v0.9h-0.9zM212.9 325.6h0.9v0.9h-0.9zM217.7 326.3h0.9v0.9h-0.9zM209.3 328.8h0.9v0.9h-0.9zM205.7 321.7h0.9v0.9h-0.9zM203.4 324.4h0.9v0.9h-0.9zM209.2 326.8h0.9v0.9h-0.9zM213.3 325.7h0.9v0.9h-0.9zM212.4 322.7h0.9v0.9h-0.9zM203.6 326.1h0.9v0.9h-0.9zM211.5 328.1h0.9v0.9h-0.9zM206.8 321.9h0.9v0.9h-0.9zM206.0 324.8h0.9v0.9h-0.9zM207.3 322.9h0.9v0.9h-0.9zM208.5 322.5h0.9v0.9h-0.9zM208.8 321.5h0.9v0.9h-0.9zM201.3 322.5h0.9v0.9h-0.9zM215.1 320.7h0.9v0.9h-0.9zM211.2 328.2h0.9v0.9h-0.9zM205.3 324.4h0.9v0.9h-0.9zM198.3 325.5h0.9v0.9h-0.9zM213.7 324.2h0.9v0.9h-0.9zM199.5 321.5h0.9v0.9h-0.9zM204.5 323.9h0.9v0.9h-0.9zM208.6 322.1h0.9v0.9h-0.9zM206.2 320.7h0.9v0.9h-0.9zM209.8 324.2h0.9v0.9h-0.9zM208.9 321.8h0.9v0.9h-0.9zM209.5 322.5h0.9v0.9h-0.9zM208.7 323.0h0.9v0.9h-0.9zM204.8 319.8h0.9v0.9h-0.9zM200.0 318.8h0.9v0.9h-0.9zM209.3 334.8h0.9v0.9h-0.9zM200.9 320.7h0.9v0.9h-0.9zM207.5 335.9h0.9v0.9h-0.9zM206.7 319.5h0.9v0.9h-0.9zM209.2 330.7h0.9v0.9h-0.9zM196.3 319.5h0.9v0.9h-0.9zM212.5 319.5h0.9v0.9h-0.9zM207.1 321.4h0.9v0.9h-0.9zM210.6 318.5h0.9v0.9h-0.9zM208.7 324.3h0.9v0.9h-0.9zM209.8 325.0h0.9v0.9h-0.9zM208.1 317.4h0.9v0.9h-0.9zM206.2 320.3h0.9v0.9h-0.9zM209.6 322.7h0.9v0.9h-0.9zM208.1 327.3h0.9v0.9h-0.9zM207.1 329.4h0.9v0.9h-0.9zM210.8 318.4h0.9v0.9h-0.9zM205.2 327.7h0.9v0.9h-0.9zM205.5 327.7h0.9v0.9h-0.9zM205.2 323.1h0.9v0.9h-0.9zM211.6 318.1h0.9v0.9h-0.9zM207.8 321.9h0.9v0.9h-0.9zM208.2 329.5h0.9v0.9h-0.9zM209.5 318.8h0.9v0.9h-0.9zM211.3 321.9h0.9v0.9h-0.9zM208.2 327.5h0.9v0.9h-0.9zM206.3 326.8h0.9v0.9h-0.9zM208.2 320.4h0.9v0.9h-0.9zM206.3 318.8h0.9v0.9h-0.9zM212.2 324.1h0.9v0.9h-0.9zM211.4 319.6h0.9v0.9h-0.9zM210.9 319.4h0.9v0.9h-0.9zM208.6 323.5h0.9v0.9h-0.9zM205.1 324.6h0.9v0.9h-0.9zM207.6 320.5h0.9v0.9h-0.9zM204.5 319.0h0.9v0.9h-0.9zM213.0 324.0h0.9v0.9h-0.9zM206.0 325.9h0.9v0.9h-0.9zM204.0 319.5h0.9v0.9h-0.9zM208.9 329.0h0.9v0.9h-0.9zM208.7 324.1h0.9v0.9h-0.9zM214.5 318.1h0.9v0.9h-0.9zM219.7 319.7h0.9v0.9h-0.9zM207.2 318.8h0.9v0.9h-0.9zM202.6 322.7h0.9v0.9h-0.9zM217.3 320.2h0.9v0.9h-0.9zM205.0 324.4h0.9v0.9h-0.9zM203.4 322.6h0.9v0.9h-0.9zM210.8 315.9h0.9v0.9h-0.9zM206.3 322.5h0.9v0.9h-0.9zM205.4 323.1h0.9v0.9h-0.9zM200.3 322.0h0.9v0.9h-0.9zM205.4 319.9h0.9v0.9h-0.9zM212.6 330.5h0.9v0.9h-0.9zM210.7 320.5h0.9v0.9h-0.9zM213.2 325.2h0.9v0.9h-0.9zM204.2 325.6h0.9v0.9h-0.9zM205.2 325.5h0.9v0.9h-0.9zM211.2 327.5h0.9v0.9h-0.9zM203.3 323.1h0.9v0.9h-0.9zM207.5 319.2h0.9v0.9h-0.9zM209.2 325.9h0.9v0.9h-0.9zM202.0 321.6h0.9v0.9h-0.9zM203.1 319.1h0.9v0.9h-0.9zM203.2 328.3h0.9v0.9h-0.9zM204.8 322.1h0.9v0.9h-0.9zM211.5 327.1h0.9v0.9h-0.9zM213.1 316.3h0.9v0.9h-0.9zM210.5 317.4h0.9v0.9h-0.9zM205.0 322.1h0.9v0.9h-0.9zM205.2 330.4h0.9v0.9h-0.9zM206.8 327.6h0.9v0.9h-0.9zM206.8 323.3h0.9v0.9h-0.9zM209.5 325.0h0.9v0.9h-0.9zM209.5 317.4h0.9v0.9h-0.9zM209.5 324.6h0.9v0.9h-0.9zM209.9 323.3h0.9v0.9h-0.9zM209.1 318.9h0.9v0.9h-0.9zM212.0 319.3h0.9v0.9h-0.9zM213.1 327.0h0.9v0.9h-0.9zM207.2 322.5h0.9v0.9h-0.9zM210.6 322.4h0.9v0.9h-0.9zM202.7 324.5h0.9v0.9h-0.9zM202.6 321.9h0.9v0.9h-0.9zM214.7 326.3h0.9v0.9h-0.9zM205.7 323.3h0.9v0.9h-0.9zM204.9 323.5h0.9v0.9h-0.9zM201.7 325.9h0.9v0.9h-0.9zM207.6 321.4h0.9v0.9h-0.9zM205.0 332.7h0.9v0.9h-0.9zM205.7 321.8h0.9v0.9h-0.9zM205.2 321.8h0.9v0.9h-0.9zM212.7 325.9h0.9v0.9h-0.9zM209.2 324.8h0.9v0.9h-0.9zM203.0 315.1h0.9v0.9h-0.9zM213.5 326.0h0.9v0.9h-0.9zM208.4 324.5h0.9v0.9h-0.9zM208.3 323.6h0.9v0.9h-0.9zM206.5 315.7h0.9v0.9h-0.9zM209.8 323.7h0.9v0.9h-0.9zM211.4 324.6h0.9v0.9h-0.9zM206.4 325.6h0.9v0.9h-0.9zM208.3 321.9h0.9v0.9h-0.9zM206.0 322.0h0.9v0.9h-0.9zM206.3 321.9h0.9v0.9h-0.9zM211.4 333.7h0.9v0.9h-0.9zM207.0 327.4h0.9v0.9h-0.9zM199.6 312.2h0.9v0.9h-0.9zM205.6 323.0h0.9v0.9h-0.9zM204.5 318.7h0.9v0.9h-0.9zM204.1 321.7h0.9v0.9h-0.9zM208.1 322.3h0.9v0.9h-0.9zM202.7 322.2h0.9v0.9h-0.9zM213.6 320.4h0.9v0.9h-0.9zM207.8 327.0h0.9v0.9h-0.9zM204.3 321.5h0.9v0.9h-0.9zM219.1 327.8h0.9v0.9h-0.9zM205.4 324.1h0.9v0.9h-0.9zM207.9 324.0h0.9v0.9h-0.9zM209.4 322.5h0.9v0.9h-0.9zM198.6 320.1h0.9v0.9h-0.9zM208.1 318.7h0.9v0.9h-0.9zM206.2 328.8h0.9v0.9h-0.9zM208.5 321.2h0.9v0.9h-0.9zM208.1 327.2h0.9v0.9h-0.9zM200.7 319.1h0.9v0.9h-0.9zM204.8 322.0h0.9v0.9h-0.9zM207.1 321.5h0.9v0.9h-0.9zM207.9 323.8h0.9v0.9h-0.9zM202.8 321.3h0.9v0.9h-0.9zM202.5 324.5h0.9v0.9h-0.9zM208.5 325.8h0.9v0.9h-0.9zM204.0 321.6h0.9v0.9h-0.9zM198.6 323.5h0.9v0.9h-0.9zM201.0 324.7h0.9v0.9h-0.9zM211.8 325.1h0.9v0.9h-0.9zM210.0 324.3h0.9v0.9h-0.9zM209.0 326.8h0.9v0.9h-0.9zM212.5 330.6h0.9v0.9h-0.9zM206.4 326.4h0.9v0.9h-0.9zM211.0 325.0h0.9v0.9h-0.9zM208.6 319.1h0.9v0.9h-0.9zM211.9 320.4h0.9v0.9h-0.9zM204.9 320.5h0.9v0.9h-0.9zM209.7 320.1h0.9v0.9h-0.9zM209.3 325.5h0.9v0.9h-0.9zM207.9 322.3h0.9v0.9h-0.9zM209.9 328.1h0.9v0.9h-0.9zM205.7 319.8h0.9v0.9h-0.9zM205.1 320.4h0.9v0.9h-0.9zM206.5 323.0h0.9v0.9h-0.9zM198.3 328.6h0.9v0.9h-0.9zM204.2 322.0h0.9v0.9h-0.9zM199.7 316.6h0.9v0.9h-0.9zM203.4 324.3h0.9v0.9h-0.9zM210.9 317.2h0.9v0.9h-0.9zM208.4 328.8h0.9v0.9h-0.9zM206.4 326.7h0.9v0.9h-0.9zM208.7 320.3h0.9v0.9h-0.9zM211.5 321.4h0.9v0.9h-0.9zM208.9 322.1h0.9v0.9h-0.9zM206.6 324.0h0.9v0.9h-0.9zM212.8 317.6h0.9v0.9h-0.9zM203.0 323.9h0.9v0.9h-0.9zM211.4 322.8h0.9v0.9h-0.9zM206.7 325.3h0.9v0.9h-0.9zM213.8 320.3h0.9v0.9h-0.9zM201.1 322.5h0.9v0.9h-0.9zM210.6 318.9h0.9v0.9h-0.9zM212.0 326.8h0.9v0.9h-0.9zM210.6 320.5h0.9v0.9h-0.9zM202.3 325.8h0.9v0.9h-0.9zM208.5 325.9h0.9v0.9h-0.9zM202.1 313.2h0.9v0.9h-0.9zM212.0 327.0h0.9v0.9h-0.9zM206.4 323.5h0.9v0.9h-0.9zM209.3 326.1h0.9v0.9h-0.9zM206.7 321.7h0.9v0.9h-0.9zM203.6 327.1h0.9v0.9h-0.9zM207.9 311.6h0.9v0.9h-0.9zM208.9 321.5h0.9v0.9h-0.9zM202.4 321.7h0.9v0.9h-0.9z" fill="#222"/>
<path d="M193.2 313.2h0.9v0.9h-0.9zM200.5 323.4h0.9v0.9h-0.9zM195.9 298.6h0.9v0.9h-0.9zM200.0 303.3h0.9v0.9h-0.9zM213.4 315.8h0.9v0.9h-0.9zM189.3 308.7h0.9v0.9h-0.9zM205.7 317.6h0.9v0.9h-0.9zM187.6 316.6h0.9v0.9h-0.9zM208.9 328.5h0.9v0.9h-0.9zM216.9 316.7h0.9v0.9h-0.9zM193.0 314.0h0.9v0.9h-0.9zM212.5 308.2h0.9v0.9h-0.9zM218.6 307.8h0.9v0.9h-0.9zM194.8 326.8h0.9v0.9h-0.9zM205.0 321.4h0.9v0.9h-0.9zM203.0 318.3h0.9v0.9h-0.9zM200.2 338.2h0.9v0.9h-0.9zM212.5 316.7h0.9v0.9h-0.9zM210.7 326.9h0.9v0.9h-0.9zM200.7 319.9h0.9v0.9h-0.9zM208.0 312.0h0.9v0.9h-0.9zM198.3 315.9h0.9v0.9h-0.9zM203.0 313.6h0.9v0.9h-0.9zM186.6 318.8h0.9v0.9h-0.9zM212.5 318.8h0.9v0.9h-0.9zM223.1 327.2h0.9v0.9h-0.9zM202.4 310.8h0.9v0.9h-0.9zM211.0 314.0h0.9v0.9h-0.9zM189.9 319.3h0.9v0.9h-0.9zM203.0 315.6h0.9v0.9h-0.9zM212.1 320.1h0.9v0.9h-0.9zM226.2 310.1h0.9v0.9h-0.9zM205.0 321.3h0.9v0.9h-0.9zM201.6 312.5h0.9v0.9h-0.9zM223.4 302.5h0.9v0.9h-0.9zM209.5 299.3h0.9v0.9h-0.9zM209.4 297.6h0.9v0.9h-0.9zM194.4 330.1h0.9v0.9h-0.9zM221.4 319.4h0.9v0.9h-0.9zM208.4 306.2h0.9v0.9h-0.9zM202.5 303.9h0.9v0.9h-0.9zM205.1 317.1h0.9v0.9h-0.9zM207.2 326.4h0.9v0.9h-0.9zM199.6 294.5h0.9v0.9h-0.9zM194.3 304.6h0.9v0.9h-0.9zM202.3 313.3h0.9v0.9h-0.9zM205.6 332.5h0.9v0.9h-0.9zM206.3 306.5h0.9v0.9h-0.9zM202.9 308.7h0.9v0.9h-0.9zM203.6 324.1h0.9v0.9h-0.9zM194.7 325.5h0.9v0.9h-0.9zM223.8 334.2h0.9v0.9h-0.9zM222.2 318.9h0.9v0.9h-0.9zM192.5 339.3h0.9v0.9h-0.9zM205.5 320.4h0.9v0.9h-0.9zM202.4 308.0h0.9v0.9h-0.9zM212.2 303.2h0.9v0.9h-0.9zM192.3 323.8h0.9v0.9h-0.9zM202.3 309.1h0.9v0.9h-0.9zM210.9 333.1h0.9v0.9h-0.9zM203.2 316.6h0.9v0.9h-0.9zM211.6 327.9h0.9v0.9h-0.9zM216.3 325.2h0.9v0.9h-0.9zM199.4 323.6h0.9v0.9h-0.9zM206.1 300.0h0.9v0.9h-0.9zM218.3 324.1h0.9v0.9h-0.9zM219.6 317.3h0.9v0.9h-0.9zM213.2 317.2h0.9v0.9h-0.9zM207.6 327.6h0.9v0.9h-0.9zM206.6 324.5h0.9v0.9h-0.9zM205.6 331.0h0.9v0.9h-0.9zM212.5 300.5h0.9v0.9h-0.9zM222.5 322.6h0.9v0.9h-0.9zM200.9 311.4h0.9v0.9h-0.9zM225.8 318.9h0.9v0.9h-0.9zM211.1 324.3h0.9v0.9h-0.9zM200.0 336.5h0.9v0.9h-0.9zM226.9 309.8h0.9v0.9h-0.9zM217.3 300.8h0.9v0.9h-0.9zM202.7 318.6h0.9v0.9h-0.9zM206.5 324.0h0.9v0.9h-0.9zM210.0 321.9h0.9v0.9h-0.9zM204.6 321.2h0.9v0.9h-0.9zM200.5 338.8h0.9v0.9h-0.9zM206.6 331.1h0.9v0.9h-0.9zM207.0 316.4h0.9v0.9h-0.9zM204.2 304.4h0.9v0.9h-0.9zM226.7 322.4h0.9v0.9h-0.9zM207.3 313.1h0.9v0.9h-0.9zM218.7 314.5h0.9v0.9h-0.9zM201.4 312.3h0.9v0.9h-0.9zM221.3 321.3h0.9v0.9h-0.9zM204.6 311.2h0.9v0.9h-0.9zM218.8 321.1h0.9v0.9h-0.9zM202.7 327.4h0.9v0.9h-0.9zM214.7 307.5h0.9v0.9h-0.9zM217.4 329.5h0.9v0.9h-0.9zM203.6 304.0h0.9v0.9h-0.9zM216.9 314.4h0.9v0.9h-0.9zM204.0 315.0h0.9v0.9h-0.9zM203.3 326.8h0.9v0.9h-0.9zM195.2 323.6h0.9v0.9h-0.9zM217.5 329.1h0.9v0.9h-0.9zM213.2 320.8h0.9v0.9h-0.9zM204.1 316.8h0.9v0.9h-0.9zM197.4 335.6h0.9v0.9h-0.9zM204.9 307.4h0.9v0.9h-0.9zM214.3 333.9h0.9v0.9h-0.9zM208.8 314.7h0.9v0.9h-0.9zM195.0 324.8h0.9v0.9h-0.9zM203.6 311.1h0.9v0.9h-0.9zM212.0 304.4h0.9v0.9h-0.9zM213.3 292.5h0.9v0.9h-0.9zM199.9 303.0h0.9v0.9h-0.9zM203.7 326.4h0.9v0.9h-0.9zM193.2 332.3h0.9v0.9h-0.9zM199.3 313.0h0.9v0.9h-0.9zM215.9 310.4h0.9v0.9h-0.9zM220.4 315.9h0.9v0.9h-0.9zM205.1 307.9h0.9v0.9h-0.9zM217.4 317.3h0.9v0.9h-0.9zM201.3 308.1h0.9v0.9h-0.9zM199.8 317.0h0.9v0.9h-0.9zM199.0 326.4h0.9v0.9h-0.9zM205.7 311.5h0.9v0.9h-0.9zM210.6 333.0h0.9v0.9h-0.9zM185.6 321.8h0.9v0.9h-0.9zM216.7 319.5h0.9v0.9h-0.9zM214.2 301.9h0.9v0.9h-0.9zM198.7 328.6h0.9v0.9h-0.9zM205.2 318.7h0.9v0.9h-0.9zM212.3 321.9h0.9v0.9h-0.9zM210.5 312.8h0.9v0.9h-0.9zM203.2 331.7h0.9v0.9h-0.9zM201.3 303.0h0.9v0.9h-0.9zM202.7 327.4h0.9v0.9h-0.9zM223.7 319.6h0.9v0.9h-0.9zM200.0 324.4h0.9v0.9h-0.9zM209.1 330.4h0.9v0.9h-0.9zM211.2 325.9h0.9v0.9h-0.9zM211.1 322.4h0.9v0.9h-0.9zM197.2 316.3h0.9v0.9h-0.9zM221.8 331.9h0.9v0.9h-0.9zM215.6 322.1h0.9v0.9h-0.9zM205.1 321.7h0.9v0.9h-0.9zM202.9 329.4h0.9v0.9h-0.9zM203.1 310.1h0.9v0.9h-0.9zM190.4 334.2h0.9v0.9h-0.9zM198.8 309.1h0.9v0.9h-0.9zM210.1 336.8h0.9v0.9h-0.9zM212.7 314.6h0.9v0.9h-0.9zM211.7 309.4h0.9v0.9h-0.9zM203.7 318.3h0.9v0.9h-0.9zM206.3 326.2h0.9v0.9h-0.9zM211.5 337.7h0.9v0.9h-0.9zM214.3 315.1h0.9v0.9h-0.9zM208.7 309.2h0.9v0.9h-0.9zM200.3 314.5h0.9v0.9h-0.9zM216.1 310.8h0.9v0.9h-0.9zM191.0 307.5h0.9v0.9h-0.9zM194.5 316.1h0.9v0.9h-0.9zM203.3 305.9h0.9v0.9h-0.9zM198.5 313.7h0.9v0.9h-0.9zM210.1 324.4h0.9v0.9h-0.9zM219.1 315.4h0.9v0.9h-0.9zM212.4 318.8h0.9v0.9h-0.9zM195.6 311.4h0.9v0.9h-0.9zM227.6 316.4h0.9v0.9h-0.9zM222.3 326.6h0.9v0.9h-0.9zM222.5 316.1h0.9v0.9h-0.9zM215.4 314.9h0.9v0.9h-0.9zM195.5 305.9h0.9v0.9h-0.9zM210.6 301.3h0.9v0.9h-0.9zM209.9 309.0h0.9v0.9h-0.9zM209.8 303.8h0.9v0.9h-0.9zM214.6 315.6h0.9v0.9h-0.9zM191.5 303.1h0.9v0.9h-0.9zM207.0 301.0h0.9v0.9h-0.9zM209.5 323.1h0.9v0.9h-0.9zM200.0 332.5h0.9v0.9h-0.9zM220.4 321.3h0.9v0.9h-0.9zM210.8 322.9h0.9v0.9h-0.9zM203.8 331.7h0.9v0.9h-0.9zM201.2 291.9h0.9v0.9h-0.9zM206.6 322.6h0.9v0.9h-0.9zM214.4 306.5h0.9v0.9h-0.9zM219.8 309.5h0.9v0.9h-0.9zM212.5 325.6h0.9v0.9h-0.9zM208.1 329.8h0.9v0.9h-0.9zM201.6 339.3h0.9v0.9h-0.9zM211.1 313.7h0.9v0.9h-0.9zM231.6 318.0h0.9v0.9h-0.9zM190.7 332.8h0.9v0.9h-0.9zM221.4 312.0h0.9v0.9h-0.9zM196.8 329.8h0.9v0.9h-0.9zM207.0 308.0h0.9v0.9h-0.9zM201.7 318.7h0.9v0.9h-0.9zM215.9 334.3h0.9v0.9h-0.9zM200.4 334.0h0.9v0.9h-0.9zM191.8 325.4h0.9v0.9h-0.9zM205.1 322.6h0.9v0.9h-0.9zM202.2 310.6h0.9v0.9h-0.9zM209.1 329.8h0.9v0.9h-0.9zM185.0 318.6h0.9v0.9h-0.9zM202.5 306.9h0.9v0.9h-0.9zM193.4 323.4h0.9v0.9h-0.9zM211.8 324.7h0.9v0.9h-0.9zM187.2 302.2h0.9v0.9h-0.9zM200.5 313.5h0.9v0.9h-0.9zM223.5 314.0h0.9v0.9h-0.9zM207.6 328.4h0.9v0.9h-0.9zM222.6 321.9h0.9v0.9h-0.9zM209.7 338.2h0.9v0.9h-0.9zM202.5 299.4h0.9v0.9h-0.9zM199.1 314.8h0.9v0.9h-0.9zM219.1 321.3h0.9v0.9h-0.9zM218.1 319.1h0.9v0.9h-0.9zM206.8 312.0h0.9v0.9h-0.9zM194.5 323.3h0.9v0.9h-0.9zM209.9 324.0h0.9v0.9h-0.9zM201.3 313.7h0.9v0.9h-0.9zM210.1 324.4h0.9v0.9h-0.9zM225.7 308.9h0.9v0.9h-0.9zM216.0 327.2h0.9v0.9h-0.9zM203.9 319.5h0.9v0.9h-0.9zM205.9 333.9h0.9v0.9h-0.9zM231.0 321.4h0.9v0.9h-0.9zM204.0 327.9h0.9v0.9h-0.9zM211.2 316.1h0.9v0.9h-0.9zM213.7 327.1h0.9v0.9h-0.9zM202.6 326.9h0.9v0.9h-0.9zM184.7 304.6h0.9v0.9h-0.9zM203.4 319.7h0.9v0.9h-0.9zM192.3 333.4h0.9v0.9h-0.9zM202.8 319.6h0.9v0.9h-0.9zM206.0 325.9h0.9v0.9h-0.9zM200.8 325.8h0.9v0.9h-0.9zM198.4 302.6h0.9v0.9h-0.9zM211.4 319.7h0.9v0.9h-0.9zM214.9 297.8h0.9v0.9h-0.9zM207.5 311.3h0.9v0.9h-0.9zM204.6 313.9h0.9v0.9h-0.9zM202.8 311.1h0.9v0.9h-0.9zM216.3 300.1h0.9v0.9h-0.9zM190.3 321.6h0.9v0.9h-0.9zM225.9 310.1h0.9v0.9h-0.9zM197.7 305.8h0.9v0.9h-0.9zM196.6 331.1h0.9v0.9h-0.9zM213.0 327.4h0.9v0.9h-0.9zM209.8 320.5h0.9v0.9h-0.9zM200.8 307.9h0.9v0.9h-0.9zM212.4 343.9h0.9v0.9h-0.9zM202.9 331.3h0.9v0.9h-0.9zM199.6 318.4h0.9v0.9h-0.9zM222.8 317.3h0.9v0.9h-0.9zM212.6 312.2h0.9v0.9h-0.9zM224.6 305.2h0.9v0.9h-0.9zM211.8 315.5h0.9v0.9h-0.9zM208.3 321.8h0.9v0.9h-0.9zM219.1 327.2h0.9v0.9h-0.9zM216.6 321.9h0.9v0.9h-0.9zM196.1 332.0h0.9v0.9h-0.9zM221.3 323.1h0.9v0.9h-0.9zM214.1 315.6h0.9v0.9h-0.9zM192.5 328.3h0.9v0.9h-0.9zM199.4 338.0h0.9v0.9h-0.9zM213.1 317.8h0.9v0.9h-0.9zM200.5 319.1h0.9v0.9h-0.9zM196.7 314.1h0.9v0.9h-0.9zM221.9 314.9h0.9v0.9h-0.9zM224.2 317.0h0.9v0.9h-0.9zM210.4 308.4h0.9v0.9h-0.9zM203.5 313.4h0.9v0.9h-0.9zM193.0 338.2h0.9v0.9h-0.9zM212.1 317.1h0.9v0.9h-0.9zM195.8 318.4h0.9v0.9h-0.9zM196.2 307.9h0.9v0.9h-0.9zM204.6 340.6h0.9v0.9h-0.9zM189.6 323.9h0.9v0.9h-0.9zM192.7 316.6h0.9v0.9h-0.9zM207.0 310.1h0.9v0.9h-0.9zM223.6 323.6h0.9v0.9h-0.9zM200.3 300.8h0.9v0.9h-0.9zM208.1 311.0h0.9v0.9h-0.9zM216.3 307.1h0.9v0.9h-0.9zM218.0 313.2h0.9v0.9h-0.9zM208.3 315.2h0.9v0.9h-0.9zM212.4 330.0h0.9v0.9h-0.9zM201.1 308.6h0.9v0.9h-0.9zM224.7 328.0h0.9v0.9h-0.9zM224.9 328.0h0.9v0.9h-0.9zM207.7 335.1h0.9v0.9h-0.9zM199.9 313.5h0.9v0.9h-0.9zM202.5 325.2h0.9v0.9h-0.9zM198.1 316.2h0.9v0.9h-0.9zM198.2 315.6h0.9v0.9h-0.9zM217.2 329.7h0.9v0.9h-0.9zM199.5 322.8h0.9v0.9h-0.9zM201.7 294.8h0.9v0.9h-0.9zM194.8 331.0h0.9v0.9h-0.9zM205.2 320.9h0.9v0.9h-0.9zM218.5 318.3h0.9v0.9h-0.9zM200.2 311.6h0.9v0.9h-0.9zM197.2 323.8h0.9v0.9h-0.9zM201.8 323.4h0.9v0.9h-0.9zM191.8 313.5h0.9v0.9h-0.9zM226.3 321.8h0.9v0.9h-0.9zM205.3 330.5h0.9v0.9h-0.9zM209.0 334.1h0.9v0.9h-0.9zM195.0 326.1h0.9v0.9h-0.9zM196.0 325.2h0.9v0.9h-0.9zM230.2 334.1h0.9v0.9h-0.9zM198.0 322.4h0.9v0.9h-0.9zM210.8 310.5h0.9v0.9h-0.9zM208.7 306.8h0.9v0.9h-0.9zM215.7 327.6h0.9v0.9h-0.9zM204.7 325.2h0.9v0.9h-0.9zM229.5 316.3h0.9v0.9h-0.9zM188.1 321.5h0.9v0.9h-0.9z" fill="#555"/>
<path d="M242.0 309.9h0.9v0.9h-0.9zM237.2 300.1h0.9v0.9h-0.9zM245.8 315.0h0.9v0.9h-0.9zM242.2 305.2h0.9v0.9h-0.9zM240.1 301.0h0.9v0.9h-0.9zM239.9 311.1h0.9v0.9h-0.9zM235.7 316.8h0.9v0.9h-0.9zM240.7 310.9h0.9v0.9h-0.9zM240.1 313.2h0.9v0.9h-0.9zM241.1 300.2h0.9v0.9h-0.9zM241.0 305.8h0.9v0.9h-0.9zM237.2 296.0h0.9v0.9h-0.9zM243.1 302.2h0.9v0.9h-0.9zM244.5 305.7h0.9v0.9h-0.9zM246.6 302.9h0.9v0.9h-0.9zM240.5 307.4h0.9v0.9h-0.9zM235.6 301.8h0.9v0.9h-0.9zM239.5 301.4h0.9v0.9h-0.9zM238.6 311.2h0.9v0.9h-0.9zM237.3 312.6h0.9v0.9h-0.9zM243.8 305.7h0.9v0.9h-0.9zM242.5 302.1h0.9v0.9h-0.9zM235.9 309.4h0.9v0.9h-0.9zM245.9 313.3h0.9v0.9h-0.9zM246.2 305.2h0.9v0.9h-0.9zM234.8 299.0h0.9v0.9h-0.9zM233.1 306.5h0.9v0.9h-0.9zM238.1 308.7h0.9v0.9h-0.9zM241.5 303.3h0.9v0.9h-0.9zM238.2 312.1h0.9v0.9h-0.9zM233.5 310.4h0.9v0.9h-0.9zM235.6 304.0h0.9v0.9h-0.9zM237.9 310.5h0.9v0.9h-0.9zM242.2 301.6h0.9v0.9h-0.9zM236.1 305.6h0.9v0.9h-0.9zM236.0 293.5h0.9v0.9h-0.9zM240.5 304.0h0.9v0.9h-0.9zM247.6 309.5h0.9v0.9h-0.9zM243.7 305.5h0.9v0.9h-0.9zM244.7 305.5h0.9v0.9h-0.9zM238.9 314.3h0.9v0.9h-0.9zM245.7 304.4h0.9v0.9h-0.9zM237.1 304.3h0.9v0.9h-0.9zM245.6 306.8h0.9v0.9h-0.9zM241.4 316.0h0.9v0.9h-0.9zM238.4 307.3h0.9v0.9h-0.9zM243.0 295.6h0.9v0.9h-0.9zM233.6 310.2h0.9v0.9h-0.9zM244.0 303.5h0.9v0.9h-0.9zM239.5 298.8h0.9v0.9h-0.9z" fill="#777"/>
<path d="M242.4 329.8h0.9v0.9h-0.9zM242.3 325.2h0.9v0.9h-0.9zM241.4 329.6h0.9v0.9h-0.9zM234.7 332.0h0.9v0.9h-0.9zM243.1 324.3h0.9v0.9h-0.9zM238.1 328.6h0.9v0.9h-0.9zM237.2 332.6h0.9v0.9h-0.9zM243.3 334.0h0.9v0.9h-0.9zM247.3 328.3h0.9v0.9h-0.9zM244.8 327.8h0.9v0.9h-0.9zM246.6 327.0h0.9v0.9h-0.9zM237.3 336.4h0.9v0.9h-0.9zM236.1 328.3h0.9v0.9h-0.9zM238.2 328.6h0.9v0.9h-0.9zM235.9 331.2h0.9v0.9h-0.9zM247.9 331.3h0.9v0.9h-0.9zM235.5 334.9h0.9v0.9h-0.9zM242.1 325.0h0.9v0.9h-0.9zM245.2 327.3h0.9v0.9h-0.9zM240.1 324.2h0.9v0.9h-0.9z" fill="#777"/>
<path d="M249.0 323.2h0.9v0.9h-0.9zM214.9 324.4h0.9v0.9h-0.9zM206.5 309.8h0.9v0.9h-0.9zM200.2 299.1h0.9v0.9h-0.9zM210.7 299.6h0.9v0.9h-0.9zM212.0 310.2h0.9v0.9h-0.9zM260.7 333.7h0.9v0.9h-0.9zM191.7 336.2h0.9v0.9h-0.9zM248.8 326.1h0.9v0.9h-0.9zM261.4 303.0h0.9v0.9h-0.9zM218.2 328.1h0.9v0.9h-0.9zM191.4 305.5h0.9v0.9h-0.9zM191.1 290.2h0.9v0.9h-0.9zM231.2 320.0h0.9v0.9h-0.9zM264.3 297.4h0.9v0.9h-0.9zM184.3 283.4h0.9v0.9h-0.9zM229.8 306.8h0.9v0.9h-0.9zM261.3 308.8h0.9v0.9h-0.9zM243.7 342.6h0.9v0.9h-0.9zM247.9 291.6h0.9v0.9h-0.9zM213.6 305.5h0.9v0.9h-0.9zM221.0 294.9h0.9v0.9h-0.9zM197.3 277.3h0.9v0.9h-0.9zM259.0 342.3h0.9v0.9h-0.9zM267.3 301.5h0.9v0.9h-0.9zM242.6 289.7h0.9v0.9h-0.9zM193.8 275.7h0.9v0.9h-0.9zM212.5 330.1h0.9v0.9h-0.9zM229.0 291.5h0.9v0.9h-0.9zM225.1 312.5h0.9v0.9h-0.9zM200.8 306.2h0.9v0.9h-0.9zM263.2 306.2h0.9v0.9h-0.9zM268.4 325.0h0.9v0.9h-0.9zM195.1 338.4h0.9v0.9h-0.9zM243.0 305.9h0.9v0.9h-0.9zM200.2 320.6h0.9v0.9h-0.9zM200.4 307.1h0.9v0.9h-0.9zM197.1 303.8h0.9v0.9h-0.9zM266.4 316.5h0.9v0.9h-0.9z" fill="#888"/>
<text x="188.0" y="287.2" font-size="11" font-weight="bold" text-anchor="start" >55.3%</text>
<path d="M183.8 444.0v2.2M183.8 444.0h-2.2M190.3 444.0v1.3M183.8 438.7h-1.3M194.1 444.0v1.3M183.8 435.6h-1.3M196.8 444.0v1.3M183.8 433.4h-1.3M198.9 444.0v1.3M183.8 431.7h-1.3M200.6 444.0v1.3M183.8 430.3h-1.3M202.1 444.0v1.3M183.8 429.1h-1.3M203.3 444.0v1.3M183.8 428.1h-1.3M204.4 444.0v1.3M183.8 427.2h-1.3M205.4 444.0v2.2M183.8 426.4h-2.2M211.9 444.0v1.3M183.8 421.0h-1.3M215.7 444.0v1.3M183.8 417.9h-1.3M218.4 444.0v1.3M183.8 415.7h-1.3M220.5 444.0v1.3M183.8 414.0h-1.3M222.3 444.0v1.3M183.8 412.6h-1.3M223.7 444.0v1.3M183.8 411.4h-1.3M225.0 444.0v1.3M183.8 410.4h-1.3M226.1 444.0v1.3M183.8 409.5h-1.3M227.1 444.0v2.2M183.8 408.7h-2.2M233.6 444.0v1.3M183.8 403.4h-1.3M237.4 444.0v1.3M183.8 400.3h-1.3M240.1 444.0v1.3M183.8 398.1h-1.3M242.2 444.0v1.3M183.8 396.4h-1.3M243.9 444.0v1.3M183.8 395.0h-1.3M245.3 444.0v1.3M183.8 393.8h-1.3M246.6 444.0v1.3M183.8 392.8h-1.3M247.7 444.0v1.3M183.8 391.9h-1.3M248.7 444.0v2.2M183.8 391.0h-2.2M255.2 444.0v1.3M183.8 385.7h-1.3M259.0 444.0v1.3M183.8 382.6h-1.3M261.7 444.0v1.3M183.8 380.4h-1.3M263.8 444.0v1.3M183.8 378.7h-1.3M265.5 444.0v1.3M183.8 377.3h-1.3M267.0 444.0v1.3M183.8 376.1h-1.3M268.2 444.0v1.3M183.8 375.1h-1.3M269.3 444.0v1.3M183.8 374.2h-1.3M270.3 444.0v2.2M183.8 373.4h-2.2" stroke="#222" stroke-width="0.8" fill="none"/>
<rect x="183.8" y="373.4" width="86.5" height="70.6" fill="none" stroke="#111" stroke-width="1.1"/>
<line x1="231.10" y1="373.40" x2="231.10" y2="444.00" stroke="#111" stroke-width="1.1"/>
<line x1="183.80" y1="418.40" x2="270.30" y2="418.40" stroke="#111" stroke-width="1.1"/>
<text class="tk" x="184.4" y="454.2" font-size="7" text-anchor="middle">10<tspan font-size="5.4" dy="-2.8">0</tspan></text>
<text class="tk" transform="translate(178.4,444.0) rotate(-90)" font-size="7" text-anchor="middle">10<tspan font-size="5.4" dy="-2.8">0</tspan></text>
<text class="tk" x="206.0" y="454.2" font-size="7" text-anchor="middle">10<tspan font-size="5.4" dy="-2.8">1</tspan></text>
<text class="tk" transform="translate(178.4,426.4) rotate(-90)" font-size="7" text-anchor="middle">10<tspan font-size="5.4" dy="-2.8">1</tspan></text>
<text class="tk" x="227.7" y="454.2" font-size="7" text-anchor="middle">10<tspan font-size="5.4" dy="-2.8">2</tspan></text>
<text class="tk" transform="translate(178.4,408.7) rotate(-90)" font-size="7" text-anchor="middle">10<tspan font-size="5.4" dy="-2.8">2</tspan></text>
<text class="tk" x="249.3" y="454.2" font-size="7" text-anchor="middle">10<tspan font-size="5.4" dy="-2.8">3</tspan></text>
<text class="tk" transform="translate(178.4,391.0) rotate(-90)" font-size="7" text-anchor="middle">10<tspan font-size="5.4" dy="-2.8">3</tspan></text>
<text class="tk" x="270.9" y="454.2" font-size="7" text-anchor="middle">10<tspan font-size="5.4" dy="-2.8">4</tspan></text>
<text class="tk" transform="translate(178.4,373.4) rotate(-90)" font-size="7" text-anchor="middle">10<tspan font-size="5.4" dy="-2.8">4</tspan></text>
<path d="M241.4 407.9h0.9v0.9h-0.9zM243.3 404.7h0.9v0.9h-0.9zM245.1 410.5h0.9v0.9h-0.9zM240.2 403.7h0.9v0.9h-0.9zM248.0 405.6h0.9v0.9h-0.9zM244.5 412.4h0.9v0.9h-0.9zM249.0 409.4h0.9v0.9h-0.9zM247.2 400.1h0.9v0.9h-0.9zM247.3 409.5h0.9v0.9h-0.9zM241.5 408.9h0.9v0.9h-0.9zM247.0 408.0h0.9v0.9h-0.9zM248.0 411.0h0.9v0.9h-0.9zM245.8 407.6h0.9v0.9h-0.9zM242.1 411.7h0.9v0.9h-0.9zM243.9 409.3h0.9v0.9h-0.9zM250.2 410.6h0.9v0.9h-0.9zM241.9 408.0h0.9v0.9h-0.9zM243.5 403.3h0.9v0.9h-0.9zM243.3 410.1h0.9v0.9h-0.9zM246.6 407.7h0.9v0.9h-0.9zM246.2 404.8h0.9v0.9h-0.9zM243.4 407.8h0.9v0.9h-0.9zM248.0 407.3h0.9v0.9h-0.9zM245.1 409.3h0.9v0.9h-0.9zM250.0 404.5h0.9v0.9h-0.9zM247.2 408.9h0.9v0.9h-0.9zM245.4 409.0h0.9v0.9h-0.9zM239.8 408.4h0.9v0.9h-0.9zM244.9 404.6h0.9v0.9h-0.9zM248.1 407.9h0.9v0.9h-0.9zM244.6 410.6h0.9v0.9h-0.9zM242.9 406.1h0.9v0.9h-0.9zM248.1 410.9h0.9v0.9h-0.9zM251.6 406.9h0.9v0.9h-0.9zM241.3 403.8h0.9v0.9h-0.9zM242.1 408.6h0.9v0.9h-0.9zM244.9 406.3h0.9v0.9h-0.9zM242.7 406.2h0.9v0.9h-0.9zM244.6 411.9h0.9v0.9h-0.9zM247.5 412.4h0.9v0.9h-0.9zM248.1 410.6h0.9v0.9h-0.9zM249.1 409.7h0.9v0.9h-0.9zM250.2 411.7h0.9v0.9h-0.9zM251.0 409.0h0.9v0.9h-0.9zM243.3 415.9h0.9v0.9h-0.9zM244.8 409.9h0.9v0.9h-0.9zM244.5 406.2h0.9v0.9h-0.9zM246.9 404.9h0.9v0.9h-0.9zM245.2 412.6h0.9v0.9h-0.9zM246.0 410.8h0.9v0.9h-0.9zM247.5 409.5h0.9v0.9h-0.9zM245.9 410.1h0.9v0.9h-0.9zM242.8 410.1h0.9v0.9h-0.9zM242.5 406.0h0.9v0.9h-0.9zM243.9 404.3h0.9v0.9h-0.9zM239.8 409.5h0.9v0.9h-0.9zM247.1 410.3h0.9v0.9h-0.9zM252.2 408.8h0.9v0.9h-0.9zM247.8 406.1h0.9v0.9h-0.9zM247.7 404.9h0.9v0.9h-0.9zM251.5 405.4h0.9v0.9h-0.9zM244.4 410.6h0.9v0.9h-0.9zM239.1 412.3h0.9v0.9h-0.9zM242.8 408.9h0.9v0.9h-0.9zM248.5 408.8h0.9v0.9h-0.9zM248.4 406.8h0.9v0.9h-0.9zM247.4 401.7h0.9v0.9h-0.9zM250.1 406.3h0.9v0.9h-0.9zM243.1 408.4h0.9v0.9h-0.9zM250.6 406.2h0.9v0.9h-0.9zM245.6 407.2h0.9v0.9h-0.9zM242.9 404.4h0.9v0.9h-0.9zM247.4 410.4h0.9v0.9h-0.9zM243.4 409.0h0.9v0.9h-0.9zM246.9 409.4h0.9v0.9h-0.9zM245.1 408.4h0.9v0.9h-0.9zM246.4 405.1h0.9v0.9h-0.9zM245.2 410.7h0.9v0.9h-0.9zM244.0 412.3h0.9v0.9h-0.9zM244.9 405.0h0.9v0.9h-0.9zM244.7 404.2h0.9v0.9h-0.9zM247.4 403.5h0.9v0.9h-0.9zM245.7 407.6h0.9v0.9h-0.9zM244.7 409.6h0.9v0.9h-0.9zM246.5 406.6h0.9v0.9h-0.9zM248.0 406.9h0.9v0.9h-0.9zM248.3 412.3h0.9v0.9h-0.9zM246.7 411.1h0.9v0.9h-0.9zM241.7 410.0h0.9v0.9h-0.9zM241.2 407.8h0.9v0.9h-0.9zM247.7 400.2h0.9v0.9h-0.9zM243.3 406.0h0.9v0.9h-0.9zM242.8 408.4h0.9v0.9h-0.9zM247.5 404.8h0.9v0.9h-0.9zM243.8 402.7h0.9v0.9h-0.9zM243.5 402.0h0.9v0.9h-0.9zM241.2 409.7h0.9v0.9h-0.9zM248.2 405.9h0.9v0.9h-0.9zM246.6 406.0h0.9v0.9h-0.9zM248.8 413.6h0.9v0.9h-0.9zM238.3 405.7h0.9v0.9h-0.9zM243.7 406.9h0.9v0.9h-0.9zM250.2 413.0h0.9v0.9h-0.9zM245.6 410.2h0.9v0.9h-0.9zM240.9 407.4h0.9v0.9h-0.9zM244.8 407.9h0.9v0.9h-0.9zM246.5 403.6h0.9v0.9h-0.9zM242.5 414.7h0.9v0.9h-0.9zM240.5 408.5h0.9v0.9h-0.9zM247.8 409.8h0.9v0.9h-0.9zM245.8 403.4h0.9v0.9h-0.9zM244.2 403.6h0.9v0.9h-0.9zM251.4 409.4h0.9v0.9h-0.9zM247.8 408.9h0.9v0.9h-0.9zM244.5 411.9h0.9v0.9h-0.9zM248.2 410.2h0.9v0.9h-0.9zM247.3 410.5h0.9v0.9h-0.9zM244.8 409.6h0.9v0.9h-0.9zM245.8 407.5h0.9v0.9h-0.9zM247.5 414.7h0.9v0.9h-0.9zM239.6 412.6h0.9v0.9h-0.9zM244.3 411.9h0.9v0.9h-0.9zM242.6 407.7h0.9v0.9h-0.9zM248.6 408.1h0.9v0.9h-0.9zM246.6 404.7h0.9v0.9h-0.9zM242.2 413.3h0.9v0.9h-0.9zM246.1 408.0h0.9v0.9h-0.9zM241.5 405.2h0.9v0.9h-0.9zM242.6 408.2h0.9v0.9h-0.9zM245.3 406.5h0.9v0.9h-0.9zM243.6 408.6h0.9v0.9h-0.9zM249.1 404.1h0.9v0.9h-0.9zM241.4 411.7h0.9v0.9h-0.9zM241.4 407.1h0.9v0.9h-0.9zM246.0 413.8h0.9v0.9h-0.9zM239.6 399.6h0.9v0.9h-0.9zM245.4 411.5h0.9v0.9h-0.9zM246.0 405.9h0.9v0.9h-0.9zM246.2 402.1h0.9v0.9h-0.9zM248.0 412.8h0.9v0.9h-0.9zM245.0 410.8h0.9v0.9h-0.9zM242.5 412.8h0.9v0.9h-0.9zM243.7 405.9h0.9v0.9h-0.9zM243.3 403.0h0.9v0.9h-0.9zM247.6 414.3h0.9v0.9h-0.9zM241.4 407.7h0.9v0.9h-0.9zM246.9 406.6h0.9v0.9h-0.9zM241.0 409.3h0.9v0.9h-0.9zM248.6 408.6h0.9v0.9h-0.9zM242.4 407.4h0.9v0.9h-0.9zM239.9 408.1h0.9v0.9h-0.9zM249.2 411.7h0.9v0.9h-0.9zM245.3 409.6h0.9v0.9h-0.9zM244.1 408.7h0.9v0.9h-0.9zM243.8 408.8h0.9v0.9h-0.9zM244.1 408.9h0.9v0.9h-0.9zM247.7 408.2h0.9v0.9h-0.9zM241.8 409.8h0.9v0.9h-0.9zM244.9 406.8h0.9v0.9h-0.9zM247.3 405.8h0.9v0.9h-0.9zM248.4 410.0h0.9v0.9h-0.9zM243.6 406.2h0.9v0.9h-0.9zM245.2 405.6h0.9v0.9h-0.9zM248.4 401.5h0.9v0.9h-0.9zM246.0 407.3h0.9v0.9h-0.9zM242.4 410.2h0.9v0.9h-0.9zM244.2 409.7h0.9v0.9h-0.9zM244.3 407.5h0.9v0.9h-0.9zM247.1 411.2h0.9v0.9h-0.9zM248.6 408.2h0.9v0.9h-0.9zM250.0 407.3h0.9v0.9h-0.9zM241.6 402.7h0.9v0.9h-0.9zM241.3 405.7h0.9v0.9h-0.9zM240.3 409.3h0.9v0.9h-0.9zM245.7 408.2h0.9v0.9h-0.9zM246.3 408.0h0.9v0.9h-0.9zM244.9 407.3h0.9v0.9h-0.9zM245.7 404.9h0.9v0.9h-0.9zM249.4 413.0h0.9v0.9h-0.9zM245.7 415.2h0.9v0.9h-0.9zM242.7 411.0h0.9v0.9h-0.9zM240.8 410.1h0.9v0.9h-0.9zM243.4 411.3h0.9v0.9h-0.9zM245.9 411.2h0.9v0.9h-0.9zM247.4 409.9h0.9v0.9h-0.9zM244.8 413.1h0.9v0.9h-0.9zM246.7 409.8h0.9v0.9h-0.9zM249.8 407.5h0.9v0.9h-0.9zM250.8 411.6h0.9v0.9h-0.9zM245.8 403.9h0.9v0.9h-0.9zM249.2 407.4h0.9v0.9h-0.9zM245.9 408.7h0.9v0.9h-0.9zM248.4 410.2h0.9v0.9h-0.9zM240.2 406.3h0.9v0.9h-0.9zM246.6 408.8h0.9v0.9h-0.9zM248.0 410.0h0.9v0.9h-0.9zM250.4 406.1h0.9v0.9h-0.9zM249.5 409.5h0.9v0.9h-0.9zM246.5 410.4h0.9v0.9h-0.9zM244.6 410.5h0.9v0.9h-0.9zM245.0 410.5h0.9v0.9h-0.9zM243.4 411.9h0.9v0.9h-0.9zM241.1 406.3h0.9v0.9h-0.9zM245.5 409.0h0.9v0.9h-0.9zM243.3 407.1h0.9v0.9h-0.9zM246.4 411.5h0.9v0.9h-0.9zM249.4 406.9h0.9v0.9h-0.9zM245.4 407.4h0.9v0.9h-0.9zM241.1 407.0h0.9v0.9h-0.9zM248.9 404.2h0.9v0.9h-0.9zM254.0 411.3h0.9v0.9h-0.9zM250.7 408.9h0.9v0.9h-0.9zM238.8 409.6h0.9v0.9h-0.9zM250.3 406.6h0.9v0.9h-0.9zM249.4 410.6h0.9v0.9h-0.9zM247.9 410.6h0.9v0.9h-0.9zM247.3 410.3h0.9v0.9h-0.9zM249.1 409.6h0.9v0.9h-0.9zM247.5 409.6h0.9v0.9h-0.9zM246.0 405.7h0.9v0.9h-0.9zM240.3 405.2h0.9v0.9h-0.9zM242.0 403.8h0.9v0.9h-0.9zM247.7 407.3h0.9v0.9h-0.9zM249.4 417.8h0.9v0.9h-0.9zM247.9 406.9h0.9v0.9h-0.9zM246.7 407.7h0.9v0.9h-0.9zM246.5 414.6h0.9v0.9h-0.9zM250.3 412.2h0.9v0.9h-0.9zM246.5 413.7h0.9v0.9h-0.9zM248.1 411.0h0.9v0.9h-0.9zM242.2 406.5h0.9v0.9h-0.9zM246.1 407.7h0.9v0.9h-0.9zM244.1 402.2h0.9v0.9h-0.9zM243.4 408.0h0.9v0.9h-0.9zM246.5 405.1h0.9v0.9h-0.9zM245.2 413.8h0.9v0.9h-0.9zM246.1 402.4h0.9v0.9h-0.9zM245.1 408.3h0.9v0.9h-0.9zM249.4 408.9h0.9v0.9h-0.9zM249.7 409.3h0.9v0.9h-0.9zM249.1 412.4h0.9v0.9h-0.9zM250.2 408.9h0.9v0.9h-0.9zM247.5 420.2h0.9v0.9h-0.9zM242.0 408.9h0.9v0.9h-0.9zM247.0 406.2h0.9v0.9h-0.9zM248.1 407.8h0.9v0.9h-0.9zM248.0 408.9h0.9v0.9h-0.9zM242.9 411.5h0.9v0.9h-0.9zM251.5 411.1h0.9v0.9h-0.9zM246.5 403.1h0.9v0.9h-0.9zM246.6 408.2h0.9v0.9h-0.9zM243.3 402.5h0.9v0.9h-0.9zM246.9 411.3h0.9v0.9h-0.9zM247.7 415.2h0.9v0.9h-0.9zM240.0 409.4h0.9v0.9h-0.9zM245.5 412.6h0.9v0.9h-0.9zM245.5 405.4h0.9v0.9h-0.9zM245.5 409.6h0.9v0.9h-0.9zM243.5 405.9h0.9v0.9h-0.9zM246.4 411.0h0.9v0.9h-0.9zM244.9 409.8h0.9v0.9h-0.9zM244.1 407.3h0.9v0.9h-0.9zM246.2 411.3h0.9v0.9h-0.9zM250.3 407.9h0.9v0.9h-0.9zM247.0 414.3h0.9v0.9h-0.9zM248.1 407.2h0.9v0.9h-0.9zM246.8 404.0h0.9v0.9h-0.9zM239.5 406.0h0.9v0.9h-0.9zM243.5 404.2h0.9v0.9h-0.9zM248.7 406.9h0.9v0.9h-0.9zM245.9 408.5h0.9v0.9h-0.9zM245.0 404.7h0.9v0.9h-0.9zM251.3 402.3h0.9v0.9h-0.9zM245.5 410.4h0.9v0.9h-0.9zM245.0 408.0h0.9v0.9h-0.9zM246.5 409.0h0.9v0.9h-0.9zM244.7 411.6h0.9v0.9h-0.9zM247.1 412.9h0.9v0.9h-0.9zM245.9 402.3h0.9v0.9h-0.9zM240.8 406.8h0.9v0.9h-0.9zM247.0 403.3h0.9v0.9h-0.9zM244.0 412.1h0.9v0.9h-0.9zM246.6 406.2h0.9v0.9h-0.9zM245.3 408.7h0.9v0.9h-0.9zM244.4 407.4h0.9v0.9h-0.9zM243.8 409.0h0.9v0.9h-0.9zM250.3 412.8h0.9v0.9h-0.9zM242.0 415.4h0.9v0.9h-0.9zM245.3 404.1h0.9v0.9h-0.9zM241.3 408.8h0.9v0.9h-0.9zM246.3 406.4h0.9v0.9h-0.9zM243.3 407.7h0.9v0.9h-0.9zM246.4 410.4h0.9v0.9h-0.9zM247.3 401.1h0.9v0.9h-0.9zM243.9 409.1h0.9v0.9h-0.9zM246.7 410.8h0.9v0.9h-0.9zM241.3 413.1h0.9v0.9h-0.9zM242.2 407.7h0.9v0.9h-0.9zM244.3 406.9h0.9v0.9h-0.9zM243.4 410.8h0.9v0.9h-0.9zM248.0 409.4h0.9v0.9h-0.9zM241.9 406.4h0.9v0.9h-0.9zM245.5 409.5h0.9v0.9h-0.9zM244.0 407.5h0.9v0.9h-0.9zM253.3 408.5h0.9v0.9h-0.9zM244.8 400.8h0.9v0.9h-0.9zM243.5 413.3h0.9v0.9h-0.9zM248.1 404.7h0.9v0.9h-0.9zM247.9 408.8h0.9v0.9h-0.9zM243.3 410.7h0.9v0.9h-0.9zM243.9 407.4h0.9v0.9h-0.9zM245.7 409.0h0.9v0.9h-0.9zM244.4 409.2h0.9v0.9h-0.9zM245.7 408.9h0.9v0.9h-0.9zM246.8 406.4h0.9v0.9h-0.9zM241.7 408.1h0.9v0.9h-0.9zM249.2 409.3h0.9v0.9h-0.9zM246.3 406.1h0.9v0.9h-0.9zM242.3 404.5h0.9v0.9h-0.9zM243.0 407.2h0.9v0.9h-0.9zM241.2 408.0h0.9v0.9h-0.9zM241.1 410.3h0.9v0.9h-0.9zM245.6 403.0h0.9v0.9h-0.9zM244.1 409.0h0.9v0.9h-0.9zM246.8 410.7h0.9v0.9h-0.9zM244.6 407.9h0.9v0.9h-0.9zM245.0 410.0h0.9v0.9h-0.9zM243.6 407.8h0.9v0.9h-0.9zM246.1 407.3h0.9v0.9h-0.9zM242.5 412.5h0.9v0.9h-0.9zM247.1 405.5h0.9v0.9h-0.9zM251.4 406.0h0.9v0.9h-0.9zM243.1 407.2h0.9v0.9h-0.9zM247.2 412.9h0.9v0.9h-0.9zM249.6 410.0h0.9v0.9h-0.9zM245.8 410.3h0.9v0.9h-0.9zM243.4 406.2h0.9v0.9h-0.9zM247.2 408.9h0.9v0.9h-0.9zM246.3 405.2h0.9v0.9h-0.9zM246.4 403.9h0.9v0.9h-0.9zM248.3 408.4h0.9v0.9h-0.9zM243.8 406.9h0.9v0.9h-0.9zM253.7 417.9h0.9v0.9h-0.9zM243.6 412.5h0.9v0.9h-0.9zM237.2 411.8h0.9v0.9h-0.9zM245.7 409.1h0.9v0.9h-0.9zM242.9 404.3h0.9v0.9h-0.9zM246.3 407.0h0.9v0.9h-0.9zM247.1 411.5h0.9v0.9h-0.9zM245.3 410.0h0.9v0.9h-0.9zM246.2 409.0h0.9v0.9h-0.9zM244.2 409.1h0.9v0.9h-0.9zM246.9 408.6h0.9v0.9h-0.9zM244.3 403.9h0.9v0.9h-0.9zM242.6 413.1h0.9v0.9h-0.9zM248.6 409.2h0.9v0.9h-0.9zM246.5 407.9h0.9v0.9h-0.9zM247.6 411.2h0.9v0.9h-0.9zM244.9 409.3h0.9v0.9h-0.9zM248.4 403.5h0.9v0.9h-0.9zM242.9 406.6h0.9v0.9h-0.9zM242.3 407.0h0.9v0.9h-0.9zM243.2 407.1h0.9v0.9h-0.9zM247.0 404.7h0.9v0.9h-0.9zM245.9 412.5h0.9v0.9h-0.9zM246.2 404.6h0.9v0.9h-0.9zM243.9 411.9h0.9v0.9h-0.9zM244.9 406.4h0.9v0.9h-0.9zM247.9 406.1h0.9v0.9h-0.9zM242.4 410.2h0.9v0.9h-0.9zM245.7 406.3h0.9v0.9h-0.9zM247.0 411.7h0.9v0.9h-0.9zM248.8 408.6h0.9v0.9h-0.9zM247.0 409.8h0.9v0.9h-0.9zM241.4 413.4h0.9v0.9h-0.9zM243.7 406.6h0.9v0.9h-0.9zM243.3 405.4h0.9v0.9h-0.9zM248.8 408.3h0.9v0.9h-0.9zM244.0 402.8h0.9v0.9h-0.9zM246.1 408.2h0.9v0.9h-0.9zM242.7 408.0h0.9v0.9h-0.9zM240.4 410.3h0.9v0.9h-0.9zM242.1 409.8h0.9v0.9h-0.9zM245.9 401.9h0.9v0.9h-0.9zM242.4 406.3h0.9v0.9h-0.9zM247.9 410.1h0.9v0.9h-0.9zM247.5 413.4h0.9v0.9h-0.9zM244.8 406.8h0.9v0.9h-0.9zM240.2 405.2h0.9v0.9h-0.9zM247.3 405.8h0.9v0.9h-0.9zM243.1 411.2h0.9v0.9h-0.9zM238.5 412.6h0.9v0.9h-0.9zM249.4 402.9h0.9v0.9h-0.9zM247.0 408.3h0.9v0.9h-0.9zM248.3 407.3h0.9v0.9h-0.9zM245.3 412.6h0.9v0.9h-0.9zM243.9 409.6h0.9v0.9h-0.9zM247.5 408.0h0.9v0.9h-0.9zM248.2 409.9h0.9v0.9h-0.9zM248.1 403.1h0.9v0.9h-0.9zM242.7 409.2h0.9v0.9h-0.9zM249.0 412.7h0.9v0.9h-0.9zM245.7 406.1h0.9v0.9h-0.9zM242.5 402.4h0.9v0.9h-0.9zM244.2 410.1h0.9v0.9h-0.9zM245.5 403.8h0.9v0.9h-0.9zM245.4 408.5h0.9v0.9h-0.9zM243.5 412.8h0.9v0.9h-0.9zM246.9 411.7h0.9v0.9h-0.9zM246.0 405.4h0.9v0.9h-0.9zM248.8 411.7h0.9v0.9h-0.9zM244.0 404.3h0.9v0.9h-0.9zM248.0 406.6h0.9v0.9h-0.9zM242.3 408.1h0.9v0.9h-0.9zM247.3 406.0h0.9v0.9h-0.9zM245.8 411.4h0.9v0.9h-0.9zM247.8 403.6h0.9v0.9h-0.9zM247.7 413.7h0.9v0.9h-0.9zM248.3 408.1h0.9v0.9h-0.9zM246.7 403.5h0.9v0.9h-0.9zM244.0 406.7h0.9v0.9h-0.9zM251.6 408.3h0.9v0.9h-0.9zM242.9 413.5h0.9v0.9h-0.9zM249.2 403.3h0.9v0.9h-0.9zM245.1 403.2h0.9v0.9h-0.9zM248.7 401.4h0.9v0.9h-0.9zM251.0 405.1h0.9v0.9h-0.9zM242.7 414.8h0.9v0.9h-0.9zM247.2 409.4h0.9v0.9h-0.9zM248.1 405.3h0.9v0.9h-0.9zM248.2 407.5h0.9v0.9h-0.9zM247.2 409.0h0.9v0.9h-0.9zM249.6 404.4h0.9v0.9h-0.9zM241.7 410.3h0.9v0.9h-0.9zM252.5 410.0h0.9v0.9h-0.9zM245.2 410.4h0.9v0.9h-0.9zM242.2 408.6h0.9v0.9h-0.9zM240.8 408.7h0.9v0.9h-0.9zM247.7 413.5h0.9v0.9h-0.9zM244.2 411.2h0.9v0.9h-0.9zM249.5 405.1h0.9v0.9h-0.9zM244.9 402.7h0.9v0.9h-0.9zM243.1 409.7h0.9v0.9h-0.9zM239.8 407.4h0.9v0.9h-0.9zM247.7 412.7h0.9v0.9h-0.9zM238.5 409.5h0.9v0.9h-0.9zM243.9 401.3h0.9v0.9h-0.9zM242.7 410.1h0.9v0.9h-0.9zM245.6 410.5h0.9v0.9h-0.9zM244.8 410.3h0.9v0.9h-0.9zM242.9 405.3h0.9v0.9h-0.9zM245.2 403.0h0.9v0.9h-0.9zM249.2 407.6h0.9v0.9h-0.9zM242.8 405.7h0.9v0.9h-0.9zM242.9 408.7h0.9v0.9h-0.9zM244.6 411.0h0.9v0.9h-0.9zM242.4 408.1h0.9v0.9h-0.9zM241.3 406.9h0.9v0.9h-0.9zM249.6 408.0h0.9v0.9h-0.9zM248.2 408.1h0.9v0.9h-0.9zM242.5 405.6h0.9v0.9h-0.9zM242.4 409.4h0.9v0.9h-0.9zM246.3 417.3h0.9v0.9h-0.9zM250.4 410.9h0.9v0.9h-0.9zM242.9 408.7h0.9v0.9h-0.9zM243.1 415.5h0.9v0.9h-0.9zM243.6 411.9h0.9v0.9h-0.9zM241.8 410.7h0.9v0.9h-0.9zM242.1 406.9h0.9v0.9h-0.9zM246.1 408.8h0.9v0.9h-0.9zM245.5 408.1h0.9v0.9h-0.9zM243.2 408.0h0.9v0.9h-0.9zM245.5 405.5h0.9v0.9h-0.9zM247.3 408.9h0.9v0.9h-0.9zM243.5 412.3h0.9v0.9h-0.9zM244.0 402.5h0.9v0.9h-0.9zM249.3 407.2h0.9v0.9h-0.9zM249.9 409.7h0.9v0.9h-0.9zM243.1 411.8h0.9v0.9h-0.9zM247.0 411.2h0.9v0.9h-0.9zM245.8 413.1h0.9v0.9h-0.9zM248.3 407.3h0.9v0.9h-0.9zM241.3 408.2h0.9v0.9h-0.9zM245.8 405.3h0.9v0.9h-0.9zM245.1 412.9h0.9v0.9h-0.9zM244.3 411.8h0.9v0.9h-0.9zM243.0 405.3h0.9v0.9h-0.9zM248.3 407.8h0.9v0.9h-0.9zM246.3 411.5h0.9v0.9h-0.9zM250.3 404.5h0.9v0.9h-0.9zM247.3 409.0h0.9v0.9h-0.9zM246.1 413.8h0.9v0.9h-0.9zM245.0 406.5h0.9v0.9h-0.9zM247.1 402.1h0.9v0.9h-0.9zM246.7 405.6h0.9v0.9h-0.9zM246.6 406.0h0.9v0.9h-0.9zM247.1 407.6h0.9v0.9h-0.9zM243.6 410.0h0.9v0.9h-0.9zM247.8 403.4h0.9v0.9h-0.9zM241.9 407.5h0.9v0.9h-0.9zM244.6 412.4h0.9v0.9h-0.9zM250.2 409.8h0.9v0.9h-0.9zM248.8 407.3h0.9v0.9h-0.9zM241.7 409.3h0.9v0.9h-0.9zM240.6 413.3h0.9v0.9h-0.9zM246.4 411.9h0.9v0.9h-0.9zM243.8 403.4h0.9v0.9h-0.9zM245.1 409.8h0.9v0.9h-0.9zM245.0 406.8h0.9v0.9h-0.9zM245.9 407.7h0.9v0.9h-0.9zM249.6 404.3h0.9v0.9h-0.9zM239.3 408.0h0.9v0.9h-0.9zM246.4 403.6h0.9v0.9h-0.9zM245.5 409.7h0.9v0.9h-0.9zM246.6 409.3h0.9v0.9h-0.9zM243.5 403.9h0.9v0.9h-0.9zM248.4 407.2h0.9v0.9h-0.9zM241.7 413.1h0.9v0.9h-0.9zM247.8 399.7h0.9v0.9h-0.9zM253.1 408.8h0.9v0.9h-0.9zM241.0 411.3h0.9v0.9h-0.9zM246.6 412.2h0.9v0.9h-0.9zM245.7 403.2h0.9v0.9h-0.9zM245.2 407.0h0.9v0.9h-0.9zM246.5 407.8h0.9v0.9h-0.9zM247.2 404.6h0.9v0.9h-0.9zM244.1 406.7h0.9v0.9h-0.9zM246.8 403.1h0.9v0.9h-0.9zM245.6 415.7h0.9v0.9h-0.9zM240.5 411.5h0.9v0.9h-0.9zM245.9 411.4h0.9v0.9h-0.9zM245.8 409.1h0.9v0.9h-0.9zM246.7 409.7h0.9v0.9h-0.9zM242.2 407.9h0.9v0.9h-0.9zM250.9 412.7h0.9v0.9h-0.9zM243.2 405.4h0.9v0.9h-0.9zM245.1 411.6h0.9v0.9h-0.9zM248.3 406.5h0.9v0.9h-0.9zM238.8 408.2h0.9v0.9h-0.9zM240.9 412.0h0.9v0.9h-0.9zM249.9 410.4h0.9v0.9h-0.9zM247.3 410.1h0.9v0.9h-0.9zM250.9 411.7h0.9v0.9h-0.9zM249.8 404.8h0.9v0.9h-0.9zM244.1 408.3h0.9v0.9h-0.9zM239.2 407.4h0.9v0.9h-0.9zM245.6 408.1h0.9v0.9h-0.9zM252.9 407.7h0.9v0.9h-0.9zM245.1 407.9h0.9v0.9h-0.9zM244.6 403.9h0.9v0.9h-0.9zM248.8 408.4h0.9v0.9h-0.9zM246.7 408.4h0.9v0.9h-0.9zM243.4 403.4h0.9v0.9h-0.9zM244.8 410.0h0.9v0.9h-0.9zM245.3 410.6h0.9v0.9h-0.9zM243.4 407.4h0.9v0.9h-0.9zM246.1 408.0h0.9v0.9h-0.9zM246.1 412.7h0.9v0.9h-0.9zM244.4 408.7h0.9v0.9h-0.9zM243.8 410.0h0.9v0.9h-0.9zM246.3 406.0h0.9v0.9h-0.9zM242.7 404.6h0.9v0.9h-0.9zM244.8 408.8h0.9v0.9h-0.9zM244.2 408.0h0.9v0.9h-0.9zM246.0 415.6h0.9v0.9h-0.9zM249.0 415.5h0.9v0.9h-0.9zM246.0 409.0h0.9v0.9h-0.9zM251.2 409.5h0.9v0.9h-0.9zM247.5 406.8h0.9v0.9h-0.9zM244.1 410.7h0.9v0.9h-0.9zM243.9 406.3h0.9v0.9h-0.9zM241.3 409.2h0.9v0.9h-0.9zM245.3 410.0h0.9v0.9h-0.9zM243.1 404.5h0.9v0.9h-0.9zM248.8 408.4h0.9v0.9h-0.9zM247.9 404.8h0.9v0.9h-0.9zM241.9 400.5h0.9v0.9h-0.9zM246.5 411.4h0.9v0.9h-0.9zM249.4 413.8h0.9v0.9h-0.9zM240.4 404.9h0.9v0.9h-0.9zM244.1 405.9h0.9v0.9h-0.9zM245.0 405.8h0.9v0.9h-0.9zM241.4 408.2h0.9v0.9h-0.9zM246.0 405.9h0.9v0.9h-0.9zM245.7 404.3h0.9v0.9h-0.9zM244.7 407.3h0.9v0.9h-0.9zM244.3 408.1h0.9v0.9h-0.9zM242.0 404.2h0.9v0.9h-0.9zM243.2 410.6h0.9v0.9h-0.9zM242.9 405.4h0.9v0.9h-0.9zM251.3 407.5h0.9v0.9h-0.9zM244.5 405.6h0.9v0.9h-0.9zM249.8 409.9h0.9v0.9h-0.9zM246.4 413.2h0.9v0.9h-0.9zM242.2 403.1h0.9v0.9h-0.9zM248.8 409.6h0.9v0.9h-0.9zM244.1 410.8h0.9v0.9h-0.9zM245.3 414.3h0.9v0.9h-0.9zM242.0 409.4h0.9v0.9h-0.9zM248.4 411.0h0.9v0.9h-0.9zM244.6 407.1h0.9v0.9h-0.9zM244.4 410.4h0.9v0.9h-0.9zM244.4 407.9h0.9v0.9h-0.9zM248.6 408.0h0.9v0.9h-0.9zM246.3 407.9h0.9v0.9h-0.9zM245.6 401.4h0.9v0.9h-0.9zM242.9 409.4h0.9v0.9h-0.9zM243.8 406.4h0.9v0.9h-0.9zM245.8 415.4h0.9v0.9h-0.9zM243.4 405.4h0.9v0.9h-0.9zM240.4 409.7h0.9v0.9h-0.9zM245.4 405.7h0.9v0.9h-0.9zM244.4 411.3h0.9v0.9h-0.9zM248.5 409.4h0.9v0.9h-0.9zM248.9 411.4h0.9v0.9h-0.9zM244.3 410.8h0.9v0.9h-0.9zM246.1 410.7h0.9v0.9h-0.9zM246.4 414.9h0.9v0.9h-0.9zM242.0 409.4h0.9v0.9h-0.9zM242.5 415.5h0.9v0.9h-0.9zM244.1 407.2h0.9v0.9h-0.9zM245.5 408.2h0.9v0.9h-0.9zM250.5 408.1h0.9v0.9h-0.9zM246.3 411.6h0.9v0.9h-0.9zM250.0 405.3h0.9v0.9h-0.9zM246.5 404.2h0.9v0.9h-0.9zM247.0 412.7h0.9v0.9h-0.9zM244.1 407.4h0.9v0.9h-0.9zM249.0 409.7h0.9v0.9h-0.9zM247.9 406.9h0.9v0.9h-0.9zM244.7 407.2h0.9v0.9h-0.9zM250.1 403.7h0.9v0.9h-0.9zM244.1 413.1h0.9v0.9h-0.9zM245.4 404.9h0.9v0.9h-0.9zM246.3 407.6h0.9v0.9h-0.9zM245.2 409.9h0.9v0.9h-0.9zM247.9 403.7h0.9v0.9h-0.9zM246.2 413.0h0.9v0.9h-0.9zM241.7 408.0h0.9v0.9h-0.9zM242.2 410.4h0.9v0.9h-0.9zM243.2 407.3h0.9v0.9h-0.9zM244.4 409.7h0.9v0.9h-0.9zM241.8 404.0h0.9v0.9h-0.9zM246.1 412.5h0.9v0.9h-0.9zM244.1 409.6h0.9v0.9h-0.9zM246.4 408.6h0.9v0.9h-0.9zM245.5 406.6h0.9v0.9h-0.9zM244.9 412.0h0.9v0.9h-0.9zM246.9 412.3h0.9v0.9h-0.9zM243.5 408.7h0.9v0.9h-0.9zM243.7 404.2h0.9v0.9h-0.9zM248.2 407.4h0.9v0.9h-0.9zM246.3 403.9h0.9v0.9h-0.9zM244.9 407.9h0.9v0.9h-0.9zM244.5 411.5h0.9v0.9h-0.9zM246.9 408.7h0.9v0.9h-0.9zM246.3 406.9h0.9v0.9h-0.9zM243.5 407.4h0.9v0.9h-0.9zM242.6 407.8h0.9v0.9h-0.9zM245.3 411.8h0.9v0.9h-0.9zM244.3 415.9h0.9v0.9h-0.9zM244.1 408.7h0.9v0.9h-0.9zM245.5 406.4h0.9v0.9h-0.9zM245.4 402.8h0.9v0.9h-0.9zM248.8 406.5h0.9v0.9h-0.9zM245.5 402.6h0.9v0.9h-0.9zM247.2 404.3h0.9v0.9h-0.9zM249.5 405.0h0.9v0.9h-0.9zM243.5 410.4h0.9v0.9h-0.9zM249.3 402.1h0.9v0.9h-0.9zM240.7 413.3h0.9v0.9h-0.9zM246.9 403.5h0.9v0.9h-0.9zM244.3 410.5h0.9v0.9h-0.9zM244.5 413.0h0.9v0.9h-0.9zM243.5 408.8h0.9v0.9h-0.9zM248.9 412.9h0.9v0.9h-0.9zM246.3 410.1h0.9v0.9h-0.9zM244.6 408.1h0.9v0.9h-0.9zM243.9 409.5h0.9v0.9h-0.9zM248.0 405.1h0.9v0.9h-0.9zM242.2 408.4h0.9v0.9h-0.9zM251.3 409.0h0.9v0.9h-0.9zM246.0 408.2h0.9v0.9h-0.9zM240.8 406.1h0.9v0.9h-0.9zM249.9 401.7h0.9v0.9h-0.9zM250.7 404.5h0.9v0.9h-0.9zM251.4 416.5h0.9v0.9h-0.9zM249.9 407.9h0.9v0.9h-0.9zM247.3 406.6h0.9v0.9h-0.9zM244.3 408.9h0.9v0.9h-0.9zM236.5 410.1h0.9v0.9h-0.9zM244.7 404.9h0.9v0.9h-0.9zM244.8 410.3h0.9v0.9h-0.9zM243.4 409.4h0.9v0.9h-0.9zM241.7 408.6h0.9v0.9h-0.9zM242.3 410.7h0.9v0.9h-0.9zM242.6 410.2h0.9v0.9h-0.9zM239.9 408.8h0.9v0.9h-0.9zM248.7 405.7h0.9v0.9h-0.9zM245.7 405.6h0.9v0.9h-0.9zM247.0 410.7h0.9v0.9h-0.9zM248.9 412.5h0.9v0.9h-0.9zM249.3 406.0h0.9v0.9h-0.9zM245.9 410.0h0.9v0.9h-0.9zM246.1 404.2h0.9v0.9h-0.9zM251.4 416.3h0.9v0.9h-0.9zM245.7 400.1h0.9v0.9h-0.9zM250.8 407.7h0.9v0.9h-0.9zM252.1 405.0h0.9v0.9h-0.9zM247.1 410.8h0.9v0.9h-0.9zM241.4 407.2h0.9v0.9h-0.9zM247.0 410.4h0.9v0.9h-0.9zM246.7 400.0h0.9v0.9h-0.9zM238.7 409.4h0.9v0.9h-0.9zM250.2 403.4h0.9v0.9h-0.9zM246.7 411.2h0.9v0.9h-0.9zM242.8 403.3h0.9v0.9h-0.9zM246.3 406.9h0.9v0.9h-0.9zM245.3 407.6h0.9v0.9h-0.9zM245.2 409.3h0.9v0.9h-0.9zM244.0 408.2h0.9v0.9h-0.9zM243.9 405.5h0.9v0.9h-0.9zM246.6 405.7h0.9v0.9h-0.9zM247.1 408.2h0.9v0.9h-0.9zM248.7 410.2h0.9v0.9h-0.9zM239.8 408.2h0.9v0.9h-0.9zM247.5 408.6h0.9v0.9h-0.9zM245.7 411.7h0.9v0.9h-0.9zM247.5 404.0h0.9v0.9h-0.9zM245.8 411.5h0.9v0.9h-0.9zM246.0 404.2h0.9v0.9h-0.9zM247.8 410.2h0.9v0.9h-0.9zM248.9 408.8h0.9v0.9h-0.9zM245.9 411.0h0.9v0.9h-0.9zM242.4 413.7h0.9v0.9h-0.9zM246.7 409.0h0.9v0.9h-0.9zM247.7 410.8h0.9v0.9h-0.9zM239.2 411.2h0.9v0.9h-0.9zM245.3 405.8h0.9v0.9h-0.9zM248.2 411.3h0.9v0.9h-0.9zM246.7 406.3h0.9v0.9h-0.9zM245.9 405.3h0.9v0.9h-0.9zM252.8 406.2h0.9v0.9h-0.9zM248.1 413.5h0.9v0.9h-0.9zM243.1 406.6h0.9v0.9h-0.9zM239.1 407.5h0.9v0.9h-0.9zM241.8 408.8h0.9v0.9h-0.9zM244.9 408.3h0.9v0.9h-0.9zM245.7 406.8h0.9v0.9h-0.9zM245.9 408.1h0.9v0.9h-0.9zM243.5 407.3h0.9v0.9h-0.9zM243.9 404.2h0.9v0.9h-0.9zM245.5 402.4h0.9v0.9h-0.9zM247.1 408.2h0.9v0.9h-0.9zM246.0 412.0h0.9v0.9h-0.9zM248.3 406.9h0.9v0.9h-0.9zM246.6 412.1h0.9v0.9h-0.9zM245.1 409.5h0.9v0.9h-0.9zM246.8 405.0h0.9v0.9h-0.9zM246.4 407.0h0.9v0.9h-0.9zM244.8 409.7h0.9v0.9h-0.9zM247.4 405.4h0.9v0.9h-0.9zM244.8 407.7h0.9v0.9h-0.9zM242.8 409.5h0.9v0.9h-0.9zM245.0 406.0h0.9v0.9h-0.9zM248.3 408.0h0.9v0.9h-0.9zM242.2 408.0h0.9v0.9h-0.9zM245.0 409.2h0.9v0.9h-0.9zM252.0 410.0h0.9v0.9h-0.9zM249.7 407.7h0.9v0.9h-0.9zM246.9 409.9h0.9v0.9h-0.9zM245.3 409.1h0.9v0.9h-0.9zM244.3 410.5h0.9v0.9h-0.9zM243.0 413.7h0.9v0.9h-0.9zM234.9 403.9h0.9v0.9h-0.9zM245.2 409.4h0.9v0.9h-0.9zM246.0 403.2h0.9v0.9h-0.9zM246.8 405.5h0.9v0.9h-0.9zM246.1 407.0h0.9v0.9h-0.9zM244.8 403.5h0.9v0.9h-0.9zM241.8 406.5h0.9v0.9h-0.9zM242.5 409.1h0.9v0.9h-0.9zM241.5 409.0h0.9v0.9h-0.9zM247.1 405.9h0.9v0.9h-0.9zM242.8 407.2h0.9v0.9h-0.9zM247.8 412.7h0.9v0.9h-0.9zM251.8 408.6h0.9v0.9h-0.9zM247.3 408.9h0.9v0.9h-0.9zM245.5 404.9h0.9v0.9h-0.9zM244.5 411.8h0.9v0.9h-0.9zM249.5 406.4h0.9v0.9h-0.9zM240.9 414.3h0.9v0.9h-0.9zM245.6 409.7h0.9v0.9h-0.9zM245.1 402.6h0.9v0.9h-0.9zM246.5 405.2h0.9v0.9h-0.9zM244.7 406.3h0.9v0.9h-0.9zM244.8 415.9h0.9v0.9h-0.9zM249.9 402.1h0.9v0.9h-0.9zM241.1 406.7h0.9v0.9h-0.9zM243.6 410.8h0.9v0.9h-0.9zM250.1 406.0h0.9v0.9h-0.9zM247.2 407.6h0.9v0.9h-0.9zM239.9 412.0h0.9v0.9h-0.9zM250.6 405.7h0.9v0.9h-0.9zM247.4 406.7h0.9v0.9h-0.9zM245.3 406.8h0.9v0.9h-0.9zM245.2 408.4h0.9v0.9h-0.9zM243.8 409.2h0.9v0.9h-0.9zM241.8 410.9h0.9v0.9h-0.9zM242.8 402.4h0.9v0.9h-0.9zM247.9 407.2h0.9v0.9h-0.9zM244.0 411.2h0.9v0.9h-0.9zM245.5 414.5h0.9v0.9h-0.9zM246.8 403.7h0.9v0.9h-0.9zM244.1 406.2h0.9v0.9h-0.9zM244.7 413.6h0.9v0.9h-0.9zM253.4 413.7h0.9v0.9h-0.9zM246.9 410.0h0.9v0.9h-0.9zM246.0 401.3h0.9v0.9h-0.9zM249.6 414.6h0.9v0.9h-0.9zM244.1 408.2h0.9v0.9h-0.9zM243.5 407.6h0.9v0.9h-0.9zM243.1 404.7h0.9v0.9h-0.9zM249.0 402.1h0.9v0.9h-0.9zM248.5 404.7h0.9v0.9h-0.9zM244.8 401.9h0.9v0.9h-0.9zM247.4 405.1h0.9v0.9h-0.9zM252.7 405.3h0.9v0.9h-0.9zM246.3 410.4h0.9v0.9h-0.9zM242.8 405.7h0.9v0.9h-0.9zM242.5 410.1h0.9v0.9h-0.9zM246.4 411.5h0.9v0.9h-0.9zM241.4 405.3h0.9v0.9h-0.9zM245.2 406.9h0.9v0.9h-0.9zM246.5 411.9h0.9v0.9h-0.9zM245.9 405.8h0.9v0.9h-0.9zM245.4 406.0h0.9v0.9h-0.9zM243.7 414.2h0.9v0.9h-0.9zM247.5 414.1h0.9v0.9h-0.9zM245.0 408.1h0.9v0.9h-0.9zM241.9 409.0h0.9v0.9h-0.9zM247.7 410.5h0.9v0.9h-0.9zM242.2 408.6h0.9v0.9h-0.9zM248.2 406.8h0.9v0.9h-0.9zM247.6 406.7h0.9v0.9h-0.9zM245.5 406.4h0.9v0.9h-0.9zM241.3 405.6h0.9v0.9h-0.9zM246.1 407.4h0.9v0.9h-0.9zM245.5 406.4h0.9v0.9h-0.9zM248.1 407.7h0.9v0.9h-0.9zM246.7 406.8h0.9v0.9h-0.9zM249.3 408.0h0.9v0.9h-0.9zM246.8 415.3h0.9v0.9h-0.9zM246.8 403.3h0.9v0.9h-0.9zM243.6 409.3h0.9v0.9h-0.9zM241.8 403.6h0.9v0.9h-0.9zM245.2 403.3h0.9v0.9h-0.9zM248.7 409.7h0.9v0.9h-0.9zM244.7 412.1h0.9v0.9h-0.9zM243.6 404.5h0.9v0.9h-0.9zM248.2 408.3h0.9v0.9h-0.9zM244.9 411.6h0.9v0.9h-0.9zM245.2 410.3h0.9v0.9h-0.9zM246.2 412.0h0.9v0.9h-0.9zM247.1 406.8h0.9v0.9h-0.9zM249.9 407.2h0.9v0.9h-0.9zM250.6 404.3h0.9v0.9h-0.9zM245.7 401.2h0.9v0.9h-0.9zM247.1 412.5h0.9v0.9h-0.9zM244.4 409.8h0.9v0.9h-0.9zM244.9 412.9h0.9v0.9h-0.9zM246.5 409.4h0.9v0.9h-0.9zM248.7 403.5h0.9v0.9h-0.9zM247.6 408.7h0.9v0.9h-0.9zM249.3 408.4h0.9v0.9h-0.9zM247.3 408.1h0.9v0.9h-0.9zM242.7 406.7h0.9v0.9h-0.9zM245.1 404.1h0.9v0.9h-0.9zM245.4 406.8h0.9v0.9h-0.9zM250.8 407.5h0.9v0.9h-0.9zM245.9 408.6h0.9v0.9h-0.9zM247.6 403.2h0.9v0.9h-0.9zM240.6 413.3h0.9v0.9h-0.9zM243.2 405.5h0.9v0.9h-0.9zM248.9 409.2h0.9v0.9h-0.9zM243.3 410.7h0.9v0.9h-0.9zM242.3 413.4h0.9v0.9h-0.9zM244.7 409.4h0.9v0.9h-0.9zM245.6 414.4h0.9v0.9h-0.9zM242.8 408.0h0.9v0.9h-0.9zM251.7 401.8h0.9v0.9h-0.9zM244.2 409.2h0.9v0.9h-0.9zM245.0 409.7h0.9v0.9h-0.9zM248.9 404.7h0.9v0.9h-0.9zM243.7 412.5h0.9v0.9h-0.9zM251.2 399.8h0.9v0.9h-0.9zM247.1 411.4h0.9v0.9h-0.9zM243.6 405.5h0.9v0.9h-0.9zM242.3 407.7h0.9v0.9h-0.9zM242.3 410.5h0.9v0.9h-0.9zM243.6 409.9h0.9v0.9h-0.9zM241.1 411.1h0.9v0.9h-0.9zM247.5 411.3h0.9v0.9h-0.9zM246.4 415.6h0.9v0.9h-0.9zM248.4 408.5h0.9v0.9h-0.9zM250.2 407.2h0.9v0.9h-0.9zM246.0 413.5h0.9v0.9h-0.9zM244.3 408.3h0.9v0.9h-0.9zM246.3 408.9h0.9v0.9h-0.9zM244.9 411.5h0.9v0.9h-0.9zM251.8 407.1h0.9v0.9h-0.9zM241.4 406.8h0.9v0.9h-0.9zM241.6 404.3h0.9v0.9h-0.9zM242.6 411.7h0.9v0.9h-0.9zM246.0 410.5h0.9v0.9h-0.9zM245.3 411.5h0.9v0.9h-0.9zM244.4 412.4h0.9v0.9h-0.9zM248.1 409.0h0.9v0.9h-0.9zM241.4 404.8h0.9v0.9h-0.9zM246.3 405.0h0.9v0.9h-0.9zM245.1 407.8h0.9v0.9h-0.9zM249.6 406.1h0.9v0.9h-0.9zM246.0 406.8h0.9v0.9h-0.9zM243.4 409.7h0.9v0.9h-0.9zM248.4 403.8h0.9v0.9h-0.9zM249.9 415.4h0.9v0.9h-0.9zM246.0 409.9h0.9v0.9h-0.9zM242.6 407.0h0.9v0.9h-0.9zM246.5 408.0h0.9v0.9h-0.9zM249.6 405.5h0.9v0.9h-0.9zM244.9 410.0h0.9v0.9h-0.9zM245.4 407.5h0.9v0.9h-0.9zM245.3 409.6h0.9v0.9h-0.9zM240.1 416.5h0.9v0.9h-0.9zM247.7 405.0h0.9v0.9h-0.9zM243.0 404.7h0.9v0.9h-0.9zM246.9 402.4h0.9v0.9h-0.9zM252.6 406.6h0.9v0.9h-0.9zM241.6 414.8h0.9v0.9h-0.9zM245.6 409.9h0.9v0.9h-0.9zM245.1 407.5h0.9v0.9h-0.9zM251.5 402.1h0.9v0.9h-0.9zM246.3 406.0h0.9v0.9h-0.9zM244.6 408.1h0.9v0.9h-0.9zM240.3 410.3h0.9v0.9h-0.9zM246.2 410.1h0.9v0.9h-0.9zM243.9 410.7h0.9v0.9h-0.9zM244.3 410.7h0.9v0.9h-0.9zM249.5 410.3h0.9v0.9h-0.9zM241.5 408.5h0.9v0.9h-0.9zM242.6 414.5h0.9v0.9h-0.9zM246.2 404.3h0.9v0.9h-0.9zM241.2 412.5h0.9v0.9h-0.9zM242.7 409.6h0.9v0.9h-0.9zM244.7 407.8h0.9v0.9h-0.9zM244.3 408.3h0.9v0.9h-0.9zM250.2 405.5h0.9v0.9h-0.9zM247.1 409.8h0.9v0.9h-0.9zM243.7 404.9h0.9v0.9h-0.9zM243.1 410.1h0.9v0.9h-0.9zM246.1 411.5h0.9v0.9h-0.9zM246.7 408.7h0.9v0.9h-0.9zM245.7 409.0h0.9v0.9h-0.9zM245.7 410.4h0.9v0.9h-0.9zM243.1 411.7h0.9v0.9h-0.9zM250.3 408.0h0.9v0.9h-0.9zM247.2 404.6h0.9v0.9h-0.9zM245.9 403.8h0.9v0.9h-0.9zM248.5 408.5h0.9v0.9h-0.9zM248.7 411.9h0.9v0.9h-0.9zM243.5 410.9h0.9v0.9h-0.9zM250.1 415.3h0.9v0.9h-0.9zM245.3 410.0h0.9v0.9h-0.9zM243.8 410.3h0.9v0.9h-0.9zM247.3 412.9h0.9v0.9h-0.9zM245.2 408.5h0.9v0.9h-0.9zM247.0 407.8h0.9v0.9h-0.9zM251.6 401.3h0.9v0.9h-0.9zM240.7 406.7h0.9v0.9h-0.9zM247.6 408.4h0.9v0.9h-0.9zM246.8 403.5h0.9v0.9h-0.9zM247.3 410.0h0.9v0.9h-0.9zM250.3 410.9h0.9v0.9h-0.9zM243.8 406.0h0.9v0.9h-0.9zM242.4 406.8h0.9v0.9h-0.9zM245.3 412.3h0.9v0.9h-0.9zM250.4 408.5h0.9v0.9h-0.9zM247.3 407.8h0.9v0.9h-0.9zM241.9 410.0h0.9v0.9h-0.9zM243.5 403.3h0.9v0.9h-0.9zM243.2 413.0h0.9v0.9h-0.9zM242.3 412.6h0.9v0.9h-0.9zM241.7 408.1h0.9v0.9h-0.9zM247.1 407.1h0.9v0.9h-0.9zM242.8 408.3h0.9v0.9h-0.9zM250.4 410.4h0.9v0.9h-0.9zM246.2 410.1h0.9v0.9h-0.9zM249.0 412.5h0.9v0.9h-0.9zM244.8 405.6h0.9v0.9h-0.9zM242.8 408.5h0.9v0.9h-0.9zM244.8 408.3h0.9v0.9h-0.9zM243.8 416.1h0.9v0.9h-0.9zM243.6 412.8h0.9v0.9h-0.9zM243.1 405.9h0.9v0.9h-0.9zM242.2 404.9h0.9v0.9h-0.9zM240.9 405.7h0.9v0.9h-0.9zM244.9 410.5h0.9v0.9h-0.9zM240.5 409.7h0.9v0.9h-0.9zM245.3 408.3h0.9v0.9h-0.9zM239.4 409.8h0.9v0.9h-0.9zM247.5 411.9h0.9v0.9h-0.9zM244.8 412.2h0.9v0.9h-0.9zM245.8 405.5h0.9v0.9h-0.9zM247.1 411.4h0.9v0.9h-0.9zM246.3 408.2h0.9v0.9h-0.9zM244.9 410.4h0.9v0.9h-0.9zM240.4 409.3h0.9v0.9h-0.9zM241.9 406.7h0.9v0.9h-0.9zM246.2 412.2h0.9v0.9h-0.9zM245.6 405.4h0.9v0.9h-0.9zM253.5 409.3h0.9v0.9h-0.9zM237.8 408.0h0.9v0.9h-0.9zM243.5 406.4h0.9v0.9h-0.9zM248.7 415.0h0.9v0.9h-0.9zM245.9 404.1h0.9v0.9h-0.9zM248.1 408.6h0.9v0.9h-0.9zM244.4 409.0h0.9v0.9h-0.9zM242.3 408.9h0.9v0.9h-0.9zM246.6 412.0h0.9v0.9h-0.9zM251.4 406.4h0.9v0.9h-0.9zM246.7 405.8h0.9v0.9h-0.9zM246.0 411.9h0.9v0.9h-0.9zM247.5 407.4h0.9v0.9h-0.9zM250.8 411.1h0.9v0.9h-0.9zM249.2 408.6h0.9v0.9h-0.9zM249.5 407.9h0.9v0.9h-0.9zM248.1 408.5h0.9v0.9h-0.9zM245.6 403.5h0.9v0.9h-0.9zM248.5 410.1h0.9v0.9h-0.9zM243.8 408.5h0.9v0.9h-0.9zM247.4 410.3h0.9v0.9h-0.9zM239.6 413.0h0.9v0.9h-0.9zM242.6 414.3h0.9v0.9h-0.9zM248.9 408.8h0.9v0.9h-0.9zM246.2 409.2h0.9v0.9h-0.9zM244.4 413.1h0.9v0.9h-0.9zM243.7 406.7h0.9v0.9h-0.9zM244.9 403.4h0.9v0.9h-0.9zM248.6 404.6h0.9v0.9h-0.9zM250.0 411.3h0.9v0.9h-0.9zM251.5 406.5h0.9v0.9h-0.9zM244.7 406.9h0.9v0.9h-0.9zM247.9 405.5h0.9v0.9h-0.9zM244.7 401.1h0.9v0.9h-0.9zM245.8 409.0h0.9v0.9h-0.9zM251.4 405.7h0.9v0.9h-0.9zM248.4 410.1h0.9v0.9h-0.9zM248.2 404.9h0.9v0.9h-0.9zM235.5 406.8h0.9v0.9h-0.9zM248.4 408.9h0.9v0.9h-0.9zM249.9 415.1h0.9v0.9h-0.9zM243.6 407.0h0.9v0.9h-0.9zM250.1 403.1h0.9v0.9h-0.9zM238.3 409.2h0.9v0.9h-0.9zM246.6 413.1h0.9v0.9h-0.9zM247.8 408.2h0.9v0.9h-0.9zM244.0 402.5h0.9v0.9h-0.9zM247.2 406.4h0.9v0.9h-0.9zM244.5 409.3h0.9v0.9h-0.9zM239.6 408.1h0.9v0.9h-0.9zM243.8 414.6h0.9v0.9h-0.9zM245.3 411.9h0.9v0.9h-0.9zM242.7 403.3h0.9v0.9h-0.9zM248.2 407.2h0.9v0.9h-0.9zM241.7 411.7h0.9v0.9h-0.9zM247.1 402.9h0.9v0.9h-0.9zM244.9 414.6h0.9v0.9h-0.9zM246.0 404.0h0.9v0.9h-0.9zM243.2 412.7h0.9v0.9h-0.9zM250.1 410.5h0.9v0.9h-0.9zM241.2 411.0h0.9v0.9h-0.9zM243.2 406.7h0.9v0.9h-0.9zM244.2 411.8h0.9v0.9h-0.9zM247.1 410.2h0.9v0.9h-0.9zM244.3 406.7h0.9v0.9h-0.9zM248.8 406.4h0.9v0.9h-0.9zM244.8 410.1h0.9v0.9h-0.9zM245.1 411.5h0.9v0.9h-0.9zM247.3 410.4h0.9v0.9h-0.9zM252.5 406.6h0.9v0.9h-0.9zM251.8 404.2h0.9v0.9h-0.9zM243.3 400.4h0.9v0.9h-0.9zM243.6 405.8h0.9v0.9h-0.9zM247.7 412.4h0.9v0.9h-0.9zM252.5 406.6h0.9v0.9h-0.9zM248.8 407.7h0.9v0.9h-0.9zM240.1 395.0h0.9v0.9h-0.9zM244.6 402.1h0.9v0.9h-0.9zM248.2 405.3h0.9v0.9h-0.9zM247.6 406.2h0.9v0.9h-0.9z" fill="#000"/>
<path d="M247.4 404.3h0.9v0.9h-0.9zM247.0 421.0h0.9v0.9h-0.9zM246.9 401.8h0.9v0.9h-0.9zM241.2 410.9h0.9v0.9h-0.9zM249.1 402.6h0.9v0.9h-0.9zM240.5 400.3h0.9v0.9h-0.9zM253.8 411.8h0.9v0.9h-0.9zM246.7 407.4h0.9v0.9h-0.9zM254.6 413.5h0.9v0.9h-0.9zM244.6 417.4h0.9v0.9h-0.9zM248.0 408.3h0.9v0.9h-0.9zM243.2 410.1h0.9v0.9h-0.9zM251.9 401.4h0.9v0.9h-0.9zM236.8 414.1h0.9v0.9h-0.9zM250.3 418.8h0.9v0.9h-0.9zM247.9 400.9h0.9v0.9h-0.9zM249.1 411.1h0.9v0.9h-0.9zM240.0 400.3h0.9v0.9h-0.9zM237.4 410.4h0.9v0.9h-0.9zM238.6 412.2h0.9v0.9h-0.9zM244.3 413.9h0.9v0.9h-0.9zM249.4 404.5h0.9v0.9h-0.9zM243.2 414.5h0.9v0.9h-0.9zM241.9 416.2h0.9v0.9h-0.9zM248.0 415.5h0.9v0.9h-0.9zM242.1 414.8h0.9v0.9h-0.9zM244.0 411.4h0.9v0.9h-0.9zM248.2 406.6h0.9v0.9h-0.9zM244.8 395.6h0.9v0.9h-0.9zM241.6 413.8h0.9v0.9h-0.9zM239.7 397.1h0.9v0.9h-0.9zM237.9 408.2h0.9v0.9h-0.9zM248.4 413.3h0.9v0.9h-0.9zM238.0 412.5h0.9v0.9h-0.9zM239.0 416.7h0.9v0.9h-0.9zM247.0 406.1h0.9v0.9h-0.9zM242.7 409.5h0.9v0.9h-0.9zM242.2 417.1h0.9v0.9h-0.9zM246.5 406.5h0.9v0.9h-0.9zM247.3 401.6h0.9v0.9h-0.9zM245.8 408.0h0.9v0.9h-0.9zM242.2 409.6h0.9v0.9h-0.9zM246.2 401.1h0.9v0.9h-0.9zM246.8 428.0h0.9v0.9h-0.9zM249.0 406.4h0.9v0.9h-0.9zM246.8 420.1h0.9v0.9h-0.9zM239.7 420.1h0.9v0.9h-0.9zM243.3 421.6h0.9v0.9h-0.9zM241.0 416.4h0.9v0.9h-0.9zM242.2 417.7h0.9v0.9h-0.9zM249.4 412.1h0.9v0.9h-0.9zM241.0 416.4h0.9v0.9h-0.9zM246.9 403.4h0.9v0.9h-0.9zM247.8 409.0h0.9v0.9h-0.9zM244.5 404.0h0.9v0.9h-0.9zM246.1 415.3h0.9v0.9h-0.9zM240.9 414.9h0.9v0.9h-0.9zM236.2 410.7h0.9v0.9h-0.9zM246.3 404.2h0.9v0.9h-0.9zM245.8 402.0h0.9v0.9h-0.9zM254.2 412.4h0.9v0.9h-0.9zM250.3 404.3h0.9v0.9h-0.9zM234.1 409.5h0.9v0.9h-0.9zM251.6 409.0h0.9v0.9h-0.9zM250.7 412.4h0.9v0.9h-0.9zM246.6 416.4h0.9v0.9h-0.9zM242.2 407.5h0.9v0.9h-0.9zM250.4 412.8h0.9v0.9h-0.9zM242.4 403.4h0.9v0.9h-0.9zM252.2 390.2h0.9v0.9h-0.9zM249.5 409.1h0.9v0.9h-0.9zM238.8 412.5h0.9v0.9h-0.9zM247.3 423.9h0.9v0.9h-0.9zM246.5 394.6h0.9v0.9h-0.9zM240.5 414.7h0.9v0.9h-0.9zM242.7 409.6h0.9v0.9h-0.9zM244.6 418.8h0.9v0.9h-0.9zM246.6 409.0h0.9v0.9h-0.9zM242.0 416.2h0.9v0.9h-0.9zM241.7 412.5h0.9v0.9h-0.9zM247.0 414.6h0.9v0.9h-0.9zM248.8 411.7h0.9v0.9h-0.9zM254.5 414.8h0.9v0.9h-0.9zM241.4 404.4h0.9v0.9h-0.9zM241.7 418.1h0.9v0.9h-0.9zM239.8 419.6h0.9v0.9h-0.9zM247.1 406.4h0.9v0.9h-0.9zM240.3 409.4h0.9v0.9h-0.9zM248.6 409.5h0.9v0.9h-0.9zM248.5 411.0h0.9v0.9h-0.9zM251.5 407.0h0.9v0.9h-0.9zM244.4 403.1h0.9v0.9h-0.9zM243.5 403.9h0.9v0.9h-0.9zM237.8 408.6h0.9v0.9h-0.9zM248.3 396.3h0.9v0.9h-0.9zM239.0 401.4h0.9v0.9h-0.9zM246.8 413.4h0.9v0.9h-0.9zM246.6 408.9h0.9v0.9h-0.9zM241.4 411.1h0.9v0.9h-0.9zM240.9 408.6h0.9v0.9h-0.9zM246.9 408.4h0.9v0.9h-0.9zM250.7 396.7h0.9v0.9h-0.9zM237.5 416.1h0.9v0.9h-0.9zM242.4 407.1h0.9v0.9h-0.9zM242.4 409.6h0.9v0.9h-0.9zM244.3 412.2h0.9v0.9h-0.9zM249.4 421.3h0.9v0.9h-0.9zM235.0 409.3h0.9v0.9h-0.9zM240.8 411.3h0.9v0.9h-0.9zM240.3 410.4h0.9v0.9h-0.9zM246.3 409.7h0.9v0.9h-0.9zM246.1 414.0h0.9v0.9h-0.9zM240.0 409.7h0.9v0.9h-0.9zM250.0 415.7h0.9v0.9h-0.9zM249.6 404.9h0.9v0.9h-0.9zM241.9 416.0h0.9v0.9h-0.9zM245.0 411.8h0.9v0.9h-0.9zM243.4 415.6h0.9v0.9h-0.9zM245.8 403.9h0.9v0.9h-0.9zM246.8 407.9h0.9v0.9h-0.9zM243.8 413.4h0.9v0.9h-0.9zM245.7 406.5h0.9v0.9h-0.9zM239.5 407.3h0.9v0.9h-0.9zM244.4 402.7h0.9v0.9h-0.9zM242.1 424.2h0.9v0.9h-0.9zM242.0 410.4h0.9v0.9h-0.9zM239.2 408.0h0.9v0.9h-0.9zM246.2 411.0h0.9v0.9h-0.9zM237.1 410.2h0.9v0.9h-0.9zM240.4 416.6h0.9v0.9h-0.9zM244.5 419.6h0.9v0.9h-0.9zM246.7 402.9h0.9v0.9h-0.9zM249.5 407.0h0.9v0.9h-0.9zM244.5 410.6h0.9v0.9h-0.9zM238.9 417.1h0.9v0.9h-0.9zM245.7 403.7h0.9v0.9h-0.9zM238.6 412.8h0.9v0.9h-0.9zM250.7 412.5h0.9v0.9h-0.9zM246.5 407.4h0.9v0.9h-0.9zM250.2 413.3h0.9v0.9h-0.9zM241.3 406.3h0.9v0.9h-0.9zM234.9 417.0h0.9v0.9h-0.9zM259.1 409.3h0.9v0.9h-0.9zM247.1 414.6h0.9v0.9h-0.9zM244.0 423.0h0.9v0.9h-0.9zM240.3 404.9h0.9v0.9h-0.9zM252.6 415.6h0.9v0.9h-0.9zM248.6 409.4h0.9v0.9h-0.9zM244.8 410.9h0.9v0.9h-0.9zM247.0 406.3h0.9v0.9h-0.9zM249.9 420.6h0.9v0.9h-0.9zM242.5 404.2h0.9v0.9h-0.9zM245.6 425.0h0.9v0.9h-0.9zM240.5 418.2h0.9v0.9h-0.9zM241.8 405.4h0.9v0.9h-0.9zM250.1 409.0h0.9v0.9h-0.9zM244.8 414.3h0.9v0.9h-0.9zM250.3 411.5h0.9v0.9h-0.9zM252.3 405.9h0.9v0.9h-0.9zM242.6 414.2h0.9v0.9h-0.9zM248.1 399.5h0.9v0.9h-0.9zM243.6 414.2h0.9v0.9h-0.9zM244.3 420.9h0.9v0.9h-0.9zM237.6 411.3h0.9v0.9h-0.9zM241.0 400.4h0.9v0.9h-0.9zM243.9 409.7h0.9v0.9h-0.9zM243.1 406.2h0.9v0.9h-0.9zM249.0 403.7h0.9v0.9h-0.9zM242.1 401.5h0.9v0.9h-0.9zM250.5 401.1h0.9v0.9h-0.9zM253.1 404.5h0.9v0.9h-0.9zM244.8 419.9h0.9v0.9h-0.9zM240.0 418.0h0.9v0.9h-0.9zM238.9 407.2h0.9v0.9h-0.9zM247.6 412.1h0.9v0.9h-0.9zM246.6 412.0h0.9v0.9h-0.9zM252.4 400.3h0.9v0.9h-0.9zM241.8 415.4h0.9v0.9h-0.9zM238.1 405.9h0.9v0.9h-0.9zM256.5 418.2h0.9v0.9h-0.9zM247.4 410.6h0.9v0.9h-0.9zM244.2 404.7h0.9v0.9h-0.9zM240.9 404.1h0.9v0.9h-0.9zM239.0 410.9h0.9v0.9h-0.9zM247.0 404.4h0.9v0.9h-0.9zM245.6 402.0h0.9v0.9h-0.9zM246.8 408.1h0.9v0.9h-0.9zM244.7 411.3h0.9v0.9h-0.9zM251.2 411.4h0.9v0.9h-0.9zM241.9 411.0h0.9v0.9h-0.9zM246.9 413.3h0.9v0.9h-0.9zM250.0 405.1h0.9v0.9h-0.9zM239.4 413.9h0.9v0.9h-0.9zM239.7 412.8h0.9v0.9h-0.9zM257.9 417.7h0.9v0.9h-0.9zM238.1 405.1h0.9v0.9h-0.9zM246.9 408.4h0.9v0.9h-0.9zM248.3 411.6h0.9v0.9h-0.9zM246.6 413.5h0.9v0.9h-0.9zM237.6 417.0h0.9v0.9h-0.9z" fill="#333"/>
<path d="M246.2 437.0h0.9v0.9h-0.9zM253.9 442.1h0.9v0.9h-0.9zM248.8 419.4h0.9v0.9h-0.9zM241.5 436.3h0.9v0.9h-0.9zM243.0 427.7h0.9v0.9h-0.9zM252.6 424.4h0.9v0.9h-0.9zM254.2 438.5h0.9v0.9h-0.9zM235.9 421.1h0.9v0.9h-0.9zM247.1 437.6h0.9v0.9h-0.9zM247.0 419.7h0.9v0.9h-0.9zM241.6 419.9h0.9v0.9h-0.9zM243.1 425.5h0.9v0.9h-0.9zM253.2 428.5h0.9v0.9h-0.9zM241.0 421.4h0.9v0.9h-0.9zM242.7 424.4h0.9v0.9h-0.9zM241.3 432.4h0.9v0.9h-0.9zM244.2 427.9h0.9v0.9h-0.9zM252.4 425.8h0.9v0.9h-0.9zM240.8 441.8h0.9v0.9h-0.9zM246.8 422.4h0.9v0.9h-0.9zM250.2 420.4h0.9v0.9h-0.9zM236.2 431.4h0.9v0.9h-0.9zM241.0 422.2h0.9v0.9h-0.9zM240.2 437.2h0.9v0.9h-0.9zM250.1 433.5h0.9v0.9h-0.9zM252.6 421.6h0.9v0.9h-0.9zM238.4 426.5h0.9v0.9h-0.9zM249.0 421.5h0.9v0.9h-0.9zM247.0 425.2h0.9v0.9h-0.9zM250.7 423.9h0.9v0.9h-0.9zM249.5 419.1h0.9v0.9h-0.9zM237.7 434.9h0.9v0.9h-0.9zM250.7 427.8h0.9v0.9h-0.9zM247.6 430.7h0.9v0.9h-0.9zM244.7 424.9h0.9v0.9h-0.9zM238.5 417.3h0.9v0.9h-0.9zM241.6 432.7h0.9v0.9h-0.9zM238.6 436.2h0.9v0.9h-0.9zM241.9 428.2h0.9v0.9h-0.9zM238.0 439.9h0.9v0.9h-0.9zM237.5 431.2h0.9v0.9h-0.9zM250.5 420.2h0.9v0.9h-0.9zM242.8 431.9h0.9v0.9h-0.9zM239.3 422.5h0.9v0.9h-0.9zM246.1 432.1h0.9v0.9h-0.9zM243.5 429.5h0.9v0.9h-0.9zM237.7 430.1h0.9v0.9h-0.9zM254.1 418.9h0.9v0.9h-0.9zM251.9 424.4h0.9v0.9h-0.9zM249.6 429.3h0.9v0.9h-0.9zM241.1 438.6h0.9v0.9h-0.9zM243.0 438.1h0.9v0.9h-0.9zM251.8 426.4h0.9v0.9h-0.9zM248.8 432.2h0.9v0.9h-0.9zM244.2 432.2h0.9v0.9h-0.9zM235.2 418.4h0.9v0.9h-0.9zM244.3 423.0h0.9v0.9h-0.9zM240.3 432.6h0.9v0.9h-0.9zM247.4 422.4h0.9v0.9h-0.9zM249.5 430.5h0.9v0.9h-0.9zM235.8 436.9h0.9v0.9h-0.9zM240.0 433.4h0.9v0.9h-0.9zM246.7 430.3h0.9v0.9h-0.9zM247.1 431.4h0.9v0.9h-0.9zM248.5 439.6h0.9v0.9h-0.9zM238.2 442.2h0.9v0.9h-0.9zM241.4 425.5h0.9v0.9h-0.9zM252.8 440.8h0.9v0.9h-0.9zM246.9 437.9h0.9v0.9h-0.9zM242.7 419.4h0.9v0.9h-0.9zM248.9 415.3h0.9v0.9h-0.9zM238.2 420.4h0.9v0.9h-0.9zM242.1 430.7h0.9v0.9h-0.9zM239.2 419.2h0.9v0.9h-0.9zM241.7 427.8h0.9v0.9h-0.9zM238.9 425.6h0.9v0.9h-0.9zM254.6 435.5h0.9v0.9h-0.9zM247.2 436.0h0.9v0.9h-0.9zM244.3 417.4h0.9v0.9h-0.9zM248.4 441.2h0.9v0.9h-0.9zM248.7 423.3h0.9v0.9h-0.9zM244.2 425.7h0.9v0.9h-0.9zM239.0 422.7h0.9v0.9h-0.9zM237.2 423.2h0.9v0.9h-0.9zM249.2 425.2h0.9v0.9h-0.9zM245.6 419.3h0.9v0.9h-0.9zM238.6 437.2h0.9v0.9h-0.9zM239.5 422.6h0.9v0.9h-0.9zM248.3 429.6h0.9v0.9h-0.9zM248.7 430.1h0.9v0.9h-0.9z" fill="#555"/>
<path d="M206.1 422.4h0.9v0.9h-0.9zM212.3 423.6h0.9v0.9h-0.9zM218.7 424.0h0.9v0.9h-0.9zM199.0 400.9h0.9v0.9h-0.9zM207.9 437.8h0.9v0.9h-0.9zM209.0 414.2h0.9v0.9h-0.9zM210.9 425.0h0.9v0.9h-0.9zM218.7 404.8h0.9v0.9h-0.9zM214.8 421.2h0.9v0.9h-0.9zM215.3 431.2h0.9v0.9h-0.9zM190.6 429.4h0.9v0.9h-0.9zM212.6 410.3h0.9v0.9h-0.9zM207.6 430.9h0.9v0.9h-0.9zM196.4 428.9h0.9v0.9h-0.9zM215.0 438.7h0.9v0.9h-0.9zM201.8 412.2h0.9v0.9h-0.9zM216.7 415.9h0.9v0.9h-0.9zM211.9 389.9h0.9v0.9h-0.9zM227.9 398.3h0.9v0.9h-0.9zM195.3 424.7h0.9v0.9h-0.9zM212.6 410.0h0.9v0.9h-0.9zM190.7 425.2h0.9v0.9h-0.9zM210.4 408.8h0.9v0.9h-0.9zM209.6 412.6h0.9v0.9h-0.9zM200.3 426.9h0.9v0.9h-0.9zM208.6 419.5h0.9v0.9h-0.9zM198.5 411.2h0.9v0.9h-0.9zM206.3 412.4h0.9v0.9h-0.9zM211.3 419.4h0.9v0.9h-0.9zM206.7 417.2h0.9v0.9h-0.9zM211.8 430.4h0.9v0.9h-0.9zM199.8 429.8h0.9v0.9h-0.9zM215.8 427.9h0.9v0.9h-0.9zM204.0 421.4h0.9v0.9h-0.9zM225.6 404.2h0.9v0.9h-0.9zM215.3 416.1h0.9v0.9h-0.9zM222.0 420.6h0.9v0.9h-0.9zM215.4 412.1h0.9v0.9h-0.9zM204.5 437.1h0.9v0.9h-0.9zM198.2 413.2h0.9v0.9h-0.9zM206.5 405.1h0.9v0.9h-0.9zM213.6 405.3h0.9v0.9h-0.9zM208.9 416.4h0.9v0.9h-0.9zM190.7 420.7h0.9v0.9h-0.9zM196.0 419.4h0.9v0.9h-0.9zM189.7 413.0h0.9v0.9h-0.9zM215.1 422.1h0.9v0.9h-0.9zM217.6 437.3h0.9v0.9h-0.9zM214.5 416.9h0.9v0.9h-0.9zM207.6 426.1h0.9v0.9h-0.9zM198.5 407.4h0.9v0.9h-0.9zM208.4 438.6h0.9v0.9h-0.9zM199.5 421.8h0.9v0.9h-0.9zM202.8 427.1h0.9v0.9h-0.9zM211.4 418.6h0.9v0.9h-0.9zM215.9 416.2h0.9v0.9h-0.9zM195.0 442.6h0.9v0.9h-0.9zM207.6 422.5h0.9v0.9h-0.9zM214.9 409.9h0.9v0.9h-0.9zM204.7 410.6h0.9v0.9h-0.9zM213.2 423.5h0.9v0.9h-0.9zM210.1 404.4h0.9v0.9h-0.9zM201.9 402.8h0.9v0.9h-0.9zM197.5 410.7h0.9v0.9h-0.9zM210.9 424.6h0.9v0.9h-0.9zM193.9 426.1h0.9v0.9h-0.9zM211.4 436.8h0.9v0.9h-0.9zM215.4 402.1h0.9v0.9h-0.9zM212.5 421.6h0.9v0.9h-0.9zM211.2 410.8h0.9v0.9h-0.9zM220.1 420.1h0.9v0.9h-0.9zM203.8 398.7h0.9v0.9h-0.9zM206.4 403.5h0.9v0.9h-0.9zM196.6 437.3h0.9v0.9h-0.9zM208.0 430.0h0.9v0.9h-0.9zM217.5 427.3h0.9v0.9h-0.9zM205.0 405.8h0.9v0.9h-0.9zM207.2 420.4h0.9v0.9h-0.9zM207.3 415.6h0.9v0.9h-0.9zM209.7 402.8h0.9v0.9h-0.9zM217.1 405.7h0.9v0.9h-0.9zM209.5 409.1h0.9v0.9h-0.9zM219.5 412.7h0.9v0.9h-0.9zM201.0 414.8h0.9v0.9h-0.9zM215.7 405.0h0.9v0.9h-0.9zM198.0 413.0h0.9v0.9h-0.9zM214.7 385.8h0.9v0.9h-0.9zM207.1 429.5h0.9v0.9h-0.9zM207.5 398.0h0.9v0.9h-0.9zM205.0 425.9h0.9v0.9h-0.9zM199.5 415.6h0.9v0.9h-0.9zM203.1 423.4h0.9v0.9h-0.9zM228.7 419.9h0.9v0.9h-0.9zM198.0 437.8h0.9v0.9h-0.9zM206.1 414.2h0.9v0.9h-0.9zM212.6 427.6h0.9v0.9h-0.9zM210.3 422.9h0.9v0.9h-0.9zM210.0 405.3h0.9v0.9h-0.9zM214.9 428.8h0.9v0.9h-0.9zM202.1 399.0h0.9v0.9h-0.9zM203.6 421.0h0.9v0.9h-0.9zM220.0 421.5h0.9v0.9h-0.9zM209.0 421.7h0.9v0.9h-0.9zM196.1 414.8h0.9v0.9h-0.9zM209.7 426.8h0.9v0.9h-0.9zM215.2 437.7h0.9v0.9h-0.9zM202.9 414.0h0.9v0.9h-0.9zM204.9 424.5h0.9v0.9h-0.9zM224.9 421.0h0.9v0.9h-0.9zM209.9 408.5h0.9v0.9h-0.9zM198.1 439.1h0.9v0.9h-0.9zM207.8 435.0h0.9v0.9h-0.9zM215.3 413.3h0.9v0.9h-0.9zM210.6 408.6h0.9v0.9h-0.9zM213.7 417.2h0.9v0.9h-0.9zM215.0 433.1h0.9v0.9h-0.9zM203.7 428.0h0.9v0.9h-0.9zM212.1 412.9h0.9v0.9h-0.9zM210.8 433.1h0.9v0.9h-0.9zM209.9 430.0h0.9v0.9h-0.9zM211.4 433.3h0.9v0.9h-0.9zM207.5 415.1h0.9v0.9h-0.9zM213.7 392.8h0.9v0.9h-0.9zM204.3 436.4h0.9v0.9h-0.9zM202.5 440.0h0.9v0.9h-0.9zM221.8 413.3h0.9v0.9h-0.9zM202.4 423.4h0.9v0.9h-0.9zM216.0 438.8h0.9v0.9h-0.9zM221.1 410.8h0.9v0.9h-0.9zM215.7 413.1h0.9v0.9h-0.9zM217.4 424.2h0.9v0.9h-0.9zM220.4 417.9h0.9v0.9h-0.9zM215.4 404.4h0.9v0.9h-0.9zM200.6 424.7h0.9v0.9h-0.9zM209.5 428.9h0.9v0.9h-0.9zM227.5 411.8h0.9v0.9h-0.9zM198.9 406.8h0.9v0.9h-0.9zM203.5 432.1h0.9v0.9h-0.9zM211.8 415.5h0.9v0.9h-0.9zM214.2 417.0h0.9v0.9h-0.9zM210.8 418.7h0.9v0.9h-0.9zM197.5 428.2h0.9v0.9h-0.9zM209.5 412.0h0.9v0.9h-0.9zM210.1 410.5h0.9v0.9h-0.9zM208.4 414.6h0.9v0.9h-0.9zM211.4 408.3h0.9v0.9h-0.9zM207.8 414.1h0.9v0.9h-0.9zM200.6 418.0h0.9v0.9h-0.9zM214.4 427.2h0.9v0.9h-0.9zM211.3 417.5h0.9v0.9h-0.9zM216.5 415.6h0.9v0.9h-0.9zM214.2 399.0h0.9v0.9h-0.9zM198.8 410.4h0.9v0.9h-0.9zM218.1 415.8h0.9v0.9h-0.9zM212.5 406.2h0.9v0.9h-0.9zM222.3 438.9h0.9v0.9h-0.9zM208.8 411.2h0.9v0.9h-0.9zM210.8 416.0h0.9v0.9h-0.9zM204.9 390.4h0.9v0.9h-0.9zM210.6 393.5h0.9v0.9h-0.9zM204.5 401.2h0.9v0.9h-0.9zM225.3 404.0h0.9v0.9h-0.9zM205.5 423.0h0.9v0.9h-0.9zM206.1 421.6h0.9v0.9h-0.9zM216.4 411.4h0.9v0.9h-0.9zM213.0 417.2h0.9v0.9h-0.9zM197.9 422.0h0.9v0.9h-0.9zM199.8 430.6h0.9v0.9h-0.9zM208.8 420.7h0.9v0.9h-0.9zM217.0 409.2h0.9v0.9h-0.9zM202.2 435.2h0.9v0.9h-0.9zM214.8 423.6h0.9v0.9h-0.9zM192.2 418.9h0.9v0.9h-0.9zM200.9 411.7h0.9v0.9h-0.9zM195.2 399.8h0.9v0.9h-0.9zM205.1 423.0h0.9v0.9h-0.9zM204.6 416.6h0.9v0.9h-0.9zM209.4 434.1h0.9v0.9h-0.9zM203.9 420.1h0.9v0.9h-0.9zM231.8 418.3h0.9v0.9h-0.9z" fill="#555"/>
<text x="268.5" y="386.5" font-size="11" font-weight="bold" text-anchor="end" >87.1%</text>
<text transform="translate(16.6,405.2) rotate(-90)" font-size="14">Tet</text>
<path d="M15.5 410.0L11.0 419.0L20.1 419.0Z M25.2 421.2L25.2 430.1L34.3 425.6Z" fill="#000"/>
<path d="M15.4 419 V425.4 H25.6" fill="none" stroke="#000" stroke-width="1.2"/>
<text x="19.1" y="445.4" font-size="13.3" font-weight="normal" text-anchor="start" >CD8</text>
<text x="50.8" y="496.2" font-size="15.5" font-weight="bold">adj/M-A<tspan font-size="10" dy="4.6">26-35</tspan></text>
<text x="89.6" y="512.8" font-size="13.3" font-weight="normal" text-anchor="middle" >(day 7)</text>
<path d="M48.0 592.0v2.2M48.0 592.0h-2.2M54.5 592.0v1.3M48.0 586.9h-1.3M58.2 592.0v1.3M48.0 583.9h-1.3M60.9 592.0v1.3M48.0 581.7h-1.3M63.0 592.0v1.3M48.0 580.1h-1.3M64.7 592.0v1.3M48.0 578.7h-1.3M66.1 592.0v1.3M48.0 577.6h-1.3M67.4 592.0v1.3M48.0 576.6h-1.3M68.5 592.0v1.3M48.0 575.7h-1.3M69.5 592.0v2.2M48.0 574.9h-2.2M75.9 592.0v1.3M48.0 569.8h-1.3M79.7 592.0v1.3M48.0 566.8h-1.3M82.4 592.0v1.3M48.0 564.6h-1.3M84.4 592.0v1.3M48.0 563.0h-1.3M86.1 592.0v1.3M48.0 561.6h-1.3M87.6 592.0v1.3M48.0 560.5h-1.3M88.8 592.0v1.3M48.0 559.5h-1.3M89.9 592.0v1.3M48.0 558.6h-1.3M90.9 592.0v2.2M48.0 557.9h-2.2M97.4 592.0v1.3M48.0 552.7h-1.3M101.1 592.0v1.3M48.0 549.7h-1.3M103.8 592.0v1.3M48.0 547.6h-1.3M105.9 592.0v1.3M48.0 545.9h-1.3M107.6 592.0v1.3M48.0 544.6h-1.3M109.0 592.0v1.3M48.0 543.4h-1.3M110.3 592.0v1.3M48.0 542.4h-1.3M111.4 592.0v1.3M48.0 541.6h-1.3M112.4 592.0v2.2M48.0 540.8h-2.2M118.8 592.0v1.3M48.0 535.6h-1.3M122.6 592.0v1.3M48.0 532.6h-1.3M125.3 592.0v1.3M48.0 530.5h-1.3M127.3 592.0v1.3M48.0 528.8h-1.3M129.0 592.0v1.3M48.0 527.5h-1.3M130.5 592.0v1.3M48.0 526.3h-1.3M131.7 592.0v1.3M48.0 525.4h-1.3M132.8 592.0v1.3M48.0 524.5h-1.3M133.8 592.0v2.2M48.0 523.7h-2.2" stroke="#222" stroke-width="0.8" fill="none"/>
<rect x="48.0" y="523.7" width="85.8" height="68.3" fill="none" stroke="#111" stroke-width="1.1"/>
<line x1="87.50" y1="523.70" x2="87.50" y2="592.00" stroke="#111" stroke-width="1.1"/>
<line x1="48.00" y1="558.40" x2="133.80" y2="558.40" stroke="#111" stroke-width="1.1"/>
<text class="tk" x="48.6" y="602.2" font-size="7" text-anchor="middle">10<tspan font-size="5.4" dy="-2.8">0</tspan></text>
<text class="tk" transform="translate(42.6,592.0) rotate(-90)" font-size="7" text-anchor="middle">10<tspan font-size="5.4" dy="-2.8">0</tspan></text>
<text class="tk" x="70.0" y="602.2" font-size="7" text-anchor="middle">10<tspan font-size="5.4" dy="-2.8">1</tspan></text>
<text class="tk" transform="translate(42.6,574.9) rotate(-90)" font-size="7" text-anchor="middle">10<tspan font-size="5.4" dy="-2.8">1</tspan></text>
<text class="tk" x="91.5" y="602.2" font-size="7" text-anchor="middle">10<tspan font-size="5.4" dy="-2.8">2</tspan></text>
<text class="tk" transform="translate(42.6,557.9) rotate(-90)" font-size="7" text-anchor="middle">10<tspan font-size="5.4" dy="-2.8">2</tspan></text>
<text class="tk" x="113.0" y="602.2" font-size="7" text-anchor="middle">10<tspan font-size="5.4" dy="-2.8">3</tspan></text>
<text class="tk" transform="translate(42.6,540.8) rotate(-90)" font-size="7" text-anchor="middle">10<tspan font-size="5.4" dy="-2.8">3</tspan></text>
<text class="tk" x="134.4" y="602.2" font-size="7" text-anchor="middle">10<tspan font-size="5.4" dy="-2.8">4</tspan></text>
<text class="tk" transform="translate(42.6,523.7) rotate(-90)" font-size="7" text-anchor="middle">10<tspan font-size="5.4" dy="-2.8">4</tspan></text>
<path d="M102.1 537.7h0.9v0.9h-0.9zM99.5 543.3h0.9v0.9h-0.9zM108.8 536.7h0.9v0.9h-0.9zM105.2 539.5h0.9v0.9h-0.9zM95.6 538.0h0.9v0.9h-0.9zM106.0 547.4h0.9v0.9h-0.9zM100.2 543.1h0.9v0.9h-0.9zM98.7 542.3h0.9v0.9h-0.9zM104.2 539.9h0.9v0.9h-0.9zM102.1 547.4h0.9v0.9h-0.9zM103.6 543.0h0.9v0.9h-0.9zM108.7 541.7h0.9v0.9h-0.9zM102.8 537.0h0.9v0.9h-0.9zM106.0 548.6h0.9v0.9h-0.9zM107.1 546.0h0.9v0.9h-0.9zM98.9 544.6h0.9v0.9h-0.9zM110.6 546.8h0.9v0.9h-0.9zM91.2 540.6h0.9v0.9h-0.9zM108.2 544.6h0.9v0.9h-0.9zM99.5 530.6h0.9v0.9h-0.9zM105.2 546.5h0.9v0.9h-0.9zM103.7 537.9h0.9v0.9h-0.9zM107.5 545.1h0.9v0.9h-0.9zM105.7 550.5h0.9v0.9h-0.9zM108.3 545.1h0.9v0.9h-0.9zM102.7 545.3h0.9v0.9h-0.9zM107.0 550.1h0.9v0.9h-0.9zM106.9 536.5h0.9v0.9h-0.9zM109.0 542.3h0.9v0.9h-0.9zM99.7 541.6h0.9v0.9h-0.9zM107.6 542.5h0.9v0.9h-0.9zM101.0 543.7h0.9v0.9h-0.9zM101.8 543.6h0.9v0.9h-0.9zM105.8 538.1h0.9v0.9h-0.9zM95.0 532.0h0.9v0.9h-0.9zM106.6 546.4h0.9v0.9h-0.9zM106.6 538.0h0.9v0.9h-0.9zM101.4 542.3h0.9v0.9h-0.9zM100.1 545.3h0.9v0.9h-0.9zM100.6 543.7h0.9v0.9h-0.9zM105.3 546.2h0.9v0.9h-0.9zM109.0 552.8h0.9v0.9h-0.9zM105.2 545.0h0.9v0.9h-0.9zM104.1 542.3h0.9v0.9h-0.9zM105.8 542.6h0.9v0.9h-0.9zM98.6 543.4h0.9v0.9h-0.9zM102.8 534.9h0.9v0.9h-0.9zM107.6 541.3h0.9v0.9h-0.9zM106.7 548.0h0.9v0.9h-0.9zM102.5 541.3h0.9v0.9h-0.9zM96.3 544.3h0.9v0.9h-0.9zM101.9 548.0h0.9v0.9h-0.9zM101.1 539.6h0.9v0.9h-0.9zM108.1 545.2h0.9v0.9h-0.9zM109.2 541.2h0.9v0.9h-0.9zM100.3 545.7h0.9v0.9h-0.9zM107.1 545.8h0.9v0.9h-0.9zM101.0 547.3h0.9v0.9h-0.9zM105.7 544.0h0.9v0.9h-0.9zM98.0 544.1h0.9v0.9h-0.9zM102.3 542.7h0.9v0.9h-0.9zM104.4 540.6h0.9v0.9h-0.9zM93.5 537.9h0.9v0.9h-0.9zM102.3 539.6h0.9v0.9h-0.9zM105.6 547.8h0.9v0.9h-0.9zM101.7 544.1h0.9v0.9h-0.9zM96.6 540.9h0.9v0.9h-0.9zM107.3 547.1h0.9v0.9h-0.9zM101.0 543.7h0.9v0.9h-0.9zM102.8 541.2h0.9v0.9h-0.9zM102.3 541.8h0.9v0.9h-0.9zM103.3 540.5h0.9v0.9h-0.9zM98.6 538.8h0.9v0.9h-0.9zM97.6 538.7h0.9v0.9h-0.9zM105.1 547.5h0.9v0.9h-0.9zM97.9 542.0h0.9v0.9h-0.9zM102.3 546.4h0.9v0.9h-0.9zM101.5 542.6h0.9v0.9h-0.9zM100.1 543.8h0.9v0.9h-0.9zM100.3 540.8h0.9v0.9h-0.9zM107.7 543.2h0.9v0.9h-0.9zM103.4 544.8h0.9v0.9h-0.9zM110.1 542.3h0.9v0.9h-0.9zM101.7 544.1h0.9v0.9h-0.9zM107.0 543.5h0.9v0.9h-0.9zM102.6 544.2h0.9v0.9h-0.9zM99.5 543.8h0.9v0.9h-0.9zM101.5 543.0h0.9v0.9h-0.9zM106.5 541.5h0.9v0.9h-0.9zM105.9 541.6h0.9v0.9h-0.9zM102.3 550.4h0.9v0.9h-0.9zM101.4 543.7h0.9v0.9h-0.9zM109.1 547.1h0.9v0.9h-0.9zM106.5 548.1h0.9v0.9h-0.9zM103.4 546.6h0.9v0.9h-0.9zM103.2 548.5h0.9v0.9h-0.9zM103.2 546.8h0.9v0.9h-0.9zM103.5 550.8h0.9v0.9h-0.9zM106.4 539.9h0.9v0.9h-0.9zM100.9 539.5h0.9v0.9h-0.9zM99.1 538.0h0.9v0.9h-0.9zM104.6 542.0h0.9v0.9h-0.9zM105.9 541.6h0.9v0.9h-0.9zM100.5 540.5h0.9v0.9h-0.9zM104.3 541.9h0.9v0.9h-0.9zM96.6 539.4h0.9v0.9h-0.9zM105.1 541.5h0.9v0.9h-0.9zM101.6 541.3h0.9v0.9h-0.9zM101.7 544.1h0.9v0.9h-0.9zM100.7 538.4h0.9v0.9h-0.9zM111.3 543.2h0.9v0.9h-0.9zM98.5 546.5h0.9v0.9h-0.9zM104.2 539.1h0.9v0.9h-0.9zM101.0 547.5h0.9v0.9h-0.9zM101.5 544.3h0.9v0.9h-0.9zM107.1 540.9h0.9v0.9h-0.9zM104.4 538.3h0.9v0.9h-0.9zM97.6 544.6h0.9v0.9h-0.9zM103.7 546.5h0.9v0.9h-0.9zM99.4 535.0h0.9v0.9h-0.9zM99.3 543.3h0.9v0.9h-0.9zM99.7 541.9h0.9v0.9h-0.9zM102.6 544.4h0.9v0.9h-0.9zM97.2 542.0h0.9v0.9h-0.9zM103.6 549.3h0.9v0.9h-0.9zM99.1 537.9h0.9v0.9h-0.9zM106.4 546.2h0.9v0.9h-0.9zM96.2 541.1h0.9v0.9h-0.9zM104.2 542.9h0.9v0.9h-0.9zM108.3 548.6h0.9v0.9h-0.9zM107.0 546.2h0.9v0.9h-0.9zM105.2 549.5h0.9v0.9h-0.9zM102.1 545.7h0.9v0.9h-0.9zM97.1 544.8h0.9v0.9h-0.9zM102.8 538.6h0.9v0.9h-0.9zM96.8 535.7h0.9v0.9h-0.9zM99.1 538.8h0.9v0.9h-0.9zM102.0 541.4h0.9v0.9h-0.9zM100.5 543.1h0.9v0.9h-0.9zM102.0 543.9h0.9v0.9h-0.9zM105.1 548.1h0.9v0.9h-0.9zM99.7 532.1h0.9v0.9h-0.9zM105.8 540.5h0.9v0.9h-0.9zM101.7 539.3h0.9v0.9h-0.9zM105.8 544.6h0.9v0.9h-0.9zM99.0 539.8h0.9v0.9h-0.9zM105.3 544.2h0.9v0.9h-0.9zM95.8 536.4h0.9v0.9h-0.9zM101.2 546.5h0.9v0.9h-0.9zM103.8 537.6h0.9v0.9h-0.9zM99.1 540.0h0.9v0.9h-0.9zM102.0 539.7h0.9v0.9h-0.9zM108.5 543.0h0.9v0.9h-0.9zM101.6 542.0h0.9v0.9h-0.9zM104.5 540.3h0.9v0.9h-0.9zM102.3 544.3h0.9v0.9h-0.9zM108.9 547.2h0.9v0.9h-0.9zM99.3 539.1h0.9v0.9h-0.9zM100.4 544.0h0.9v0.9h-0.9zM98.4 532.3h0.9v0.9h-0.9zM105.5 543.9h0.9v0.9h-0.9zM100.0 537.3h0.9v0.9h-0.9zM102.0 541.2h0.9v0.9h-0.9zM102.1 547.0h0.9v0.9h-0.9zM106.5 542.1h0.9v0.9h-0.9zM106.8 546.2h0.9v0.9h-0.9zM102.1 541.6h0.9v0.9h-0.9zM105.2 538.7h0.9v0.9h-0.9zM103.1 545.0h0.9v0.9h-0.9zM99.8 540.2h0.9v0.9h-0.9zM105.6 541.6h0.9v0.9h-0.9zM100.0 542.1h0.9v0.9h-0.9zM106.4 545.5h0.9v0.9h-0.9zM106.2 547.3h0.9v0.9h-0.9zM106.7 549.3h0.9v0.9h-0.9zM102.5 537.5h0.9v0.9h-0.9zM103.6 544.6h0.9v0.9h-0.9zM100.7 539.5h0.9v0.9h-0.9zM104.0 542.3h0.9v0.9h-0.9zM96.5 540.6h0.9v0.9h-0.9zM104.3 547.3h0.9v0.9h-0.9zM103.4 544.0h0.9v0.9h-0.9zM104.8 541.0h0.9v0.9h-0.9zM102.9 542.9h0.9v0.9h-0.9zM103.7 539.4h0.9v0.9h-0.9zM102.3 539.9h0.9v0.9h-0.9zM105.8 547.3h0.9v0.9h-0.9zM102.3 546.2h0.9v0.9h-0.9zM103.8 544.0h0.9v0.9h-0.9zM104.5 542.7h0.9v0.9h-0.9zM108.5 549.3h0.9v0.9h-0.9zM98.9 540.1h0.9v0.9h-0.9zM105.7 543.6h0.9v0.9h-0.9zM106.4 537.9h0.9v0.9h-0.9zM103.5 540.1h0.9v0.9h-0.9zM100.5 541.7h0.9v0.9h-0.9zM98.9 540.8h0.9v0.9h-0.9zM101.9 543.1h0.9v0.9h-0.9zM105.1 546.2h0.9v0.9h-0.9zM100.7 544.2h0.9v0.9h-0.9zM102.9 547.6h0.9v0.9h-0.9zM100.1 543.2h0.9v0.9h-0.9zM103.7 548.4h0.9v0.9h-0.9zM97.6 540.6h0.9v0.9h-0.9zM101.3 542.4h0.9v0.9h-0.9zM103.5 548.8h0.9v0.9h-0.9zM96.9 536.1h0.9v0.9h-0.9zM99.5 538.5h0.9v0.9h-0.9zM100.4 542.3h0.9v0.9h-0.9zM100.0 542.9h0.9v0.9h-0.9zM103.6 546.1h0.9v0.9h-0.9zM107.4 536.9h0.9v0.9h-0.9zM104.6 548.1h0.9v0.9h-0.9zM108.9 543.7h0.9v0.9h-0.9zM106.9 550.9h0.9v0.9h-0.9zM106.0 547.6h0.9v0.9h-0.9zM98.9 539.3h0.9v0.9h-0.9zM104.2 537.9h0.9v0.9h-0.9zM100.9 545.2h0.9v0.9h-0.9zM102.4 547.1h0.9v0.9h-0.9zM102.8 542.3h0.9v0.9h-0.9zM105.1 549.5h0.9v0.9h-0.9zM108.9 545.5h0.9v0.9h-0.9zM103.8 551.3h0.9v0.9h-0.9zM107.3 549.5h0.9v0.9h-0.9zM102.7 539.9h0.9v0.9h-0.9zM97.6 543.1h0.9v0.9h-0.9zM104.8 539.8h0.9v0.9h-0.9zM103.9 536.0h0.9v0.9h-0.9zM104.3 541.9h0.9v0.9h-0.9zM100.7 546.6h0.9v0.9h-0.9zM101.5 542.7h0.9v0.9h-0.9zM95.9 542.4h0.9v0.9h-0.9zM101.2 543.6h0.9v0.9h-0.9zM105.8 552.1h0.9v0.9h-0.9zM102.6 544.6h0.9v0.9h-0.9zM105.2 548.5h0.9v0.9h-0.9zM106.7 546.2h0.9v0.9h-0.9zM99.8 546.0h0.9v0.9h-0.9zM104.2 545.9h0.9v0.9h-0.9zM101.8 544.7h0.9v0.9h-0.9zM99.9 543.3h0.9v0.9h-0.9zM102.7 540.8h0.9v0.9h-0.9zM100.8 543.9h0.9v0.9h-0.9zM104.8 544.3h0.9v0.9h-0.9zM99.3 543.3h0.9v0.9h-0.9zM98.0 541.1h0.9v0.9h-0.9zM111.4 544.4h0.9v0.9h-0.9zM104.0 541.1h0.9v0.9h-0.9zM108.6 547.9h0.9v0.9h-0.9zM107.6 544.2h0.9v0.9h-0.9zM106.3 553.7h0.9v0.9h-0.9zM106.8 545.4h0.9v0.9h-0.9zM104.7 544.2h0.9v0.9h-0.9zM98.2 537.4h0.9v0.9h-0.9zM113.2 550.5h0.9v0.9h-0.9zM105.7 545.1h0.9v0.9h-0.9zM104.8 546.2h0.9v0.9h-0.9zM102.5 543.2h0.9v0.9h-0.9zM100.5 535.9h0.9v0.9h-0.9zM105.4 539.8h0.9v0.9h-0.9zM105.7 544.8h0.9v0.9h-0.9zM110.7 547.4h0.9v0.9h-0.9zM97.8 541.5h0.9v0.9h-0.9zM99.6 536.8h0.9v0.9h-0.9zM104.2 541.9h0.9v0.9h-0.9zM103.2 547.6h0.9v0.9h-0.9zM99.1 541.8h0.9v0.9h-0.9zM105.0 546.6h0.9v0.9h-0.9zM101.7 542.2h0.9v0.9h-0.9zM102.6 541.6h0.9v0.9h-0.9zM100.8 549.4h0.9v0.9h-0.9zM106.7 546.8h0.9v0.9h-0.9zM104.4 544.9h0.9v0.9h-0.9zM95.9 540.5h0.9v0.9h-0.9zM101.2 550.5h0.9v0.9h-0.9zM104.5 549.3h0.9v0.9h-0.9zM103.0 541.0h0.9v0.9h-0.9zM100.9 540.4h0.9v0.9h-0.9zM102.7 545.2h0.9v0.9h-0.9zM103.4 540.5h0.9v0.9h-0.9zM101.9 549.9h0.9v0.9h-0.9zM102.0 547.6h0.9v0.9h-0.9zM97.3 542.0h0.9v0.9h-0.9zM99.8 548.7h0.9v0.9h-0.9zM111.2 554.4h0.9v0.9h-0.9zM107.7 541.1h0.9v0.9h-0.9zM97.6 545.4h0.9v0.9h-0.9zM104.4 544.3h0.9v0.9h-0.9zM101.0 539.3h0.9v0.9h-0.9zM106.6 550.9h0.9v0.9h-0.9zM100.8 542.6h0.9v0.9h-0.9zM98.7 542.7h0.9v0.9h-0.9zM106.6 543.0h0.9v0.9h-0.9zM100.9 542.7h0.9v0.9h-0.9zM103.5 540.0h0.9v0.9h-0.9zM100.3 543.3h0.9v0.9h-0.9zM99.6 551.3h0.9v0.9h-0.9zM102.8 547.4h0.9v0.9h-0.9zM105.3 547.2h0.9v0.9h-0.9zM107.4 553.4h0.9v0.9h-0.9zM103.7 541.7h0.9v0.9h-0.9zM98.8 535.0h0.9v0.9h-0.9zM95.5 537.2h0.9v0.9h-0.9zM107.3 552.0h0.9v0.9h-0.9zM100.3 537.3h0.9v0.9h-0.9zM100.1 547.0h0.9v0.9h-0.9zM103.9 541.6h0.9v0.9h-0.9zM106.9 542.2h0.9v0.9h-0.9zM109.6 543.6h0.9v0.9h-0.9zM101.6 530.3h0.9v0.9h-0.9zM106.5 545.2h0.9v0.9h-0.9zM107.8 543.4h0.9v0.9h-0.9zM104.6 544.0h0.9v0.9h-0.9zM104.7 545.2h0.9v0.9h-0.9zM103.0 534.9h0.9v0.9h-0.9zM98.5 538.5h0.9v0.9h-0.9zM102.2 545.2h0.9v0.9h-0.9zM104.2 544.5h0.9v0.9h-0.9zM105.6 543.9h0.9v0.9h-0.9zM101.8 543.4h0.9v0.9h-0.9zM99.4 543.2h0.9v0.9h-0.9zM103.6 544.9h0.9v0.9h-0.9zM101.7 549.8h0.9v0.9h-0.9zM99.1 537.6h0.9v0.9h-0.9zM103.9 545.8h0.9v0.9h-0.9zM102.2 541.6h0.9v0.9h-0.9zM101.3 545.5h0.9v0.9h-0.9zM104.0 544.3h0.9v0.9h-0.9zM104.8 548.5h0.9v0.9h-0.9zM98.6 546.0h0.9v0.9h-0.9zM94.5 538.4h0.9v0.9h-0.9zM105.2 546.3h0.9v0.9h-0.9zM103.2 545.5h0.9v0.9h-0.9zM105.1 548.0h0.9v0.9h-0.9zM102.7 546.2h0.9v0.9h-0.9zM100.0 536.9h0.9v0.9h-0.9zM104.3 539.5h0.9v0.9h-0.9zM98.7 542.5h0.9v0.9h-0.9zM104.0 540.6h0.9v0.9h-0.9zM102.5 538.7h0.9v0.9h-0.9zM99.5 536.5h0.9v0.9h-0.9zM105.2 548.7h0.9v0.9h-0.9zM102.0 544.8h0.9v0.9h-0.9zM102.4 552.2h0.9v0.9h-0.9zM103.4 545.4h0.9v0.9h-0.9zM99.6 540.0h0.9v0.9h-0.9zM101.3 542.6h0.9v0.9h-0.9zM100.1 544.3h0.9v0.9h-0.9zM99.4 542.9h0.9v0.9h-0.9zM93.9 543.8h0.9v0.9h-0.9zM104.1 543.8h0.9v0.9h-0.9zM103.2 545.3h0.9v0.9h-0.9zM107.7 542.2h0.9v0.9h-0.9zM102.9 542.9h0.9v0.9h-0.9zM105.1 545.3h0.9v0.9h-0.9zM102.5 554.5h0.9v0.9h-0.9zM106.2 543.8h0.9v0.9h-0.9zM101.2 543.8h0.9v0.9h-0.9zM104.1 549.5h0.9v0.9h-0.9zM97.5 538.3h0.9v0.9h-0.9zM100.3 540.5h0.9v0.9h-0.9zM103.6 543.6h0.9v0.9h-0.9zM97.3 538.8h0.9v0.9h-0.9zM99.1 539.0h0.9v0.9h-0.9zM102.8 544.3h0.9v0.9h-0.9zM102.3 544.6h0.9v0.9h-0.9zM105.6 550.1h0.9v0.9h-0.9zM96.2 541.9h0.9v0.9h-0.9zM102.6 537.2h0.9v0.9h-0.9zM103.7 541.7h0.9v0.9h-0.9zM99.6 538.1h0.9v0.9h-0.9zM101.5 543.4h0.9v0.9h-0.9zM97.8 546.5h0.9v0.9h-0.9zM96.6 535.6h0.9v0.9h-0.9zM102.3 541.8h0.9v0.9h-0.9zM101.9 549.8h0.9v0.9h-0.9zM99.9 539.3h0.9v0.9h-0.9zM101.4 545.8h0.9v0.9h-0.9zM103.1 546.8h0.9v0.9h-0.9zM100.4 546.1h0.9v0.9h-0.9zM105.0 544.7h0.9v0.9h-0.9zM98.7 541.0h0.9v0.9h-0.9zM100.3 545.4h0.9v0.9h-0.9zM104.3 556.7h0.9v0.9h-0.9zM104.8 548.2h0.9v0.9h-0.9zM105.0 548.8h0.9v0.9h-0.9zM104.4 547.5h0.9v0.9h-0.9zM105.7 543.1h0.9v0.9h-0.9zM100.8 546.7h0.9v0.9h-0.9zM102.4 542.0h0.9v0.9h-0.9zM103.8 546.3h0.9v0.9h-0.9zM99.2 548.4h0.9v0.9h-0.9zM104.9 538.6h0.9v0.9h-0.9zM104.5 540.0h0.9v0.9h-0.9zM101.2 542.5h0.9v0.9h-0.9zM100.9 540.6h0.9v0.9h-0.9zM100.8 543.4h0.9v0.9h-0.9zM100.4 544.5h0.9v0.9h-0.9zM103.2 538.9h0.9v0.9h-0.9zM101.4 540.3h0.9v0.9h-0.9zM100.0 545.0h0.9v0.9h-0.9zM104.3 547.5h0.9v0.9h-0.9zM104.5 542.7h0.9v0.9h-0.9zM104.3 549.3h0.9v0.9h-0.9zM97.9 542.4h0.9v0.9h-0.9zM105.3 543.9h0.9v0.9h-0.9zM103.6 541.7h0.9v0.9h-0.9zM107.0 546.7h0.9v0.9h-0.9zM99.4 548.0h0.9v0.9h-0.9zM102.6 538.2h0.9v0.9h-0.9zM101.3 546.1h0.9v0.9h-0.9zM104.1 542.4h0.9v0.9h-0.9zM99.4 546.5h0.9v0.9h-0.9zM101.6 542.1h0.9v0.9h-0.9zM100.2 534.1h0.9v0.9h-0.9zM101.5 541.0h0.9v0.9h-0.9zM103.3 541.4h0.9v0.9h-0.9zM107.0 541.6h0.9v0.9h-0.9zM97.8 538.1h0.9v0.9h-0.9z" fill="#000"/>
<path d="M100.6 545.5h0.9v0.9h-0.9zM109.8 543.7h0.9v0.9h-0.9zM99.7 539.2h0.9v0.9h-0.9zM99.6 538.8h0.9v0.9h-0.9zM97.4 551.0h0.9v0.9h-0.9zM95.6 538.1h0.9v0.9h-0.9zM110.7 549.8h0.9v0.9h-0.9zM98.4 534.2h0.9v0.9h-0.9zM95.2 541.2h0.9v0.9h-0.9zM114.1 565.0h0.9v0.9h-0.9zM105.4 542.3h0.9v0.9h-0.9zM93.8 538.7h0.9v0.9h-0.9zM99.4 547.8h0.9v0.9h-0.9zM102.5 548.7h0.9v0.9h-0.9zM100.4 537.0h0.9v0.9h-0.9zM105.5 543.3h0.9v0.9h-0.9zM108.3 540.6h0.9v0.9h-0.9zM100.0 545.2h0.9v0.9h-0.9zM108.8 545.3h0.9v0.9h-0.9zM110.3 548.6h0.9v0.9h-0.9zM111.0 558.3h0.9v0.9h-0.9zM100.8 543.9h0.9v0.9h-0.9zM102.9 535.5h0.9v0.9h-0.9zM106.6 550.3h0.9v0.9h-0.9zM92.0 535.7h0.9v0.9h-0.9zM99.7 555.1h0.9v0.9h-0.9zM92.3 540.5h0.9v0.9h-0.9zM111.1 546.0h0.9v0.9h-0.9zM102.5 539.1h0.9v0.9h-0.9zM102.3 539.1h0.9v0.9h-0.9zM101.9 539.2h0.9v0.9h-0.9zM95.2 545.3h0.9v0.9h-0.9zM104.8 546.0h0.9v0.9h-0.9zM102.7 551.8h0.9v0.9h-0.9zM88.8 536.9h0.9v0.9h-0.9zM104.0 542.7h0.9v0.9h-0.9zM100.3 542.4h0.9v0.9h-0.9zM105.0 545.1h0.9v0.9h-0.9zM104.7 536.1h0.9v0.9h-0.9zM96.2 547.1h0.9v0.9h-0.9zM99.9 543.7h0.9v0.9h-0.9zM94.1 552.2h0.9v0.9h-0.9zM110.3 543.2h0.9v0.9h-0.9zM109.2 545.7h0.9v0.9h-0.9zM104.5 546.8h0.9v0.9h-0.9zM108.1 545.2h0.9v0.9h-0.9zM104.6 543.1h0.9v0.9h-0.9zM100.0 548.8h0.9v0.9h-0.9zM102.2 549.4h0.9v0.9h-0.9zM98.4 560.7h0.9v0.9h-0.9zM112.6 551.0h0.9v0.9h-0.9zM100.3 537.7h0.9v0.9h-0.9zM96.5 538.8h0.9v0.9h-0.9zM103.9 544.1h0.9v0.9h-0.9zM96.7 533.4h0.9v0.9h-0.9zM88.5 535.2h0.9v0.9h-0.9zM109.7 544.7h0.9v0.9h-0.9zM101.2 542.6h0.9v0.9h-0.9zM93.2 546.8h0.9v0.9h-0.9zM97.6 540.8h0.9v0.9h-0.9zM99.7 530.4h0.9v0.9h-0.9zM105.5 549.4h0.9v0.9h-0.9zM100.6 534.0h0.9v0.9h-0.9zM94.7 559.8h0.9v0.9h-0.9zM107.7 540.6h0.9v0.9h-0.9zM102.1 547.6h0.9v0.9h-0.9zM107.1 543.1h0.9v0.9h-0.9zM101.4 547.0h0.9v0.9h-0.9zM110.6 556.4h0.9v0.9h-0.9zM99.2 539.3h0.9v0.9h-0.9zM115.3 549.4h0.9v0.9h-0.9zM105.4 535.7h0.9v0.9h-0.9zM95.1 538.0h0.9v0.9h-0.9zM106.0 553.2h0.9v0.9h-0.9zM106.4 543.0h0.9v0.9h-0.9zM104.8 547.3h0.9v0.9h-0.9zM98.2 538.8h0.9v0.9h-0.9zM104.7 556.5h0.9v0.9h-0.9zM94.4 540.2h0.9v0.9h-0.9zM103.6 541.5h0.9v0.9h-0.9zM101.3 546.6h0.9v0.9h-0.9zM96.2 535.2h0.9v0.9h-0.9zM107.0 544.0h0.9v0.9h-0.9zM112.5 545.9h0.9v0.9h-0.9zM98.3 543.6h0.9v0.9h-0.9zM91.9 533.2h0.9v0.9h-0.9zM103.2 539.0h0.9v0.9h-0.9zM107.1 543.6h0.9v0.9h-0.9zM107.1 554.9h0.9v0.9h-0.9zM104.0 557.7h0.9v0.9h-0.9zM107.8 558.7h0.9v0.9h-0.9zM105.6 539.0h0.9v0.9h-0.9zM111.3 543.3h0.9v0.9h-0.9zM102.5 541.6h0.9v0.9h-0.9zM100.8 542.5h0.9v0.9h-0.9zM103.5 550.4h0.9v0.9h-0.9zM110.0 550.4h0.9v0.9h-0.9zM107.3 541.5h0.9v0.9h-0.9zM104.8 541.5h0.9v0.9h-0.9zM106.9 547.3h0.9v0.9h-0.9zM101.4 539.1h0.9v0.9h-0.9zM102.9 558.0h0.9v0.9h-0.9zM97.0 543.0h0.9v0.9h-0.9zM102.8 541.6h0.9v0.9h-0.9zM108.8 552.1h0.9v0.9h-0.9zM96.1 549.0h0.9v0.9h-0.9zM100.4 535.0h0.9v0.9h-0.9zM110.5 552.0h0.9v0.9h-0.9zM104.2 547.6h0.9v0.9h-0.9zM104.4 551.5h0.9v0.9h-0.9zM100.3 546.1h0.9v0.9h-0.9zM97.2 542.1h0.9v0.9h-0.9zM107.3 541.8h0.9v0.9h-0.9zM101.1 533.1h0.9v0.9h-0.9zM94.3 542.2h0.9v0.9h-0.9zM114.5 547.4h0.9v0.9h-0.9zM110.6 536.9h0.9v0.9h-0.9zM106.3 545.6h0.9v0.9h-0.9zM103.3 549.1h0.9v0.9h-0.9zM103.9 547.8h0.9v0.9h-0.9zM91.4 542.7h0.9v0.9h-0.9zM103.7 557.4h0.9v0.9h-0.9zM103.1 536.9h0.9v0.9h-0.9zM102.8 540.3h0.9v0.9h-0.9zM94.6 542.0h0.9v0.9h-0.9zM115.7 538.4h0.9v0.9h-0.9zM106.2 552.6h0.9v0.9h-0.9zM100.1 537.5h0.9v0.9h-0.9zM119.0 553.1h0.9v0.9h-0.9z" fill="#333"/>
<path d="M114.1 564.3h0.9v0.9h-0.9zM105.1 569.6h0.9v0.9h-0.9zM97.7 570.0h0.9v0.9h-0.9zM107.1 577.6h0.9v0.9h-0.9zM108.5 591.0h0.9v0.9h-0.9zM110.8 579.0h0.9v0.9h-0.9zM111.0 569.1h0.9v0.9h-0.9zM100.2 567.1h0.9v0.9h-0.9zM107.1 569.5h0.9v0.9h-0.9zM105.2 571.5h0.9v0.9h-0.9zM113.0 584.0h0.9v0.9h-0.9zM102.8 573.0h0.9v0.9h-0.9zM113.4 585.6h0.9v0.9h-0.9zM101.8 575.1h0.9v0.9h-0.9zM115.9 571.0h0.9v0.9h-0.9zM114.9 572.1h0.9v0.9h-0.9zM103.5 583.7h0.9v0.9h-0.9zM110.1 580.9h0.9v0.9h-0.9zM114.0 579.2h0.9v0.9h-0.9zM99.3 587.5h0.9v0.9h-0.9zM117.0 577.7h0.9v0.9h-0.9zM103.9 577.5h0.9v0.9h-0.9zM106.2 574.5h0.9v0.9h-0.9zM113.2 569.3h0.9v0.9h-0.9zM99.9 566.1h0.9v0.9h-0.9zM104.7 578.6h0.9v0.9h-0.9zM111.7 573.9h0.9v0.9h-0.9zM101.9 590.3h0.9v0.9h-0.9zM105.3 570.7h0.9v0.9h-0.9zM105.0 568.1h0.9v0.9h-0.9zM111.4 577.0h0.9v0.9h-0.9zM112.9 566.7h0.9v0.9h-0.9zM101.3 587.6h0.9v0.9h-0.9zM109.4 578.9h0.9v0.9h-0.9zM99.4 582.7h0.9v0.9h-0.9zM113.8 586.0h0.9v0.9h-0.9zM113.8 573.0h0.9v0.9h-0.9zM107.2 586.5h0.9v0.9h-0.9zM110.1 588.0h0.9v0.9h-0.9zM114.4 588.6h0.9v0.9h-0.9zM105.8 584.6h0.9v0.9h-0.9zM98.7 572.7h0.9v0.9h-0.9zM106.9 573.8h0.9v0.9h-0.9zM110.4 571.6h0.9v0.9h-0.9zM105.6 572.9h0.9v0.9h-0.9zM111.5 570.1h0.9v0.9h-0.9zM99.1 568.9h0.9v0.9h-0.9zM116.8 583.1h0.9v0.9h-0.9zM116.9 566.9h0.9v0.9h-0.9zM112.5 579.3h0.9v0.9h-0.9zM113.4 587.5h0.9v0.9h-0.9zM109.4 565.0h0.9v0.9h-0.9zM114.6 574.1h0.9v0.9h-0.9zM111.9 574.3h0.9v0.9h-0.9zM117.3 591.1h0.9v0.9h-0.9zM111.3 566.5h0.9v0.9h-0.9zM99.4 581.1h0.9v0.9h-0.9zM105.8 583.3h0.9v0.9h-0.9zM107.2 571.0h0.9v0.9h-0.9zM114.6 568.5h0.9v0.9h-0.9zM102.1 576.7h0.9v0.9h-0.9zM111.8 590.0h0.9v0.9h-0.9zM116.3 564.2h0.9v0.9h-0.9zM108.5 568.5h0.9v0.9h-0.9zM115.8 586.1h0.9v0.9h-0.9zM107.5 566.5h0.9v0.9h-0.9zM114.5 580.4h0.9v0.9h-0.9zM110.1 573.9h0.9v0.9h-0.9zM103.2 571.2h0.9v0.9h-0.9zM113.4 568.6h0.9v0.9h-0.9zM114.3 582.4h0.9v0.9h-0.9zM104.6 580.9h0.9v0.9h-0.9zM100.2 574.6h0.9v0.9h-0.9zM104.5 568.6h0.9v0.9h-0.9zM104.4 588.4h0.9v0.9h-0.9zM108.1 573.8h0.9v0.9h-0.9zM111.7 577.4h0.9v0.9h-0.9zM106.3 582.7h0.9v0.9h-0.9zM112.8 567.1h0.9v0.9h-0.9zM112.1 589.6h0.9v0.9h-0.9zM109.0 587.4h0.9v0.9h-0.9zM116.9 577.7h0.9v0.9h-0.9zM104.2 566.9h0.9v0.9h-0.9zM100.6 587.4h0.9v0.9h-0.9zM116.8 567.4h0.9v0.9h-0.9zM114.1 591.1h0.9v0.9h-0.9zM106.7 583.7h0.9v0.9h-0.9zM110.8 573.6h0.9v0.9h-0.9zM103.7 572.7h0.9v0.9h-0.9zM114.9 571.8h0.9v0.9h-0.9zM104.8 568.7h0.9v0.9h-0.9zM115.8 575.0h0.9v0.9h-0.9zM99.9 590.6h0.9v0.9h-0.9zM109.2 574.2h0.9v0.9h-0.9zM115.7 580.7h0.9v0.9h-0.9zM105.0 586.0h0.9v0.9h-0.9zM107.4 570.0h0.9v0.9h-0.9zM117.1 572.9h0.9v0.9h-0.9zM101.2 574.4h0.9v0.9h-0.9zM102.2 572.2h0.9v0.9h-0.9zM98.8 576.1h0.9v0.9h-0.9zM112.4 579.6h0.9v0.9h-0.9zM100.7 569.7h0.9v0.9h-0.9zM101.4 569.3h0.9v0.9h-0.9zM108.1 580.5h0.9v0.9h-0.9zM103.1 585.8h0.9v0.9h-0.9zM113.0 573.2h0.9v0.9h-0.9zM107.9 571.8h0.9v0.9h-0.9zM99.2 579.3h0.9v0.9h-0.9zM108.9 575.7h0.9v0.9h-0.9zM98.6 577.1h0.9v0.9h-0.9zM110.2 591.1h0.9v0.9h-0.9zM117.9 589.3h0.9v0.9h-0.9zM107.9 586.5h0.9v0.9h-0.9zM102.2 582.4h0.9v0.9h-0.9zM110.2 575.0h0.9v0.9h-0.9zM111.2 567.6h0.9v0.9h-0.9zM106.4 581.2h0.9v0.9h-0.9zM100.4 570.4h0.9v0.9h-0.9zM110.5 580.0h0.9v0.9h-0.9zM111.7 566.8h0.9v0.9h-0.9zM104.0 574.8h0.9v0.9h-0.9zM108.5 588.3h0.9v0.9h-0.9zM114.4 575.9h0.9v0.9h-0.9zM103.4 587.5h0.9v0.9h-0.9zM107.2 567.4h0.9v0.9h-0.9zM117.2 590.5h0.9v0.9h-0.9zM98.8 585.9h0.9v0.9h-0.9zM106.1 567.0h0.9v0.9h-0.9zM110.1 590.2h0.9v0.9h-0.9zM108.3 565.5h0.9v0.9h-0.9zM103.7 589.7h0.9v0.9h-0.9zM110.8 584.4h0.9v0.9h-0.9zM99.4 577.0h0.9v0.9h-0.9zM110.2 589.0h0.9v0.9h-0.9zM109.6 589.7h0.9v0.9h-0.9zM104.8 581.9h0.9v0.9h-0.9zM102.4 579.6h0.9v0.9h-0.9zM103.0 578.4h0.9v0.9h-0.9zM101.3 589.9h0.9v0.9h-0.9zM114.3 582.5h0.9v0.9h-0.9zM103.5 567.9h0.9v0.9h-0.9zM114.6 572.2h0.9v0.9h-0.9zM99.2 578.5h0.9v0.9h-0.9zM117.3 567.2h0.9v0.9h-0.9zM113.6 586.2h0.9v0.9h-0.9zM111.6 587.7h0.9v0.9h-0.9zM115.5 589.0h0.9v0.9h-0.9zM106.0 569.5h0.9v0.9h-0.9zM109.5 568.7h0.9v0.9h-0.9zM104.4 566.4h0.9v0.9h-0.9zM110.7 567.3h0.9v0.9h-0.9zM106.5 568.7h0.9v0.9h-0.9zM104.1 590.4h0.9v0.9h-0.9zM111.3 583.4h0.9v0.9h-0.9zM100.0 569.5h0.9v0.9h-0.9zM114.5 566.1h0.9v0.9h-0.9zM111.3 566.7h0.9v0.9h-0.9zM105.6 577.4h0.9v0.9h-0.9zM107.5 577.5h0.9v0.9h-0.9zM107.4 572.8h0.9v0.9h-0.9zM106.1 570.7h0.9v0.9h-0.9zM113.0 590.5h0.9v0.9h-0.9zM102.5 569.0h0.9v0.9h-0.9zM107.1 570.7h0.9v0.9h-0.9zM112.9 576.7h0.9v0.9h-0.9zM104.9 584.5h0.9v0.9h-0.9zM111.4 572.9h0.9v0.9h-0.9zM111.1 587.5h0.9v0.9h-0.9zM115.5 583.8h0.9v0.9h-0.9zM115.3 566.6h0.9v0.9h-0.9zM107.9 571.1h0.9v0.9h-0.9zM115.0 580.0h0.9v0.9h-0.9zM115.2 573.8h0.9v0.9h-0.9zM104.3 576.6h0.9v0.9h-0.9zM106.5 565.6h0.9v0.9h-0.9zM110.4 572.4h0.9v0.9h-0.9zM112.4 584.8h0.9v0.9h-0.9zM114.6 569.2h0.9v0.9h-0.9zM116.7 575.4h0.9v0.9h-0.9zM100.7 571.6h0.9v0.9h-0.9zM109.0 588.7h0.9v0.9h-0.9zM107.0 580.9h0.9v0.9h-0.9zM105.9 572.4h0.9v0.9h-0.9zM110.7 585.0h0.9v0.9h-0.9zM98.0 568.1h0.9v0.9h-0.9zM112.7 582.2h0.9v0.9h-0.9zM116.4 579.1h0.9v0.9h-0.9zM100.3 578.7h0.9v0.9h-0.9zM99.9 570.6h0.9v0.9h-0.9zM107.3 584.9h0.9v0.9h-0.9zM100.0 580.2h0.9v0.9h-0.9zM99.7 572.9h0.9v0.9h-0.9zM111.1 567.6h0.9v0.9h-0.9zM115.2 580.1h0.9v0.9h-0.9zM106.7 577.4h0.9v0.9h-0.9zM113.7 585.3h0.9v0.9h-0.9zM104.1 585.9h0.9v0.9h-0.9zM98.8 572.3h0.9v0.9h-0.9zM108.3 590.2h0.9v0.9h-0.9zM116.9 565.6h0.9v0.9h-0.9zM116.1 568.4h0.9v0.9h-0.9zM99.2 576.4h0.9v0.9h-0.9zM105.0 569.3h0.9v0.9h-0.9zM109.3 577.8h0.9v0.9h-0.9zM108.0 587.6h0.9v0.9h-0.9zM107.8 590.3h0.9v0.9h-0.9zM115.6 569.6h0.9v0.9h-0.9zM98.8 574.2h0.9v0.9h-0.9zM102.9 568.2h0.9v0.9h-0.9zM104.4 586.8h0.9v0.9h-0.9zM98.4 571.1h0.9v0.9h-0.9zM107.8 583.6h0.9v0.9h-0.9zM112.6 564.4h0.9v0.9h-0.9zM107.7 579.2h0.9v0.9h-0.9zM114.6 568.6h0.9v0.9h-0.9zM111.1 564.4h0.9v0.9h-0.9zM102.4 590.2h0.9v0.9h-0.9zM111.6 582.7h0.9v0.9h-0.9zM107.7 575.6h0.9v0.9h-0.9zM104.0 587.4h0.9v0.9h-0.9zM108.4 581.9h0.9v0.9h-0.9zM98.8 582.5h0.9v0.9h-0.9zM111.0 572.9h0.9v0.9h-0.9zM102.8 574.0h0.9v0.9h-0.9zM113.4 579.4h0.9v0.9h-0.9zM115.0 588.4h0.9v0.9h-0.9zM103.7 580.9h0.9v0.9h-0.9zM102.6 585.1h0.9v0.9h-0.9zM110.3 563.6h0.9v0.9h-0.9zM99.8 573.0h0.9v0.9h-0.9zM113.3 582.4h0.9v0.9h-0.9zM112.5 569.9h0.9v0.9h-0.9zM113.9 566.2h0.9v0.9h-0.9zM114.8 583.8h0.9v0.9h-0.9zM103.4 581.4h0.9v0.9h-0.9zM103.8 569.4h0.9v0.9h-0.9zM102.3 577.3h0.9v0.9h-0.9zM112.1 572.9h0.9v0.9h-0.9zM104.1 590.1h0.9v0.9h-0.9zM104.9 579.0h0.9v0.9h-0.9zM99.5 579.3h0.9v0.9h-0.9zM101.0 571.2h0.9v0.9h-0.9zM108.3 567.4h0.9v0.9h-0.9zM103.4 589.1h0.9v0.9h-0.9zM108.6 580.8h0.9v0.9h-0.9zM114.7 586.9h0.9v0.9h-0.9zM98.7 574.3h0.9v0.9h-0.9zM100.3 581.9h0.9v0.9h-0.9zM117.3 566.5h0.9v0.9h-0.9zM107.5 571.9h0.9v0.9h-0.9zM103.9 567.9h0.9v0.9h-0.9zM115.6 564.3h0.9v0.9h-0.9zM109.5 572.1h0.9v0.9h-0.9zM99.8 578.1h0.9v0.9h-0.9zM111.5 588.2h0.9v0.9h-0.9zM102.2 586.6h0.9v0.9h-0.9zM101.5 568.1h0.9v0.9h-0.9zM99.5 572.1h0.9v0.9h-0.9zM105.5 569.9h0.9v0.9h-0.9zM109.8 565.6h0.9v0.9h-0.9zM113.7 584.3h0.9v0.9h-0.9zM99.4 578.8h0.9v0.9h-0.9zM102.0 591.0h0.9v0.9h-0.9zM106.7 590.0h0.9v0.9h-0.9zM103.3 590.6h0.9v0.9h-0.9zM115.6 571.9h0.9v0.9h-0.9zM116.6 568.5h0.9v0.9h-0.9zM106.6 589.3h0.9v0.9h-0.9zM107.5 588.1h0.9v0.9h-0.9zM113.0 567.0h0.9v0.9h-0.9zM99.9 590.2h0.9v0.9h-0.9zM105.3 587.9h0.9v0.9h-0.9zM116.3 572.0h0.9v0.9h-0.9zM116.4 565.2h0.9v0.9h-0.9zM110.1 580.8h0.9v0.9h-0.9zM102.4 588.0h0.9v0.9h-0.9zM108.1 587.4h0.9v0.9h-0.9zM101.2 574.8h0.9v0.9h-0.9zM109.1 571.7h0.9v0.9h-0.9zM115.6 579.3h0.9v0.9h-0.9zM98.5 571.2h0.9v0.9h-0.9zM110.3 576.1h0.9v0.9h-0.9zM100.4 590.5h0.9v0.9h-0.9zM110.4 587.7h0.9v0.9h-0.9zM115.0 567.3h0.9v0.9h-0.9zM108.0 583.9h0.9v0.9h-0.9zM116.6 577.1h0.9v0.9h-0.9zM108.9 573.7h0.9v0.9h-0.9zM114.2 564.7h0.9v0.9h-0.9zM102.2 581.2h0.9v0.9h-0.9zM102.1 589.8h0.9v0.9h-0.9zM112.6 573.0h0.9v0.9h-0.9zM99.3 578.6h0.9v0.9h-0.9zM115.0 571.6h0.9v0.9h-0.9zM106.9 575.5h0.9v0.9h-0.9zM99.6 574.9h0.9v0.9h-0.9zM109.6 575.7h0.9v0.9h-0.9zM106.5 579.1h0.9v0.9h-0.9zM114.8 574.9h0.9v0.9h-0.9zM117.0 583.5h0.9v0.9h-0.9zM99.2 581.4h0.9v0.9h-0.9zM99.1 574.7h0.9v0.9h-0.9zM105.0 563.6h0.9v0.9h-0.9zM103.6 574.6h0.9v0.9h-0.9zM109.5 573.8h0.9v0.9h-0.9zM114.9 569.0h0.9v0.9h-0.9zM103.2 576.4h0.9v0.9h-0.9zM115.6 589.9h0.9v0.9h-0.9zM115.7 566.8h0.9v0.9h-0.9zM104.5 571.0h0.9v0.9h-0.9zM111.0 586.7h0.9v0.9h-0.9zM112.0 567.2h0.9v0.9h-0.9zM99.4 586.7h0.9v0.9h-0.9zM110.8 585.8h0.9v0.9h-0.9zM110.2 580.7h0.9v0.9h-0.9zM110.9 583.1h0.9v0.9h-0.9zM107.1 586.5h0.9v0.9h-0.9zM104.4 574.3h0.9v0.9h-0.9zM99.6 587.0h0.9v0.9h-0.9zM109.9 568.3h0.9v0.9h-0.9zM112.3 584.9h0.9v0.9h-0.9zM104.9 568.8h0.9v0.9h-0.9zM106.1 584.4h0.9v0.9h-0.9zM106.2 569.3h0.9v0.9h-0.9zM112.8 572.7h0.9v0.9h-0.9zM107.7 567.7h0.9v0.9h-0.9zM112.3 566.0h0.9v0.9h-0.9zM101.3 571.9h0.9v0.9h-0.9zM98.6 568.4h0.9v0.9h-0.9zM113.2 571.7h0.9v0.9h-0.9zM105.5 571.2h0.9v0.9h-0.9zM109.1 585.2h0.9v0.9h-0.9zM112.5 588.9h0.9v0.9h-0.9zM110.2 566.7h0.9v0.9h-0.9zM101.0 576.1h0.9v0.9h-0.9zM114.7 575.3h0.9v0.9h-0.9zM107.1 565.5h0.9v0.9h-0.9zM112.1 571.6h0.9v0.9h-0.9zM101.2 588.0h0.9v0.9h-0.9zM115.5 577.2h0.9v0.9h-0.9zM108.9 571.3h0.9v0.9h-0.9zM114.7 582.0h0.9v0.9h-0.9zM117.3 584.5h0.9v0.9h-0.9zM99.3 589.6h0.9v0.9h-0.9zM110.8 576.5h0.9v0.9h-0.9zM114.7 582.1h0.9v0.9h-0.9zM114.6 566.0h0.9v0.9h-0.9zM108.9 568.4h0.9v0.9h-0.9zM107.0 588.7h0.9v0.9h-0.9zM108.2 574.3h0.9v0.9h-0.9zM108.9 580.2h0.9v0.9h-0.9zM99.4 589.6h0.9v0.9h-0.9zM99.2 578.3h0.9v0.9h-0.9zM99.1 574.7h0.9v0.9h-0.9zM114.1 586.1h0.9v0.9h-0.9zM102.2 571.6h0.9v0.9h-0.9zM115.7 579.5h0.9v0.9h-0.9zM114.3 580.1h0.9v0.9h-0.9zM103.2 587.1h0.9v0.9h-0.9zM108.8 571.0h0.9v0.9h-0.9zM98.5 580.7h0.9v0.9h-0.9zM103.5 571.0h0.9v0.9h-0.9zM108.4 581.9h0.9v0.9h-0.9zM103.4 590.6h0.9v0.9h-0.9zM116.7 576.1h0.9v0.9h-0.9zM110.3 575.9h0.9v0.9h-0.9zM104.8 585.3h0.9v0.9h-0.9zM100.0 586.3h0.9v0.9h-0.9zM101.7 586.3h0.9v0.9h-0.9zM100.4 590.7h0.9v0.9h-0.9zM102.4 578.5h0.9v0.9h-0.9zM109.5 582.9h0.9v0.9h-0.9zM103.4 582.2h0.9v0.9h-0.9zM100.5 578.6h0.9v0.9h-0.9zM103.8 575.2h0.9v0.9h-0.9zM115.8 573.8h0.9v0.9h-0.9zM103.2 582.4h0.9v0.9h-0.9zM98.8 581.5h0.9v0.9h-0.9zM101.7 586.0h0.9v0.9h-0.9zM105.8 585.9h0.9v0.9h-0.9zM105.6 576.1h0.9v0.9h-0.9zM102.5 578.5h0.9v0.9h-0.9zM104.2 587.1h0.9v0.9h-0.9zM110.6 584.9h0.9v0.9h-0.9zM113.8 578.3h0.9v0.9h-0.9zM103.4 581.5h0.9v0.9h-0.9zM99.1 583.4h0.9v0.9h-0.9zM108.4 577.2h0.9v0.9h-0.9zM109.3 584.8h0.9v0.9h-0.9zM108.1 585.0h0.9v0.9h-0.9zM114.9 584.4h0.9v0.9h-0.9zM113.8 569.9h0.9v0.9h-0.9zM107.8 586.2h0.9v0.9h-0.9zM99.1 574.4h0.9v0.9h-0.9zM101.7 580.6h0.9v0.9h-0.9zM102.7 570.4h0.9v0.9h-0.9zM102.3 584.3h0.9v0.9h-0.9zM108.0 567.8h0.9v0.9h-0.9zM100.5 585.7h0.9v0.9h-0.9zM105.5 574.6h0.9v0.9h-0.9zM114.0 576.5h0.9v0.9h-0.9zM113.5 565.1h0.9v0.9h-0.9zM106.0 585.8h0.9v0.9h-0.9zM104.7 566.3h0.9v0.9h-0.9zM106.1 589.6h0.9v0.9h-0.9zM100.2 572.9h0.9v0.9h-0.9zM101.3 577.8h0.9v0.9h-0.9zM115.3 584.9h0.9v0.9h-0.9zM111.9 580.0h0.9v0.9h-0.9zM99.4 587.9h0.9v0.9h-0.9zM112.0 572.3h0.9v0.9h-0.9zM103.2 575.4h0.9v0.9h-0.9zM102.5 567.3h0.9v0.9h-0.9zM116.4 583.9h0.9v0.9h-0.9zM115.9 579.2h0.9v0.9h-0.9zM110.8 566.5h0.9v0.9h-0.9zM115.1 567.2h0.9v0.9h-0.9zM113.7 572.9h0.9v0.9h-0.9zM110.7 575.5h0.9v0.9h-0.9zM101.6 567.4h0.9v0.9h-0.9zM113.0 565.2h0.9v0.9h-0.9zM99.0 582.7h0.9v0.9h-0.9zM98.7 571.9h0.9v0.9h-0.9zM105.8 571.7h0.9v0.9h-0.9zM112.0 567.9h0.9v0.9h-0.9zM103.6 579.5h0.9v0.9h-0.9zM103.6 577.9h0.9v0.9h-0.9zM110.8 578.3h0.9v0.9h-0.9zM110.2 571.0h0.9v0.9h-0.9zM106.5 577.4h0.9v0.9h-0.9zM114.2 566.2h0.9v0.9h-0.9zM99.7 569.8h0.9v0.9h-0.9zM108.4 576.6h0.9v0.9h-0.9zM103.8 579.3h0.9v0.9h-0.9zM104.7 580.4h0.9v0.9h-0.9zM106.7 575.0h0.9v0.9h-0.9zM99.5 585.5h0.9v0.9h-0.9zM99.2 568.5h0.9v0.9h-0.9zM111.5 573.7h0.9v0.9h-0.9zM110.0 585.3h0.9v0.9h-0.9zM106.5 570.3h0.9v0.9h-0.9zM101.3 579.3h0.9v0.9h-0.9zM106.6 586.8h0.9v0.9h-0.9zM110.2 586.9h0.9v0.9h-0.9zM113.3 584.8h0.9v0.9h-0.9zM104.5 589.7h0.9v0.9h-0.9zM112.4 566.6h0.9v0.9h-0.9zM110.6 569.3h0.9v0.9h-0.9zM102.0 576.1h0.9v0.9h-0.9zM105.2 580.0h0.9v0.9h-0.9zM98.2 581.0h0.9v0.9h-0.9zM97.8 576.4h0.9v0.9h-0.9zM103.9 584.9h0.9v0.9h-0.9zM107.2 582.9h0.9v0.9h-0.9zM101.2 577.5h0.9v0.9h-0.9zM110.2 580.1h0.9v0.9h-0.9zM115.1 563.7h0.9v0.9h-0.9zM100.1 584.2h0.9v0.9h-0.9zM111.4 578.1h0.9v0.9h-0.9zM111.1 576.3h0.9v0.9h-0.9zM105.4 588.9h0.9v0.9h-0.9zM107.6 586.0h0.9v0.9h-0.9zM115.9 588.9h0.9v0.9h-0.9zM97.5 582.3h0.9v0.9h-0.9zM115.7 586.9h0.9v0.9h-0.9zM107.9 566.8h0.9v0.9h-0.9zM115.9 568.7h0.9v0.9h-0.9zM99.6 579.1h0.9v0.9h-0.9zM103.7 590.6h0.9v0.9h-0.9zM109.1 573.1h0.9v0.9h-0.9zM100.3 567.6h0.9v0.9h-0.9zM105.0 590.4h0.9v0.9h-0.9zM108.9 586.8h0.9v0.9h-0.9zM105.3 571.9h0.9v0.9h-0.9zM107.3 570.4h0.9v0.9h-0.9zM111.6 587.9h0.9v0.9h-0.9zM103.3 583.8h0.9v0.9h-0.9zM100.0 588.1h0.9v0.9h-0.9zM113.0 571.4h0.9v0.9h-0.9zM111.5 579.5h0.9v0.9h-0.9zM110.7 568.4h0.9v0.9h-0.9zM99.2 568.3h0.9v0.9h-0.9zM103.4 570.0h0.9v0.9h-0.9zM115.9 565.6h0.9v0.9h-0.9zM109.1 581.6h0.9v0.9h-0.9zM105.6 583.1h0.9v0.9h-0.9zM113.7 582.2h0.9v0.9h-0.9zM100.5 586.9h0.9v0.9h-0.9zM110.4 571.2h0.9v0.9h-0.9zM101.8 583.9h0.9v0.9h-0.9zM116.9 582.0h0.9v0.9h-0.9zM111.1 584.4h0.9v0.9h-0.9zM107.5 573.8h0.9v0.9h-0.9zM111.2 564.7h0.9v0.9h-0.9zM104.4 575.7h0.9v0.9h-0.9zM103.9 575.5h0.9v0.9h-0.9zM106.1 590.6h0.9v0.9h-0.9zM114.2 585.4h0.9v0.9h-0.9zM100.5 581.5h0.9v0.9h-0.9zM112.3 564.1h0.9v0.9h-0.9zM100.2 574.8h0.9v0.9h-0.9zM112.7 576.0h0.9v0.9h-0.9zM114.8 566.3h0.9v0.9h-0.9zM114.0 567.7h0.9v0.9h-0.9zM111.6 584.1h0.9v0.9h-0.9zM103.4 591.1h0.9v0.9h-0.9zM111.3 580.7h0.9v0.9h-0.9zM116.2 579.0h0.9v0.9h-0.9zM107.5 587.9h0.9v0.9h-0.9zM105.2 583.9h0.9v0.9h-0.9zM107.3 571.7h0.9v0.9h-0.9zM106.6 575.9h0.9v0.9h-0.9zM113.1 582.4h0.9v0.9h-0.9zM109.9 566.3h0.9v0.9h-0.9zM104.3 568.0h0.9v0.9h-0.9zM104.3 575.9h0.9v0.9h-0.9zM103.7 577.4h0.9v0.9h-0.9zM114.5 589.3h0.9v0.9h-0.9zM113.0 576.6h0.9v0.9h-0.9zM100.5 572.3h0.9v0.9h-0.9zM108.7 587.3h0.9v0.9h-0.9zM105.5 583.6h0.9v0.9h-0.9zM98.9 575.4h0.9v0.9h-0.9zM112.5 573.8h0.9v0.9h-0.9zM109.0 585.6h0.9v0.9h-0.9zM101.4 566.1h0.9v0.9h-0.9zM105.8 570.0h0.9v0.9h-0.9zM106.5 579.3h0.9v0.9h-0.9zM102.5 578.1h0.9v0.9h-0.9zM105.2 566.9h0.9v0.9h-0.9zM114.7 567.8h0.9v0.9h-0.9zM114.8 572.9h0.9v0.9h-0.9zM112.9 572.2h0.9v0.9h-0.9zM109.6 581.6h0.9v0.9h-0.9zM104.6 580.4h0.9v0.9h-0.9zM103.3 576.2h0.9v0.9h-0.9zM115.6 575.7h0.9v0.9h-0.9zM102.6 583.8h0.9v0.9h-0.9zM109.6 570.0h0.9v0.9h-0.9zM110.4 572.0h0.9v0.9h-0.9zM99.7 570.6h0.9v0.9h-0.9zM113.3 581.8h0.9v0.9h-0.9zM117.1 578.9h0.9v0.9h-0.9zM116.3 579.0h0.9v0.9h-0.9zM104.5 573.8h0.9v0.9h-0.9zM98.8 590.8h0.9v0.9h-0.9zM107.7 569.2h0.9v0.9h-0.9zM108.7 571.3h0.9v0.9h-0.9zM106.5 587.1h0.9v0.9h-0.9zM106.3 580.2h0.9v0.9h-0.9zM103.8 587.8h0.9v0.9h-0.9zM106.0 579.1h0.9v0.9h-0.9zM114.9 564.6h0.9v0.9h-0.9zM102.7 577.6h0.9v0.9h-0.9zM115.8 569.4h0.9v0.9h-0.9zM103.0 584.5h0.9v0.9h-0.9zM104.3 586.5h0.9v0.9h-0.9zM103.6 575.6h0.9v0.9h-0.9zM109.8 576.4h0.9v0.9h-0.9zM112.9 589.8h0.9v0.9h-0.9zM104.6 576.6h0.9v0.9h-0.9zM111.4 585.9h0.9v0.9h-0.9zM99.7 581.5h0.9v0.9h-0.9zM104.2 573.3h0.9v0.9h-0.9zM107.8 578.8h0.9v0.9h-0.9zM110.0 576.6h0.9v0.9h-0.9zM114.4 574.5h0.9v0.9h-0.9zM101.8 583.4h0.9v0.9h-0.9zM112.3 584.2h0.9v0.9h-0.9zM100.3 576.3h0.9v0.9h-0.9zM105.0 576.4h0.9v0.9h-0.9zM116.1 567.9h0.9v0.9h-0.9zM112.3 576.3h0.9v0.9h-0.9zM104.7 586.6h0.9v0.9h-0.9zM110.0 574.2h0.9v0.9h-0.9zM111.6 577.2h0.9v0.9h-0.9zM98.9 590.2h0.9v0.9h-0.9zM114.8 583.1h0.9v0.9h-0.9zM100.3 581.0h0.9v0.9h-0.9zM110.7 577.8h0.9v0.9h-0.9zM104.7 577.0h0.9v0.9h-0.9zM103.8 574.6h0.9v0.9h-0.9zM106.5 566.7h0.9v0.9h-0.9zM99.4 583.7h0.9v0.9h-0.9zM105.2 588.0h0.9v0.9h-0.9zM102.3 588.6h0.9v0.9h-0.9zM98.4 584.7h0.9v0.9h-0.9zM107.1 579.4h0.9v0.9h-0.9zM110.2 580.0h0.9v0.9h-0.9zM116.5 581.1h0.9v0.9h-0.9zM111.4 581.0h0.9v0.9h-0.9zM113.8 581.0h0.9v0.9h-0.9zM114.3 574.5h0.9v0.9h-0.9zM99.5 587.5h0.9v0.9h-0.9zM99.3 573.0h0.9v0.9h-0.9zM109.1 569.3h0.9v0.9h-0.9zM106.2 568.8h0.9v0.9h-0.9zM114.3 581.9h0.9v0.9h-0.9zM99.6 575.2h0.9v0.9h-0.9zM112.7 585.1h0.9v0.9h-0.9zM100.2 569.7h0.9v0.9h-0.9zM109.9 586.9h0.9v0.9h-0.9zM105.4 576.6h0.9v0.9h-0.9zM109.6 581.3h0.9v0.9h-0.9zM110.4 572.2h0.9v0.9h-0.9zM105.5 574.4h0.9v0.9h-0.9zM98.8 589.7h0.9v0.9h-0.9zM106.7 582.7h0.9v0.9h-0.9zM109.7 590.6h0.9v0.9h-0.9zM103.3 567.3h0.9v0.9h-0.9zM115.8 573.7h0.9v0.9h-0.9zM103.2 581.5h0.9v0.9h-0.9zM100.1 567.8h0.9v0.9h-0.9zM106.2 589.0h0.9v0.9h-0.9zM104.2 571.9h0.9v0.9h-0.9zM115.7 565.2h0.9v0.9h-0.9zM99.4 588.5h0.9v0.9h-0.9zM104.0 587.6h0.9v0.9h-0.9zM103.1 566.0h0.9v0.9h-0.9zM116.9 573.8h0.9v0.9h-0.9zM107.5 572.3h0.9v0.9h-0.9zM106.0 589.7h0.9v0.9h-0.9zM113.3 581.5h0.9v0.9h-0.9zM103.7 589.5h0.9v0.9h-0.9zM112.6 579.5h0.9v0.9h-0.9zM106.8 578.6h0.9v0.9h-0.9zM106.2 588.1h0.9v0.9h-0.9zM116.4 571.9h0.9v0.9h-0.9zM101.6 570.7h0.9v0.9h-0.9zM111.5 568.5h0.9v0.9h-0.9zM113.9 579.8h0.9v0.9h-0.9zM100.9 565.8h0.9v0.9h-0.9zM101.5 581.6h0.9v0.9h-0.9zM109.9 579.0h0.9v0.9h-0.9zM112.4 578.4h0.9v0.9h-0.9zM105.8 571.5h0.9v0.9h-0.9zM106.9 579.1h0.9v0.9h-0.9zM115.4 585.6h0.9v0.9h-0.9zM107.3 585.5h0.9v0.9h-0.9zM110.8 581.1h0.9v0.9h-0.9zM101.6 575.6h0.9v0.9h-0.9zM114.8 562.6h0.9v0.9h-0.9zM107.4 583.8h0.9v0.9h-0.9zM99.3 576.9h0.9v0.9h-0.9zM99.7 579.7h0.9v0.9h-0.9zM115.7 583.0h0.9v0.9h-0.9zM105.9 575.2h0.9v0.9h-0.9zM104.7 585.2h0.9v0.9h-0.9zM109.3 586.6h0.9v0.9h-0.9zM107.1 566.6h0.9v0.9h-0.9zM113.5 577.4h0.9v0.9h-0.9zM112.8 568.2h0.9v0.9h-0.9zM106.8 576.7h0.9v0.9h-0.9zM101.0 566.6h0.9v0.9h-0.9zM109.9 565.3h0.9v0.9h-0.9zM102.5 569.9h0.9v0.9h-0.9zM111.2 568.0h0.9v0.9h-0.9zM100.3 578.4h0.9v0.9h-0.9zM113.7 580.6h0.9v0.9h-0.9zM104.4 589.2h0.9v0.9h-0.9zM105.0 583.5h0.9v0.9h-0.9zM101.4 580.4h0.9v0.9h-0.9zM104.2 571.6h0.9v0.9h-0.9zM101.8 587.7h0.9v0.9h-0.9zM110.0 578.4h0.9v0.9h-0.9zM107.8 581.3h0.9v0.9h-0.9zM116.1 583.8h0.9v0.9h-0.9zM102.5 586.4h0.9v0.9h-0.9zM102.1 576.9h0.9v0.9h-0.9zM103.3 581.3h0.9v0.9h-0.9zM102.8 585.2h0.9v0.9h-0.9zM116.1 576.8h0.9v0.9h-0.9zM99.5 588.4h0.9v0.9h-0.9zM101.5 585.7h0.9v0.9h-0.9zM107.7 582.2h0.9v0.9h-0.9zM115.3 572.1h0.9v0.9h-0.9zM102.4 571.8h0.9v0.9h-0.9zM113.5 572.2h0.9v0.9h-0.9zM116.6 570.4h0.9v0.9h-0.9zM114.8 589.2h0.9v0.9h-0.9zM106.1 590.1h0.9v0.9h-0.9zM103.6 565.8h0.9v0.9h-0.9zM104.8 584.9h0.9v0.9h-0.9zM98.8 587.5h0.9v0.9h-0.9zM106.7 572.2h0.9v0.9h-0.9zM105.2 588.3h0.9v0.9h-0.9zM111.4 584.1h0.9v0.9h-0.9zM105.0 586.5h0.9v0.9h-0.9zM101.9 574.4h0.9v0.9h-0.9zM100.7 567.9h0.9v0.9h-0.9zM105.2 573.5h0.9v0.9h-0.9zM99.8 573.7h0.9v0.9h-0.9zM113.3 578.1h0.9v0.9h-0.9zM111.2 577.2h0.9v0.9h-0.9zM109.9 564.0h0.9v0.9h-0.9zM110.9 587.2h0.9v0.9h-0.9zM108.3 589.7h0.9v0.9h-0.9zM107.3 571.0h0.9v0.9h-0.9zM98.3 569.6h0.9v0.9h-0.9zM108.8 588.9h0.9v0.9h-0.9zM115.7 584.8h0.9v0.9h-0.9zM100.9 569.2h0.9v0.9h-0.9zM106.4 576.0h0.9v0.9h-0.9zM100.1 584.2h0.9v0.9h-0.9zM103.0 572.1h0.9v0.9h-0.9zM102.1 589.0h0.9v0.9h-0.9zM104.1 587.9h0.9v0.9h-0.9zM110.3 577.4h0.9v0.9h-0.9zM105.5 583.4h0.9v0.9h-0.9zM98.0 588.6h0.9v0.9h-0.9zM102.6 585.2h0.9v0.9h-0.9zM111.0 570.6h0.9v0.9h-0.9zM110.1 587.1h0.9v0.9h-0.9zM102.3 590.4h0.9v0.9h-0.9zM111.5 565.3h0.9v0.9h-0.9zM111.8 588.6h0.9v0.9h-0.9zM100.2 584.3h0.9v0.9h-0.9zM116.0 583.8h0.9v0.9h-0.9zM112.5 589.7h0.9v0.9h-0.9zM115.6 576.4h0.9v0.9h-0.9zM99.6 576.6h0.9v0.9h-0.9zM114.0 574.6h0.9v0.9h-0.9zM104.4 587.6h0.9v0.9h-0.9zM112.8 587.7h0.9v0.9h-0.9zM109.5 582.9h0.9v0.9h-0.9zM110.9 584.7h0.9v0.9h-0.9zM98.6 576.0h0.9v0.9h-0.9zM108.5 564.7h0.9v0.9h-0.9zM98.7 578.8h0.9v0.9h-0.9zM106.9 584.5h0.9v0.9h-0.9zM114.2 574.8h0.9v0.9h-0.9zM100.2 579.0h0.9v0.9h-0.9zM106.7 575.7h0.9v0.9h-0.9zM110.3 573.2h0.9v0.9h-0.9zM110.5 571.5h0.9v0.9h-0.9zM104.2 582.3h0.9v0.9h-0.9zM103.5 571.9h0.9v0.9h-0.9zM115.3 570.0h0.9v0.9h-0.9zM108.6 587.2h0.9v0.9h-0.9zM104.6 587.5h0.9v0.9h-0.9zM108.7 591.2h0.9v0.9h-0.9zM111.6 569.3h0.9v0.9h-0.9zM101.1 580.3h0.9v0.9h-0.9zM111.2 587.1h0.9v0.9h-0.9zM105.5 580.9h0.9v0.9h-0.9zM99.9 586.9h0.9v0.9h-0.9zM105.6 581.9h0.9v0.9h-0.9zM116.0 586.0h0.9v0.9h-0.9zM115.9 579.0h0.9v0.9h-0.9zM101.7 573.6h0.9v0.9h-0.9zM116.1 567.2h0.9v0.9h-0.9zM106.8 588.6h0.9v0.9h-0.9zM113.2 571.4h0.9v0.9h-0.9zM101.5 578.1h0.9v0.9h-0.9zM102.0 577.2h0.9v0.9h-0.9zM109.4 591.0h0.9v0.9h-0.9zM112.2 568.0h0.9v0.9h-0.9zM108.5 575.6h0.9v0.9h-0.9zM99.1 570.7h0.9v0.9h-0.9zM115.0 581.9h0.9v0.9h-0.9zM99.8 571.5h0.9v0.9h-0.9zM101.4 584.7h0.9v0.9h-0.9zM114.0 575.7h0.9v0.9h-0.9zM104.2 590.7h0.9v0.9h-0.9zM102.7 578.5h0.9v0.9h-0.9zM105.4 580.2h0.9v0.9h-0.9zM114.6 581.3h0.9v0.9h-0.9zM109.3 587.9h0.9v0.9h-0.9zM102.8 586.1h0.9v0.9h-0.9zM112.0 567.4h0.9v0.9h-0.9zM108.2 590.0h0.9v0.9h-0.9zM109.6 571.4h0.9v0.9h-0.9zM113.1 583.4h0.9v0.9h-0.9zM107.1 581.5h0.9v0.9h-0.9zM102.3 578.1h0.9v0.9h-0.9zM105.1 569.0h0.9v0.9h-0.9zM104.1 568.1h0.9v0.9h-0.9zM113.4 584.3h0.9v0.9h-0.9zM111.6 572.8h0.9v0.9h-0.9zM105.2 575.9h0.9v0.9h-0.9zM106.7 568.8h0.9v0.9h-0.9zM108.7 566.2h0.9v0.9h-0.9zM113.4 565.1h0.9v0.9h-0.9zM101.3 587.3h0.9v0.9h-0.9zM114.9 578.4h0.9v0.9h-0.9zM101.6 589.1h0.9v0.9h-0.9zM113.5 569.3h0.9v0.9h-0.9zM114.5 582.7h0.9v0.9h-0.9zM109.9 582.9h0.9v0.9h-0.9zM101.8 590.6h0.9v0.9h-0.9zM105.9 589.0h0.9v0.9h-0.9zM101.4 587.7h0.9v0.9h-0.9zM106.2 589.4h0.9v0.9h-0.9zM110.7 575.8h0.9v0.9h-0.9zM115.8 580.0h0.9v0.9h-0.9zM101.0 566.7h0.9v0.9h-0.9zM113.0 590.9h0.9v0.9h-0.9zM111.7 567.5h0.9v0.9h-0.9zM104.0 572.0h0.9v0.9h-0.9zM114.1 586.6h0.9v0.9h-0.9zM112.2 585.5h0.9v0.9h-0.9zM114.4 580.5h0.9v0.9h-0.9zM116.0 576.9h0.9v0.9h-0.9zM112.1 567.4h0.9v0.9h-0.9zM103.3 587.6h0.9v0.9h-0.9zM108.5 573.7h0.9v0.9h-0.9zM117.4 571.4h0.9v0.9h-0.9zM108.2 565.0h0.9v0.9h-0.9zM116.1 577.7h0.9v0.9h-0.9zM103.6 590.7h0.9v0.9h-0.9zM111.5 567.5h0.9v0.9h-0.9zM111.2 581.2h0.9v0.9h-0.9zM100.6 576.2h0.9v0.9h-0.9zM111.9 568.6h0.9v0.9h-0.9zM114.7 576.0h0.9v0.9h-0.9zM110.7 585.8h0.9v0.9h-0.9zM109.8 573.8h0.9v0.9h-0.9zM117.4 582.8h0.9v0.9h-0.9zM99.4 591.0h0.9v0.9h-0.9zM109.9 590.6h0.9v0.9h-0.9zM108.2 575.8h0.9v0.9h-0.9zM109.2 584.7h0.9v0.9h-0.9zM117.0 565.8h0.9v0.9h-0.9zM101.2 572.3h0.9v0.9h-0.9zM110.9 584.6h0.9v0.9h-0.9zM104.9 571.3h0.9v0.9h-0.9zM111.6 589.1h0.9v0.9h-0.9zM113.3 578.7h0.9v0.9h-0.9zM110.9 571.8h0.9v0.9h-0.9zM113.7 580.4h0.9v0.9h-0.9zM106.9 589.1h0.9v0.9h-0.9zM115.7 563.4h0.9v0.9h-0.9zM115.3 575.5h0.9v0.9h-0.9zM106.6 588.8h0.9v0.9h-0.9zM115.0 578.6h0.9v0.9h-0.9zM108.4 579.4h0.9v0.9h-0.9zM104.0 582.0h0.9v0.9h-0.9zM99.6 583.5h0.9v0.9h-0.9zM105.0 581.5h0.9v0.9h-0.9zM103.6 573.0h0.9v0.9h-0.9zM104.0 589.1h0.9v0.9h-0.9zM102.4 570.5h0.9v0.9h-0.9zM106.6 588.3h0.9v0.9h-0.9zM99.0 567.9h0.9v0.9h-0.9zM104.7 576.9h0.9v0.9h-0.9zM99.4 580.2h0.9v0.9h-0.9zM101.6 572.9h0.9v0.9h-0.9zM112.2 574.4h0.9v0.9h-0.9zM99.4 571.1h0.9v0.9h-0.9zM112.0 574.2h0.9v0.9h-0.9zM108.0 576.1h0.9v0.9h-0.9zM106.3 589.5h0.9v0.9h-0.9zM104.1 585.9h0.9v0.9h-0.9zM111.9 582.7h0.9v0.9h-0.9zM102.7 577.3h0.9v0.9h-0.9zM109.4 583.9h0.9v0.9h-0.9zM100.6 568.9h0.9v0.9h-0.9zM106.6 572.6h0.9v0.9h-0.9zM112.7 579.7h0.9v0.9h-0.9zM104.0 573.6h0.9v0.9h-0.9zM113.1 584.9h0.9v0.9h-0.9zM102.0 571.7h0.9v0.9h-0.9zM114.5 589.6h0.9v0.9h-0.9zM107.2 589.4h0.9v0.9h-0.9zM100.6 571.9h0.9v0.9h-0.9zM116.2 565.8h0.9v0.9h-0.9zM109.1 590.8h0.9v0.9h-0.9zM109.5 578.3h0.9v0.9h-0.9zM105.2 572.7h0.9v0.9h-0.9zM107.4 572.4h0.9v0.9h-0.9zM111.8 582.6h0.9v0.9h-0.9zM102.6 570.6h0.9v0.9h-0.9zM117.2 575.9h0.9v0.9h-0.9zM113.6 565.2h0.9v0.9h-0.9zM105.1 572.2h0.9v0.9h-0.9zM104.9 586.7h0.9v0.9h-0.9zM104.6 582.2h0.9v0.9h-0.9zM113.3 583.5h0.9v0.9h-0.9zM99.0 580.3h0.9v0.9h-0.9zM106.1 583.9h0.9v0.9h-0.9zM109.9 567.6h0.9v0.9h-0.9zM104.5 571.0h0.9v0.9h-0.9zM100.7 569.0h0.9v0.9h-0.9zM108.8 578.9h0.9v0.9h-0.9zM101.9 567.1h0.9v0.9h-0.9zM111.7 577.5h0.9v0.9h-0.9zM112.9 571.0h0.9v0.9h-0.9zM113.8 572.9h0.9v0.9h-0.9zM105.1 585.1h0.9v0.9h-0.9zM110.2 586.7h0.9v0.9h-0.9zM110.8 588.7h0.9v0.9h-0.9zM111.9 567.4h0.9v0.9h-0.9zM107.5 590.7h0.9v0.9h-0.9zM112.2 584.5h0.9v0.9h-0.9zM103.6 570.3h0.9v0.9h-0.9zM104.2 579.1h0.9v0.9h-0.9zM98.5 585.2h0.9v0.9h-0.9zM104.9 567.0h0.9v0.9h-0.9zM108.9 574.3h0.9v0.9h-0.9zM115.1 568.8h0.9v0.9h-0.9zM106.1 567.9h0.9v0.9h-0.9zM101.7 573.9h0.9v0.9h-0.9zM109.9 578.7h0.9v0.9h-0.9zM102.1 578.4h0.9v0.9h-0.9zM99.5 590.8h0.9v0.9h-0.9zM99.2 584.7h0.9v0.9h-0.9zM99.2 581.4h0.9v0.9h-0.9zM108.1 570.6h0.9v0.9h-0.9zM104.7 591.1h0.9v0.9h-0.9zM112.0 584.7h0.9v0.9h-0.9zM112.2 582.4h0.9v0.9h-0.9zM100.6 577.0h0.9v0.9h-0.9zM102.8 584.6h0.9v0.9h-0.9zM111.9 587.6h0.9v0.9h-0.9zM113.8 582.7h0.9v0.9h-0.9zM102.7 581.9h0.9v0.9h-0.9zM105.0 572.0h0.9v0.9h-0.9zM102.0 587.4h0.9v0.9h-0.9zM108.9 573.5h0.9v0.9h-0.9zM101.8 574.6h0.9v0.9h-0.9zM101.9 570.9h0.9v0.9h-0.9zM99.7 577.1h0.9v0.9h-0.9zM112.6 564.5h0.9v0.9h-0.9zM104.6 572.8h0.9v0.9h-0.9zM115.6 583.3h0.9v0.9h-0.9zM114.5 567.8h0.9v0.9h-0.9zM104.0 579.9h0.9v0.9h-0.9zM103.2 582.6h0.9v0.9h-0.9zM98.8 572.1h0.9v0.9h-0.9zM114.0 580.7h0.9v0.9h-0.9zM99.2 569.8h0.9v0.9h-0.9zM106.1 585.8h0.9v0.9h-0.9zM104.4 572.3h0.9v0.9h-0.9zM115.3 567.0h0.9v0.9h-0.9zM110.4 586.3h0.9v0.9h-0.9zM108.9 573.5h0.9v0.9h-0.9zM108.0 578.4h0.9v0.9h-0.9zM100.9 581.3h0.9v0.9h-0.9zM105.9 590.2h0.9v0.9h-0.9zM99.3 587.2h0.9v0.9h-0.9zM100.2 578.6h0.9v0.9h-0.9zM112.2 572.0h0.9v0.9h-0.9zM114.1 565.7h0.9v0.9h-0.9zM102.2 573.0h0.9v0.9h-0.9zM113.4 582.2h0.9v0.9h-0.9zM112.5 572.9h0.9v0.9h-0.9zM109.8 589.1h0.9v0.9h-0.9zM107.2 590.6h0.9v0.9h-0.9zM101.2 580.8h0.9v0.9h-0.9zM115.1 583.5h0.9v0.9h-0.9zM112.8 586.0h0.9v0.9h-0.9zM100.0 576.3h0.9v0.9h-0.9zM99.6 572.6h0.9v0.9h-0.9zM111.0 590.1h0.9v0.9h-0.9zM102.8 572.1h0.9v0.9h-0.9zM116.6 565.2h0.9v0.9h-0.9zM109.4 566.6h0.9v0.9h-0.9zM111.1 564.6h0.9v0.9h-0.9zM108.1 590.2h0.9v0.9h-0.9zM114.4 584.6h0.9v0.9h-0.9zM108.9 589.0h0.9v0.9h-0.9zM106.0 590.7h0.9v0.9h-0.9zM110.4 572.4h0.9v0.9h-0.9zM112.9 568.7h0.9v0.9h-0.9zM100.2 581.6h0.9v0.9h-0.9zM100.7 584.8h0.9v0.9h-0.9zM103.5 575.2h0.9v0.9h-0.9zM101.3 570.6h0.9v0.9h-0.9zM103.8 589.6h0.9v0.9h-0.9zM116.7 586.4h0.9v0.9h-0.9zM114.0 582.0h0.9v0.9h-0.9zM109.8 580.8h0.9v0.9h-0.9zM108.1 582.1h0.9v0.9h-0.9zM102.6 589.6h0.9v0.9h-0.9zM111.1 574.9h0.9v0.9h-0.9zM115.8 590.1h0.9v0.9h-0.9zM110.9 573.8h0.9v0.9h-0.9zM100.1 582.7h0.9v0.9h-0.9zM100.0 571.6h0.9v0.9h-0.9zM105.2 571.5h0.9v0.9h-0.9zM114.8 585.2h0.9v0.9h-0.9zM116.1 578.8h0.9v0.9h-0.9zM107.3 588.5h0.9v0.9h-0.9zM98.1 588.5h0.9v0.9h-0.9zM100.2 569.2h0.9v0.9h-0.9zM106.0 567.0h0.9v0.9h-0.9zM103.9 590.5h0.9v0.9h-0.9zM109.0 569.0h0.9v0.9h-0.9zM113.9 584.4h0.9v0.9h-0.9zM99.7 577.5h0.9v0.9h-0.9zM100.8 567.0h0.9v0.9h-0.9zM109.9 581.3h0.9v0.9h-0.9zM116.0 576.3h0.9v0.9h-0.9zM110.1 586.0h0.9v0.9h-0.9zM109.3 576.4h0.9v0.9h-0.9zM116.0 590.0h0.9v0.9h-0.9zM103.9 582.4h0.9v0.9h-0.9zM114.9 574.6h0.9v0.9h-0.9zM105.6 582.6h0.9v0.9h-0.9zM100.0 570.8h0.9v0.9h-0.9zM99.6 581.1h0.9v0.9h-0.9zM116.1 575.5h0.9v0.9h-0.9zM106.3 586.3h0.9v0.9h-0.9zM105.1 578.2h0.9v0.9h-0.9zM116.9 579.8h0.9v0.9h-0.9zM99.7 584.7h0.9v0.9h-0.9zM106.0 576.3h0.9v0.9h-0.9zM105.6 586.5h0.9v0.9h-0.9zM107.0 570.4h0.9v0.9h-0.9zM101.9 581.4h0.9v0.9h-0.9zM113.7 590.8h0.9v0.9h-0.9zM109.3 564.3h0.9v0.9h-0.9zM104.6 587.0h0.9v0.9h-0.9zM109.2 568.8h0.9v0.9h-0.9zM107.1 564.6h0.9v0.9h-0.9zM114.8 582.3h0.9v0.9h-0.9zM105.7 576.9h0.9v0.9h-0.9zM108.4 587.3h0.9v0.9h-0.9zM114.2 579.6h0.9v0.9h-0.9zM115.0 585.5h0.9v0.9h-0.9zM115.8 578.9h0.9v0.9h-0.9zM102.8 568.8h0.9v0.9h-0.9zM110.8 570.4h0.9v0.9h-0.9zM97.4 581.0h0.9v0.9h-0.9zM102.7 569.3h0.9v0.9h-0.9zM100.8 584.1h0.9v0.9h-0.9zM110.9 582.5h0.9v0.9h-0.9zM104.5 589.8h0.9v0.9h-0.9zM115.8 586.7h0.9v0.9h-0.9zM115.9 571.1h0.9v0.9h-0.9zM101.8 576.1h0.9v0.9h-0.9zM114.0 586.9h0.9v0.9h-0.9zM101.6 590.0h0.9v0.9h-0.9zM110.0 587.3h0.9v0.9h-0.9zM100.2 575.9h0.9v0.9h-0.9zM106.5 578.5h0.9v0.9h-0.9zM105.6 579.2h0.9v0.9h-0.9zM102.5 568.0h0.9v0.9h-0.9zM112.1 576.5h0.9v0.9h-0.9zM100.6 577.0h0.9v0.9h-0.9zM109.9 578.8h0.9v0.9h-0.9zM113.6 573.5h0.9v0.9h-0.9zM111.7 566.6h0.9v0.9h-0.9zM114.7 579.6h0.9v0.9h-0.9zM99.4 574.1h0.9v0.9h-0.9zM113.6 569.8h0.9v0.9h-0.9zM101.8 567.7h0.9v0.9h-0.9zM112.6 569.9h0.9v0.9h-0.9zM110.1 583.0h0.9v0.9h-0.9zM98.3 568.7h0.9v0.9h-0.9zM113.5 590.9h0.9v0.9h-0.9zM98.6 582.1h0.9v0.9h-0.9zM115.5 572.3h0.9v0.9h-0.9zM106.2 581.5h0.9v0.9h-0.9zM115.0 562.7h0.9v0.9h-0.9zM105.7 571.5h0.9v0.9h-0.9zM103.4 574.9h0.9v0.9h-0.9zM102.0 580.1h0.9v0.9h-0.9zM98.9 585.5h0.9v0.9h-0.9zM108.6 586.8h0.9v0.9h-0.9zM102.1 570.7h0.9v0.9h-0.9zM113.9 571.6h0.9v0.9h-0.9zM102.0 583.5h0.9v0.9h-0.9zM102.1 588.3h0.9v0.9h-0.9zM111.1 578.4h0.9v0.9h-0.9zM98.5 581.3h0.9v0.9h-0.9zM115.9 577.8h0.9v0.9h-0.9zM101.7 579.8h0.9v0.9h-0.9zM107.1 588.2h0.9v0.9h-0.9zM115.2 575.8h0.9v0.9h-0.9zM111.5 580.8h0.9v0.9h-0.9zM100.8 572.8h0.9v0.9h-0.9zM101.9 583.2h0.9v0.9h-0.9zM105.5 575.9h0.9v0.9h-0.9zM114.2 580.8h0.9v0.9h-0.9zM105.9 577.1h0.9v0.9h-0.9zM110.6 572.9h0.9v0.9h-0.9zM104.5 582.0h0.9v0.9h-0.9zM103.7 571.5h0.9v0.9h-0.9zM110.5 583.1h0.9v0.9h-0.9zM104.7 590.3h0.9v0.9h-0.9zM111.2 581.1h0.9v0.9h-0.9zM116.1 566.7h0.9v0.9h-0.9zM103.6 575.6h0.9v0.9h-0.9zM112.8 576.4h0.9v0.9h-0.9zM112.8 570.3h0.9v0.9h-0.9zM108.7 580.4h0.9v0.9h-0.9zM109.0 589.3h0.9v0.9h-0.9zM116.9 567.2h0.9v0.9h-0.9zM111.7 575.5h0.9v0.9h-0.9zM105.1 572.2h0.9v0.9h-0.9zM112.3 577.0h0.9v0.9h-0.9zM116.5 578.5h0.9v0.9h-0.9zM110.6 584.9h0.9v0.9h-0.9zM102.8 582.7h0.9v0.9h-0.9zM103.4 571.0h0.9v0.9h-0.9zM114.8 575.9h0.9v0.9h-0.9zM105.6 566.7h0.9v0.9h-0.9zM109.7 581.1h0.9v0.9h-0.9zM109.8 583.8h0.9v0.9h-0.9zM103.0 583.3h0.9v0.9h-0.9zM106.1 572.1h0.9v0.9h-0.9zM110.1 582.9h0.9v0.9h-0.9zM115.5 585.0h0.9v0.9h-0.9zM114.3 573.8h0.9v0.9h-0.9zM105.4 582.2h0.9v0.9h-0.9zM102.1 578.5h0.9v0.9h-0.9zM112.5 567.6h0.9v0.9h-0.9zM104.8 580.3h0.9v0.9h-0.9zM104.9 587.1h0.9v0.9h-0.9zM105.2 585.6h0.9v0.9h-0.9zM113.6 572.3h0.9v0.9h-0.9zM116.3 566.8h0.9v0.9h-0.9zM106.8 581.9h0.9v0.9h-0.9zM115.8 574.8h0.9v0.9h-0.9zM108.9 578.5h0.9v0.9h-0.9zM100.3 580.4h0.9v0.9h-0.9zM99.1 586.2h0.9v0.9h-0.9zM103.4 568.9h0.9v0.9h-0.9zM107.5 586.6h0.9v0.9h-0.9zM102.4 569.9h0.9v0.9h-0.9zM100.6 575.5h0.9v0.9h-0.9zM105.7 570.8h0.9v0.9h-0.9zM105.4 587.6h0.9v0.9h-0.9zM107.4 576.4h0.9v0.9h-0.9zM105.0 568.3h0.9v0.9h-0.9zM102.1 577.4h0.9v0.9h-0.9zM105.4 585.3h0.9v0.9h-0.9zM114.5 585.2h0.9v0.9h-0.9zM111.1 566.6h0.9v0.9h-0.9zM113.9 580.9h0.9v0.9h-0.9zM109.2 572.6h0.9v0.9h-0.9zM113.9 565.5h0.9v0.9h-0.9zM99.8 570.0h0.9v0.9h-0.9zM108.6 582.5h0.9v0.9h-0.9zM115.3 578.6h0.9v0.9h-0.9zM116.2 590.1h0.9v0.9h-0.9zM112.5 566.9h0.9v0.9h-0.9zM102.1 586.4h0.9v0.9h-0.9zM106.6 582.6h0.9v0.9h-0.9zM99.8 576.0h0.9v0.9h-0.9zM104.9 573.4h0.9v0.9h-0.9zM109.0 587.1h0.9v0.9h-0.9zM100.5 585.9h0.9v0.9h-0.9zM103.0 580.9h0.9v0.9h-0.9zM107.8 587.5h0.9v0.9h-0.9zM99.7 586.7h0.9v0.9h-0.9zM112.0 578.0h0.9v0.9h-0.9zM109.5 566.9h0.9v0.9h-0.9zM107.6 588.4h0.9v0.9h-0.9zM111.2 582.4h0.9v0.9h-0.9zM110.5 570.7h0.9v0.9h-0.9zM115.2 589.3h0.9v0.9h-0.9zM106.3 578.4h0.9v0.9h-0.9zM104.5 579.5h0.9v0.9h-0.9zM104.0 570.2h0.9v0.9h-0.9zM114.4 580.4h0.9v0.9h-0.9zM108.0 572.7h0.9v0.9h-0.9zM115.4 585.1h0.9v0.9h-0.9zM100.6 575.3h0.9v0.9h-0.9zM104.6 582.6h0.9v0.9h-0.9zM110.0 581.2h0.9v0.9h-0.9zM99.6 581.1h0.9v0.9h-0.9zM113.1 588.1h0.9v0.9h-0.9zM116.4 572.6h0.9v0.9h-0.9zM104.4 581.0h0.9v0.9h-0.9zM99.7 587.1h0.9v0.9h-0.9zM109.2 580.5h0.9v0.9h-0.9zM112.4 590.3h0.9v0.9h-0.9zM111.0 578.0h0.9v0.9h-0.9zM108.9 588.7h0.9v0.9h-0.9zM110.3 565.5h0.9v0.9h-0.9zM115.5 586.1h0.9v0.9h-0.9zM110.8 588.3h0.9v0.9h-0.9zM105.2 571.1h0.9v0.9h-0.9zM115.7 572.2h0.9v0.9h-0.9zM111.2 565.6h0.9v0.9h-0.9zM109.3 582.6h0.9v0.9h-0.9zM101.3 583.7h0.9v0.9h-0.9zM101.7 570.4h0.9v0.9h-0.9zM116.1 585.2h0.9v0.9h-0.9zM113.0 586.5h0.9v0.9h-0.9zM112.4 574.1h0.9v0.9h-0.9zM112.5 579.2h0.9v0.9h-0.9zM106.2 575.6h0.9v0.9h-0.9zM107.6 580.7h0.9v0.9h-0.9zM107.4 578.1h0.9v0.9h-0.9zM105.1 589.4h0.9v0.9h-0.9zM102.8 577.9h0.9v0.9h-0.9zM108.4 583.8h0.9v0.9h-0.9zM115.8 569.7h0.9v0.9h-0.9zM101.8 585.4h0.9v0.9h-0.9zM112.6 582.1h0.9v0.9h-0.9zM110.4 569.4h0.9v0.9h-0.9zM107.0 570.6h0.9v0.9h-0.9zM109.9 590.6h0.9v0.9h-0.9zM114.2 585.6h0.9v0.9h-0.9zM116.2 565.3h0.9v0.9h-0.9zM112.8 570.0h0.9v0.9h-0.9zM114.0 563.3h0.9v0.9h-0.9zM103.2 576.0h0.9v0.9h-0.9zM103.8 586.1h0.9v0.9h-0.9zM106.9 579.7h0.9v0.9h-0.9zM110.5 573.4h0.9v0.9h-0.9zM99.6 569.2h0.9v0.9h-0.9zM112.7 583.6h0.9v0.9h-0.9zM114.2 571.2h0.9v0.9h-0.9zM116.0 570.8h0.9v0.9h-0.9zM115.0 581.0h0.9v0.9h-0.9zM98.2 576.3h0.9v0.9h-0.9zM108.3 582.2h0.9v0.9h-0.9zM109.7 581.6h0.9v0.9h-0.9zM107.8 574.7h0.9v0.9h-0.9zM112.0 572.0h0.9v0.9h-0.9zM109.7 574.7h0.9v0.9h-0.9zM103.8 579.8h0.9v0.9h-0.9zM113.8 578.9h0.9v0.9h-0.9zM112.9 590.5h0.9v0.9h-0.9zM111.9 567.2h0.9v0.9h-0.9zM102.6 578.0h0.9v0.9h-0.9zM98.2 575.3h0.9v0.9h-0.9zM109.1 582.7h0.9v0.9h-0.9zM116.6 562.7h0.9v0.9h-0.9zM111.9 571.3h0.9v0.9h-0.9zM105.2 583.8h0.9v0.9h-0.9zM115.6 570.7h0.9v0.9h-0.9zM103.0 582.2h0.9v0.9h-0.9zM113.0 573.0h0.9v0.9h-0.9zM111.1 568.2h0.9v0.9h-0.9zM103.1 564.2h0.9v0.9h-0.9zM113.8 579.4h0.9v0.9h-0.9zM103.7 575.4h0.9v0.9h-0.9zM105.3 589.5h0.9v0.9h-0.9zM115.2 566.1h0.9v0.9h-0.9zM106.1 575.0h0.9v0.9h-0.9zM113.9 564.8h0.9v0.9h-0.9zM111.5 581.8h0.9v0.9h-0.9zM101.9 571.7h0.9v0.9h-0.9zM107.8 588.2h0.9v0.9h-0.9zM102.9 578.8h0.9v0.9h-0.9zM100.4 586.5h0.9v0.9h-0.9zM109.4 587.8h0.9v0.9h-0.9zM114.9 565.1h0.9v0.9h-0.9zM111.6 574.1h0.9v0.9h-0.9zM103.2 576.2h0.9v0.9h-0.9zM106.7 573.4h0.9v0.9h-0.9zM112.0 567.5h0.9v0.9h-0.9zM111.2 574.5h0.9v0.9h-0.9zM99.3 570.9h0.9v0.9h-0.9zM100.8 577.8h0.9v0.9h-0.9zM100.3 578.5h0.9v0.9h-0.9zM99.5 569.6h0.9v0.9h-0.9zM112.6 567.2h0.9v0.9h-0.9zM103.3 587.6h0.9v0.9h-0.9zM104.1 565.9h0.9v0.9h-0.9zM103.5 587.4h0.9v0.9h-0.9zM108.1 588.5h0.9v0.9h-0.9zM103.0 575.6h0.9v0.9h-0.9zM108.1 588.5h0.9v0.9h-0.9zM107.7 589.1h0.9v0.9h-0.9zM98.9 583.5h0.9v0.9h-0.9zM99.1 574.8h0.9v0.9h-0.9zM103.3 570.4h0.9v0.9h-0.9zM102.0 585.5h0.9v0.9h-0.9zM99.0 582.3h0.9v0.9h-0.9zM109.8 573.6h0.9v0.9h-0.9zM107.8 579.8h0.9v0.9h-0.9zM109.3 581.7h0.9v0.9h-0.9zM109.1 582.3h0.9v0.9h-0.9zM104.4 573.6h0.9v0.9h-0.9zM106.4 576.0h0.9v0.9h-0.9zM101.9 580.2h0.9v0.9h-0.9zM116.2 570.0h0.9v0.9h-0.9zM114.0 568.6h0.9v0.9h-0.9zM106.0 577.6h0.9v0.9h-0.9zM101.5 588.1h0.9v0.9h-0.9zM109.2 563.2h0.9v0.9h-0.9zM109.4 565.4h0.9v0.9h-0.9zM105.5 568.0h0.9v0.9h-0.9zM115.2 564.3h0.9v0.9h-0.9zM102.9 580.9h0.9v0.9h-0.9zM114.8 572.7h0.9v0.9h-0.9zM107.4 576.0h0.9v0.9h-0.9zM113.9 568.7h0.9v0.9h-0.9zM108.6 572.2h0.9v0.9h-0.9zM114.5 583.6h0.9v0.9h-0.9zM107.0 579.7h0.9v0.9h-0.9zM110.9 580.9h0.9v0.9h-0.9zM108.2 586.4h0.9v0.9h-0.9zM105.6 572.7h0.9v0.9h-0.9zM112.2 572.9h0.9v0.9h-0.9zM110.2 562.6h0.9v0.9h-0.9zM99.5 580.7h0.9v0.9h-0.9zM105.6 579.6h0.9v0.9h-0.9zM115.1 582.3h0.9v0.9h-0.9zM114.1 572.5h0.9v0.9h-0.9zM103.5 568.5h0.9v0.9h-0.9zM112.6 584.5h0.9v0.9h-0.9zM114.4 590.6h0.9v0.9h-0.9zM98.5 570.1h0.9v0.9h-0.9zM102.5 590.3h0.9v0.9h-0.9zM104.5 565.7h0.9v0.9h-0.9zM110.1 569.3h0.9v0.9h-0.9zM115.0 575.3h0.9v0.9h-0.9zM105.1 586.7h0.9v0.9h-0.9zM103.6 588.0h0.9v0.9h-0.9zM114.2 564.6h0.9v0.9h-0.9zM112.5 584.9h0.9v0.9h-0.9zM99.1 570.3h0.9v0.9h-0.9zM107.8 583.6h0.9v0.9h-0.9zM99.7 582.9h0.9v0.9h-0.9zM107.7 586.7h0.9v0.9h-0.9zM103.5 572.4h0.9v0.9h-0.9zM108.6 565.7h0.9v0.9h-0.9zM109.9 571.0h0.9v0.9h-0.9zM111.8 583.6h0.9v0.9h-0.9zM102.5 570.2h0.9v0.9h-0.9zM109.8 575.0h0.9v0.9h-0.9zM107.7 577.5h0.9v0.9h-0.9zM109.3 580.3h0.9v0.9h-0.9zM101.0 582.5h0.9v0.9h-0.9zM102.1 575.9h0.9v0.9h-0.9zM115.0 576.9h0.9v0.9h-0.9zM102.9 575.1h0.9v0.9h-0.9zM109.5 567.3h0.9v0.9h-0.9zM99.1 591.0h0.9v0.9h-0.9zM109.3 583.0h0.9v0.9h-0.9zM112.8 570.2h0.9v0.9h-0.9zM103.1 575.5h0.9v0.9h-0.9zM106.6 588.5h0.9v0.9h-0.9zM108.3 586.9h0.9v0.9h-0.9zM101.5 588.0h0.9v0.9h-0.9zM108.4 589.1h0.9v0.9h-0.9zM117.0 577.4h0.9v0.9h-0.9zM113.9 581.3h0.9v0.9h-0.9zM108.5 571.0h0.9v0.9h-0.9zM114.3 568.7h0.9v0.9h-0.9zM108.7 579.4h0.9v0.9h-0.9zM113.8 586.5h0.9v0.9h-0.9zM105.8 574.3h0.9v0.9h-0.9zM99.0 568.2h0.9v0.9h-0.9zM112.2 572.8h0.9v0.9h-0.9zM109.5 583.9h0.9v0.9h-0.9zM101.1 576.9h0.9v0.9h-0.9zM107.4 588.3h0.9v0.9h-0.9zM103.3 576.0h0.9v0.9h-0.9zM104.1 590.5h0.9v0.9h-0.9zM112.2 589.6h0.9v0.9h-0.9zM112.7 572.3h0.9v0.9h-0.9zM112.3 571.9h0.9v0.9h-0.9zM98.9 581.7h0.9v0.9h-0.9zM115.8 576.8h0.9v0.9h-0.9zM114.7 572.0h0.9v0.9h-0.9zM114.3 564.6h0.9v0.9h-0.9zM108.0 587.4h0.9v0.9h-0.9zM102.2 584.7h0.9v0.9h-0.9zM100.6 578.0h0.9v0.9h-0.9zM105.1 579.3h0.9v0.9h-0.9zM102.2 583.1h0.9v0.9h-0.9zM109.6 588.1h0.9v0.9h-0.9zM113.0 567.3h0.9v0.9h-0.9zM114.8 576.3h0.9v0.9h-0.9zM101.1 567.7h0.9v0.9h-0.9zM101.3 575.7h0.9v0.9h-0.9zM100.7 591.1h0.9v0.9h-0.9zM111.7 588.4h0.9v0.9h-0.9zM101.8 583.2h0.9v0.9h-0.9zM111.6 578.0h0.9v0.9h-0.9zM106.6 571.1h0.9v0.9h-0.9zM108.5 582.8h0.9v0.9h-0.9zM114.8 572.1h0.9v0.9h-0.9zM103.7 584.6h0.9v0.9h-0.9zM102.3 565.7h0.9v0.9h-0.9zM112.4 571.2h0.9v0.9h-0.9zM114.8 580.1h0.9v0.9h-0.9zM109.5 577.0h0.9v0.9h-0.9zM110.3 574.0h0.9v0.9h-0.9zM98.5 579.7h0.9v0.9h-0.9zM105.0 584.1h0.9v0.9h-0.9zM99.2 573.2h0.9v0.9h-0.9zM109.5 591.1h0.9v0.9h-0.9zM100.8 584.6h0.9v0.9h-0.9zM110.8 567.4h0.9v0.9h-0.9zM100.6 578.7h0.9v0.9h-0.9zM108.2 589.8h0.9v0.9h-0.9zM111.4 566.1h0.9v0.9h-0.9zM116.2 576.4h0.9v0.9h-0.9zM103.4 591.2h0.9v0.9h-0.9zM111.6 585.0h0.9v0.9h-0.9zM107.8 572.9h0.9v0.9h-0.9zM114.0 570.2h0.9v0.9h-0.9zM104.8 578.7h0.9v0.9h-0.9zM100.0 580.3h0.9v0.9h-0.9zM107.8 570.9h0.9v0.9h-0.9zM113.4 567.3h0.9v0.9h-0.9zM116.4 576.9h0.9v0.9h-0.9zM98.0 582.3h0.9v0.9h-0.9zM107.5 590.3h0.9v0.9h-0.9zM114.9 574.9h0.9v0.9h-0.9zM103.2 587.7h0.9v0.9h-0.9zM103.6 584.9h0.9v0.9h-0.9zM112.0 579.1h0.9v0.9h-0.9zM114.3 575.4h0.9v0.9h-0.9zM98.9 585.1h0.9v0.9h-0.9zM107.2 590.8h0.9v0.9h-0.9zM102.6 567.5h0.9v0.9h-0.9zM98.7 567.5h0.9v0.9h-0.9zM100.9 584.0h0.9v0.9h-0.9zM105.0 573.3h0.9v0.9h-0.9zM112.0 580.7h0.9v0.9h-0.9zM104.7 580.0h0.9v0.9h-0.9zM100.9 583.0h0.9v0.9h-0.9zM110.4 591.0h0.9v0.9h-0.9zM105.0 583.0h0.9v0.9h-0.9zM99.6 581.6h0.9v0.9h-0.9zM113.7 585.6h0.9v0.9h-0.9zM98.8 588.6h0.9v0.9h-0.9zM112.8 573.2h0.9v0.9h-0.9zM114.9 577.6h0.9v0.9h-0.9zM101.0 579.9h0.9v0.9h-0.9zM117.1 578.2h0.9v0.9h-0.9zM111.6 575.9h0.9v0.9h-0.9zM109.6 570.6h0.9v0.9h-0.9zM116.1 576.9h0.9v0.9h-0.9zM101.6 590.4h0.9v0.9h-0.9zM116.5 577.6h0.9v0.9h-0.9zM112.0 586.6h0.9v0.9h-0.9zM101.0 571.8h0.9v0.9h-0.9zM102.4 565.0h0.9v0.9h-0.9zM111.5 583.6h0.9v0.9h-0.9zM102.5 576.7h0.9v0.9h-0.9zM109.1 581.0h0.9v0.9h-0.9zM115.7 572.5h0.9v0.9h-0.9zM114.0 587.3h0.9v0.9h-0.9zM102.7 582.9h0.9v0.9h-0.9zM106.8 580.7h0.9v0.9h-0.9zM105.2 572.1h0.9v0.9h-0.9zM100.9 572.1h0.9v0.9h-0.9zM103.8 581.3h0.9v0.9h-0.9zM105.1 570.1h0.9v0.9h-0.9zM105.8 573.3h0.9v0.9h-0.9zM115.3 574.7h0.9v0.9h-0.9zM108.8 589.3h0.9v0.9h-0.9zM100.2 582.1h0.9v0.9h-0.9zM102.7 580.7h0.9v0.9h-0.9zM112.0 578.8h0.9v0.9h-0.9zM111.5 573.6h0.9v0.9h-0.9zM115.1 569.5h0.9v0.9h-0.9zM113.6 578.9h0.9v0.9h-0.9zM113.5 587.1h0.9v0.9h-0.9zM111.7 584.6h0.9v0.9h-0.9zM115.1 589.2h0.9v0.9h-0.9zM116.5 585.4h0.9v0.9h-0.9zM115.8 574.4h0.9v0.9h-0.9zM100.1 572.3h0.9v0.9h-0.9zM111.2 569.3h0.9v0.9h-0.9zM97.7 576.4h0.9v0.9h-0.9zM114.8 584.9h0.9v0.9h-0.9zM101.3 583.1h0.9v0.9h-0.9zM111.6 579.9h0.9v0.9h-0.9zM99.0 588.5h0.9v0.9h-0.9zM100.4 586.3h0.9v0.9h-0.9zM114.2 565.0h0.9v0.9h-0.9zM112.9 569.1h0.9v0.9h-0.9zM101.3 575.6h0.9v0.9h-0.9zM109.7 575.0h0.9v0.9h-0.9zM108.2 580.7h0.9v0.9h-0.9zM108.0 577.8h0.9v0.9h-0.9zM110.0 579.4h0.9v0.9h-0.9zM104.9 573.1h0.9v0.9h-0.9zM110.1 572.0h0.9v0.9h-0.9zM99.8 572.0h0.9v0.9h-0.9zM109.1 586.1h0.9v0.9h-0.9zM98.7 574.7h0.9v0.9h-0.9zM100.0 569.1h0.9v0.9h-0.9zM99.9 579.2h0.9v0.9h-0.9zM107.7 584.8h0.9v0.9h-0.9zM98.8 571.2h0.9v0.9h-0.9zM107.1 573.2h0.9v0.9h-0.9zM108.9 569.5h0.9v0.9h-0.9zM109.4 588.8h0.9v0.9h-0.9zM101.7 586.9h0.9v0.9h-0.9zM104.6 575.9h0.9v0.9h-0.9zM110.3 586.6h0.9v0.9h-0.9zM116.3 565.0h0.9v0.9h-0.9zM103.2 576.4h0.9v0.9h-0.9zM111.3 582.2h0.9v0.9h-0.9zM105.9 577.4h0.9v0.9h-0.9zM106.1 582.5h0.9v0.9h-0.9zM98.6 589.8h0.9v0.9h-0.9zM104.8 586.7h0.9v0.9h-0.9zM114.3 579.9h0.9v0.9h-0.9zM99.6 571.9h0.9v0.9h-0.9zM103.9 573.2h0.9v0.9h-0.9zM101.2 586.4h0.9v0.9h-0.9zM116.1 564.3h0.9v0.9h-0.9zM114.9 569.7h0.9v0.9h-0.9zM105.5 567.7h0.9v0.9h-0.9zM104.1 589.8h0.9v0.9h-0.9zM115.4 583.7h0.9v0.9h-0.9zM98.1 577.9h0.9v0.9h-0.9zM108.6 577.2h0.9v0.9h-0.9zM101.8 586.1h0.9v0.9h-0.9zM109.7 581.4h0.9v0.9h-0.9zM108.0 566.6h0.9v0.9h-0.9zM112.2 569.3h0.9v0.9h-0.9zM101.7 582.4h0.9v0.9h-0.9zM108.4 577.1h0.9v0.9h-0.9zM103.9 589.3h0.9v0.9h-0.9zM112.6 589.9h0.9v0.9h-0.9zM104.3 581.8h0.9v0.9h-0.9zM111.2 568.8h0.9v0.9h-0.9zM110.4 585.0h0.9v0.9h-0.9zM99.2 582.1h0.9v0.9h-0.9zM105.3 568.0h0.9v0.9h-0.9zM115.2 588.1h0.9v0.9h-0.9zM103.9 573.8h0.9v0.9h-0.9zM97.7 582.3h0.9v0.9h-0.9zM104.8 571.2h0.9v0.9h-0.9zM111.1 565.6h0.9v0.9h-0.9zM115.2 572.2h0.9v0.9h-0.9zM98.8 576.1h0.9v0.9h-0.9zM101.0 584.8h0.9v0.9h-0.9zM108.4 573.5h0.9v0.9h-0.9zM112.3 577.0h0.9v0.9h-0.9zM110.6 581.9h0.9v0.9h-0.9zM111.2 585.8h0.9v0.9h-0.9zM107.9 569.7h0.9v0.9h-0.9zM105.5 571.6h0.9v0.9h-0.9zM107.0 590.1h0.9v0.9h-0.9zM111.2 572.0h0.9v0.9h-0.9zM110.5 588.3h0.9v0.9h-0.9zM104.0 570.1h0.9v0.9h-0.9zM109.6 589.9h0.9v0.9h-0.9zM107.7 568.2h0.9v0.9h-0.9zM108.6 578.8h0.9v0.9h-0.9zM109.0 578.0h0.9v0.9h-0.9zM103.1 583.7h0.9v0.9h-0.9zM107.1 569.1h0.9v0.9h-0.9zM107.9 579.9h0.9v0.9h-0.9zM112.8 582.1h0.9v0.9h-0.9zM115.7 579.3h0.9v0.9h-0.9zM109.7 575.4h0.9v0.9h-0.9zM105.6 571.3h0.9v0.9h-0.9zM109.3 581.7h0.9v0.9h-0.9zM107.9 585.8h0.9v0.9h-0.9zM110.3 580.0h0.9v0.9h-0.9zM104.2 570.9h0.9v0.9h-0.9zM116.4 570.3h0.9v0.9h-0.9zM117.0 570.4h0.9v0.9h-0.9zM107.3 582.1h0.9v0.9h-0.9zM105.7 586.2h0.9v0.9h-0.9zM115.0 577.0h0.9v0.9h-0.9zM114.1 582.3h0.9v0.9h-0.9zM101.9 566.0h0.9v0.9h-0.9zM105.5 588.1h0.9v0.9h-0.9zM100.1 573.4h0.9v0.9h-0.9zM98.3 574.8h0.9v0.9h-0.9zM108.1 586.3h0.9v0.9h-0.9zM112.8 590.7h0.9v0.9h-0.9zM115.1 563.7h0.9v0.9h-0.9zM114.0 567.6h0.9v0.9h-0.9zM109.8 585.1h0.9v0.9h-0.9zM102.8 581.5h0.9v0.9h-0.9zM115.0 565.3h0.9v0.9h-0.9zM110.6 581.9h0.9v0.9h-0.9zM103.5 585.0h0.9v0.9h-0.9zM102.0 581.3h0.9v0.9h-0.9zM99.2 587.2h0.9v0.9h-0.9zM104.9 571.1h0.9v0.9h-0.9zM116.1 586.2h0.9v0.9h-0.9zM103.6 589.9h0.9v0.9h-0.9zM100.6 586.0h0.9v0.9h-0.9zM101.7 572.2h0.9v0.9h-0.9zM99.5 580.0h0.9v0.9h-0.9zM116.8 566.6h0.9v0.9h-0.9zM102.9 581.4h0.9v0.9h-0.9zM115.2 585.3h0.9v0.9h-0.9zM109.5 569.1h0.9v0.9h-0.9zM102.4 571.3h0.9v0.9h-0.9zM107.2 588.5h0.9v0.9h-0.9zM103.7 580.3h0.9v0.9h-0.9zM110.6 567.2h0.9v0.9h-0.9zM99.5 567.1h0.9v0.9h-0.9zM102.9 575.9h0.9v0.9h-0.9zM106.7 567.0h0.9v0.9h-0.9zM108.7 584.0h0.9v0.9h-0.9zM116.3 581.7h0.9v0.9h-0.9zM114.4 564.8h0.9v0.9h-0.9zM106.5 570.0h0.9v0.9h-0.9zM100.5 587.0h0.9v0.9h-0.9zM107.5 578.4h0.9v0.9h-0.9zM105.3 567.3h0.9v0.9h-0.9zM115.6 564.4h0.9v0.9h-0.9zM102.8 581.3h0.9v0.9h-0.9zM110.4 577.2h0.9v0.9h-0.9zM107.7 582.8h0.9v0.9h-0.9zM103.2 579.7h0.9v0.9h-0.9zM114.0 587.6h0.9v0.9h-0.9zM105.0 576.9h0.9v0.9h-0.9zM114.7 578.3h0.9v0.9h-0.9zM104.5 586.6h0.9v0.9h-0.9zM99.1 584.2h0.9v0.9h-0.9zM102.5 569.4h0.9v0.9h-0.9zM116.1 583.1h0.9v0.9h-0.9zM106.5 587.5h0.9v0.9h-0.9zM111.6 585.7h0.9v0.9h-0.9zM102.5 573.6h0.9v0.9h-0.9zM108.5 585.3h0.9v0.9h-0.9zM102.7 585.2h0.9v0.9h-0.9zM102.5 569.1h0.9v0.9h-0.9zM101.6 568.0h0.9v0.9h-0.9zM104.0 577.3h0.9v0.9h-0.9zM104.8 576.9h0.9v0.9h-0.9zM100.6 588.2h0.9v0.9h-0.9zM107.6 569.3h0.9v0.9h-0.9zM106.1 582.0h0.9v0.9h-0.9zM112.6 586.0h0.9v0.9h-0.9zM115.1 565.2h0.9v0.9h-0.9zM110.5 569.1h0.9v0.9h-0.9zM105.9 580.6h0.9v0.9h-0.9zM116.5 569.3h0.9v0.9h-0.9zM114.7 565.3h0.9v0.9h-0.9zM115.0 569.6h0.9v0.9h-0.9zM109.7 578.6h0.9v0.9h-0.9zM116.5 567.0h0.9v0.9h-0.9zM106.8 581.1h0.9v0.9h-0.9zM111.1 568.0h0.9v0.9h-0.9zM101.8 572.5h0.9v0.9h-0.9zM114.5 569.3h0.9v0.9h-0.9zM116.5 576.0h0.9v0.9h-0.9zM108.8 581.9h0.9v0.9h-0.9zM99.8 578.4h0.9v0.9h-0.9zM110.3 567.0h0.9v0.9h-0.9zM105.7 572.4h0.9v0.9h-0.9zM112.3 571.4h0.9v0.9h-0.9zM103.9 578.1h0.9v0.9h-0.9zM107.2 574.7h0.9v0.9h-0.9zM101.3 567.6h0.9v0.9h-0.9zM108.6 570.2h0.9v0.9h-0.9zM114.9 585.9h0.9v0.9h-0.9zM115.8 586.0h0.9v0.9h-0.9zM107.0 574.5h0.9v0.9h-0.9zM111.3 568.5h0.9v0.9h-0.9zM107.4 567.0h0.9v0.9h-0.9zM99.3 585.2h0.9v0.9h-0.9zM115.9 583.3h0.9v0.9h-0.9zM109.8 580.1h0.9v0.9h-0.9zM107.8 580.4h0.9v0.9h-0.9zM108.9 577.7h0.9v0.9h-0.9zM99.8 582.6h0.9v0.9h-0.9zM108.6 579.1h0.9v0.9h-0.9zM115.9 576.9h0.9v0.9h-0.9zM99.8 569.9h0.9v0.9h-0.9zM110.9 574.9h0.9v0.9h-0.9zM101.4 582.3h0.9v0.9h-0.9zM112.0 585.4h0.9v0.9h-0.9zM117.6 575.6h0.9v0.9h-0.9zM99.1 566.6h0.9v0.9h-0.9zM103.1 573.9h0.9v0.9h-0.9zM99.3 587.2h0.9v0.9h-0.9zM99.0 581.7h0.9v0.9h-0.9zM116.7 580.3h0.9v0.9h-0.9zM101.6 574.9h0.9v0.9h-0.9zM103.3 579.1h0.9v0.9h-0.9zM101.2 576.9h0.9v0.9h-0.9zM109.0 569.8h0.9v0.9h-0.9zM114.5 590.9h0.9v0.9h-0.9zM113.3 573.7h0.9v0.9h-0.9zM111.9 578.6h0.9v0.9h-0.9zM108.6 578.2h0.9v0.9h-0.9zM109.0 578.9h0.9v0.9h-0.9zM113.7 575.7h0.9v0.9h-0.9zM103.3 571.0h0.9v0.9h-0.9zM102.6 587.6h0.9v0.9h-0.9zM113.0 566.4h0.9v0.9h-0.9zM112.0 573.8h0.9v0.9h-0.9zM114.4 586.2h0.9v0.9h-0.9zM102.2 578.1h0.9v0.9h-0.9zM113.3 581.8h0.9v0.9h-0.9zM111.9 565.5h0.9v0.9h-0.9zM106.9 587.9h0.9v0.9h-0.9zM113.2 579.1h0.9v0.9h-0.9zM114.7 589.7h0.9v0.9h-0.9zM115.8 583.3h0.9v0.9h-0.9zM109.5 587.3h0.9v0.9h-0.9zM103.5 575.1h0.9v0.9h-0.9zM99.9 585.8h0.9v0.9h-0.9zM113.8 575.7h0.9v0.9h-0.9zM105.7 577.8h0.9v0.9h-0.9zM102.1 590.6h0.9v0.9h-0.9zM99.2 579.4h0.9v0.9h-0.9zM112.8 580.8h0.9v0.9h-0.9zM105.9 570.0h0.9v0.9h-0.9zM102.5 589.4h0.9v0.9h-0.9zM113.3 568.8h0.9v0.9h-0.9zM106.8 588.0h0.9v0.9h-0.9zM108.0 584.7h0.9v0.9h-0.9zM102.7 581.3h0.9v0.9h-0.9zM113.2 569.3h0.9v0.9h-0.9zM102.1 570.4h0.9v0.9h-0.9zM101.1 587.0h0.9v0.9h-0.9zM108.0 572.7h0.9v0.9h-0.9zM109.5 586.4h0.9v0.9h-0.9zM106.7 579.3h0.9v0.9h-0.9zM98.8 586.5h0.9v0.9h-0.9zM109.2 571.1h0.9v0.9h-0.9zM102.4 579.4h0.9v0.9h-0.9zM115.9 570.5h0.9v0.9h-0.9zM100.8 574.8h0.9v0.9h-0.9zM104.9 579.9h0.9v0.9h-0.9zM106.3 580.4h0.9v0.9h-0.9zM116.9 580.4h0.9v0.9h-0.9zM115.4 563.8h0.9v0.9h-0.9zM106.7 570.0h0.9v0.9h-0.9zM106.2 577.5h0.9v0.9h-0.9zM108.2 583.2h0.9v0.9h-0.9zM110.2 565.9h0.9v0.9h-0.9zM108.3 585.9h0.9v0.9h-0.9zM116.2 586.0h0.9v0.9h-0.9zM115.9 579.4h0.9v0.9h-0.9zM116.9 574.0h0.9v0.9h-0.9zM117.1 568.1h0.9v0.9h-0.9zM109.0 587.1h0.9v0.9h-0.9zM112.6 581.6h0.9v0.9h-0.9zM111.5 569.7h0.9v0.9h-0.9zM102.8 580.7h0.9v0.9h-0.9zM115.4 576.0h0.9v0.9h-0.9zM105.9 572.3h0.9v0.9h-0.9zM116.1 580.7h0.9v0.9h-0.9zM100.3 587.9h0.9v0.9h-0.9zM116.4 587.2h0.9v0.9h-0.9zM110.8 582.3h0.9v0.9h-0.9zM113.9 570.2h0.9v0.9h-0.9zM115.3 568.0h0.9v0.9h-0.9zM111.6 589.8h0.9v0.9h-0.9zM100.3 567.5h0.9v0.9h-0.9zM110.1 567.9h0.9v0.9h-0.9zM108.0 574.8h0.9v0.9h-0.9zM101.5 582.6h0.9v0.9h-0.9zM108.3 571.1h0.9v0.9h-0.9zM107.2 575.7h0.9v0.9h-0.9zM104.3 576.3h0.9v0.9h-0.9zM111.3 574.4h0.9v0.9h-0.9zM98.4 587.4h0.9v0.9h-0.9zM110.1 579.1h0.9v0.9h-0.9zM112.2 582.7h0.9v0.9h-0.9zM114.1 589.4h0.9v0.9h-0.9zM115.7 579.0h0.9v0.9h-0.9zM109.4 589.2h0.9v0.9h-0.9zM103.7 565.9h0.9v0.9h-0.9zM115.3 577.8h0.9v0.9h-0.9zM116.6 579.6h0.9v0.9h-0.9zM112.2 579.8h0.9v0.9h-0.9zM100.9 573.0h0.9v0.9h-0.9zM115.2 581.1h0.9v0.9h-0.9zM102.1 570.7h0.9v0.9h-0.9zM101.6 579.7h0.9v0.9h-0.9zM100.0 582.8h0.9v0.9h-0.9zM110.0 590.9h0.9v0.9h-0.9zM111.9 586.2h0.9v0.9h-0.9zM101.1 582.9h0.9v0.9h-0.9zM111.1 568.2h0.9v0.9h-0.9zM102.7 583.8h0.9v0.9h-0.9zM104.7 566.9h0.9v0.9h-0.9zM111.3 584.5h0.9v0.9h-0.9zM108.9 575.9h0.9v0.9h-0.9zM109.4 573.7h0.9v0.9h-0.9zM113.5 584.8h0.9v0.9h-0.9zM111.4 569.8h0.9v0.9h-0.9zM114.2 569.6h0.9v0.9h-0.9zM105.3 581.6h0.9v0.9h-0.9zM110.6 578.2h0.9v0.9h-0.9zM107.3 582.5h0.9v0.9h-0.9zM99.6 571.7h0.9v0.9h-0.9zM111.3 586.0h0.9v0.9h-0.9zM101.5 569.1h0.9v0.9h-0.9zM111.4 580.4h0.9v0.9h-0.9zM106.9 587.9h0.9v0.9h-0.9zM111.2 576.7h0.9v0.9h-0.9zM105.3 584.2h0.9v0.9h-0.9zM101.5 572.9h0.9v0.9h-0.9zM104.3 576.0h0.9v0.9h-0.9zM106.5 588.1h0.9v0.9h-0.9zM110.3 566.1h0.9v0.9h-0.9zM103.8 579.8h0.9v0.9h-0.9zM107.9 581.2h0.9v0.9h-0.9zM100.5 568.1h0.9v0.9h-0.9zM110.0 572.2h0.9v0.9h-0.9zM103.9 568.3h0.9v0.9h-0.9zM102.0 570.8h0.9v0.9h-0.9zM114.9 573.9h0.9v0.9h-0.9zM101.7 590.0h0.9v0.9h-0.9zM109.5 574.8h0.9v0.9h-0.9zM99.2 585.0h0.9v0.9h-0.9zM100.9 582.3h0.9v0.9h-0.9zM116.7 580.8h0.9v0.9h-0.9zM107.7 588.6h0.9v0.9h-0.9zM111.8 584.6h0.9v0.9h-0.9zM103.0 569.5h0.9v0.9h-0.9zM108.3 586.8h0.9v0.9h-0.9zM111.7 587.9h0.9v0.9h-0.9zM115.0 588.6h0.9v0.9h-0.9zM103.9 587.2h0.9v0.9h-0.9zM116.2 578.0h0.9v0.9h-0.9zM105.4 578.3h0.9v0.9h-0.9zM103.6 584.6h0.9v0.9h-0.9zM102.4 581.1h0.9v0.9h-0.9zM111.0 584.8h0.9v0.9h-0.9zM100.8 572.6h0.9v0.9h-0.9zM112.9 581.2h0.9v0.9h-0.9zM101.5 570.7h0.9v0.9h-0.9zM112.4 587.4h0.9v0.9h-0.9zM111.5 589.7h0.9v0.9h-0.9zM111.0 573.0h0.9v0.9h-0.9zM113.5 588.0h0.9v0.9h-0.9zM111.1 578.3h0.9v0.9h-0.9zM115.3 583.3h0.9v0.9h-0.9zM107.3 583.3h0.9v0.9h-0.9zM116.0 575.6h0.9v0.9h-0.9zM106.2 574.5h0.9v0.9h-0.9zM99.5 588.0h0.9v0.9h-0.9zM105.2 573.0h0.9v0.9h-0.9zM108.6 585.0h0.9v0.9h-0.9zM107.0 588.3h0.9v0.9h-0.9zM98.4 589.7h0.9v0.9h-0.9zM105.2 585.7h0.9v0.9h-0.9zM108.8 568.1h0.9v0.9h-0.9zM116.0 574.3h0.9v0.9h-0.9zM110.5 581.4h0.9v0.9h-0.9zM111.3 572.4h0.9v0.9h-0.9zM100.0 579.5h0.9v0.9h-0.9zM109.7 574.1h0.9v0.9h-0.9zM101.1 575.1h0.9v0.9h-0.9zM101.6 583.0h0.9v0.9h-0.9zM104.8 572.7h0.9v0.9h-0.9zM114.4 590.5h0.9v0.9h-0.9zM113.4 567.3h0.9v0.9h-0.9zM103.3 589.7h0.9v0.9h-0.9zM116.0 586.9h0.9v0.9h-0.9zM100.9 581.0h0.9v0.9h-0.9zM114.1 573.4h0.9v0.9h-0.9zM112.9 570.5h0.9v0.9h-0.9zM105.7 576.9h0.9v0.9h-0.9zM108.5 590.1h0.9v0.9h-0.9zM110.8 589.7h0.9v0.9h-0.9zM107.1 584.0h0.9v0.9h-0.9zM110.4 576.6h0.9v0.9h-0.9zM107.0 579.5h0.9v0.9h-0.9zM100.4 586.2h0.9v0.9h-0.9zM104.1 585.9h0.9v0.9h-0.9zM109.9 588.7h0.9v0.9h-0.9zM103.1 582.6h0.9v0.9h-0.9zM103.2 578.6h0.9v0.9h-0.9zM116.5 577.7h0.9v0.9h-0.9zM100.5 569.8h0.9v0.9h-0.9zM101.7 567.6h0.9v0.9h-0.9zM112.3 588.7h0.9v0.9h-0.9zM101.4 584.4h0.9v0.9h-0.9zM104.3 570.2h0.9v0.9h-0.9zM104.7 580.0h0.9v0.9h-0.9zM107.3 586.5h0.9v0.9h-0.9zM112.8 576.0h0.9v0.9h-0.9zM101.2 570.4h0.9v0.9h-0.9zM105.5 585.2h0.9v0.9h-0.9zM103.2 585.1h0.9v0.9h-0.9zM114.6 566.2h0.9v0.9h-0.9zM114.1 566.4h0.9v0.9h-0.9zM105.4 579.7h0.9v0.9h-0.9zM117.1 564.2h0.9v0.9h-0.9zM102.6 578.3h0.9v0.9h-0.9zM112.3 578.7h0.9v0.9h-0.9zM104.4 581.0h0.9v0.9h-0.9zM109.6 587.4h0.9v0.9h-0.9zM109.9 574.6h0.9v0.9h-0.9zM115.9 574.8h0.9v0.9h-0.9zM101.2 581.5h0.9v0.9h-0.9zM108.1 578.6h0.9v0.9h-0.9zM111.5 570.7h0.9v0.9h-0.9zM98.3 571.3h0.9v0.9h-0.9zM108.9 569.0h0.9v0.9h-0.9zM113.1 580.2h0.9v0.9h-0.9zM106.1 579.3h0.9v0.9h-0.9zM101.3 580.6h0.9v0.9h-0.9zM109.5 581.8h0.9v0.9h-0.9zM106.9 568.8h0.9v0.9h-0.9zM106.2 587.2h0.9v0.9h-0.9zM115.3 582.4h0.9v0.9h-0.9zM105.8 587.8h0.9v0.9h-0.9zM105.2 571.7h0.9v0.9h-0.9zM100.2 574.0h0.9v0.9h-0.9zM107.4 571.2h0.9v0.9h-0.9zM116.1 576.0h0.9v0.9h-0.9zM112.6 590.8h0.9v0.9h-0.9zM107.2 588.8h0.9v0.9h-0.9zM105.2 575.3h0.9v0.9h-0.9zM115.2 564.3h0.9v0.9h-0.9zM113.4 582.2h0.9v0.9h-0.9zM101.5 567.5h0.9v0.9h-0.9z" fill="#000"/>
<path d="M96.1 568.2h0.9v0.9h-0.9zM97.7 574.8h0.9v0.9h-0.9zM96.1 568.1h0.9v0.9h-0.9zM96.1 586.3h0.9v0.9h-0.9zM96.0 572.6h0.9v0.9h-0.9zM94.7 590.3h0.9v0.9h-0.9zM99.2 582.4h0.9v0.9h-0.9zM94.6 588.8h0.9v0.9h-0.9zM98.7 586.2h0.9v0.9h-0.9zM97.0 569.9h0.9v0.9h-0.9zM93.1 585.2h0.9v0.9h-0.9zM94.2 577.8h0.9v0.9h-0.9zM97.9 584.6h0.9v0.9h-0.9zM95.1 574.9h0.9v0.9h-0.9zM96.9 578.7h0.9v0.9h-0.9zM98.2 570.3h0.9v0.9h-0.9zM99.1 585.1h0.9v0.9h-0.9zM97.5 588.7h0.9v0.9h-0.9zM94.5 580.1h0.9v0.9h-0.9zM95.9 585.6h0.9v0.9h-0.9zM95.7 575.4h0.9v0.9h-0.9zM98.3 589.0h0.9v0.9h-0.9zM93.3 580.7h0.9v0.9h-0.9zM94.7 583.0h0.9v0.9h-0.9zM98.8 586.2h0.9v0.9h-0.9zM96.3 587.8h0.9v0.9h-0.9zM96.4 586.6h0.9v0.9h-0.9zM97.7 583.5h0.9v0.9h-0.9zM96.4 590.6h0.9v0.9h-0.9zM94.9 585.0h0.9v0.9h-0.9zM95.9 572.1h0.9v0.9h-0.9zM96.9 573.0h0.9v0.9h-0.9zM97.3 573.5h0.9v0.9h-0.9zM97.1 589.2h0.9v0.9h-0.9zM95.0 588.1h0.9v0.9h-0.9zM100.3 582.7h0.9v0.9h-0.9zM97.2 573.7h0.9v0.9h-0.9zM94.1 570.9h0.9v0.9h-0.9zM94.9 586.8h0.9v0.9h-0.9zM95.1 588.1h0.9v0.9h-0.9zM96.0 585.4h0.9v0.9h-0.9zM94.5 590.1h0.9v0.9h-0.9zM96.3 575.9h0.9v0.9h-0.9zM99.2 573.5h0.9v0.9h-0.9zM97.7 575.3h0.9v0.9h-0.9zM97.5 587.3h0.9v0.9h-0.9zM94.4 588.5h0.9v0.9h-0.9zM94.3 580.6h0.9v0.9h-0.9zM97.9 585.4h0.9v0.9h-0.9zM95.1 576.5h0.9v0.9h-0.9zM97.4 571.8h0.9v0.9h-0.9zM95.4 569.1h0.9v0.9h-0.9zM93.6 588.1h0.9v0.9h-0.9zM94.5 576.4h0.9v0.9h-0.9zM95.2 584.6h0.9v0.9h-0.9zM93.6 581.4h0.9v0.9h-0.9zM96.6 586.2h0.9v0.9h-0.9zM96.9 587.5h0.9v0.9h-0.9zM98.1 569.9h0.9v0.9h-0.9zM93.8 578.1h0.9v0.9h-0.9zM95.2 584.2h0.9v0.9h-0.9zM95.6 569.8h0.9v0.9h-0.9zM96.7 579.6h0.9v0.9h-0.9zM93.8 590.6h0.9v0.9h-0.9zM93.9 586.3h0.9v0.9h-0.9zM97.7 581.8h0.9v0.9h-0.9zM93.5 571.2h0.9v0.9h-0.9zM96.4 585.9h0.9v0.9h-0.9zM96.3 589.6h0.9v0.9h-0.9zM95.1 574.0h0.9v0.9h-0.9zM98.2 584.6h0.9v0.9h-0.9zM96.7 590.2h0.9v0.9h-0.9zM99.3 588.6h0.9v0.9h-0.9zM93.4 571.9h0.9v0.9h-0.9zM96.6 587.3h0.9v0.9h-0.9zM96.2 585.1h0.9v0.9h-0.9zM99.8 572.8h0.9v0.9h-0.9zM98.6 566.9h0.9v0.9h-0.9zM98.3 584.4h0.9v0.9h-0.9zM96.6 576.6h0.9v0.9h-0.9zM94.1 574.3h0.9v0.9h-0.9zM94.9 574.4h0.9v0.9h-0.9zM93.7 584.0h0.9v0.9h-0.9zM97.9 582.4h0.9v0.9h-0.9zM97.9 578.0h0.9v0.9h-0.9zM92.9 578.7h0.9v0.9h-0.9zM93.8 589.1h0.9v0.9h-0.9zM92.8 574.6h0.9v0.9h-0.9zM92.9 587.4h0.9v0.9h-0.9zM93.5 572.3h0.9v0.9h-0.9zM95.6 575.0h0.9v0.9h-0.9zM98.7 570.3h0.9v0.9h-0.9zM98.6 576.9h0.9v0.9h-0.9zM95.6 574.3h0.9v0.9h-0.9zM99.1 589.1h0.9v0.9h-0.9zM98.4 576.4h0.9v0.9h-0.9zM97.0 577.3h0.9v0.9h-0.9zM98.4 572.9h0.9v0.9h-0.9zM99.2 584.0h0.9v0.9h-0.9zM92.9 567.2h0.9v0.9h-0.9zM97.6 569.0h0.9v0.9h-0.9zM95.2 583.6h0.9v0.9h-0.9zM94.4 584.3h0.9v0.9h-0.9zM97.8 585.2h0.9v0.9h-0.9zM93.6 585.0h0.9v0.9h-0.9zM96.6 579.3h0.9v0.9h-0.9zM97.8 576.3h0.9v0.9h-0.9zM96.4 583.5h0.9v0.9h-0.9zM94.1 568.6h0.9v0.9h-0.9zM97.9 579.2h0.9v0.9h-0.9zM93.1 579.8h0.9v0.9h-0.9zM97.8 581.7h0.9v0.9h-0.9zM93.7 585.9h0.9v0.9h-0.9zM96.6 579.8h0.9v0.9h-0.9zM95.3 584.2h0.9v0.9h-0.9zM92.5 574.3h0.9v0.9h-0.9zM96.9 589.0h0.9v0.9h-0.9zM95.7 583.7h0.9v0.9h-0.9zM94.7 588.8h0.9v0.9h-0.9zM98.4 583.6h0.9v0.9h-0.9zM93.7 572.5h0.9v0.9h-0.9zM96.7 578.4h0.9v0.9h-0.9zM96.3 581.8h0.9v0.9h-0.9zM95.4 579.7h0.9v0.9h-0.9zM94.8 586.4h0.9v0.9h-0.9zM94.6 570.4h0.9v0.9h-0.9zM99.4 570.5h0.9v0.9h-0.9zM95.5 579.2h0.9v0.9h-0.9zM93.9 577.5h0.9v0.9h-0.9zM96.4 580.4h0.9v0.9h-0.9zM93.0 580.9h0.9v0.9h-0.9zM95.5 568.9h0.9v0.9h-0.9zM95.3 582.9h0.9v0.9h-0.9zM95.3 590.2h0.9v0.9h-0.9zM93.9 575.2h0.9v0.9h-0.9zM95.1 577.4h0.9v0.9h-0.9zM98.6 572.1h0.9v0.9h-0.9zM97.0 588.6h0.9v0.9h-0.9zM94.6 574.3h0.9v0.9h-0.9zM97.9 568.9h0.9v0.9h-0.9zM96.8 573.1h0.9v0.9h-0.9zM94.6 569.4h0.9v0.9h-0.9zM94.3 575.0h0.9v0.9h-0.9zM93.6 586.8h0.9v0.9h-0.9zM93.6 582.0h0.9v0.9h-0.9zM99.1 579.1h0.9v0.9h-0.9zM92.1 575.6h0.9v0.9h-0.9zM94.2 588.6h0.9v0.9h-0.9zM93.6 574.7h0.9v0.9h-0.9zM97.6 576.4h0.9v0.9h-0.9zM95.8 579.0h0.9v0.9h-0.9zM92.8 587.1h0.9v0.9h-0.9zM98.3 588.4h0.9v0.9h-0.9zM96.6 584.5h0.9v0.9h-0.9zM96.9 573.2h0.9v0.9h-0.9zM97.8 586.9h0.9v0.9h-0.9zM97.7 576.0h0.9v0.9h-0.9zM95.5 582.0h0.9v0.9h-0.9zM99.9 577.6h0.9v0.9h-0.9zM93.5 578.2h0.9v0.9h-0.9zM95.0 566.6h0.9v0.9h-0.9zM97.9 585.2h0.9v0.9h-0.9zM98.2 580.6h0.9v0.9h-0.9zM95.1 587.1h0.9v0.9h-0.9zM94.6 590.6h0.9v0.9h-0.9zM97.6 582.0h0.9v0.9h-0.9zM95.5 584.6h0.9v0.9h-0.9zM95.3 576.0h0.9v0.9h-0.9zM96.8 586.5h0.9v0.9h-0.9zM98.0 587.0h0.9v0.9h-0.9zM97.9 578.6h0.9v0.9h-0.9zM95.8 571.4h0.9v0.9h-0.9zM96.3 587.8h0.9v0.9h-0.9zM93.5 587.9h0.9v0.9h-0.9zM97.2 571.2h0.9v0.9h-0.9zM98.7 590.4h0.9v0.9h-0.9zM97.5 573.9h0.9v0.9h-0.9zM95.6 582.6h0.9v0.9h-0.9zM95.6 570.0h0.9v0.9h-0.9zM91.9 589.5h0.9v0.9h-0.9zM97.3 586.3h0.9v0.9h-0.9zM96.9 584.8h0.9v0.9h-0.9zM93.3 583.5h0.9v0.9h-0.9zM94.1 569.4h0.9v0.9h-0.9zM94.0 586.3h0.9v0.9h-0.9zM96.4 586.0h0.9v0.9h-0.9zM95.3 583.1h0.9v0.9h-0.9zM98.6 568.2h0.9v0.9h-0.9zM94.2 583.9h0.9v0.9h-0.9zM98.1 583.0h0.9v0.9h-0.9zM95.5 573.7h0.9v0.9h-0.9zM93.2 567.4h0.9v0.9h-0.9zM96.4 576.2h0.9v0.9h-0.9zM97.5 586.1h0.9v0.9h-0.9zM98.1 567.9h0.9v0.9h-0.9zM96.1 580.4h0.9v0.9h-0.9zM96.5 571.3h0.9v0.9h-0.9zM95.2 578.5h0.9v0.9h-0.9zM99.0 581.0h0.9v0.9h-0.9zM94.7 573.3h0.9v0.9h-0.9zM96.8 582.3h0.9v0.9h-0.9zM96.7 575.6h0.9v0.9h-0.9zM97.9 582.4h0.9v0.9h-0.9zM98.5 582.8h0.9v0.9h-0.9zM97.0 583.3h0.9v0.9h-0.9zM99.4 571.6h0.9v0.9h-0.9zM96.8 585.2h0.9v0.9h-0.9zM93.9 584.5h0.9v0.9h-0.9zM98.9 572.4h0.9v0.9h-0.9zM97.4 576.5h0.9v0.9h-0.9zM97.8 583.4h0.9v0.9h-0.9zM95.1 572.3h0.9v0.9h-0.9zM95.2 574.8h0.9v0.9h-0.9zM97.7 585.7h0.9v0.9h-0.9zM94.2 579.7h0.9v0.9h-0.9zM98.7 585.8h0.9v0.9h-0.9zM97.8 569.4h0.9v0.9h-0.9zM97.3 583.7h0.9v0.9h-0.9zM99.0 572.0h0.9v0.9h-0.9zM94.8 590.3h0.9v0.9h-0.9zM95.5 587.8h0.9v0.9h-0.9zM94.6 581.9h0.9v0.9h-0.9zM98.9 583.3h0.9v0.9h-0.9zM95.1 570.2h0.9v0.9h-0.9zM93.6 575.8h0.9v0.9h-0.9zM95.9 588.9h0.9v0.9h-0.9zM98.9 582.3h0.9v0.9h-0.9zM98.4 570.7h0.9v0.9h-0.9zM98.2 586.2h0.9v0.9h-0.9zM92.9 589.8h0.9v0.9h-0.9zM93.1 573.2h0.9v0.9h-0.9zM98.9 590.9h0.9v0.9h-0.9zM96.5 572.2h0.9v0.9h-0.9zM93.0 578.5h0.9v0.9h-0.9zM96.2 587.7h0.9v0.9h-0.9zM95.9 587.8h0.9v0.9h-0.9zM96.2 579.8h0.9v0.9h-0.9zM96.4 581.2h0.9v0.9h-0.9zM96.0 575.9h0.9v0.9h-0.9zM95.5 578.0h0.9v0.9h-0.9zM94.0 571.3h0.9v0.9h-0.9zM97.6 569.9h0.9v0.9h-0.9zM97.3 588.9h0.9v0.9h-0.9zM92.5 589.3h0.9v0.9h-0.9zM95.0 580.7h0.9v0.9h-0.9zM96.3 575.0h0.9v0.9h-0.9zM95.4 585.5h0.9v0.9h-0.9zM94.4 570.5h0.9v0.9h-0.9zM96.5 570.5h0.9v0.9h-0.9zM94.9 589.9h0.9v0.9h-0.9zM98.2 575.1h0.9v0.9h-0.9zM95.2 575.2h0.9v0.9h-0.9zM95.4 569.9h0.9v0.9h-0.9zM98.9 573.1h0.9v0.9h-0.9zM94.6 572.7h0.9v0.9h-0.9zM98.1 570.2h0.9v0.9h-0.9zM97.6 574.6h0.9v0.9h-0.9zM93.5 578.4h0.9v0.9h-0.9zM98.1 582.0h0.9v0.9h-0.9zM96.3 582.7h0.9v0.9h-0.9zM97.5 585.1h0.9v0.9h-0.9zM93.4 579.4h0.9v0.9h-0.9zM93.8 581.9h0.9v0.9h-0.9zM97.5 569.4h0.9v0.9h-0.9zM95.4 589.9h0.9v0.9h-0.9zM95.7 587.4h0.9v0.9h-0.9zM98.9 571.2h0.9v0.9h-0.9zM96.8 575.6h0.9v0.9h-0.9zM96.7 574.5h0.9v0.9h-0.9zM97.9 586.8h0.9v0.9h-0.9zM95.2 586.9h0.9v0.9h-0.9zM99.0 585.6h0.9v0.9h-0.9zM98.1 586.2h0.9v0.9h-0.9zM93.5 588.6h0.9v0.9h-0.9zM99.5 569.3h0.9v0.9h-0.9zM95.9 579.8h0.9v0.9h-0.9zM93.9 578.4h0.9v0.9h-0.9zM98.8 571.9h0.9v0.9h-0.9zM95.8 587.7h0.9v0.9h-0.9zM92.4 569.1h0.9v0.9h-0.9zM99.3 578.2h0.9v0.9h-0.9zM97.2 569.2h0.9v0.9h-0.9zM95.0 568.7h0.9v0.9h-0.9zM94.0 584.5h0.9v0.9h-0.9zM98.3 584.5h0.9v0.9h-0.9zM99.8 591.2h0.9v0.9h-0.9zM96.6 590.5h0.9v0.9h-0.9zM96.9 579.6h0.9v0.9h-0.9zM96.1 570.2h0.9v0.9h-0.9zM92.8 573.3h0.9v0.9h-0.9zM95.0 581.1h0.9v0.9h-0.9zM95.9 572.2h0.9v0.9h-0.9zM94.5 587.4h0.9v0.9h-0.9zM97.9 570.6h0.9v0.9h-0.9zM99.3 570.3h0.9v0.9h-0.9zM96.1 590.6h0.9v0.9h-0.9zM96.8 576.2h0.9v0.9h-0.9zM94.0 579.5h0.9v0.9h-0.9zM99.8 581.4h0.9v0.9h-0.9zM96.0 580.2h0.9v0.9h-0.9zM92.9 580.2h0.9v0.9h-0.9zM95.7 571.5h0.9v0.9h-0.9zM93.5 582.3h0.9v0.9h-0.9zM98.5 572.0h0.9v0.9h-0.9zM95.2 589.1h0.9v0.9h-0.9zM95.7 578.5h0.9v0.9h-0.9zM96.7 573.4h0.9v0.9h-0.9zM95.3 569.5h0.9v0.9h-0.9zM97.5 579.0h0.9v0.9h-0.9zM98.4 573.9h0.9v0.9h-0.9zM95.6 576.0h0.9v0.9h-0.9zM99.4 586.3h0.9v0.9h-0.9zM98.3 580.5h0.9v0.9h-0.9zM93.7 573.9h0.9v0.9h-0.9zM98.3 585.7h0.9v0.9h-0.9zM98.1 583.6h0.9v0.9h-0.9zM93.2 591.0h0.9v0.9h-0.9zM94.8 570.7h0.9v0.9h-0.9zM97.0 576.6h0.9v0.9h-0.9zM97.3 572.1h0.9v0.9h-0.9z" fill="#111"/>
<path d="M112.0 560.5h0.9v0.9h-0.9zM112.9 563.5h0.9v0.9h-0.9zM100.0 563.0h0.9v0.9h-0.9zM96.8 559.2h0.9v0.9h-0.9zM99.3 564.1h0.9v0.9h-0.9zM105.4 562.6h0.9v0.9h-0.9zM96.5 564.0h0.9v0.9h-0.9zM113.4 561.9h0.9v0.9h-0.9zM101.4 562.4h0.9v0.9h-0.9zM111.9 562.0h0.9v0.9h-0.9zM98.6 560.0h0.9v0.9h-0.9zM113.9 565.4h0.9v0.9h-0.9zM101.0 562.6h0.9v0.9h-0.9zM95.1 566.3h0.9v0.9h-0.9zM108.7 563.4h0.9v0.9h-0.9zM102.9 566.6h0.9v0.9h-0.9zM98.4 562.6h0.9v0.9h-0.9zM104.6 563.1h0.9v0.9h-0.9zM96.1 559.3h0.9v0.9h-0.9zM106.1 562.7h0.9v0.9h-0.9zM115.0 559.9h0.9v0.9h-0.9zM112.7 562.2h0.9v0.9h-0.9zM113.3 564.0h0.9v0.9h-0.9zM112.2 565.6h0.9v0.9h-0.9zM106.3 561.7h0.9v0.9h-0.9zM111.0 562.9h0.9v0.9h-0.9zM115.7 559.8h0.9v0.9h-0.9zM112.7 561.4h0.9v0.9h-0.9zM105.9 561.1h0.9v0.9h-0.9zM101.0 559.5h0.9v0.9h-0.9zM108.7 563.4h0.9v0.9h-0.9zM104.8 563.3h0.9v0.9h-0.9zM114.3 563.4h0.9v0.9h-0.9zM96.7 560.3h0.9v0.9h-0.9zM111.5 563.2h0.9v0.9h-0.9zM102.0 558.6h0.9v0.9h-0.9zM106.7 561.8h0.9v0.9h-0.9zM114.7 563.1h0.9v0.9h-0.9zM94.7 561.9h0.9v0.9h-0.9zM109.5 564.9h0.9v0.9h-0.9zM109.5 563.2h0.9v0.9h-0.9zM101.1 560.9h0.9v0.9h-0.9zM98.5 559.6h0.9v0.9h-0.9zM100.4 559.9h0.9v0.9h-0.9zM99.6 560.6h0.9v0.9h-0.9zM107.8 560.9h0.9v0.9h-0.9zM111.6 565.1h0.9v0.9h-0.9zM108.2 563.8h0.9v0.9h-0.9zM110.5 561.6h0.9v0.9h-0.9zM108.5 561.0h0.9v0.9h-0.9zM104.6 560.9h0.9v0.9h-0.9zM95.8 560.9h0.9v0.9h-0.9zM112.5 562.5h0.9v0.9h-0.9zM95.4 564.0h0.9v0.9h-0.9zM96.8 561.9h0.9v0.9h-0.9zM97.7 563.1h0.9v0.9h-0.9zM114.3 561.2h0.9v0.9h-0.9zM110.6 561.4h0.9v0.9h-0.9zM96.5 565.1h0.9v0.9h-0.9zM100.4 559.8h0.9v0.9h-0.9zM98.6 563.4h0.9v0.9h-0.9zM101.2 564.0h0.9v0.9h-0.9zM107.5 560.9h0.9v0.9h-0.9zM99.3 560.8h0.9v0.9h-0.9zM114.5 564.2h0.9v0.9h-0.9zM100.8 560.4h0.9v0.9h-0.9zM110.2 564.3h0.9v0.9h-0.9zM107.7 561.9h0.9v0.9h-0.9zM97.2 561.3h0.9v0.9h-0.9zM99.1 564.3h0.9v0.9h-0.9zM114.0 559.6h0.9v0.9h-0.9zM102.8 559.5h0.9v0.9h-0.9zM112.0 564.5h0.9v0.9h-0.9zM109.9 564.0h0.9v0.9h-0.9zM105.0 562.7h0.9v0.9h-0.9zM115.6 562.6h0.9v0.9h-0.9zM105.9 560.4h0.9v0.9h-0.9zM115.2 563.7h0.9v0.9h-0.9zM107.1 565.4h0.9v0.9h-0.9zM113.6 562.2h0.9v0.9h-0.9zM104.9 564.0h0.9v0.9h-0.9zM106.4 563.3h0.9v0.9h-0.9zM99.2 564.1h0.9v0.9h-0.9zM100.9 564.1h0.9v0.9h-0.9zM107.3 561.2h0.9v0.9h-0.9zM102.9 561.2h0.9v0.9h-0.9zM104.5 563.5h0.9v0.9h-0.9zM105.8 563.8h0.9v0.9h-0.9zM111.6 564.6h0.9v0.9h-0.9zM96.9 564.8h0.9v0.9h-0.9z" fill="#333"/>
<path d="M93.7 577.7h0.9v0.9h-0.9zM89.7 572.2h0.9v0.9h-0.9zM88.8 577.4h0.9v0.9h-0.9zM93.8 570.6h0.9v0.9h-0.9zM88.7 574.6h0.9v0.9h-0.9zM90.6 575.3h0.9v0.9h-0.9zM95.3 590.0h0.9v0.9h-0.9zM89.7 568.6h0.9v0.9h-0.9zM90.0 571.6h0.9v0.9h-0.9zM88.8 588.6h0.9v0.9h-0.9zM91.3 577.4h0.9v0.9h-0.9zM94.0 581.3h0.9v0.9h-0.9zM91.8 585.9h0.9v0.9h-0.9zM90.9 575.6h0.9v0.9h-0.9zM89.3 579.8h0.9v0.9h-0.9zM90.7 580.8h0.9v0.9h-0.9zM92.4 568.4h0.9v0.9h-0.9zM88.1 576.5h0.9v0.9h-0.9zM95.1 571.0h0.9v0.9h-0.9zM90.2 583.7h0.9v0.9h-0.9zM88.3 587.1h0.9v0.9h-0.9zM91.5 572.6h0.9v0.9h-0.9zM89.4 578.6h0.9v0.9h-0.9zM88.8 578.4h0.9v0.9h-0.9zM87.6 580.8h0.9v0.9h-0.9zM90.1 588.2h0.9v0.9h-0.9zM90.9 575.5h0.9v0.9h-0.9zM87.9 576.2h0.9v0.9h-0.9zM87.5 590.3h0.9v0.9h-0.9zM93.7 583.3h0.9v0.9h-0.9zM94.1 570.3h0.9v0.9h-0.9zM90.3 572.3h0.9v0.9h-0.9zM93.4 590.5h0.9v0.9h-0.9zM92.7 588.8h0.9v0.9h-0.9zM92.3 590.8h0.9v0.9h-0.9zM89.8 589.9h0.9v0.9h-0.9zM92.7 570.8h0.9v0.9h-0.9zM90.7 585.0h0.9v0.9h-0.9zM93.6 585.2h0.9v0.9h-0.9zM93.7 585.4h0.9v0.9h-0.9zM87.2 579.0h0.9v0.9h-0.9zM91.3 586.8h0.9v0.9h-0.9zM88.2 578.1h0.9v0.9h-0.9zM93.9 567.9h0.9v0.9h-0.9zM88.7 569.9h0.9v0.9h-0.9zM95.0 574.9h0.9v0.9h-0.9zM94.6 570.8h0.9v0.9h-0.9zM93.2 589.6h0.9v0.9h-0.9zM91.1 589.1h0.9v0.9h-0.9zM88.6 588.4h0.9v0.9h-0.9z" fill="#444"/>
<path d="M101 567.5 L116.3 564.8 L116.3 591.8 L101 591.8 Z" fill="#000"/>
<text x="132.7" y="534.6" font-size="11" font-weight="bold" text-anchor="end" >5.6%</text>
<line x1="122.30" y1="544.60" x2="168.80" y2="521.30" stroke="#111" stroke-width="1.1"/>
<line x1="122.00" y1="572.30" x2="168.20" y2="596.40" stroke="#111" stroke-width="1.1"/>
<path d="M182.5 548.8v2.2M182.5 548.8h-2.2M189.2 548.8v1.3M182.5 543.5h-1.3M193.1 548.8v1.3M182.5 540.5h-1.3M195.9 548.8v1.3M182.5 538.3h-1.3M198.0 548.8v1.3M182.5 536.6h-1.3M199.8 548.8v1.3M182.5 535.2h-1.3M201.2 548.8v1.3M182.5 534.0h-1.3M202.5 548.8v1.3M182.5 533.0h-1.3M203.7 548.8v1.3M182.5 532.1h-1.3M204.7 548.8v2.2M182.5 531.3h-2.2M211.4 548.8v1.3M182.5 526.0h-1.3M215.3 548.8v1.3M182.5 523.0h-1.3M218.0 548.8v1.3M182.5 520.8h-1.3M220.2 548.8v1.3M182.5 519.1h-1.3M221.9 548.8v1.3M182.5 517.7h-1.3M223.4 548.8v1.3M182.5 516.5h-1.3M224.7 548.8v1.3M182.5 515.5h-1.3M225.8 548.8v1.3M182.5 514.6h-1.3M226.8 548.8v2.2M182.5 513.8h-2.2M233.5 548.8v1.3M182.5 508.5h-1.3M237.4 548.8v1.3M182.5 505.5h-1.3M240.2 548.8v1.3M182.5 503.3h-1.3M242.3 548.8v1.3M182.5 501.6h-1.3M244.1 548.8v1.3M182.5 500.2h-1.3M245.6 548.8v1.3M182.5 499.0h-1.3M246.9 548.8v1.3M182.5 498.0h-1.3M248.0 548.8v1.3M182.5 497.1h-1.3M249.0 548.8v2.2M182.5 496.3h-2.2M255.7 548.8v1.3M182.5 491.0h-1.3M259.6 548.8v1.3M182.5 488.0h-1.3M262.4 548.8v1.3M182.5 485.8h-1.3M264.5 548.8v1.3M182.5 484.1h-1.3M266.3 548.8v1.3M182.5 482.7h-1.3M267.8 548.8v1.3M182.5 481.5h-1.3M269.1 548.8v1.3M182.5 480.5h-1.3M270.2 548.8v1.3M182.5 479.6h-1.3M271.2 548.8v2.2M182.5 478.8h-2.2" stroke="#222" stroke-width="0.8" fill="none"/>
<rect x="182.5" y="478.8" width="88.7" height="70.0" fill="none" stroke="#111" stroke-width="1.1"/>
<line x1="231.20" y1="478.80" x2="231.20" y2="548.80" stroke="#111" stroke-width="1.1"/>
<line x1="182.50" y1="523.00" x2="271.20" y2="523.00" stroke="#111" stroke-width="1.1"/>
<text class="tk" x="183.1" y="559.0" font-size="7" text-anchor="middle">10<tspan font-size="5.4" dy="-2.8">0</tspan></text>
<text class="tk" transform="translate(177.1,548.8) rotate(-90)" font-size="7" text-anchor="middle">10<tspan font-size="5.4" dy="-2.8">0</tspan></text>
<text class="tk" x="205.3" y="559.0" font-size="7" text-anchor="middle">10<tspan font-size="5.4" dy="-2.8">1</tspan></text>
<text class="tk" transform="translate(177.1,531.3) rotate(-90)" font-size="7" text-anchor="middle">10<tspan font-size="5.4" dy="-2.8">1</tspan></text>
<text class="tk" x="227.4" y="559.0" font-size="7" text-anchor="middle">10<tspan font-size="5.4" dy="-2.8">2</tspan></text>
<text class="tk" transform="translate(177.1,513.8) rotate(-90)" font-size="7" text-anchor="middle">10<tspan font-size="5.4" dy="-2.8">2</tspan></text>
<text class="tk" x="249.6" y="559.0" font-size="7" text-anchor="middle">10<tspan font-size="5.4" dy="-2.8">3</tspan></text>
<text class="tk" transform="translate(177.1,496.3) rotate(-90)" font-size="7" text-anchor="middle">10<tspan font-size="5.4" dy="-2.8">3</tspan></text>
<text class="tk" x="271.8" y="559.0" font-size="7" text-anchor="middle">10<tspan font-size="5.4" dy="-2.8">4</tspan></text>
<text class="tk" transform="translate(177.1,478.8) rotate(-90)" font-size="7" text-anchor="middle">10<tspan font-size="5.4" dy="-2.8">4</tspan></text>
<path d="M196.9 523.1h0.9v0.9h-0.9zM216.5 528.3h0.9v0.9h-0.9zM214.0 530.6h0.9v0.9h-0.9zM204.9 520.8h0.9v0.9h-0.9zM214.1 528.5h0.9v0.9h-0.9zM217.0 530.7h0.9v0.9h-0.9zM200.0 525.4h0.9v0.9h-0.9zM207.6 529.7h0.9v0.9h-0.9zM201.6 516.8h0.9v0.9h-0.9zM214.4 521.5h0.9v0.9h-0.9zM213.1 533.9h0.9v0.9h-0.9zM216.2 532.8h0.9v0.9h-0.9zM217.3 521.0h0.9v0.9h-0.9zM206.7 531.3h0.9v0.9h-0.9zM219.8 526.3h0.9v0.9h-0.9zM201.5 526.9h0.9v0.9h-0.9zM220.4 530.8h0.9v0.9h-0.9zM200.6 525.2h0.9v0.9h-0.9zM214.0 533.6h0.9v0.9h-0.9zM214.8 536.7h0.9v0.9h-0.9zM211.8 531.2h0.9v0.9h-0.9zM212.5 533.8h0.9v0.9h-0.9zM210.5 533.3h0.9v0.9h-0.9zM215.1 525.9h0.9v0.9h-0.9zM213.8 528.8h0.9v0.9h-0.9zM211.3 528.1h0.9v0.9h-0.9zM212.0 529.9h0.9v0.9h-0.9zM202.3 523.9h0.9v0.9h-0.9zM210.8 524.5h0.9v0.9h-0.9zM200.4 539.1h0.9v0.9h-0.9zM209.4 521.8h0.9v0.9h-0.9zM215.9 529.7h0.9v0.9h-0.9zM213.3 528.8h0.9v0.9h-0.9zM208.5 530.6h0.9v0.9h-0.9zM201.5 530.4h0.9v0.9h-0.9zM216.4 532.8h0.9v0.9h-0.9zM214.9 529.1h0.9v0.9h-0.9zM218.0 532.7h0.9v0.9h-0.9zM197.9 525.6h0.9v0.9h-0.9zM201.7 526.0h0.9v0.9h-0.9zM222.0 525.1h0.9v0.9h-0.9zM216.0 523.1h0.9v0.9h-0.9zM200.4 523.2h0.9v0.9h-0.9zM209.1 525.2h0.9v0.9h-0.9zM195.9 524.7h0.9v0.9h-0.9zM210.5 526.4h0.9v0.9h-0.9zM202.5 520.4h0.9v0.9h-0.9zM205.8 532.4h0.9v0.9h-0.9zM217.3 540.0h0.9v0.9h-0.9zM209.7 525.2h0.9v0.9h-0.9zM203.7 532.3h0.9v0.9h-0.9zM206.9 526.4h0.9v0.9h-0.9zM202.0 528.1h0.9v0.9h-0.9zM214.3 524.0h0.9v0.9h-0.9zM213.0 526.8h0.9v0.9h-0.9zM213.6 523.6h0.9v0.9h-0.9zM206.1 524.0h0.9v0.9h-0.9zM210.2 525.7h0.9v0.9h-0.9zM202.3 527.6h0.9v0.9h-0.9zM216.1 532.3h0.9v0.9h-0.9zM210.6 527.2h0.9v0.9h-0.9zM218.4 523.4h0.9v0.9h-0.9zM225.6 533.1h0.9v0.9h-0.9zM212.8 530.4h0.9v0.9h-0.9zM221.4 521.1h0.9v0.9h-0.9zM205.1 529.0h0.9v0.9h-0.9zM208.8 532.2h0.9v0.9h-0.9zM212.7 524.1h0.9v0.9h-0.9zM202.9 536.7h0.9v0.9h-0.9zM205.1 522.4h0.9v0.9h-0.9zM205.2 526.1h0.9v0.9h-0.9zM214.0 527.7h0.9v0.9h-0.9zM200.8 536.6h0.9v0.9h-0.9zM220.1 528.7h0.9v0.9h-0.9zM199.9 530.7h0.9v0.9h-0.9zM213.1 527.7h0.9v0.9h-0.9zM216.7 537.1h0.9v0.9h-0.9zM209.3 527.8h0.9v0.9h-0.9zM211.9 529.6h0.9v0.9h-0.9zM209.4 536.5h0.9v0.9h-0.9zM217.1 534.8h0.9v0.9h-0.9zM202.3 531.4h0.9v0.9h-0.9zM208.3 519.9h0.9v0.9h-0.9zM219.8 521.0h0.9v0.9h-0.9zM203.0 517.2h0.9v0.9h-0.9zM203.1 530.4h0.9v0.9h-0.9zM219.7 533.5h0.9v0.9h-0.9zM212.5 533.2h0.9v0.9h-0.9zM208.2 528.2h0.9v0.9h-0.9zM209.6 524.0h0.9v0.9h-0.9zM218.9 520.9h0.9v0.9h-0.9zM211.7 529.2h0.9v0.9h-0.9zM200.5 521.9h0.9v0.9h-0.9zM213.0 524.3h0.9v0.9h-0.9zM211.4 526.3h0.9v0.9h-0.9zM210.5 526.0h0.9v0.9h-0.9zM209.1 532.9h0.9v0.9h-0.9zM200.6 523.5h0.9v0.9h-0.9zM213.1 530.6h0.9v0.9h-0.9zM215.0 529.7h0.9v0.9h-0.9zM195.8 533.8h0.9v0.9h-0.9zM205.9 528.0h0.9v0.9h-0.9zM202.2 532.2h0.9v0.9h-0.9zM211.4 522.6h0.9v0.9h-0.9zM214.0 533.8h0.9v0.9h-0.9zM214.6 518.6h0.9v0.9h-0.9zM215.1 531.5h0.9v0.9h-0.9zM225.3 532.2h0.9v0.9h-0.9zM221.9 529.7h0.9v0.9h-0.9zM199.2 518.8h0.9v0.9h-0.9zM218.0 531.5h0.9v0.9h-0.9zM211.8 535.6h0.9v0.9h-0.9zM210.0 529.3h0.9v0.9h-0.9zM212.5 528.8h0.9v0.9h-0.9zM207.4 528.4h0.9v0.9h-0.9zM213.5 535.1h0.9v0.9h-0.9zM210.7 530.6h0.9v0.9h-0.9zM214.1 524.0h0.9v0.9h-0.9zM204.4 529.1h0.9v0.9h-0.9zM208.5 523.5h0.9v0.9h-0.9zM207.0 519.9h0.9v0.9h-0.9zM217.5 531.0h0.9v0.9h-0.9zM218.1 516.8h0.9v0.9h-0.9zM210.3 529.8h0.9v0.9h-0.9zM205.9 532.9h0.9v0.9h-0.9zM210.4 530.7h0.9v0.9h-0.9zM210.3 527.1h0.9v0.9h-0.9zM207.6 528.7h0.9v0.9h-0.9zM218.9 527.9h0.9v0.9h-0.9zM205.8 525.2h0.9v0.9h-0.9zM215.9 535.8h0.9v0.9h-0.9zM214.5 530.7h0.9v0.9h-0.9zM215.2 523.2h0.9v0.9h-0.9zM207.8 531.1h0.9v0.9h-0.9zM212.8 538.4h0.9v0.9h-0.9zM207.4 533.0h0.9v0.9h-0.9zM220.6 523.9h0.9v0.9h-0.9zM209.7 531.9h0.9v0.9h-0.9zM213.1 530.3h0.9v0.9h-0.9zM220.1 534.8h0.9v0.9h-0.9zM204.5 524.9h0.9v0.9h-0.9zM205.0 527.4h0.9v0.9h-0.9zM215.2 529.5h0.9v0.9h-0.9zM216.5 531.6h0.9v0.9h-0.9zM206.9 518.5h0.9v0.9h-0.9zM207.3 522.3h0.9v0.9h-0.9zM202.3 526.7h0.9v0.9h-0.9zM222.7 525.9h0.9v0.9h-0.9zM215.4 531.8h0.9v0.9h-0.9zM210.8 524.0h0.9v0.9h-0.9zM222.3 528.5h0.9v0.9h-0.9zM223.1 530.0h0.9v0.9h-0.9zM210.0 528.6h0.9v0.9h-0.9zM207.6 525.1h0.9v0.9h-0.9zM214.4 524.5h0.9v0.9h-0.9zM215.0 523.0h0.9v0.9h-0.9zM199.4 527.1h0.9v0.9h-0.9zM217.5 524.7h0.9v0.9h-0.9zM222.8 534.7h0.9v0.9h-0.9zM209.8 534.7h0.9v0.9h-0.9zM208.9 528.3h0.9v0.9h-0.9zM213.3 528.2h0.9v0.9h-0.9zM218.3 522.8h0.9v0.9h-0.9zM204.0 520.4h0.9v0.9h-0.9zM208.6 527.3h0.9v0.9h-0.9zM203.6 531.6h0.9v0.9h-0.9zM201.7 523.5h0.9v0.9h-0.9zM220.2 525.4h0.9v0.9h-0.9zM212.0 514.2h0.9v0.9h-0.9zM210.8 528.8h0.9v0.9h-0.9zM209.6 531.8h0.9v0.9h-0.9zM209.0 528.7h0.9v0.9h-0.9zM206.0 527.6h0.9v0.9h-0.9zM210.4 533.3h0.9v0.9h-0.9zM206.3 523.1h0.9v0.9h-0.9zM208.2 525.5h0.9v0.9h-0.9zM208.8 534.9h0.9v0.9h-0.9zM207.7 537.7h0.9v0.9h-0.9zM218.1 528.6h0.9v0.9h-0.9zM209.9 529.1h0.9v0.9h-0.9zM205.3 531.3h0.9v0.9h-0.9zM213.7 527.0h0.9v0.9h-0.9zM207.6 531.1h0.9v0.9h-0.9zM202.3 525.6h0.9v0.9h-0.9zM204.5 519.8h0.9v0.9h-0.9zM204.3 531.4h0.9v0.9h-0.9zM218.4 523.8h0.9v0.9h-0.9zM207.0 531.4h0.9v0.9h-0.9zM211.5 525.0h0.9v0.9h-0.9zM206.4 533.9h0.9v0.9h-0.9zM199.3 521.4h0.9v0.9h-0.9zM210.5 530.1h0.9v0.9h-0.9zM205.1 523.6h0.9v0.9h-0.9zM217.6 529.3h0.9v0.9h-0.9zM203.0 530.3h0.9v0.9h-0.9zM208.9 534.4h0.9v0.9h-0.9zM216.2 523.8h0.9v0.9h-0.9zM206.0 528.3h0.9v0.9h-0.9zM207.6 531.2h0.9v0.9h-0.9zM208.9 537.3h0.9v0.9h-0.9zM204.1 521.2h0.9v0.9h-0.9zM207.1 525.8h0.9v0.9h-0.9zM207.2 525.3h0.9v0.9h-0.9zM204.9 530.7h0.9v0.9h-0.9zM210.1 526.8h0.9v0.9h-0.9zM201.5 531.2h0.9v0.9h-0.9zM219.1 527.6h0.9v0.9h-0.9zM210.5 534.3h0.9v0.9h-0.9zM210.1 532.7h0.9v0.9h-0.9zM207.9 524.5h0.9v0.9h-0.9zM219.4 521.5h0.9v0.9h-0.9zM215.0 534.8h0.9v0.9h-0.9zM211.6 528.7h0.9v0.9h-0.9zM216.8 523.4h0.9v0.9h-0.9zM209.9 530.2h0.9v0.9h-0.9zM211.5 520.2h0.9v0.9h-0.9zM212.0 526.2h0.9v0.9h-0.9zM219.0 538.8h0.9v0.9h-0.9zM201.5 530.0h0.9v0.9h-0.9zM208.2 516.4h0.9v0.9h-0.9zM214.4 540.5h0.9v0.9h-0.9zM207.8 537.1h0.9v0.9h-0.9zM219.8 531.1h0.9v0.9h-0.9zM211.7 537.4h0.9v0.9h-0.9zM199.5 527.5h0.9v0.9h-0.9zM204.5 530.9h0.9v0.9h-0.9zM211.0 530.2h0.9v0.9h-0.9zM213.7 539.3h0.9v0.9h-0.9zM219.8 529.1h0.9v0.9h-0.9zM209.0 535.2h0.9v0.9h-0.9zM213.0 533.7h0.9v0.9h-0.9zM194.1 534.4h0.9v0.9h-0.9zM217.3 515.6h0.9v0.9h-0.9zM211.1 530.5h0.9v0.9h-0.9zM199.8 534.5h0.9v0.9h-0.9zM212.9 523.6h0.9v0.9h-0.9zM205.2 528.2h0.9v0.9h-0.9zM211.0 526.1h0.9v0.9h-0.9zM212.5 535.1h0.9v0.9h-0.9zM211.4 528.2h0.9v0.9h-0.9zM222.5 534.2h0.9v0.9h-0.9zM208.2 528.5h0.9v0.9h-0.9zM206.9 527.8h0.9v0.9h-0.9zM208.2 524.2h0.9v0.9h-0.9zM214.8 526.6h0.9v0.9h-0.9zM205.2 525.8h0.9v0.9h-0.9zM204.2 527.9h0.9v0.9h-0.9zM209.2 524.1h0.9v0.9h-0.9zM216.4 529.7h0.9v0.9h-0.9zM215.8 529.1h0.9v0.9h-0.9zM214.3 520.9h0.9v0.9h-0.9zM208.6 533.4h0.9v0.9h-0.9zM207.2 530.3h0.9v0.9h-0.9zM201.4 519.7h0.9v0.9h-0.9zM201.4 538.4h0.9v0.9h-0.9zM214.2 524.3h0.9v0.9h-0.9zM213.0 527.9h0.9v0.9h-0.9zM212.9 526.3h0.9v0.9h-0.9zM210.2 533.8h0.9v0.9h-0.9zM215.5 529.4h0.9v0.9h-0.9zM214.4 529.2h0.9v0.9h-0.9zM212.5 523.7h0.9v0.9h-0.9zM209.3 535.7h0.9v0.9h-0.9zM211.4 530.8h0.9v0.9h-0.9zM220.4 534.3h0.9v0.9h-0.9zM222.0 533.9h0.9v0.9h-0.9zM221.2 523.2h0.9v0.9h-0.9zM213.8 529.0h0.9v0.9h-0.9zM200.6 530.2h0.9v0.9h-0.9zM212.2 529.4h0.9v0.9h-0.9zM213.5 528.8h0.9v0.9h-0.9zM221.3 526.8h0.9v0.9h-0.9zM211.2 520.3h0.9v0.9h-0.9zM209.5 531.4h0.9v0.9h-0.9zM213.6 531.9h0.9v0.9h-0.9zM211.6 529.8h0.9v0.9h-0.9zM207.6 536.7h0.9v0.9h-0.9zM204.4 527.6h0.9v0.9h-0.9zM202.4 533.5h0.9v0.9h-0.9zM208.7 528.3h0.9v0.9h-0.9zM202.3 536.5h0.9v0.9h-0.9zM206.9 534.2h0.9v0.9h-0.9zM210.9 528.6h0.9v0.9h-0.9zM209.7 525.1h0.9v0.9h-0.9zM213.9 532.1h0.9v0.9h-0.9zM225.6 520.7h0.9v0.9h-0.9zM209.3 524.1h0.9v0.9h-0.9zM207.8 522.0h0.9v0.9h-0.9zM204.5 532.5h0.9v0.9h-0.9zM207.2 527.2h0.9v0.9h-0.9zM216.1 529.9h0.9v0.9h-0.9zM212.7 528.0h0.9v0.9h-0.9zM211.4 526.3h0.9v0.9h-0.9zM219.1 528.0h0.9v0.9h-0.9zM206.9 526.9h0.9v0.9h-0.9zM212.3 525.6h0.9v0.9h-0.9zM220.6 530.7h0.9v0.9h-0.9zM214.7 529.4h0.9v0.9h-0.9zM204.2 526.3h0.9v0.9h-0.9zM214.2 529.5h0.9v0.9h-0.9zM207.5 521.8h0.9v0.9h-0.9zM205.5 531.3h0.9v0.9h-0.9zM197.2 537.5h0.9v0.9h-0.9zM194.9 524.6h0.9v0.9h-0.9zM219.6 527.4h0.9v0.9h-0.9zM208.6 519.4h0.9v0.9h-0.9zM208.0 530.4h0.9v0.9h-0.9zM205.9 529.4h0.9v0.9h-0.9zM206.9 525.9h0.9v0.9h-0.9zM207.7 535.6h0.9v0.9h-0.9zM218.5 535.2h0.9v0.9h-0.9zM203.7 522.9h0.9v0.9h-0.9zM204.5 527.3h0.9v0.9h-0.9zM215.8 536.1h0.9v0.9h-0.9zM201.5 533.1h0.9v0.9h-0.9zM207.7 526.3h0.9v0.9h-0.9zM216.2 520.3h0.9v0.9h-0.9zM216.4 538.8h0.9v0.9h-0.9zM218.1 524.4h0.9v0.9h-0.9zM212.7 531.3h0.9v0.9h-0.9zM204.4 536.5h0.9v0.9h-0.9zM210.1 534.1h0.9v0.9h-0.9zM209.8 526.1h0.9v0.9h-0.9zM208.0 531.8h0.9v0.9h-0.9zM213.9 534.9h0.9v0.9h-0.9zM200.7 520.1h0.9v0.9h-0.9zM215.6 527.6h0.9v0.9h-0.9zM218.6 531.6h0.9v0.9h-0.9zM209.4 529.8h0.9v0.9h-0.9zM208.3 524.0h0.9v0.9h-0.9zM212.1 526.2h0.9v0.9h-0.9zM210.1 527.6h0.9v0.9h-0.9zM202.4 527.9h0.9v0.9h-0.9zM212.7 523.9h0.9v0.9h-0.9zM215.0 525.7h0.9v0.9h-0.9zM224.2 516.7h0.9v0.9h-0.9zM218.0 536.8h0.9v0.9h-0.9zM212.3 523.9h0.9v0.9h-0.9zM210.1 538.3h0.9v0.9h-0.9zM209.3 530.9h0.9v0.9h-0.9zM211.0 526.8h0.9v0.9h-0.9zM212.8 535.6h0.9v0.9h-0.9zM221.6 522.1h0.9v0.9h-0.9zM208.7 527.1h0.9v0.9h-0.9zM217.5 525.9h0.9v0.9h-0.9zM206.3 526.0h0.9v0.9h-0.9zM211.1 531.5h0.9v0.9h-0.9zM213.5 523.2h0.9v0.9h-0.9zM202.8 542.9h0.9v0.9h-0.9zM210.7 523.9h0.9v0.9h-0.9zM218.6 523.5h0.9v0.9h-0.9zM208.6 534.3h0.9v0.9h-0.9zM214.3 537.2h0.9v0.9h-0.9zM211.6 532.3h0.9v0.9h-0.9zM206.0 528.0h0.9v0.9h-0.9zM220.3 530.8h0.9v0.9h-0.9zM210.5 523.7h0.9v0.9h-0.9zM216.7 538.6h0.9v0.9h-0.9zM213.2 536.5h0.9v0.9h-0.9zM213.8 524.6h0.9v0.9h-0.9zM215.2 525.8h0.9v0.9h-0.9zM212.4 535.1h0.9v0.9h-0.9zM211.7 529.3h0.9v0.9h-0.9zM202.9 525.7h0.9v0.9h-0.9zM210.8 521.2h0.9v0.9h-0.9zM215.8 532.5h0.9v0.9h-0.9zM212.1 525.1h0.9v0.9h-0.9zM203.9 524.1h0.9v0.9h-0.9zM211.6 526.7h0.9v0.9h-0.9zM201.1 528.6h0.9v0.9h-0.9zM205.0 522.1h0.9v0.9h-0.9zM208.9 528.2h0.9v0.9h-0.9zM213.7 520.6h0.9v0.9h-0.9zM210.6 531.6h0.9v0.9h-0.9zM214.1 524.7h0.9v0.9h-0.9zM205.5 527.9h0.9v0.9h-0.9zM210.1 531.1h0.9v0.9h-0.9zM199.8 525.9h0.9v0.9h-0.9zM210.4 529.9h0.9v0.9h-0.9zM215.5 519.1h0.9v0.9h-0.9zM208.9 525.6h0.9v0.9h-0.9zM208.0 523.9h0.9v0.9h-0.9zM209.3 531.7h0.9v0.9h-0.9zM211.8 529.4h0.9v0.9h-0.9zM207.3 538.7h0.9v0.9h-0.9zM201.4 530.9h0.9v0.9h-0.9zM212.5 532.4h0.9v0.9h-0.9zM207.4 531.0h0.9v0.9h-0.9zM204.6 527.5h0.9v0.9h-0.9zM217.9 528.5h0.9v0.9h-0.9zM220.1 531.9h0.9v0.9h-0.9zM205.5 529.5h0.9v0.9h-0.9zM205.1 529.3h0.9v0.9h-0.9zM218.0 522.5h0.9v0.9h-0.9zM215.9 518.4h0.9v0.9h-0.9zM204.8 531.5h0.9v0.9h-0.9zM208.1 537.1h0.9v0.9h-0.9zM205.1 521.8h0.9v0.9h-0.9zM212.2 520.3h0.9v0.9h-0.9zM206.5 525.3h0.9v0.9h-0.9zM202.6 527.3h0.9v0.9h-0.9zM209.5 526.6h0.9v0.9h-0.9zM213.1 523.9h0.9v0.9h-0.9zM209.7 519.4h0.9v0.9h-0.9zM202.4 530.4h0.9v0.9h-0.9zM204.2 531.4h0.9v0.9h-0.9zM220.6 530.5h0.9v0.9h-0.9zM208.0 526.3h0.9v0.9h-0.9zM218.8 521.9h0.9v0.9h-0.9zM204.6 535.6h0.9v0.9h-0.9zM215.2 531.1h0.9v0.9h-0.9zM208.8 525.3h0.9v0.9h-0.9zM207.4 525.1h0.9v0.9h-0.9zM206.6 529.3h0.9v0.9h-0.9zM201.0 538.5h0.9v0.9h-0.9zM201.3 524.9h0.9v0.9h-0.9zM210.8 528.1h0.9v0.9h-0.9zM209.1 526.2h0.9v0.9h-0.9zM214.8 524.5h0.9v0.9h-0.9zM213.8 526.0h0.9v0.9h-0.9zM217.6 533.6h0.9v0.9h-0.9zM216.6 539.5h0.9v0.9h-0.9zM210.1 526.3h0.9v0.9h-0.9zM211.0 522.0h0.9v0.9h-0.9zM212.1 526.6h0.9v0.9h-0.9zM219.8 516.8h0.9v0.9h-0.9zM213.3 525.7h0.9v0.9h-0.9zM211.6 539.8h0.9v0.9h-0.9zM201.2 528.6h0.9v0.9h-0.9zM203.8 529.5h0.9v0.9h-0.9zM199.2 529.4h0.9v0.9h-0.9zM214.2 524.8h0.9v0.9h-0.9zM216.3 532.8h0.9v0.9h-0.9zM209.3 536.1h0.9v0.9h-0.9zM210.6 529.5h0.9v0.9h-0.9zM212.6 527.8h0.9v0.9h-0.9zM199.7 531.1h0.9v0.9h-0.9zM211.0 522.5h0.9v0.9h-0.9zM227.8 525.6h0.9v0.9h-0.9zM212.1 536.1h0.9v0.9h-0.9zM223.4 528.4h0.9v0.9h-0.9zM213.8 529.8h0.9v0.9h-0.9zM205.7 529.6h0.9v0.9h-0.9zM204.6 533.5h0.9v0.9h-0.9zM221.4 524.3h0.9v0.9h-0.9zM212.1 525.4h0.9v0.9h-0.9zM220.7 526.1h0.9v0.9h-0.9zM209.3 530.8h0.9v0.9h-0.9zM218.5 526.3h0.9v0.9h-0.9zM209.9 522.3h0.9v0.9h-0.9zM208.8 537.9h0.9v0.9h-0.9zM217.1 521.8h0.9v0.9h-0.9zM214.7 521.8h0.9v0.9h-0.9zM222.2 528.5h0.9v0.9h-0.9zM209.0 534.2h0.9v0.9h-0.9zM208.3 527.5h0.9v0.9h-0.9zM213.8 533.6h0.9v0.9h-0.9zM215.1 534.7h0.9v0.9h-0.9zM198.4 521.9h0.9v0.9h-0.9zM201.9 526.1h0.9v0.9h-0.9zM211.4 523.0h0.9v0.9h-0.9zM214.8 518.8h0.9v0.9h-0.9zM209.1 524.8h0.9v0.9h-0.9zM207.5 530.2h0.9v0.9h-0.9zM212.5 540.0h0.9v0.9h-0.9zM214.4 525.4h0.9v0.9h-0.9zM210.6 529.0h0.9v0.9h-0.9zM211.2 523.1h0.9v0.9h-0.9zM205.8 535.6h0.9v0.9h-0.9zM202.6 523.8h0.9v0.9h-0.9zM218.5 526.8h0.9v0.9h-0.9zM203.2 531.8h0.9v0.9h-0.9zM217.6 522.9h0.9v0.9h-0.9zM204.9 523.8h0.9v0.9h-0.9zM219.4 519.8h0.9v0.9h-0.9zM202.5 529.2h0.9v0.9h-0.9zM205.4 529.9h0.9v0.9h-0.9zM213.4 523.0h0.9v0.9h-0.9zM217.9 525.6h0.9v0.9h-0.9zM220.0 532.5h0.9v0.9h-0.9zM222.5 525.7h0.9v0.9h-0.9zM218.3 528.9h0.9v0.9h-0.9zM217.0 520.7h0.9v0.9h-0.9zM221.5 533.2h0.9v0.9h-0.9zM203.2 530.5h0.9v0.9h-0.9zM216.8 523.1h0.9v0.9h-0.9zM218.3 521.0h0.9v0.9h-0.9zM205.9 527.4h0.9v0.9h-0.9zM207.5 518.0h0.9v0.9h-0.9zM211.0 531.2h0.9v0.9h-0.9zM211.2 529.8h0.9v0.9h-0.9zM211.7 526.2h0.9v0.9h-0.9zM211.1 533.6h0.9v0.9h-0.9zM218.6 531.3h0.9v0.9h-0.9zM214.4 538.4h0.9v0.9h-0.9zM206.8 525.8h0.9v0.9h-0.9zM215.5 527.6h0.9v0.9h-0.9zM214.6 526.4h0.9v0.9h-0.9zM216.2 533.1h0.9v0.9h-0.9zM215.3 525.4h0.9v0.9h-0.9zM216.6 531.1h0.9v0.9h-0.9zM214.3 526.1h0.9v0.9h-0.9zM219.1 524.6h0.9v0.9h-0.9zM215.1 531.9h0.9v0.9h-0.9zM214.2 534.6h0.9v0.9h-0.9zM218.0 529.8h0.9v0.9h-0.9zM225.6 529.5h0.9v0.9h-0.9zM216.1 522.9h0.9v0.9h-0.9zM210.1 531.7h0.9v0.9h-0.9zM207.2 525.3h0.9v0.9h-0.9zM214.3 526.0h0.9v0.9h-0.9zM206.3 531.9h0.9v0.9h-0.9zM210.4 522.6h0.9v0.9h-0.9zM219.3 530.8h0.9v0.9h-0.9zM206.9 530.4h0.9v0.9h-0.9zM217.1 528.2h0.9v0.9h-0.9zM203.5 515.2h0.9v0.9h-0.9zM212.1 528.0h0.9v0.9h-0.9zM211.6 529.0h0.9v0.9h-0.9zM206.9 526.4h0.9v0.9h-0.9zM218.6 522.1h0.9v0.9h-0.9zM206.6 523.8h0.9v0.9h-0.9zM215.4 537.3h0.9v0.9h-0.9zM207.2 531.3h0.9v0.9h-0.9zM203.7 521.8h0.9v0.9h-0.9zM220.6 524.3h0.9v0.9h-0.9zM221.2 522.6h0.9v0.9h-0.9zM209.8 527.4h0.9v0.9h-0.9zM215.1 524.0h0.9v0.9h-0.9zM204.6 523.8h0.9v0.9h-0.9zM221.6 518.9h0.9v0.9h-0.9zM202.3 526.9h0.9v0.9h-0.9zM203.6 527.5h0.9v0.9h-0.9zM211.9 528.8h0.9v0.9h-0.9zM214.3 522.1h0.9v0.9h-0.9zM214.4 527.9h0.9v0.9h-0.9zM211.0 523.9h0.9v0.9h-0.9zM206.6 525.2h0.9v0.9h-0.9zM222.4 532.3h0.9v0.9h-0.9zM207.7 521.8h0.9v0.9h-0.9zM208.0 530.3h0.9v0.9h-0.9zM213.5 536.1h0.9v0.9h-0.9zM211.0 535.2h0.9v0.9h-0.9zM208.7 528.2h0.9v0.9h-0.9zM218.5 524.6h0.9v0.9h-0.9zM226.6 526.5h0.9v0.9h-0.9zM221.8 524.7h0.9v0.9h-0.9zM209.9 525.4h0.9v0.9h-0.9zM212.3 532.5h0.9v0.9h-0.9zM218.9 532.3h0.9v0.9h-0.9zM212.4 523.4h0.9v0.9h-0.9zM205.5 541.8h0.9v0.9h-0.9zM203.1 533.1h0.9v0.9h-0.9zM206.9 527.0h0.9v0.9h-0.9zM216.8 523.5h0.9v0.9h-0.9zM206.4 526.2h0.9v0.9h-0.9zM201.7 527.3h0.9v0.9h-0.9zM215.3 530.1h0.9v0.9h-0.9zM217.1 529.9h0.9v0.9h-0.9zM208.1 527.3h0.9v0.9h-0.9zM207.3 524.7h0.9v0.9h-0.9zM207.9 536.0h0.9v0.9h-0.9zM213.8 529.1h0.9v0.9h-0.9zM198.9 528.7h0.9v0.9h-0.9zM205.4 528.0h0.9v0.9h-0.9zM201.8 541.1h0.9v0.9h-0.9zM209.0 527.1h0.9v0.9h-0.9zM202.1 519.0h0.9v0.9h-0.9zM214.6 531.8h0.9v0.9h-0.9zM212.3 529.1h0.9v0.9h-0.9zM200.5 528.5h0.9v0.9h-0.9zM202.9 531.0h0.9v0.9h-0.9zM210.8 525.3h0.9v0.9h-0.9zM214.1 518.1h0.9v0.9h-0.9zM209.7 536.7h0.9v0.9h-0.9zM206.4 529.1h0.9v0.9h-0.9zM212.2 522.7h0.9v0.9h-0.9zM215.4 534.6h0.9v0.9h-0.9zM211.8 523.1h0.9v0.9h-0.9zM205.9 530.0h0.9v0.9h-0.9zM220.0 532.7h0.9v0.9h-0.9zM215.0 534.5h0.9v0.9h-0.9zM216.1 539.2h0.9v0.9h-0.9zM213.0 532.3h0.9v0.9h-0.9zM216.2 530.1h0.9v0.9h-0.9zM199.6 532.6h0.9v0.9h-0.9zM223.1 531.5h0.9v0.9h-0.9zM205.5 536.3h0.9v0.9h-0.9zM201.1 533.7h0.9v0.9h-0.9zM200.0 535.7h0.9v0.9h-0.9zM216.7 531.6h0.9v0.9h-0.9zM216.9 525.0h0.9v0.9h-0.9zM203.7 536.5h0.9v0.9h-0.9zM208.4 532.0h0.9v0.9h-0.9zM205.9 538.3h0.9v0.9h-0.9zM209.1 537.9h0.9v0.9h-0.9zM216.9 524.4h0.9v0.9h-0.9zM206.4 526.3h0.9v0.9h-0.9zM200.6 524.2h0.9v0.9h-0.9zM207.0 532.4h0.9v0.9h-0.9zM212.7 528.8h0.9v0.9h-0.9zM216.4 527.9h0.9v0.9h-0.9zM211.3 528.6h0.9v0.9h-0.9zM202.2 532.7h0.9v0.9h-0.9zM218.6 536.1h0.9v0.9h-0.9zM208.1 539.3h0.9v0.9h-0.9zM212.0 533.7h0.9v0.9h-0.9zM209.7 529.6h0.9v0.9h-0.9zM213.2 533.6h0.9v0.9h-0.9zM208.6 531.0h0.9v0.9h-0.9zM214.9 533.9h0.9v0.9h-0.9zM214.9 521.4h0.9v0.9h-0.9zM221.7 524.6h0.9v0.9h-0.9zM215.8 524.8h0.9v0.9h-0.9zM209.0 526.1h0.9v0.9h-0.9zM199.0 525.8h0.9v0.9h-0.9zM209.1 537.4h0.9v0.9h-0.9zM209.8 526.1h0.9v0.9h-0.9zM214.6 532.2h0.9v0.9h-0.9zM210.8 531.5h0.9v0.9h-0.9zM201.3 524.8h0.9v0.9h-0.9zM223.4 523.0h0.9v0.9h-0.9zM201.5 520.7h0.9v0.9h-0.9zM206.3 537.8h0.9v0.9h-0.9zM222.4 536.6h0.9v0.9h-0.9zM228.1 536.9h0.9v0.9h-0.9zM216.6 519.1h0.9v0.9h-0.9zM219.4 526.4h0.9v0.9h-0.9zM212.3 522.4h0.9v0.9h-0.9zM211.4 520.3h0.9v0.9h-0.9zM221.9 536.3h0.9v0.9h-0.9zM210.8 521.0h0.9v0.9h-0.9zM211.9 526.1h0.9v0.9h-0.9zM208.7 532.7h0.9v0.9h-0.9zM215.7 529.1h0.9v0.9h-0.9zM218.8 532.6h0.9v0.9h-0.9zM213.9 530.1h0.9v0.9h-0.9zM211.5 517.6h0.9v0.9h-0.9zM201.9 531.2h0.9v0.9h-0.9zM213.7 532.1h0.9v0.9h-0.9zM210.0 521.9h0.9v0.9h-0.9zM218.1 526.2h0.9v0.9h-0.9zM210.7 524.6h0.9v0.9h-0.9zM210.6 525.0h0.9v0.9h-0.9zM205.5 530.0h0.9v0.9h-0.9zM208.4 529.3h0.9v0.9h-0.9zM211.6 528.1h0.9v0.9h-0.9zM208.9 524.3h0.9v0.9h-0.9zM213.5 533.3h0.9v0.9h-0.9zM209.1 536.3h0.9v0.9h-0.9zM212.1 534.4h0.9v0.9h-0.9zM202.8 528.8h0.9v0.9h-0.9zM208.4 520.4h0.9v0.9h-0.9zM201.7 532.1h0.9v0.9h-0.9zM223.4 515.0h0.9v0.9h-0.9zM209.0 535.9h0.9v0.9h-0.9zM214.3 525.8h0.9v0.9h-0.9zM195.8 529.0h0.9v0.9h-0.9zM220.2 535.5h0.9v0.9h-0.9zM201.6 530.3h0.9v0.9h-0.9zM213.5 522.5h0.9v0.9h-0.9zM201.7 524.6h0.9v0.9h-0.9zM216.5 523.0h0.9v0.9h-0.9zM209.8 527.5h0.9v0.9h-0.9zM216.3 539.0h0.9v0.9h-0.9zM212.9 533.6h0.9v0.9h-0.9zM226.2 516.6h0.9v0.9h-0.9zM221.5 530.0h0.9v0.9h-0.9zM221.2 534.7h0.9v0.9h-0.9zM215.9 527.1h0.9v0.9h-0.9zM208.7 528.2h0.9v0.9h-0.9zM208.9 532.4h0.9v0.9h-0.9zM214.1 534.6h0.9v0.9h-0.9zM212.6 528.5h0.9v0.9h-0.9zM217.7 531.7h0.9v0.9h-0.9zM202.2 534.8h0.9v0.9h-0.9zM209.5 523.9h0.9v0.9h-0.9zM208.0 524.1h0.9v0.9h-0.9zM210.0 523.8h0.9v0.9h-0.9zM204.0 526.0h0.9v0.9h-0.9zM216.0 528.8h0.9v0.9h-0.9zM211.4 530.7h0.9v0.9h-0.9zM213.1 526.8h0.9v0.9h-0.9zM215.2 532.0h0.9v0.9h-0.9zM197.4 525.4h0.9v0.9h-0.9zM210.7 535.9h0.9v0.9h-0.9zM213.2 517.8h0.9v0.9h-0.9zM212.4 530.0h0.9v0.9h-0.9zM211.3 529.0h0.9v0.9h-0.9zM216.3 532.9h0.9v0.9h-0.9zM200.7 522.9h0.9v0.9h-0.9zM212.4 520.4h0.9v0.9h-0.9zM222.8 525.0h0.9v0.9h-0.9zM211.5 533.8h0.9v0.9h-0.9zM206.6 523.8h0.9v0.9h-0.9zM213.8 523.6h0.9v0.9h-0.9zM215.5 530.7h0.9v0.9h-0.9zM215.0 528.4h0.9v0.9h-0.9zM206.9 523.4h0.9v0.9h-0.9zM199.9 519.8h0.9v0.9h-0.9zM207.7 532.6h0.9v0.9h-0.9zM216.7 520.5h0.9v0.9h-0.9zM212.3 526.7h0.9v0.9h-0.9zM212.3 525.4h0.9v0.9h-0.9zM209.2 536.4h0.9v0.9h-0.9zM207.1 523.9h0.9v0.9h-0.9zM218.0 531.5h0.9v0.9h-0.9zM212.0 539.0h0.9v0.9h-0.9zM215.4 526.7h0.9v0.9h-0.9zM216.1 526.9h0.9v0.9h-0.9zM208.5 533.5h0.9v0.9h-0.9zM202.9 531.0h0.9v0.9h-0.9zM208.1 525.3h0.9v0.9h-0.9zM211.3 523.1h0.9v0.9h-0.9zM214.7 523.9h0.9v0.9h-0.9zM209.2 527.4h0.9v0.9h-0.9zM211.2 537.3h0.9v0.9h-0.9zM203.0 527.6h0.9v0.9h-0.9zM215.3 542.7h0.9v0.9h-0.9zM211.1 533.7h0.9v0.9h-0.9zM214.8 524.7h0.9v0.9h-0.9zM213.3 534.5h0.9v0.9h-0.9zM214.3 527.5h0.9v0.9h-0.9zM211.3 522.5h0.9v0.9h-0.9zM204.0 524.1h0.9v0.9h-0.9zM220.8 525.1h0.9v0.9h-0.9zM217.7 525.2h0.9v0.9h-0.9zM218.9 524.1h0.9v0.9h-0.9zM202.6 530.0h0.9v0.9h-0.9zM215.4 525.3h0.9v0.9h-0.9zM210.4 524.9h0.9v0.9h-0.9zM205.0 533.2h0.9v0.9h-0.9zM219.7 530.9h0.9v0.9h-0.9zM215.7 528.4h0.9v0.9h-0.9zM210.6 524.3h0.9v0.9h-0.9zM214.3 530.0h0.9v0.9h-0.9zM216.3 530.8h0.9v0.9h-0.9zM204.6 521.1h0.9v0.9h-0.9zM209.6 529.0h0.9v0.9h-0.9zM201.5 528.5h0.9v0.9h-0.9zM201.6 529.6h0.9v0.9h-0.9zM202.3 526.7h0.9v0.9h-0.9zM211.5 526.5h0.9v0.9h-0.9zM211.8 527.4h0.9v0.9h-0.9zM200.7 524.6h0.9v0.9h-0.9zM209.7 528.0h0.9v0.9h-0.9zM202.3 533.3h0.9v0.9h-0.9zM215.4 522.3h0.9v0.9h-0.9zM211.7 524.2h0.9v0.9h-0.9zM205.3 523.3h0.9v0.9h-0.9zM220.5 527.9h0.9v0.9h-0.9zM217.3 526.0h0.9v0.9h-0.9zM205.5 530.8h0.9v0.9h-0.9zM218.6 539.8h0.9v0.9h-0.9zM207.6 529.1h0.9v0.9h-0.9zM202.6 525.8h0.9v0.9h-0.9zM218.1 532.3h0.9v0.9h-0.9zM207.4 521.4h0.9v0.9h-0.9zM209.8 539.7h0.9v0.9h-0.9zM202.3 529.4h0.9v0.9h-0.9zM203.8 525.7h0.9v0.9h-0.9zM212.5 523.8h0.9v0.9h-0.9zM209.9 527.2h0.9v0.9h-0.9zM208.3 528.8h0.9v0.9h-0.9zM199.1 529.9h0.9v0.9h-0.9zM221.7 527.8h0.9v0.9h-0.9zM200.8 531.8h0.9v0.9h-0.9zM206.9 526.5h0.9v0.9h-0.9zM209.0 534.4h0.9v0.9h-0.9zM207.3 525.3h0.9v0.9h-0.9zM213.4 525.3h0.9v0.9h-0.9zM209.9 532.5h0.9v0.9h-0.9zM211.2 531.3h0.9v0.9h-0.9zM211.6 536.3h0.9v0.9h-0.9zM211.6 529.8h0.9v0.9h-0.9zM208.0 532.4h0.9v0.9h-0.9zM199.2 522.4h0.9v0.9h-0.9zM220.2 527.1h0.9v0.9h-0.9zM214.2 536.2h0.9v0.9h-0.9zM205.8 532.9h0.9v0.9h-0.9zM204.0 526.3h0.9v0.9h-0.9zM218.3 527.9h0.9v0.9h-0.9zM204.6 526.0h0.9v0.9h-0.9zM215.1 533.1h0.9v0.9h-0.9zM217.0 516.3h0.9v0.9h-0.9zM201.0 525.4h0.9v0.9h-0.9zM216.7 523.3h0.9v0.9h-0.9zM201.0 509.9h0.9v0.9h-0.9zM200.1 533.4h0.9v0.9h-0.9zM219.7 528.0h0.9v0.9h-0.9zM209.9 527.2h0.9v0.9h-0.9zM215.4 531.6h0.9v0.9h-0.9zM215.1 524.6h0.9v0.9h-0.9zM216.3 538.4h0.9v0.9h-0.9zM215.3 532.9h0.9v0.9h-0.9zM209.3 526.9h0.9v0.9h-0.9zM223.9 528.5h0.9v0.9h-0.9zM209.6 525.3h0.9v0.9h-0.9zM215.5 536.1h0.9v0.9h-0.9zM205.4 518.3h0.9v0.9h-0.9z" fill="#111"/>
<path d="M203.7 532.3h0.9v0.9h-0.9zM201.6 526.4h0.9v0.9h-0.9zM223.9 538.9h0.9v0.9h-0.9zM196.5 532.2h0.9v0.9h-0.9zM207.9 532.8h0.9v0.9h-0.9zM211.4 534.3h0.9v0.9h-0.9zM198.6 533.2h0.9v0.9h-0.9zM190.2 523.6h0.9v0.9h-0.9zM197.6 524.0h0.9v0.9h-0.9zM214.6 541.1h0.9v0.9h-0.9zM203.6 542.3h0.9v0.9h-0.9zM205.3 527.6h0.9v0.9h-0.9zM194.7 524.9h0.9v0.9h-0.9zM238.4 532.7h0.9v0.9h-0.9zM218.5 535.9h0.9v0.9h-0.9zM190.3 523.0h0.9v0.9h-0.9zM214.1 516.0h0.9v0.9h-0.9zM222.5 526.8h0.9v0.9h-0.9zM200.4 522.2h0.9v0.9h-0.9zM224.6 532.8h0.9v0.9h-0.9zM223.4 510.8h0.9v0.9h-0.9zM225.4 528.5h0.9v0.9h-0.9zM215.3 543.0h0.9v0.9h-0.9zM196.0 525.7h0.9v0.9h-0.9zM219.2 534.3h0.9v0.9h-0.9zM218.5 514.5h0.9v0.9h-0.9zM214.7 529.6h0.9v0.9h-0.9zM219.2 515.2h0.9v0.9h-0.9zM205.9 528.4h0.9v0.9h-0.9zM230.7 530.2h0.9v0.9h-0.9zM193.6 517.9h0.9v0.9h-0.9zM207.8 501.5h0.9v0.9h-0.9zM206.4 541.4h0.9v0.9h-0.9zM216.4 509.7h0.9v0.9h-0.9zM202.9 540.5h0.9v0.9h-0.9zM194.2 523.9h0.9v0.9h-0.9zM196.1 519.8h0.9v0.9h-0.9zM198.5 498.4h0.9v0.9h-0.9zM221.8 532.9h0.9v0.9h-0.9zM205.7 532.3h0.9v0.9h-0.9zM207.5 525.9h0.9v0.9h-0.9zM212.9 536.0h0.9v0.9h-0.9zM216.9 528.5h0.9v0.9h-0.9zM229.7 528.8h0.9v0.9h-0.9zM193.6 543.5h0.9v0.9h-0.9zM203.6 518.7h0.9v0.9h-0.9zM211.7 530.1h0.9v0.9h-0.9zM208.8 515.3h0.9v0.9h-0.9zM207.3 533.9h0.9v0.9h-0.9zM229.9 533.7h0.9v0.9h-0.9zM225.1 543.9h0.9v0.9h-0.9zM221.9 537.4h0.9v0.9h-0.9zM220.6 535.2h0.9v0.9h-0.9zM197.4 513.4h0.9v0.9h-0.9zM201.1 534.5h0.9v0.9h-0.9zM225.9 526.4h0.9v0.9h-0.9zM205.1 543.3h0.9v0.9h-0.9zM223.2 531.3h0.9v0.9h-0.9zM208.7 510.1h0.9v0.9h-0.9zM225.1 532.8h0.9v0.9h-0.9zM208.9 529.5h0.9v0.9h-0.9zM206.7 534.0h0.9v0.9h-0.9zM209.8 526.8h0.9v0.9h-0.9zM219.2 515.3h0.9v0.9h-0.9zM210.7 522.9h0.9v0.9h-0.9zM216.1 541.1h0.9v0.9h-0.9zM223.7 529.2h0.9v0.9h-0.9zM210.1 545.6h0.9v0.9h-0.9zM214.6 536.3h0.9v0.9h-0.9zM187.8 530.0h0.9v0.9h-0.9zM224.4 521.9h0.9v0.9h-0.9zM204.6 532.3h0.9v0.9h-0.9zM217.2 518.2h0.9v0.9h-0.9zM211.3 535.5h0.9v0.9h-0.9zM193.8 537.0h0.9v0.9h-0.9zM187.9 538.7h0.9v0.9h-0.9zM218.3 542.4h0.9v0.9h-0.9zM183.4 529.4h0.9v0.9h-0.9zM206.4 530.3h0.9v0.9h-0.9zM199.2 541.6h0.9v0.9h-0.9zM208.0 528.1h0.9v0.9h-0.9zM196.2 524.1h0.9v0.9h-0.9zM186.8 525.6h0.9v0.9h-0.9zM200.7 529.3h0.9v0.9h-0.9zM188.1 526.1h0.9v0.9h-0.9zM217.0 525.3h0.9v0.9h-0.9zM208.4 519.4h0.9v0.9h-0.9zM204.1 530.4h0.9v0.9h-0.9zM203.9 537.0h0.9v0.9h-0.9zM194.8 525.0h0.9v0.9h-0.9zM216.5 539.8h0.9v0.9h-0.9zM188.3 533.0h0.9v0.9h-0.9zM204.5 528.5h0.9v0.9h-0.9zM210.6 527.3h0.9v0.9h-0.9zM215.6 526.6h0.9v0.9h-0.9zM220.2 534.6h0.9v0.9h-0.9zM188.0 534.2h0.9v0.9h-0.9zM209.2 509.1h0.9v0.9h-0.9zM192.0 519.7h0.9v0.9h-0.9zM219.2 532.7h0.9v0.9h-0.9zM209.5 514.7h0.9v0.9h-0.9zM211.8 529.2h0.9v0.9h-0.9zM213.9 534.7h0.9v0.9h-0.9zM212.7 524.4h0.9v0.9h-0.9zM210.4 500.5h0.9v0.9h-0.9zM219.2 534.9h0.9v0.9h-0.9zM212.5 520.0h0.9v0.9h-0.9zM211.9 524.3h0.9v0.9h-0.9zM210.6 538.8h0.9v0.9h-0.9zM216.5 528.6h0.9v0.9h-0.9zM211.5 529.6h0.9v0.9h-0.9zM208.4 524.9h0.9v0.9h-0.9zM216.9 523.9h0.9v0.9h-0.9zM210.5 532.8h0.9v0.9h-0.9zM207.9 530.4h0.9v0.9h-0.9zM226.7 533.3h0.9v0.9h-0.9zM211.7 524.3h0.9v0.9h-0.9zM200.2 529.9h0.9v0.9h-0.9zM212.2 541.1h0.9v0.9h-0.9zM198.5 540.9h0.9v0.9h-0.9zM207.9 530.4h0.9v0.9h-0.9zM221.0 536.9h0.9v0.9h-0.9zM215.4 521.7h0.9v0.9h-0.9zM209.7 526.9h0.9v0.9h-0.9zM223.7 520.3h0.9v0.9h-0.9zM225.1 530.4h0.9v0.9h-0.9zM202.7 530.3h0.9v0.9h-0.9zM215.3 517.9h0.9v0.9h-0.9zM224.6 527.3h0.9v0.9h-0.9zM222.5 524.6h0.9v0.9h-0.9zM203.1 536.2h0.9v0.9h-0.9zM217.9 529.3h0.9v0.9h-0.9zM192.0 539.1h0.9v0.9h-0.9zM219.8 513.8h0.9v0.9h-0.9zM191.9 526.7h0.9v0.9h-0.9zM216.0 530.5h0.9v0.9h-0.9zM193.3 531.5h0.9v0.9h-0.9zM215.3 534.2h0.9v0.9h-0.9zM207.8 522.0h0.9v0.9h-0.9zM200.5 537.7h0.9v0.9h-0.9zM212.8 529.7h0.9v0.9h-0.9zM214.6 536.0h0.9v0.9h-0.9zM215.0 538.8h0.9v0.9h-0.9zM193.9 540.1h0.9v0.9h-0.9zM220.0 523.3h0.9v0.9h-0.9zM217.8 521.9h0.9v0.9h-0.9zM214.3 524.6h0.9v0.9h-0.9zM194.8 537.0h0.9v0.9h-0.9zM207.8 546.3h0.9v0.9h-0.9zM191.7 533.4h0.9v0.9h-0.9zM200.3 517.5h0.9v0.9h-0.9zM200.1 522.1h0.9v0.9h-0.9zM215.2 535.4h0.9v0.9h-0.9zM230.8 505.9h0.9v0.9h-0.9zM185.8 514.6h0.9v0.9h-0.9zM212.8 524.9h0.9v0.9h-0.9zM221.7 533.3h0.9v0.9h-0.9zM203.0 522.9h0.9v0.9h-0.9zM231.8 519.6h0.9v0.9h-0.9zM197.1 519.6h0.9v0.9h-0.9zM214.8 531.9h0.9v0.9h-0.9zM218.8 514.5h0.9v0.9h-0.9zM212.8 519.6h0.9v0.9h-0.9zM211.4 513.5h0.9v0.9h-0.9zM199.2 525.5h0.9v0.9h-0.9zM210.2 506.5h0.9v0.9h-0.9zM214.4 521.8h0.9v0.9h-0.9zM211.1 535.5h0.9v0.9h-0.9zM227.8 540.4h0.9v0.9h-0.9zM223.3 539.2h0.9v0.9h-0.9zM193.2 523.1h0.9v0.9h-0.9zM209.1 528.8h0.9v0.9h-0.9zM225.3 534.8h0.9v0.9h-0.9zM219.2 532.9h0.9v0.9h-0.9zM191.3 541.9h0.9v0.9h-0.9zM214.0 528.3h0.9v0.9h-0.9zM193.7 512.4h0.9v0.9h-0.9zM217.9 537.5h0.9v0.9h-0.9zM193.3 512.0h0.9v0.9h-0.9zM213.2 521.8h0.9v0.9h-0.9zM225.3 534.1h0.9v0.9h-0.9zM211.1 502.8h0.9v0.9h-0.9zM230.1 526.3h0.9v0.9h-0.9zM196.4 532.5h0.9v0.9h-0.9zM205.1 535.1h0.9v0.9h-0.9zM231.3 517.7h0.9v0.9h-0.9zM223.0 519.9h0.9v0.9h-0.9zM214.2 534.6h0.9v0.9h-0.9zM232.5 530.2h0.9v0.9h-0.9zM215.6 525.9h0.9v0.9h-0.9zM204.7 523.3h0.9v0.9h-0.9zM189.9 511.1h0.9v0.9h-0.9zM203.2 535.3h0.9v0.9h-0.9zM211.6 543.5h0.9v0.9h-0.9zM193.1 524.0h0.9v0.9h-0.9zM207.8 541.3h0.9v0.9h-0.9zM199.2 534.1h0.9v0.9h-0.9zM224.1 540.3h0.9v0.9h-0.9zM205.8 527.7h0.9v0.9h-0.9zM222.3 527.1h0.9v0.9h-0.9zM218.5 529.8h0.9v0.9h-0.9zM222.9 533.6h0.9v0.9h-0.9zM216.2 525.8h0.9v0.9h-0.9zM217.4 527.8h0.9v0.9h-0.9zM248.0 533.2h0.9v0.9h-0.9zM212.2 526.2h0.9v0.9h-0.9zM186.5 528.9h0.9v0.9h-0.9zM215.8 533.5h0.9v0.9h-0.9zM208.3 541.1h0.9v0.9h-0.9zM215.9 522.8h0.9v0.9h-0.9zM197.6 541.0h0.9v0.9h-0.9zM205.3 523.5h0.9v0.9h-0.9zM196.1 522.5h0.9v0.9h-0.9zM218.6 534.7h0.9v0.9h-0.9zM209.5 537.2h0.9v0.9h-0.9zM222.8 537.4h0.9v0.9h-0.9zM187.9 528.8h0.9v0.9h-0.9zM205.1 547.0h0.9v0.9h-0.9zM230.3 533.2h0.9v0.9h-0.9zM199.3 539.8h0.9v0.9h-0.9zM208.7 523.6h0.9v0.9h-0.9zM224.5 531.5h0.9v0.9h-0.9zM211.0 521.9h0.9v0.9h-0.9zM201.5 547.2h0.9v0.9h-0.9zM202.0 514.2h0.9v0.9h-0.9zM227.6 525.2h0.9v0.9h-0.9zM208.8 529.8h0.9v0.9h-0.9zM237.2 516.1h0.9v0.9h-0.9zM214.1 532.0h0.9v0.9h-0.9zM215.1 533.0h0.9v0.9h-0.9zM214.8 542.3h0.9v0.9h-0.9zM210.6 521.9h0.9v0.9h-0.9zM207.5 512.6h0.9v0.9h-0.9zM237.7 514.9h0.9v0.9h-0.9zM227.5 524.5h0.9v0.9h-0.9zM206.9 522.9h0.9v0.9h-0.9zM203.3 519.8h0.9v0.9h-0.9zM209.2 531.1h0.9v0.9h-0.9zM212.6 541.9h0.9v0.9h-0.9zM214.1 516.8h0.9v0.9h-0.9zM230.7 521.2h0.9v0.9h-0.9zM207.4 528.3h0.9v0.9h-0.9zM205.1 532.0h0.9v0.9h-0.9zM200.9 522.7h0.9v0.9h-0.9zM208.5 528.4h0.9v0.9h-0.9zM214.9 519.8h0.9v0.9h-0.9zM223.1 537.6h0.9v0.9h-0.9zM215.5 524.8h0.9v0.9h-0.9zM225.4 529.3h0.9v0.9h-0.9zM218.6 534.1h0.9v0.9h-0.9zM196.3 531.7h0.9v0.9h-0.9zM219.5 516.7h0.9v0.9h-0.9zM226.7 518.6h0.9v0.9h-0.9zM188.7 536.9h0.9v0.9h-0.9zM220.4 536.5h0.9v0.9h-0.9zM206.7 542.6h0.9v0.9h-0.9zM224.8 539.7h0.9v0.9h-0.9zM214.3 526.7h0.9v0.9h-0.9zM208.1 523.3h0.9v0.9h-0.9zM208.0 546.6h0.9v0.9h-0.9zM203.1 541.3h0.9v0.9h-0.9zM209.5 540.5h0.9v0.9h-0.9zM233.5 512.5h0.9v0.9h-0.9zM202.8 526.0h0.9v0.9h-0.9zM206.8 524.6h0.9v0.9h-0.9zM213.4 526.3h0.9v0.9h-0.9zM211.9 529.4h0.9v0.9h-0.9zM214.7 504.1h0.9v0.9h-0.9zM231.6 528.0h0.9v0.9h-0.9zM220.8 546.4h0.9v0.9h-0.9zM198.3 532.0h0.9v0.9h-0.9zM212.0 534.4h0.9v0.9h-0.9zM191.8 523.6h0.9v0.9h-0.9zM228.3 523.7h0.9v0.9h-0.9zM207.3 517.4h0.9v0.9h-0.9zM211.5 532.6h0.9v0.9h-0.9zM207.9 537.2h0.9v0.9h-0.9zM194.2 528.1h0.9v0.9h-0.9zM204.2 531.6h0.9v0.9h-0.9zM226.0 528.9h0.9v0.9h-0.9zM217.8 536.5h0.9v0.9h-0.9zM216.2 534.2h0.9v0.9h-0.9zM202.4 539.4h0.9v0.9h-0.9zM211.2 522.1h0.9v0.9h-0.9zM212.2 536.5h0.9v0.9h-0.9zM222.2 528.1h0.9v0.9h-0.9zM200.1 536.4h0.9v0.9h-0.9zM214.0 547.1h0.9v0.9h-0.9zM208.1 526.8h0.9v0.9h-0.9zM193.0 524.5h0.9v0.9h-0.9zM189.5 506.0h0.9v0.9h-0.9zM209.2 530.4h0.9v0.9h-0.9zM225.9 523.9h0.9v0.9h-0.9zM215.8 528.4h0.9v0.9h-0.9zM198.9 526.3h0.9v0.9h-0.9zM209.2 526.3h0.9v0.9h-0.9zM211.8 533.6h0.9v0.9h-0.9zM196.4 525.4h0.9v0.9h-0.9zM216.0 520.4h0.9v0.9h-0.9zM224.3 521.1h0.9v0.9h-0.9zM213.2 529.0h0.9v0.9h-0.9zM208.4 523.0h0.9v0.9h-0.9zM210.9 528.9h0.9v0.9h-0.9zM218.7 506.3h0.9v0.9h-0.9zM213.3 530.2h0.9v0.9h-0.9zM200.6 535.8h0.9v0.9h-0.9zM205.0 530.8h0.9v0.9h-0.9zM227.0 543.4h0.9v0.9h-0.9zM200.9 538.1h0.9v0.9h-0.9zM222.2 523.2h0.9v0.9h-0.9zM214.6 532.8h0.9v0.9h-0.9zM212.1 512.6h0.9v0.9h-0.9zM212.1 520.2h0.9v0.9h-0.9zM211.6 538.1h0.9v0.9h-0.9zM220.9 524.7h0.9v0.9h-0.9zM207.0 510.9h0.9v0.9h-0.9zM219.1 534.6h0.9v0.9h-0.9zM214.8 523.5h0.9v0.9h-0.9zM190.0 531.3h0.9v0.9h-0.9zM219.4 541.9h0.9v0.9h-0.9z" fill="#444"/>
<path d="M236.9 519.8h0.9v0.9h-0.9zM252.1 510.4h0.9v0.9h-0.9zM249.6 520.9h0.9v0.9h-0.9zM229.9 512.7h0.9v0.9h-0.9zM245.9 509.7h0.9v0.9h-0.9zM232.7 511.3h0.9v0.9h-0.9zM250.6 506.1h0.9v0.9h-0.9zM246.7 510.6h0.9v0.9h-0.9zM244.9 517.9h0.9v0.9h-0.9zM239.2 513.8h0.9v0.9h-0.9zM250.0 511.7h0.9v0.9h-0.9zM246.1 513.8h0.9v0.9h-0.9zM248.7 504.0h0.9v0.9h-0.9zM247.2 516.7h0.9v0.9h-0.9zM248.5 502.3h0.9v0.9h-0.9zM239.0 519.3h0.9v0.9h-0.9zM237.4 520.0h0.9v0.9h-0.9zM247.0 508.8h0.9v0.9h-0.9zM241.1 518.2h0.9v0.9h-0.9zM250.4 513.9h0.9v0.9h-0.9zM235.5 514.6h0.9v0.9h-0.9zM245.4 515.9h0.9v0.9h-0.9zM239.7 514.4h0.9v0.9h-0.9zM241.8 512.2h0.9v0.9h-0.9zM247.5 510.2h0.9v0.9h-0.9zM245.6 516.2h0.9v0.9h-0.9zM246.0 512.6h0.9v0.9h-0.9zM237.3 509.2h0.9v0.9h-0.9zM247.8 510.9h0.9v0.9h-0.9zM236.4 505.8h0.9v0.9h-0.9zM250.5 518.8h0.9v0.9h-0.9zM254.8 508.7h0.9v0.9h-0.9zM243.0 514.5h0.9v0.9h-0.9zM250.5 510.8h0.9v0.9h-0.9zM249.1 512.7h0.9v0.9h-0.9zM248.5 512.9h0.9v0.9h-0.9zM235.8 510.7h0.9v0.9h-0.9zM236.2 509.9h0.9v0.9h-0.9zM249.0 518.8h0.9v0.9h-0.9zM236.2 517.5h0.9v0.9h-0.9zM248.1 510.7h0.9v0.9h-0.9zM242.8 514.8h0.9v0.9h-0.9zM246.8 516.8h0.9v0.9h-0.9zM245.6 517.0h0.9v0.9h-0.9zM239.5 511.4h0.9v0.9h-0.9zM242.0 513.1h0.9v0.9h-0.9zM244.4 509.4h0.9v0.9h-0.9zM241.5 509.3h0.9v0.9h-0.9zM231.3 509.0h0.9v0.9h-0.9zM252.8 513.5h0.9v0.9h-0.9zM238.5 516.3h0.9v0.9h-0.9zM246.4 507.8h0.9v0.9h-0.9zM246.8 517.0h0.9v0.9h-0.9zM247.1 519.0h0.9v0.9h-0.9zM245.3 506.1h0.9v0.9h-0.9zM236.6 510.5h0.9v0.9h-0.9zM243.4 518.3h0.9v0.9h-0.9zM239.7 514.6h0.9v0.9h-0.9zM244.1 520.5h0.9v0.9h-0.9zM248.0 515.6h0.9v0.9h-0.9z" fill="#555"/>
<path d="M238.4 536.1h0.9v0.9h-0.9zM251.7 543.0h0.9v0.9h-0.9zM240.7 527.5h0.9v0.9h-0.9zM244.1 534.8h0.9v0.9h-0.9zM235.7 534.4h0.9v0.9h-0.9zM234.8 540.1h0.9v0.9h-0.9zM237.7 538.2h0.9v0.9h-0.9zM231.7 545.4h0.9v0.9h-0.9zM242.9 545.5h0.9v0.9h-0.9zM247.9 544.2h0.9v0.9h-0.9zM235.2 531.6h0.9v0.9h-0.9zM247.7 540.6h0.9v0.9h-0.9zM233.7 529.4h0.9v0.9h-0.9zM243.7 533.0h0.9v0.9h-0.9zM236.7 539.1h0.9v0.9h-0.9zM239.6 545.3h0.9v0.9h-0.9zM248.1 542.0h0.9v0.9h-0.9zM242.1 528.1h0.9v0.9h-0.9zM232.5 524.8h0.9v0.9h-0.9zM232.9 530.8h0.9v0.9h-0.9zM249.0 533.4h0.9v0.9h-0.9zM238.0 546.7h0.9v0.9h-0.9zM250.5 542.2h0.9v0.9h-0.9zM248.7 543.0h0.9v0.9h-0.9zM238.7 528.8h0.9v0.9h-0.9zM243.3 534.7h0.9v0.9h-0.9zM242.0 537.0h0.9v0.9h-0.9zM241.5 526.9h0.9v0.9h-0.9zM244.4 526.5h0.9v0.9h-0.9zM233.1 531.1h0.9v0.9h-0.9z" fill="#777"/>
<text x="194.3" y="493.0" font-size="11" font-weight="bold" text-anchor="start" >17.7%</text>
<path d="M183.3 643.3v2.2M183.3 643.3h-2.2M189.9 643.3v1.3M183.3 638.2h-1.3M193.7 643.3v1.3M183.3 635.2h-1.3M196.5 643.3v1.3M183.3 633.0h-1.3M198.6 643.3v1.3M183.3 631.4h-1.3M200.3 643.3v1.3M183.3 630.0h-1.3M201.8 643.3v1.3M183.3 628.9h-1.3M203.1 643.3v1.3M183.3 627.9h-1.3M204.2 643.3v1.3M183.3 627.0h-1.3M205.2 643.3v2.2M183.3 626.2h-2.2M211.8 643.3v1.3M183.3 621.1h-1.3M215.6 643.3v1.3M183.3 618.1h-1.3M218.3 643.3v1.3M183.3 615.9h-1.3M220.5 643.3v1.3M183.3 614.3h-1.3M222.2 643.3v1.3M183.3 612.9h-1.3M223.7 643.3v1.3M183.3 611.8h-1.3M224.9 643.3v1.3M183.3 610.8h-1.3M226.0 643.3v1.3M183.3 609.9h-1.3M227.1 643.3v2.2M183.3 609.1h-2.2M233.6 643.3v1.3M183.3 604.0h-1.3M237.5 643.3v1.3M183.3 601.0h-1.3M240.2 643.3v1.3M183.3 598.9h-1.3M242.3 643.3v1.3M183.3 597.2h-1.3M244.1 643.3v1.3M183.3 595.9h-1.3M245.5 643.3v1.3M183.3 594.7h-1.3M246.8 643.3v1.3M183.3 593.7h-1.3M247.9 643.3v1.3M183.3 592.9h-1.3M248.9 643.3v2.2M183.3 592.1h-2.2M255.5 643.3v1.3M183.3 586.9h-1.3M259.4 643.3v1.3M183.3 583.9h-1.3M262.1 643.3v1.3M183.3 581.8h-1.3M264.2 643.3v1.3M183.3 580.1h-1.3M265.9 643.3v1.3M183.3 578.8h-1.3M267.4 643.3v1.3M183.3 577.6h-1.3M268.7 643.3v1.3M183.3 576.7h-1.3M269.8 643.3v1.3M183.3 575.8h-1.3M270.8 643.3v2.2M183.3 575.0h-2.2" stroke="#222" stroke-width="0.8" fill="none"/>
<rect x="183.3" y="575.0" width="87.5" height="68.3" fill="none" stroke="#111" stroke-width="1.1"/>
<line x1="231.30" y1="575.00" x2="231.30" y2="643.30" stroke="#111" stroke-width="1.1"/>
<line x1="183.30" y1="618.80" x2="270.80" y2="618.80" stroke="#111" stroke-width="1.1"/>
<text class="tk" x="183.9" y="653.5" font-size="7" text-anchor="middle">10<tspan font-size="5.4" dy="-2.8">0</tspan></text>
<text class="tk" transform="translate(177.9,643.3) rotate(-90)" font-size="7" text-anchor="middle">10<tspan font-size="5.4" dy="-2.8">0</tspan></text>
<text class="tk" x="205.8" y="653.5" font-size="7" text-anchor="middle">10<tspan font-size="5.4" dy="-2.8">1</tspan></text>
<text class="tk" transform="translate(177.9,626.2) rotate(-90)" font-size="7" text-anchor="middle">10<tspan font-size="5.4" dy="-2.8">1</tspan></text>
<text class="tk" x="227.7" y="653.5" font-size="7" text-anchor="middle">10<tspan font-size="5.4" dy="-2.8">2</tspan></text>
<text class="tk" transform="translate(177.9,609.1) rotate(-90)" font-size="7" text-anchor="middle">10<tspan font-size="5.4" dy="-2.8">2</tspan></text>
<text class="tk" x="249.5" y="653.5" font-size="7" text-anchor="middle">10<tspan font-size="5.4" dy="-2.8">3</tspan></text>
<text class="tk" transform="translate(177.9,592.1) rotate(-90)" font-size="7" text-anchor="middle">10<tspan font-size="5.4" dy="-2.8">3</tspan></text>
<text class="tk" x="271.4" y="653.5" font-size="7" text-anchor="middle">10<tspan font-size="5.4" dy="-2.8">4</tspan></text>
<text class="tk" transform="translate(177.9,575.0) rotate(-90)" font-size="7" text-anchor="middle">10<tspan font-size="5.4" dy="-2.8">4</tspan></text>
<path d="M244.5 607.0h0.9v0.9h-0.9zM246.4 610.3h0.9v0.9h-0.9zM244.1 606.9h0.9v0.9h-0.9zM239.4 610.5h0.9v0.9h-0.9zM243.8 610.4h0.9v0.9h-0.9zM233.7 608.6h0.9v0.9h-0.9zM245.8 607.6h0.9v0.9h-0.9zM242.0 610.3h0.9v0.9h-0.9zM242.6 600.2h0.9v0.9h-0.9zM241.1 609.7h0.9v0.9h-0.9zM233.1 605.9h0.9v0.9h-0.9zM244.9 603.0h0.9v0.9h-0.9zM235.8 610.9h0.9v0.9h-0.9zM240.8 605.8h0.9v0.9h-0.9zM240.7 596.6h0.9v0.9h-0.9zM249.4 615.3h0.9v0.9h-0.9zM240.1 608.4h0.9v0.9h-0.9zM242.8 611.1h0.9v0.9h-0.9zM241.0 605.0h0.9v0.9h-0.9zM243.4 604.4h0.9v0.9h-0.9zM242.3 607.5h0.9v0.9h-0.9zM239.5 612.6h0.9v0.9h-0.9zM239.5 611.7h0.9v0.9h-0.9zM244.9 612.4h0.9v0.9h-0.9zM235.9 609.4h0.9v0.9h-0.9zM242.8 609.2h0.9v0.9h-0.9zM243.9 609.4h0.9v0.9h-0.9zM242.8 616.3h0.9v0.9h-0.9zM242.9 605.4h0.9v0.9h-0.9zM247.3 614.0h0.9v0.9h-0.9zM233.7 613.6h0.9v0.9h-0.9zM238.3 608.8h0.9v0.9h-0.9zM240.5 609.4h0.9v0.9h-0.9zM243.5 614.4h0.9v0.9h-0.9zM239.1 609.6h0.9v0.9h-0.9zM244.0 608.0h0.9v0.9h-0.9zM235.2 612.7h0.9v0.9h-0.9zM238.9 612.6h0.9v0.9h-0.9zM235.7 615.4h0.9v0.9h-0.9zM237.6 606.5h0.9v0.9h-0.9zM243.7 608.6h0.9v0.9h-0.9zM240.0 613.3h0.9v0.9h-0.9zM247.7 616.0h0.9v0.9h-0.9zM242.6 607.4h0.9v0.9h-0.9zM242.5 608.1h0.9v0.9h-0.9zM239.4 614.4h0.9v0.9h-0.9zM231.9 611.3h0.9v0.9h-0.9zM242.0 610.4h0.9v0.9h-0.9zM245.4 613.9h0.9v0.9h-0.9zM241.5 614.7h0.9v0.9h-0.9zM244.5 607.8h0.9v0.9h-0.9zM244.2 610.6h0.9v0.9h-0.9zM242.3 604.4h0.9v0.9h-0.9zM237.8 602.6h0.9v0.9h-0.9zM237.3 608.7h0.9v0.9h-0.9zM242.1 609.2h0.9v0.9h-0.9zM240.9 603.6h0.9v0.9h-0.9zM244.0 614.9h0.9v0.9h-0.9zM238.4 608.8h0.9v0.9h-0.9zM242.7 607.0h0.9v0.9h-0.9zM244.6 604.8h0.9v0.9h-0.9zM246.1 604.4h0.9v0.9h-0.9zM244.8 609.8h0.9v0.9h-0.9zM238.0 610.8h0.9v0.9h-0.9zM242.7 605.3h0.9v0.9h-0.9zM244.1 603.4h0.9v0.9h-0.9zM240.9 607.4h0.9v0.9h-0.9zM233.2 608.1h0.9v0.9h-0.9zM242.1 608.1h0.9v0.9h-0.9zM239.6 614.2h0.9v0.9h-0.9zM243.2 609.5h0.9v0.9h-0.9zM238.5 604.8h0.9v0.9h-0.9zM241.5 612.9h0.9v0.9h-0.9zM244.4 609.6h0.9v0.9h-0.9zM234.3 616.2h0.9v0.9h-0.9zM236.5 606.8h0.9v0.9h-0.9zM241.9 614.2h0.9v0.9h-0.9zM231.9 605.2h0.9v0.9h-0.9zM239.2 614.0h0.9v0.9h-0.9zM245.1 612.2h0.9v0.9h-0.9zM241.9 609.0h0.9v0.9h-0.9zM238.7 610.3h0.9v0.9h-0.9zM246.4 610.1h0.9v0.9h-0.9zM243.5 604.1h0.9v0.9h-0.9zM244.5 605.7h0.9v0.9h-0.9zM235.4 610.6h0.9v0.9h-0.9zM244.8 600.9h0.9v0.9h-0.9zM234.8 611.2h0.9v0.9h-0.9zM245.7 610.6h0.9v0.9h-0.9zM245.0 615.0h0.9v0.9h-0.9zM245.3 611.6h0.9v0.9h-0.9zM239.1 611.8h0.9v0.9h-0.9zM243.3 610.0h0.9v0.9h-0.9zM243.8 609.4h0.9v0.9h-0.9zM242.0 603.1h0.9v0.9h-0.9zM240.4 605.3h0.9v0.9h-0.9zM241.5 605.5h0.9v0.9h-0.9zM236.5 611.1h0.9v0.9h-0.9zM247.9 607.2h0.9v0.9h-0.9zM238.0 612.1h0.9v0.9h-0.9zM243.4 610.3h0.9v0.9h-0.9zM244.9 609.3h0.9v0.9h-0.9zM246.4 610.8h0.9v0.9h-0.9zM240.9 610.6h0.9v0.9h-0.9zM246.6 614.8h0.9v0.9h-0.9zM241.7 618.2h0.9v0.9h-0.9zM240.6 602.9h0.9v0.9h-0.9zM236.9 602.8h0.9v0.9h-0.9zM242.7 607.2h0.9v0.9h-0.9zM241.4 605.4h0.9v0.9h-0.9zM242.1 605.8h0.9v0.9h-0.9zM240.6 612.5h0.9v0.9h-0.9zM241.3 611.6h0.9v0.9h-0.9zM236.3 601.0h0.9v0.9h-0.9zM244.0 608.5h0.9v0.9h-0.9zM239.3 601.1h0.9v0.9h-0.9zM239.8 608.2h0.9v0.9h-0.9zM243.5 603.0h0.9v0.9h-0.9zM234.8 607.9h0.9v0.9h-0.9zM240.5 611.4h0.9v0.9h-0.9zM241.2 609.2h0.9v0.9h-0.9zM239.2 603.3h0.9v0.9h-0.9zM237.1 617.9h0.9v0.9h-0.9zM241.6 607.0h0.9v0.9h-0.9zM244.2 608.6h0.9v0.9h-0.9zM240.8 612.9h0.9v0.9h-0.9zM241.7 602.3h0.9v0.9h-0.9zM232.8 605.7h0.9v0.9h-0.9zM234.6 609.9h0.9v0.9h-0.9zM241.2 606.5h0.9v0.9h-0.9zM235.8 610.0h0.9v0.9h-0.9zM245.1 607.4h0.9v0.9h-0.9zM243.3 608.5h0.9v0.9h-0.9zM239.0 613.0h0.9v0.9h-0.9zM239.7 607.0h0.9v0.9h-0.9zM249.5 610.7h0.9v0.9h-0.9zM241.2 610.7h0.9v0.9h-0.9zM242.9 611.5h0.9v0.9h-0.9zM243.7 612.1h0.9v0.9h-0.9zM245.3 608.0h0.9v0.9h-0.9zM237.1 602.2h0.9v0.9h-0.9zM237.1 616.3h0.9v0.9h-0.9zM247.8 602.0h0.9v0.9h-0.9zM242.6 607.9h0.9v0.9h-0.9zM247.2 605.0h0.9v0.9h-0.9zM237.5 615.1h0.9v0.9h-0.9zM240.0 612.8h0.9v0.9h-0.9zM245.0 606.8h0.9v0.9h-0.9zM246.4 603.8h0.9v0.9h-0.9zM233.9 607.4h0.9v0.9h-0.9zM246.9 604.3h0.9v0.9h-0.9zM243.1 616.1h0.9v0.9h-0.9zM238.4 605.0h0.9v0.9h-0.9zM235.7 608.2h0.9v0.9h-0.9zM240.1 615.3h0.9v0.9h-0.9zM248.4 613.3h0.9v0.9h-0.9zM243.9 609.2h0.9v0.9h-0.9zM233.3 610.8h0.9v0.9h-0.9zM231.0 607.3h0.9v0.9h-0.9zM245.2 605.9h0.9v0.9h-0.9zM236.2 609.0h0.9v0.9h-0.9zM238.4 609.2h0.9v0.9h-0.9zM242.0 616.0h0.9v0.9h-0.9zM236.3 614.5h0.9v0.9h-0.9zM242.3 603.0h0.9v0.9h-0.9zM240.6 604.5h0.9v0.9h-0.9zM236.2 604.9h0.9v0.9h-0.9zM235.6 610.8h0.9v0.9h-0.9zM252.0 612.7h0.9v0.9h-0.9zM239.8 605.2h0.9v0.9h-0.9zM238.9 608.1h0.9v0.9h-0.9zM239.8 601.2h0.9v0.9h-0.9zM248.7 607.2h0.9v0.9h-0.9zM241.3 612.9h0.9v0.9h-0.9zM240.3 605.5h0.9v0.9h-0.9zM240.8 600.1h0.9v0.9h-0.9zM246.7 604.2h0.9v0.9h-0.9zM239.5 604.7h0.9v0.9h-0.9zM235.1 603.7h0.9v0.9h-0.9zM236.2 596.9h0.9v0.9h-0.9zM238.1 606.7h0.9v0.9h-0.9zM243.0 604.7h0.9v0.9h-0.9zM238.1 609.6h0.9v0.9h-0.9zM244.0 611.6h0.9v0.9h-0.9zM240.4 610.3h0.9v0.9h-0.9zM235.1 613.0h0.9v0.9h-0.9zM239.4 599.4h0.9v0.9h-0.9zM241.8 610.1h0.9v0.9h-0.9zM242.9 611.7h0.9v0.9h-0.9zM242.7 611.3h0.9v0.9h-0.9zM240.0 613.3h0.9v0.9h-0.9zM248.7 614.1h0.9v0.9h-0.9zM241.0 610.2h0.9v0.9h-0.9zM238.6 607.6h0.9v0.9h-0.9zM241.4 614.0h0.9v0.9h-0.9zM240.3 612.8h0.9v0.9h-0.9zM233.9 618.1h0.9v0.9h-0.9zM236.1 606.2h0.9v0.9h-0.9zM236.5 605.9h0.9v0.9h-0.9zM241.5 608.4h0.9v0.9h-0.9zM237.5 607.5h0.9v0.9h-0.9zM240.7 611.4h0.9v0.9h-0.9zM240.1 612.9h0.9v0.9h-0.9zM242.0 612.6h0.9v0.9h-0.9zM246.7 607.8h0.9v0.9h-0.9zM246.7 608.2h0.9v0.9h-0.9zM238.8 609.5h0.9v0.9h-0.9zM249.9 611.6h0.9v0.9h-0.9zM248.3 609.2h0.9v0.9h-0.9zM242.8 605.5h0.9v0.9h-0.9zM241.2 612.7h0.9v0.9h-0.9zM239.0 610.3h0.9v0.9h-0.9zM236.2 605.8h0.9v0.9h-0.9zM240.8 615.1h0.9v0.9h-0.9zM243.4 611.6h0.9v0.9h-0.9zM240.1 602.6h0.9v0.9h-0.9zM238.9 612.1h0.9v0.9h-0.9zM246.0 604.8h0.9v0.9h-0.9zM233.6 609.6h0.9v0.9h-0.9zM241.4 606.7h0.9v0.9h-0.9zM230.4 611.6h0.9v0.9h-0.9zM250.7 611.2h0.9v0.9h-0.9zM243.5 608.0h0.9v0.9h-0.9zM242.8 611.9h0.9v0.9h-0.9zM241.1 606.8h0.9v0.9h-0.9zM240.6 606.3h0.9v0.9h-0.9zM242.0 606.4h0.9v0.9h-0.9zM245.7 614.8h0.9v0.9h-0.9zM245.9 609.0h0.9v0.9h-0.9zM237.8 611.1h0.9v0.9h-0.9zM244.2 609.9h0.9v0.9h-0.9zM238.6 607.1h0.9v0.9h-0.9zM246.7 608.5h0.9v0.9h-0.9zM245.0 611.1h0.9v0.9h-0.9zM239.4 610.9h0.9v0.9h-0.9zM239.8 612.5h0.9v0.9h-0.9zM241.1 607.9h0.9v0.9h-0.9zM239.8 606.4h0.9v0.9h-0.9zM236.2 606.1h0.9v0.9h-0.9zM237.7 617.6h0.9v0.9h-0.9zM243.7 610.4h0.9v0.9h-0.9zM240.9 607.3h0.9v0.9h-0.9zM244.4 604.5h0.9v0.9h-0.9zM239.5 603.2h0.9v0.9h-0.9zM242.0 614.3h0.9v0.9h-0.9zM236.1 604.7h0.9v0.9h-0.9zM245.9 606.7h0.9v0.9h-0.9zM245.3 608.1h0.9v0.9h-0.9zM240.8 607.0h0.9v0.9h-0.9zM241.2 605.8h0.9v0.9h-0.9zM242.7 606.4h0.9v0.9h-0.9zM240.9 611.3h0.9v0.9h-0.9zM241.2 603.4h0.9v0.9h-0.9zM241.8 610.7h0.9v0.9h-0.9zM240.0 610.7h0.9v0.9h-0.9zM246.2 607.6h0.9v0.9h-0.9zM241.9 608.2h0.9v0.9h-0.9zM242.4 603.9h0.9v0.9h-0.9zM241.0 611.5h0.9v0.9h-0.9zM245.4 614.2h0.9v0.9h-0.9zM238.8 599.7h0.9v0.9h-0.9zM242.4 607.3h0.9v0.9h-0.9zM245.5 604.4h0.9v0.9h-0.9zM241.4 604.2h0.9v0.9h-0.9zM241.1 614.6h0.9v0.9h-0.9zM245.7 610.8h0.9v0.9h-0.9zM244.6 610.2h0.9v0.9h-0.9zM240.7 614.4h0.9v0.9h-0.9zM245.5 609.7h0.9v0.9h-0.9zM245.4 610.4h0.9v0.9h-0.9zM246.0 602.7h0.9v0.9h-0.9zM237.9 607.1h0.9v0.9h-0.9zM242.1 607.2h0.9v0.9h-0.9zM242.5 606.6h0.9v0.9h-0.9zM243.5 617.6h0.9v0.9h-0.9zM239.0 607.5h0.9v0.9h-0.9zM237.5 611.8h0.9v0.9h-0.9zM236.1 612.6h0.9v0.9h-0.9zM240.4 606.0h0.9v0.9h-0.9zM248.3 607.5h0.9v0.9h-0.9zM244.6 616.0h0.9v0.9h-0.9zM236.4 607.1h0.9v0.9h-0.9zM245.6 610.6h0.9v0.9h-0.9zM243.1 610.9h0.9v0.9h-0.9zM242.2 601.2h0.9v0.9h-0.9zM230.7 601.7h0.9v0.9h-0.9zM246.7 611.6h0.9v0.9h-0.9zM244.7 612.0h0.9v0.9h-0.9zM241.7 606.3h0.9v0.9h-0.9zM242.8 608.2h0.9v0.9h-0.9zM244.3 603.8h0.9v0.9h-0.9zM246.1 613.6h0.9v0.9h-0.9zM237.5 602.0h0.9v0.9h-0.9zM241.7 606.9h0.9v0.9h-0.9zM240.6 606.1h0.9v0.9h-0.9zM235.5 611.2h0.9v0.9h-0.9zM235.4 610.1h0.9v0.9h-0.9zM241.7 605.3h0.9v0.9h-0.9zM240.9 609.8h0.9v0.9h-0.9zM243.5 610.0h0.9v0.9h-0.9zM226.5 613.5h0.9v0.9h-0.9zM245.1 601.9h0.9v0.9h-0.9zM238.1 601.3h0.9v0.9h-0.9zM238.3 608.9h0.9v0.9h-0.9zM243.2 607.4h0.9v0.9h-0.9zM235.8 611.7h0.9v0.9h-0.9zM241.0 613.0h0.9v0.9h-0.9zM235.2 600.1h0.9v0.9h-0.9zM246.4 610.9h0.9v0.9h-0.9zM242.3 612.7h0.9v0.9h-0.9zM247.7 607.7h0.9v0.9h-0.9zM238.8 613.5h0.9v0.9h-0.9zM243.6 605.4h0.9v0.9h-0.9zM245.2 606.2h0.9v0.9h-0.9zM245.5 609.2h0.9v0.9h-0.9zM237.3 608.9h0.9v0.9h-0.9zM232.2 607.4h0.9v0.9h-0.9zM240.7 608.4h0.9v0.9h-0.9zM242.1 610.5h0.9v0.9h-0.9zM243.8 610.7h0.9v0.9h-0.9zM239.5 613.9h0.9v0.9h-0.9zM244.4 610.3h0.9v0.9h-0.9zM242.5 609.2h0.9v0.9h-0.9zM230.4 606.8h0.9v0.9h-0.9zM239.0 604.2h0.9v0.9h-0.9zM243.6 613.5h0.9v0.9h-0.9zM243.2 606.5h0.9v0.9h-0.9zM242.1 610.0h0.9v0.9h-0.9zM238.0 610.0h0.9v0.9h-0.9zM248.5 606.5h0.9v0.9h-0.9zM237.6 607.5h0.9v0.9h-0.9zM231.1 604.9h0.9v0.9h-0.9zM241.6 607.3h0.9v0.9h-0.9zM243.1 607.2h0.9v0.9h-0.9zM242.4 609.9h0.9v0.9h-0.9zM236.0 604.5h0.9v0.9h-0.9zM237.0 604.1h0.9v0.9h-0.9zM244.8 606.7h0.9v0.9h-0.9zM246.5 613.4h0.9v0.9h-0.9zM239.7 604.8h0.9v0.9h-0.9zM239.3 613.3h0.9v0.9h-0.9zM233.2 606.7h0.9v0.9h-0.9zM247.7 606.8h0.9v0.9h-0.9zM244.3 613.0h0.9v0.9h-0.9zM242.6 611.2h0.9v0.9h-0.9zM243.5 610.7h0.9v0.9h-0.9zM235.7 613.5h0.9v0.9h-0.9zM246.6 607.2h0.9v0.9h-0.9zM237.2 609.5h0.9v0.9h-0.9zM241.5 611.0h0.9v0.9h-0.9zM241.6 609.2h0.9v0.9h-0.9zM237.6 613.2h0.9v0.9h-0.9zM240.7 612.9h0.9v0.9h-0.9zM242.5 603.7h0.9v0.9h-0.9zM243.5 611.2h0.9v0.9h-0.9zM240.8 609.2h0.9v0.9h-0.9zM239.5 608.8h0.9v0.9h-0.9zM243.0 607.2h0.9v0.9h-0.9zM239.7 612.4h0.9v0.9h-0.9zM237.5 607.7h0.9v0.9h-0.9zM248.6 612.5h0.9v0.9h-0.9zM239.6 606.6h0.9v0.9h-0.9zM236.0 612.0h0.9v0.9h-0.9zM243.5 616.9h0.9v0.9h-0.9zM241.4 611.7h0.9v0.9h-0.9zM243.9 606.4h0.9v0.9h-0.9zM248.1 613.2h0.9v0.9h-0.9zM246.3 606.4h0.9v0.9h-0.9zM241.0 607.5h0.9v0.9h-0.9zM242.2 611.2h0.9v0.9h-0.9zM241.6 603.5h0.9v0.9h-0.9zM244.9 610.5h0.9v0.9h-0.9zM240.7 611.9h0.9v0.9h-0.9zM238.7 608.4h0.9v0.9h-0.9zM244.8 613.0h0.9v0.9h-0.9zM242.9 607.2h0.9v0.9h-0.9zM243.2 609.2h0.9v0.9h-0.9zM239.9 613.8h0.9v0.9h-0.9zM235.6 608.9h0.9v0.9h-0.9zM247.9 599.3h0.9v0.9h-0.9zM246.9 612.2h0.9v0.9h-0.9zM241.8 600.9h0.9v0.9h-0.9zM243.6 607.7h0.9v0.9h-0.9zM241.3 611.6h0.9v0.9h-0.9zM241.5 606.5h0.9v0.9h-0.9zM250.8 615.6h0.9v0.9h-0.9zM240.2 613.0h0.9v0.9h-0.9zM246.6 610.3h0.9v0.9h-0.9zM244.6 612.8h0.9v0.9h-0.9zM242.3 613.0h0.9v0.9h-0.9zM240.0 614.1h0.9v0.9h-0.9zM234.5 613.7h0.9v0.9h-0.9zM236.7 607.9h0.9v0.9h-0.9zM245.8 615.6h0.9v0.9h-0.9zM242.7 621.9h0.9v0.9h-0.9zM245.5 610.6h0.9v0.9h-0.9zM244.2 610.7h0.9v0.9h-0.9zM240.7 609.8h0.9v0.9h-0.9zM246.1 609.3h0.9v0.9h-0.9zM245.4 611.1h0.9v0.9h-0.9zM241.6 610.0h0.9v0.9h-0.9zM246.9 611.5h0.9v0.9h-0.9zM240.9 606.2h0.9v0.9h-0.9zM241.9 607.1h0.9v0.9h-0.9zM249.5 609.1h0.9v0.9h-0.9zM240.0 606.6h0.9v0.9h-0.9zM242.4 605.9h0.9v0.9h-0.9zM245.4 602.1h0.9v0.9h-0.9zM239.0 604.9h0.9v0.9h-0.9zM238.7 614.0h0.9v0.9h-0.9zM246.8 602.1h0.9v0.9h-0.9zM245.4 614.0h0.9v0.9h-0.9zM241.7 611.6h0.9v0.9h-0.9zM240.9 606.5h0.9v0.9h-0.9zM240.5 607.6h0.9v0.9h-0.9zM244.1 614.8h0.9v0.9h-0.9zM237.2 609.3h0.9v0.9h-0.9zM244.8 615.6h0.9v0.9h-0.9zM244.0 603.8h0.9v0.9h-0.9zM243.2 607.6h0.9v0.9h-0.9zM240.9 607.7h0.9v0.9h-0.9zM242.9 610.8h0.9v0.9h-0.9zM232.3 612.8h0.9v0.9h-0.9zM237.3 607.2h0.9v0.9h-0.9zM238.9 619.3h0.9v0.9h-0.9zM245.9 604.8h0.9v0.9h-0.9zM243.9 609.0h0.9v0.9h-0.9zM239.5 611.1h0.9v0.9h-0.9zM242.9 604.6h0.9v0.9h-0.9zM239.9 608.7h0.9v0.9h-0.9zM240.0 613.3h0.9v0.9h-0.9zM241.3 608.6h0.9v0.9h-0.9zM240.6 615.4h0.9v0.9h-0.9zM244.0 606.9h0.9v0.9h-0.9zM242.3 613.6h0.9v0.9h-0.9zM239.2 609.4h0.9v0.9h-0.9zM237.3 609.2h0.9v0.9h-0.9zM241.3 605.7h0.9v0.9h-0.9zM248.0 608.5h0.9v0.9h-0.9zM242.0 615.5h0.9v0.9h-0.9zM241.6 603.1h0.9v0.9h-0.9zM244.0 607.2h0.9v0.9h-0.9zM239.7 610.9h0.9v0.9h-0.9zM244.7 613.6h0.9v0.9h-0.9zM247.8 612.0h0.9v0.9h-0.9zM238.3 614.4h0.9v0.9h-0.9zM246.3 608.5h0.9v0.9h-0.9zM246.6 603.2h0.9v0.9h-0.9zM244.7 605.5h0.9v0.9h-0.9zM235.1 607.5h0.9v0.9h-0.9zM239.0 607.5h0.9v0.9h-0.9zM245.1 605.1h0.9v0.9h-0.9zM238.8 604.0h0.9v0.9h-0.9zM240.5 604.5h0.9v0.9h-0.9zM240.8 610.8h0.9v0.9h-0.9zM238.1 612.6h0.9v0.9h-0.9zM242.0 608.9h0.9v0.9h-0.9zM237.7 618.2h0.9v0.9h-0.9zM239.4 600.9h0.9v0.9h-0.9zM243.3 612.5h0.9v0.9h-0.9zM233.3 609.9h0.9v0.9h-0.9zM237.5 606.0h0.9v0.9h-0.9zM245.9 608.0h0.9v0.9h-0.9zM245.6 605.3h0.9v0.9h-0.9zM235.1 608.3h0.9v0.9h-0.9zM238.2 607.8h0.9v0.9h-0.9zM238.0 604.8h0.9v0.9h-0.9zM239.5 611.2h0.9v0.9h-0.9zM240.7 612.3h0.9v0.9h-0.9zM237.1 607.5h0.9v0.9h-0.9zM235.7 607.3h0.9v0.9h-0.9zM248.5 609.3h0.9v0.9h-0.9zM242.9 606.1h0.9v0.9h-0.9zM242.4 603.1h0.9v0.9h-0.9zM250.6 599.6h0.9v0.9h-0.9zM244.6 607.2h0.9v0.9h-0.9zM241.9 607.9h0.9v0.9h-0.9zM245.7 607.6h0.9v0.9h-0.9zM243.0 607.0h0.9v0.9h-0.9zM248.4 608.0h0.9v0.9h-0.9zM242.0 611.0h0.9v0.9h-0.9zM246.9 606.7h0.9v0.9h-0.9zM239.6 603.6h0.9v0.9h-0.9zM241.0 610.2h0.9v0.9h-0.9zM250.1 604.3h0.9v0.9h-0.9zM241.6 605.0h0.9v0.9h-0.9zM241.6 608.1h0.9v0.9h-0.9zM244.4 609.0h0.9v0.9h-0.9zM233.3 613.1h0.9v0.9h-0.9zM240.6 610.9h0.9v0.9h-0.9zM243.8 607.0h0.9v0.9h-0.9zM245.7 606.5h0.9v0.9h-0.9zM237.7 605.5h0.9v0.9h-0.9zM238.5 611.3h0.9v0.9h-0.9zM244.4 606.3h0.9v0.9h-0.9zM243.1 611.3h0.9v0.9h-0.9zM244.7 608.0h0.9v0.9h-0.9zM239.2 610.3h0.9v0.9h-0.9zM244.9 608.2h0.9v0.9h-0.9zM248.9 608.4h0.9v0.9h-0.9zM246.5 605.8h0.9v0.9h-0.9zM239.7 613.3h0.9v0.9h-0.9zM238.6 607.7h0.9v0.9h-0.9zM244.7 604.3h0.9v0.9h-0.9zM242.5 608.8h0.9v0.9h-0.9zM245.6 602.0h0.9v0.9h-0.9zM240.2 605.7h0.9v0.9h-0.9zM235.0 607.6h0.9v0.9h-0.9zM242.6 614.1h0.9v0.9h-0.9zM239.9 609.5h0.9v0.9h-0.9zM238.0 617.8h0.9v0.9h-0.9zM250.0 604.6h0.9v0.9h-0.9zM235.7 606.5h0.9v0.9h-0.9zM242.5 607.4h0.9v0.9h-0.9zM237.2 605.8h0.9v0.9h-0.9zM238.1 607.7h0.9v0.9h-0.9zM246.3 610.5h0.9v0.9h-0.9zM249.0 610.1h0.9v0.9h-0.9zM247.1 617.8h0.9v0.9h-0.9zM242.9 606.8h0.9v0.9h-0.9zM235.4 603.4h0.9v0.9h-0.9zM244.9 609.2h0.9v0.9h-0.9zM241.1 618.0h0.9v0.9h-0.9zM244.6 605.3h0.9v0.9h-0.9zM242.8 614.6h0.9v0.9h-0.9zM235.8 605.3h0.9v0.9h-0.9zM242.6 605.3h0.9v0.9h-0.9zM243.9 613.8h0.9v0.9h-0.9zM242.2 610.8h0.9v0.9h-0.9zM240.8 608.5h0.9v0.9h-0.9zM254.0 605.0h0.9v0.9h-0.9zM242.7 607.1h0.9v0.9h-0.9zM240.8 612.3h0.9v0.9h-0.9zM241.7 614.5h0.9v0.9h-0.9zM239.5 609.5h0.9v0.9h-0.9zM247.3 605.4h0.9v0.9h-0.9zM237.9 606.2h0.9v0.9h-0.9zM241.7 614.2h0.9v0.9h-0.9zM240.4 612.1h0.9v0.9h-0.9zM239.6 609.2h0.9v0.9h-0.9zM235.8 602.4h0.9v0.9h-0.9zM243.7 606.2h0.9v0.9h-0.9zM244.4 607.7h0.9v0.9h-0.9zM239.9 610.5h0.9v0.9h-0.9zM242.6 604.7h0.9v0.9h-0.9zM236.1 605.0h0.9v0.9h-0.9zM241.4 611.4h0.9v0.9h-0.9zM243.4 608.2h0.9v0.9h-0.9zM240.5 595.8h0.9v0.9h-0.9zM235.5 615.4h0.9v0.9h-0.9zM237.2 611.2h0.9v0.9h-0.9zM244.4 606.0h0.9v0.9h-0.9zM236.1 613.2h0.9v0.9h-0.9zM243.0 606.8h0.9v0.9h-0.9zM235.4 615.7h0.9v0.9h-0.9zM235.8 607.4h0.9v0.9h-0.9zM237.8 607.8h0.9v0.9h-0.9zM239.4 604.9h0.9v0.9h-0.9zM245.6 608.4h0.9v0.9h-0.9zM237.6 606.1h0.9v0.9h-0.9zM247.2 608.9h0.9v0.9h-0.9zM244.2 609.6h0.9v0.9h-0.9zM245.7 607.0h0.9v0.9h-0.9zM241.8 605.6h0.9v0.9h-0.9zM234.0 612.1h0.9v0.9h-0.9zM243.2 610.2h0.9v0.9h-0.9zM243.5 606.9h0.9v0.9h-0.9zM239.4 605.4h0.9v0.9h-0.9zM245.2 604.3h0.9v0.9h-0.9zM235.5 610.9h0.9v0.9h-0.9zM244.3 612.4h0.9v0.9h-0.9zM239.0 608.9h0.9v0.9h-0.9zM247.7 601.6h0.9v0.9h-0.9zM244.0 609.9h0.9v0.9h-0.9zM242.1 602.6h0.9v0.9h-0.9zM242.5 611.3h0.9v0.9h-0.9zM249.0 611.9h0.9v0.9h-0.9zM239.0 608.3h0.9v0.9h-0.9zM234.5 608.0h0.9v0.9h-0.9zM241.0 609.7h0.9v0.9h-0.9zM243.6 614.4h0.9v0.9h-0.9zM241.8 610.1h0.9v0.9h-0.9zM236.7 610.7h0.9v0.9h-0.9zM240.6 605.4h0.9v0.9h-0.9zM234.2 600.1h0.9v0.9h-0.9zM240.5 604.1h0.9v0.9h-0.9zM242.9 609.8h0.9v0.9h-0.9zM239.8 614.7h0.9v0.9h-0.9zM236.8 608.6h0.9v0.9h-0.9zM235.6 611.0h0.9v0.9h-0.9zM234.2 610.7h0.9v0.9h-0.9zM236.1 612.8h0.9v0.9h-0.9zM241.0 614.3h0.9v0.9h-0.9zM237.1 612.7h0.9v0.9h-0.9zM245.8 607.8h0.9v0.9h-0.9zM239.0 605.6h0.9v0.9h-0.9zM243.8 608.4h0.9v0.9h-0.9zM241.7 602.8h0.9v0.9h-0.9zM243.2 604.4h0.9v0.9h-0.9zM241.1 606.9h0.9v0.9h-0.9zM240.1 606.0h0.9v0.9h-0.9zM238.8 607.8h0.9v0.9h-0.9zM241.4 614.3h0.9v0.9h-0.9zM243.5 609.9h0.9v0.9h-0.9zM236.9 608.3h0.9v0.9h-0.9zM237.6 607.3h0.9v0.9h-0.9zM246.7 608.7h0.9v0.9h-0.9zM244.8 608.9h0.9v0.9h-0.9zM238.3 600.4h0.9v0.9h-0.9zM237.8 614.9h0.9v0.9h-0.9zM250.0 610.8h0.9v0.9h-0.9zM240.3 608.2h0.9v0.9h-0.9zM242.9 605.7h0.9v0.9h-0.9zM248.9 615.8h0.9v0.9h-0.9zM236.5 612.2h0.9v0.9h-0.9zM238.9 613.5h0.9v0.9h-0.9zM242.9 611.1h0.9v0.9h-0.9zM242.7 604.4h0.9v0.9h-0.9zM241.2 601.9h0.9v0.9h-0.9zM238.5 604.3h0.9v0.9h-0.9zM242.9 611.7h0.9v0.9h-0.9zM245.7 606.2h0.9v0.9h-0.9zM239.2 603.9h0.9v0.9h-0.9zM237.9 609.5h0.9v0.9h-0.9zM242.8 606.7h0.9v0.9h-0.9zM246.2 614.3h0.9v0.9h-0.9zM241.6 602.2h0.9v0.9h-0.9zM238.5 615.9h0.9v0.9h-0.9zM241.7 603.8h0.9v0.9h-0.9zM249.5 607.2h0.9v0.9h-0.9zM239.6 606.2h0.9v0.9h-0.9zM241.7 606.8h0.9v0.9h-0.9zM242.9 608.1h0.9v0.9h-0.9zM243.2 612.8h0.9v0.9h-0.9zM247.4 604.7h0.9v0.9h-0.9zM245.6 607.1h0.9v0.9h-0.9zM247.0 607.3h0.9v0.9h-0.9zM253.2 611.5h0.9v0.9h-0.9zM245.8 613.1h0.9v0.9h-0.9zM239.8 609.2h0.9v0.9h-0.9zM239.5 609.5h0.9v0.9h-0.9zM248.4 606.5h0.9v0.9h-0.9zM231.6 608.4h0.9v0.9h-0.9zM238.4 607.9h0.9v0.9h-0.9zM230.1 605.9h0.9v0.9h-0.9zM245.1 614.7h0.9v0.9h-0.9zM247.2 610.2h0.9v0.9h-0.9zM245.0 610.7h0.9v0.9h-0.9zM242.2 609.3h0.9v0.9h-0.9zM234.4 609.0h0.9v0.9h-0.9zM246.1 613.8h0.9v0.9h-0.9zM239.0 597.0h0.9v0.9h-0.9zM243.7 613.7h0.9v0.9h-0.9zM243.4 613.1h0.9v0.9h-0.9zM243.3 610.6h0.9v0.9h-0.9zM239.0 607.7h0.9v0.9h-0.9zM242.8 610.8h0.9v0.9h-0.9zM240.0 616.4h0.9v0.9h-0.9zM242.9 603.5h0.9v0.9h-0.9zM245.4 618.3h0.9v0.9h-0.9zM238.3 609.7h0.9v0.9h-0.9zM242.7 609.0h0.9v0.9h-0.9zM242.3 614.5h0.9v0.9h-0.9zM240.8 613.7h0.9v0.9h-0.9zM242.4 612.4h0.9v0.9h-0.9zM245.8 605.5h0.9v0.9h-0.9zM246.6 600.0h0.9v0.9h-0.9zM242.6 613.7h0.9v0.9h-0.9zM244.6 609.3h0.9v0.9h-0.9zM243.0 618.6h0.9v0.9h-0.9zM241.5 603.8h0.9v0.9h-0.9zM244.0 611.0h0.9v0.9h-0.9zM240.2 613.4h0.9v0.9h-0.9zM241.7 607.8h0.9v0.9h-0.9zM241.0 607.0h0.9v0.9h-0.9zM242.7 605.5h0.9v0.9h-0.9zM237.6 608.0h0.9v0.9h-0.9zM250.0 600.4h0.9v0.9h-0.9zM237.3 608.0h0.9v0.9h-0.9zM238.3 610.9h0.9v0.9h-0.9zM241.0 610.4h0.9v0.9h-0.9zM242.0 608.7h0.9v0.9h-0.9zM238.5 616.4h0.9v0.9h-0.9zM241.8 604.6h0.9v0.9h-0.9zM236.5 594.5h0.9v0.9h-0.9zM245.9 614.1h0.9v0.9h-0.9zM243.4 606.7h0.9v0.9h-0.9zM239.2 610.3h0.9v0.9h-0.9zM246.2 617.6h0.9v0.9h-0.9zM240.7 609.0h0.9v0.9h-0.9zM241.8 612.9h0.9v0.9h-0.9zM239.1 611.8h0.9v0.9h-0.9zM237.7 613.1h0.9v0.9h-0.9zM249.9 603.3h0.9v0.9h-0.9zM233.4 604.7h0.9v0.9h-0.9zM237.2 610.6h0.9v0.9h-0.9zM243.7 606.3h0.9v0.9h-0.9zM236.9 608.8h0.9v0.9h-0.9zM238.7 605.7h0.9v0.9h-0.9zM242.1 603.6h0.9v0.9h-0.9zM242.9 602.5h0.9v0.9h-0.9zM240.3 609.9h0.9v0.9h-0.9zM235.5 615.0h0.9v0.9h-0.9zM240.8 601.1h0.9v0.9h-0.9zM239.1 604.8h0.9v0.9h-0.9zM239.2 604.2h0.9v0.9h-0.9zM242.6 607.1h0.9v0.9h-0.9zM234.3 604.1h0.9v0.9h-0.9zM238.4 611.7h0.9v0.9h-0.9zM234.2 603.1h0.9v0.9h-0.9zM244.4 608.5h0.9v0.9h-0.9zM238.9 600.9h0.9v0.9h-0.9zM240.7 606.6h0.9v0.9h-0.9zM233.9 608.5h0.9v0.9h-0.9zM240.5 603.7h0.9v0.9h-0.9zM238.3 603.8h0.9v0.9h-0.9zM249.8 605.1h0.9v0.9h-0.9zM248.0 613.7h0.9v0.9h-0.9zM247.9 612.6h0.9v0.9h-0.9zM237.2 607.4h0.9v0.9h-0.9zM238.5 607.0h0.9v0.9h-0.9zM245.0 612.5h0.9v0.9h-0.9zM244.3 610.2h0.9v0.9h-0.9zM250.6 610.5h0.9v0.9h-0.9zM242.6 610.2h0.9v0.9h-0.9zM243.2 608.8h0.9v0.9h-0.9zM243.4 604.7h0.9v0.9h-0.9zM241.7 605.5h0.9v0.9h-0.9zM243.6 607.3h0.9v0.9h-0.9zM241.5 612.0h0.9v0.9h-0.9zM242.4 615.3h0.9v0.9h-0.9zM240.7 610.7h0.9v0.9h-0.9zM243.6 606.4h0.9v0.9h-0.9zM242.6 608.6h0.9v0.9h-0.9zM244.8 604.9h0.9v0.9h-0.9zM238.3 610.1h0.9v0.9h-0.9zM241.9 603.2h0.9v0.9h-0.9zM243.5 609.4h0.9v0.9h-0.9zM242.0 607.6h0.9v0.9h-0.9zM239.2 611.5h0.9v0.9h-0.9zM239.4 611.8h0.9v0.9h-0.9zM239.2 610.2h0.9v0.9h-0.9zM236.7 612.3h0.9v0.9h-0.9zM238.7 609.8h0.9v0.9h-0.9zM242.5 609.4h0.9v0.9h-0.9zM239.7 602.9h0.9v0.9h-0.9zM237.7 603.4h0.9v0.9h-0.9zM233.6 611.0h0.9v0.9h-0.9zM239.5 610.6h0.9v0.9h-0.9zM242.1 606.8h0.9v0.9h-0.9zM238.5 610.8h0.9v0.9h-0.9zM242.2 610.5h0.9v0.9h-0.9zM245.2 607.5h0.9v0.9h-0.9zM242.2 608.4h0.9v0.9h-0.9zM242.6 609.4h0.9v0.9h-0.9zM233.6 608.5h0.9v0.9h-0.9zM245.1 614.5h0.9v0.9h-0.9zM238.2 607.3h0.9v0.9h-0.9zM238.6 608.9h0.9v0.9h-0.9zM236.8 610.4h0.9v0.9h-0.9zM241.7 612.0h0.9v0.9h-0.9zM246.6 610.2h0.9v0.9h-0.9zM236.0 611.2h0.9v0.9h-0.9zM237.6 610.5h0.9v0.9h-0.9zM238.2 604.6h0.9v0.9h-0.9zM243.5 606.9h0.9v0.9h-0.9zM239.7 608.9h0.9v0.9h-0.9zM243.4 606.3h0.9v0.9h-0.9zM242.3 607.8h0.9v0.9h-0.9zM246.6 615.5h0.9v0.9h-0.9zM240.0 605.7h0.9v0.9h-0.9zM236.0 616.1h0.9v0.9h-0.9zM247.8 611.8h0.9v0.9h-0.9zM238.5 607.5h0.9v0.9h-0.9zM242.8 616.6h0.9v0.9h-0.9zM233.3 610.7h0.9v0.9h-0.9zM243.0 613.5h0.9v0.9h-0.9zM244.4 608.1h0.9v0.9h-0.9zM241.9 607.4h0.9v0.9h-0.9zM240.3 605.5h0.9v0.9h-0.9zM240.9 612.9h0.9v0.9h-0.9zM248.2 611.6h0.9v0.9h-0.9zM238.4 608.6h0.9v0.9h-0.9zM240.5 607.2h0.9v0.9h-0.9zM243.0 601.6h0.9v0.9h-0.9zM240.3 607.0h0.9v0.9h-0.9zM247.8 612.5h0.9v0.9h-0.9zM241.1 606.1h0.9v0.9h-0.9zM236.4 608.4h0.9v0.9h-0.9zM244.0 613.9h0.9v0.9h-0.9zM236.7 608.6h0.9v0.9h-0.9zM243.4 610.9h0.9v0.9h-0.9zM235.8 610.9h0.9v0.9h-0.9zM241.3 609.2h0.9v0.9h-0.9zM240.3 612.8h0.9v0.9h-0.9zM245.1 612.1h0.9v0.9h-0.9zM237.3 610.6h0.9v0.9h-0.9zM240.0 611.5h0.9v0.9h-0.9zM245.4 607.7h0.9v0.9h-0.9zM236.5 609.4h0.9v0.9h-0.9zM242.7 604.6h0.9v0.9h-0.9zM241.4 607.2h0.9v0.9h-0.9zM245.1 606.0h0.9v0.9h-0.9zM239.2 605.1h0.9v0.9h-0.9zM242.5 611.6h0.9v0.9h-0.9zM241.9 612.4h0.9v0.9h-0.9zM239.5 604.8h0.9v0.9h-0.9zM238.3 609.2h0.9v0.9h-0.9zM249.2 611.1h0.9v0.9h-0.9zM242.8 610.0h0.9v0.9h-0.9zM232.4 613.4h0.9v0.9h-0.9zM244.2 607.6h0.9v0.9h-0.9zM247.1 609.8h0.9v0.9h-0.9zM245.5 604.9h0.9v0.9h-0.9zM240.8 607.4h0.9v0.9h-0.9zM243.4 602.7h0.9v0.9h-0.9zM240.1 611.9h0.9v0.9h-0.9zM245.3 608.5h0.9v0.9h-0.9zM244.0 612.1h0.9v0.9h-0.9zM245.3 609.8h0.9v0.9h-0.9zM237.9 611.2h0.9v0.9h-0.9zM238.8 606.9h0.9v0.9h-0.9zM234.4 612.5h0.9v0.9h-0.9zM238.2 607.4h0.9v0.9h-0.9zM240.2 606.5h0.9v0.9h-0.9zM241.4 609.7h0.9v0.9h-0.9zM244.1 607.7h0.9v0.9h-0.9zM244.8 612.5h0.9v0.9h-0.9zM237.5 608.3h0.9v0.9h-0.9zM238.6 605.7h0.9v0.9h-0.9zM233.5 611.1h0.9v0.9h-0.9zM235.8 613.8h0.9v0.9h-0.9zM243.2 607.3h0.9v0.9h-0.9zM241.2 600.1h0.9v0.9h-0.9zM241.4 609.9h0.9v0.9h-0.9zM244.8 608.1h0.9v0.9h-0.9zM236.7 605.6h0.9v0.9h-0.9zM239.6 607.2h0.9v0.9h-0.9zM237.7 605.8h0.9v0.9h-0.9zM236.9 606.4h0.9v0.9h-0.9zM243.2 608.5h0.9v0.9h-0.9zM240.3 610.4h0.9v0.9h-0.9zM246.9 612.7h0.9v0.9h-0.9zM239.6 610.9h0.9v0.9h-0.9zM244.8 610.9h0.9v0.9h-0.9zM251.0 607.6h0.9v0.9h-0.9zM240.1 610.6h0.9v0.9h-0.9zM239.2 606.2h0.9v0.9h-0.9zM238.9 611.0h0.9v0.9h-0.9zM241.0 608.3h0.9v0.9h-0.9zM243.7 604.9h0.9v0.9h-0.9zM248.8 608.0h0.9v0.9h-0.9zM236.7 607.0h0.9v0.9h-0.9zM240.9 609.6h0.9v0.9h-0.9zM240.0 600.8h0.9v0.9h-0.9zM234.2 611.9h0.9v0.9h-0.9zM247.6 617.0h0.9v0.9h-0.9zM243.6 605.9h0.9v0.9h-0.9zM247.0 606.8h0.9v0.9h-0.9zM250.9 605.1h0.9v0.9h-0.9zM239.2 610.6h0.9v0.9h-0.9zM239.9 610.6h0.9v0.9h-0.9zM242.4 607.9h0.9v0.9h-0.9zM238.8 599.6h0.9v0.9h-0.9zM242.6 609.9h0.9v0.9h-0.9zM238.1 608.2h0.9v0.9h-0.9zM247.3 605.2h0.9v0.9h-0.9zM239.1 603.0h0.9v0.9h-0.9zM242.5 602.8h0.9v0.9h-0.9zM238.9 605.1h0.9v0.9h-0.9zM241.6 612.1h0.9v0.9h-0.9zM239.6 602.3h0.9v0.9h-0.9zM245.3 607.9h0.9v0.9h-0.9zM239.7 605.3h0.9v0.9h-0.9zM242.8 611.7h0.9v0.9h-0.9zM235.8 611.5h0.9v0.9h-0.9zM238.6 608.6h0.9v0.9h-0.9zM232.9 616.4h0.9v0.9h-0.9zM239.1 605.0h0.9v0.9h-0.9zM231.1 608.8h0.9v0.9h-0.9zM243.7 609.4h0.9v0.9h-0.9zM237.1 606.3h0.9v0.9h-0.9zM237.2 618.3h0.9v0.9h-0.9zM238.4 609.8h0.9v0.9h-0.9zM237.5 611.7h0.9v0.9h-0.9zM241.6 608.9h0.9v0.9h-0.9zM242.5 610.1h0.9v0.9h-0.9zM240.6 612.1h0.9v0.9h-0.9zM245.0 606.9h0.9v0.9h-0.9zM240.0 613.8h0.9v0.9h-0.9zM235.1 614.5h0.9v0.9h-0.9zM244.5 613.4h0.9v0.9h-0.9zM236.5 611.4h0.9v0.9h-0.9zM241.6 604.2h0.9v0.9h-0.9zM231.1 611.6h0.9v0.9h-0.9zM244.0 605.0h0.9v0.9h-0.9zM233.5 611.4h0.9v0.9h-0.9zM248.6 605.2h0.9v0.9h-0.9zM237.9 604.2h0.9v0.9h-0.9zM241.9 603.5h0.9v0.9h-0.9zM251.4 610.6h0.9v0.9h-0.9zM242.6 602.0h0.9v0.9h-0.9zM244.6 612.8h0.9v0.9h-0.9zM245.2 607.1h0.9v0.9h-0.9zM237.9 603.8h0.9v0.9h-0.9zM241.7 596.6h0.9v0.9h-0.9zM245.3 609.6h0.9v0.9h-0.9zM245.8 613.8h0.9v0.9h-0.9zM239.8 613.6h0.9v0.9h-0.9zM241.5 615.5h0.9v0.9h-0.9zM245.6 604.4h0.9v0.9h-0.9zM243.6 610.7h0.9v0.9h-0.9zM242.1 604.0h0.9v0.9h-0.9zM246.7 611.6h0.9v0.9h-0.9zM247.1 609.5h0.9v0.9h-0.9zM238.5 605.2h0.9v0.9h-0.9zM243.0 610.9h0.9v0.9h-0.9zM240.2 609.1h0.9v0.9h-0.9zM239.4 611.6h0.9v0.9h-0.9zM244.9 610.4h0.9v0.9h-0.9zM239.2 609.8h0.9v0.9h-0.9zM243.0 606.9h0.9v0.9h-0.9zM245.9 607.7h0.9v0.9h-0.9zM241.2 606.5h0.9v0.9h-0.9zM247.4 616.6h0.9v0.9h-0.9zM243.2 609.3h0.9v0.9h-0.9zM236.0 602.9h0.9v0.9h-0.9zM238.6 608.2h0.9v0.9h-0.9zM240.4 604.4h0.9v0.9h-0.9zM241.7 609.8h0.9v0.9h-0.9zM245.2 605.9h0.9v0.9h-0.9zM235.9 608.4h0.9v0.9h-0.9zM234.4 601.9h0.9v0.9h-0.9zM240.9 608.2h0.9v0.9h-0.9zM239.7 610.5h0.9v0.9h-0.9zM242.6 607.5h0.9v0.9h-0.9zM238.9 612.1h0.9v0.9h-0.9zM243.4 614.2h0.9v0.9h-0.9zM244.0 610.8h0.9v0.9h-0.9zM242.6 604.9h0.9v0.9h-0.9zM241.8 609.8h0.9v0.9h-0.9zM244.4 609.8h0.9v0.9h-0.9zM244.0 610.9h0.9v0.9h-0.9zM242.6 608.4h0.9v0.9h-0.9zM240.4 612.0h0.9v0.9h-0.9zM246.4 604.1h0.9v0.9h-0.9zM245.9 613.5h0.9v0.9h-0.9zM242.9 604.7h0.9v0.9h-0.9zM247.7 613.1h0.9v0.9h-0.9zM241.6 612.1h0.9v0.9h-0.9z" fill="#000"/>
<path d="M238.7 612.0h0.9v0.9h-0.9zM239.6 617.0h0.9v0.9h-0.9zM244.1 613.3h0.9v0.9h-0.9zM247.4 608.6h0.9v0.9h-0.9zM239.3 600.1h0.9v0.9h-0.9zM241.9 615.7h0.9v0.9h-0.9zM235.0 617.1h0.9v0.9h-0.9zM240.8 616.6h0.9v0.9h-0.9zM242.9 603.7h0.9v0.9h-0.9zM237.7 611.8h0.9v0.9h-0.9zM248.4 607.1h0.9v0.9h-0.9zM250.9 600.8h0.9v0.9h-0.9zM239.8 606.8h0.9v0.9h-0.9zM242.7 612.2h0.9v0.9h-0.9zM243.7 616.3h0.9v0.9h-0.9zM242.1 605.2h0.9v0.9h-0.9zM245.1 613.4h0.9v0.9h-0.9zM226.0 608.7h0.9v0.9h-0.9zM242.3 613.3h0.9v0.9h-0.9zM229.1 615.6h0.9v0.9h-0.9zM242.0 604.7h0.9v0.9h-0.9zM232.7 605.9h0.9v0.9h-0.9zM248.2 627.2h0.9v0.9h-0.9zM244.9 607.5h0.9v0.9h-0.9zM231.2 602.5h0.9v0.9h-0.9zM245.0 607.7h0.9v0.9h-0.9zM240.5 615.9h0.9v0.9h-0.9zM246.3 606.2h0.9v0.9h-0.9zM246.9 616.9h0.9v0.9h-0.9zM235.2 610.7h0.9v0.9h-0.9zM234.0 618.0h0.9v0.9h-0.9zM234.5 608.5h0.9v0.9h-0.9zM239.2 620.8h0.9v0.9h-0.9zM243.9 610.9h0.9v0.9h-0.9zM243.8 615.1h0.9v0.9h-0.9zM238.7 616.7h0.9v0.9h-0.9zM237.1 607.0h0.9v0.9h-0.9zM240.1 614.0h0.9v0.9h-0.9zM237.7 605.3h0.9v0.9h-0.9zM232.9 614.5h0.9v0.9h-0.9zM238.9 620.5h0.9v0.9h-0.9zM239.5 616.2h0.9v0.9h-0.9zM248.4 615.3h0.9v0.9h-0.9zM244.8 609.0h0.9v0.9h-0.9zM242.1 626.5h0.9v0.9h-0.9zM242.4 600.1h0.9v0.9h-0.9zM244.9 601.9h0.9v0.9h-0.9zM253.6 624.7h0.9v0.9h-0.9zM254.3 597.8h0.9v0.9h-0.9zM254.1 618.7h0.9v0.9h-0.9zM234.4 622.4h0.9v0.9h-0.9zM231.5 616.8h0.9v0.9h-0.9zM248.1 622.6h0.9v0.9h-0.9zM241.1 613.6h0.9v0.9h-0.9zM243.0 615.4h0.9v0.9h-0.9zM240.6 617.5h0.9v0.9h-0.9zM247.3 617.7h0.9v0.9h-0.9zM237.3 622.4h0.9v0.9h-0.9zM236.3 607.1h0.9v0.9h-0.9zM244.4 602.3h0.9v0.9h-0.9zM242.3 623.2h0.9v0.9h-0.9zM243.5 603.1h0.9v0.9h-0.9zM242.7 612.0h0.9v0.9h-0.9zM237.2 609.0h0.9v0.9h-0.9zM247.4 618.4h0.9v0.9h-0.9zM241.2 614.3h0.9v0.9h-0.9zM240.2 616.4h0.9v0.9h-0.9zM237.1 623.3h0.9v0.9h-0.9zM246.6 616.1h0.9v0.9h-0.9zM234.4 617.2h0.9v0.9h-0.9zM243.1 598.4h0.9v0.9h-0.9zM236.5 611.0h0.9v0.9h-0.9zM233.0 608.5h0.9v0.9h-0.9zM248.9 624.6h0.9v0.9h-0.9zM246.3 606.8h0.9v0.9h-0.9zM234.6 611.8h0.9v0.9h-0.9zM241.3 603.9h0.9v0.9h-0.9zM241.2 613.8h0.9v0.9h-0.9zM239.2 609.4h0.9v0.9h-0.9zM249.1 611.0h0.9v0.9h-0.9zM242.6 601.7h0.9v0.9h-0.9zM244.3 601.3h0.9v0.9h-0.9zM242.3 599.3h0.9v0.9h-0.9zM242.5 609.8h0.9v0.9h-0.9zM240.7 603.7h0.9v0.9h-0.9zM245.2 606.0h0.9v0.9h-0.9zM232.5 619.3h0.9v0.9h-0.9zM244.0 623.9h0.9v0.9h-0.9zM236.4 605.9h0.9v0.9h-0.9zM242.4 623.8h0.9v0.9h-0.9zM248.8 616.1h0.9v0.9h-0.9zM245.3 608.6h0.9v0.9h-0.9zM238.4 613.1h0.9v0.9h-0.9zM238.3 610.2h0.9v0.9h-0.9zM239.1 608.6h0.9v0.9h-0.9zM234.2 608.1h0.9v0.9h-0.9zM232.4 617.8h0.9v0.9h-0.9zM223.1 609.0h0.9v0.9h-0.9zM237.9 604.4h0.9v0.9h-0.9zM244.1 608.8h0.9v0.9h-0.9zM253.5 600.9h0.9v0.9h-0.9zM250.1 615.4h0.9v0.9h-0.9zM243.6 609.5h0.9v0.9h-0.9zM229.9 608.7h0.9v0.9h-0.9zM241.3 603.8h0.9v0.9h-0.9zM247.6 604.0h0.9v0.9h-0.9zM234.8 608.9h0.9v0.9h-0.9zM242.8 606.1h0.9v0.9h-0.9zM240.2 623.7h0.9v0.9h-0.9zM244.9 614.1h0.9v0.9h-0.9zM235.1 620.5h0.9v0.9h-0.9zM241.0 620.1h0.9v0.9h-0.9zM238.8 604.8h0.9v0.9h-0.9zM248.3 605.0h0.9v0.9h-0.9zM240.9 618.1h0.9v0.9h-0.9zM243.9 600.7h0.9v0.9h-0.9zM243.0 625.1h0.9v0.9h-0.9zM247.0 605.3h0.9v0.9h-0.9zM251.9 614.4h0.9v0.9h-0.9zM233.3 624.2h0.9v0.9h-0.9zM236.5 619.2h0.9v0.9h-0.9zM247.1 617.0h0.9v0.9h-0.9zM241.4 618.7h0.9v0.9h-0.9zM234.3 612.4h0.9v0.9h-0.9zM229.0 617.3h0.9v0.9h-0.9zM233.9 623.7h0.9v0.9h-0.9zM233.8 605.5h0.9v0.9h-0.9zM237.9 621.0h0.9v0.9h-0.9zM244.3 615.2h0.9v0.9h-0.9zM249.9 602.3h0.9v0.9h-0.9zM246.6 613.3h0.9v0.9h-0.9zM230.2 605.7h0.9v0.9h-0.9zM246.9 603.5h0.9v0.9h-0.9zM242.3 609.2h0.9v0.9h-0.9zM234.9 605.4h0.9v0.9h-0.9zM231.9 609.0h0.9v0.9h-0.9zM258.1 603.2h0.9v0.9h-0.9zM237.0 611.6h0.9v0.9h-0.9zM242.5 611.6h0.9v0.9h-0.9zM232.6 604.7h0.9v0.9h-0.9zM236.1 606.7h0.9v0.9h-0.9zM238.1 614.7h0.9v0.9h-0.9zM240.9 617.6h0.9v0.9h-0.9zM236.9 621.1h0.9v0.9h-0.9zM238.4 612.3h0.9v0.9h-0.9zM240.8 618.8h0.9v0.9h-0.9zM228.5 606.7h0.9v0.9h-0.9zM237.3 616.7h0.9v0.9h-0.9zM243.7 613.5h0.9v0.9h-0.9zM251.1 615.7h0.9v0.9h-0.9zM249.0 612.7h0.9v0.9h-0.9zM245.2 604.8h0.9v0.9h-0.9zM247.8 605.3h0.9v0.9h-0.9zM246.9 616.4h0.9v0.9h-0.9zM234.3 612.4h0.9v0.9h-0.9zM240.6 609.4h0.9v0.9h-0.9zM236.2 619.2h0.9v0.9h-0.9zM234.7 612.5h0.9v0.9h-0.9zM241.0 602.0h0.9v0.9h-0.9zM244.2 611.4h0.9v0.9h-0.9zM237.9 609.1h0.9v0.9h-0.9zM236.3 607.5h0.9v0.9h-0.9zM232.4 618.4h0.9v0.9h-0.9zM246.1 608.9h0.9v0.9h-0.9zM232.3 598.3h0.9v0.9h-0.9zM232.8 625.9h0.9v0.9h-0.9zM234.6 607.9h0.9v0.9h-0.9zM238.2 597.9h0.9v0.9h-0.9zM237.1 610.3h0.9v0.9h-0.9zM243.6 611.5h0.9v0.9h-0.9zM244.0 609.9h0.9v0.9h-0.9zM233.9 614.7h0.9v0.9h-0.9zM242.2 612.0h0.9v0.9h-0.9zM231.6 622.7h0.9v0.9h-0.9zM243.8 617.8h0.9v0.9h-0.9zM240.5 600.4h0.9v0.9h-0.9zM233.5 619.8h0.9v0.9h-0.9zM256.2 594.9h0.9v0.9h-0.9zM249.2 615.5h0.9v0.9h-0.9zM241.7 612.3h0.9v0.9h-0.9zM246.5 616.0h0.9v0.9h-0.9zM247.6 609.1h0.9v0.9h-0.9zM241.8 610.6h0.9v0.9h-0.9zM234.5 609.9h0.9v0.9h-0.9zM236.6 616.1h0.9v0.9h-0.9zM241.0 625.9h0.9v0.9h-0.9zM242.4 607.9h0.9v0.9h-0.9zM249.0 612.3h0.9v0.9h-0.9zM237.8 609.2h0.9v0.9h-0.9zM247.5 607.6h0.9v0.9h-0.9zM239.8 617.7h0.9v0.9h-0.9zM253.1 624.8h0.9v0.9h-0.9zM241.7 620.6h0.9v0.9h-0.9zM242.2 607.0h0.9v0.9h-0.9zM238.8 612.1h0.9v0.9h-0.9zM244.1 610.1h0.9v0.9h-0.9zM239.6 614.5h0.9v0.9h-0.9zM242.4 626.7h0.9v0.9h-0.9zM246.1 615.5h0.9v0.9h-0.9zM251.7 609.8h0.9v0.9h-0.9zM251.5 620.0h0.9v0.9h-0.9zM253.1 620.7h0.9v0.9h-0.9zM238.9 624.2h0.9v0.9h-0.9zM244.6 616.2h0.9v0.9h-0.9zM238.6 614.8h0.9v0.9h-0.9zM223.6 599.9h0.9v0.9h-0.9zM246.1 611.3h0.9v0.9h-0.9zM236.9 616.9h0.9v0.9h-0.9zM247.6 618.9h0.9v0.9h-0.9zM235.1 620.3h0.9v0.9h-0.9zM242.6 614.6h0.9v0.9h-0.9zM248.6 618.8h0.9v0.9h-0.9zM247.6 614.8h0.9v0.9h-0.9zM235.4 610.4h0.9v0.9h-0.9zM246.8 602.8h0.9v0.9h-0.9zM238.1 607.1h0.9v0.9h-0.9zM235.2 611.2h0.9v0.9h-0.9zM240.6 604.3h0.9v0.9h-0.9zM243.2 605.2h0.9v0.9h-0.9zM248.5 614.7h0.9v0.9h-0.9zM234.9 613.9h0.9v0.9h-0.9zM231.8 613.1h0.9v0.9h-0.9zM230.3 614.9h0.9v0.9h-0.9zM248.4 600.9h0.9v0.9h-0.9zM238.4 616.9h0.9v0.9h-0.9zM243.9 607.8h0.9v0.9h-0.9zM247.2 615.7h0.9v0.9h-0.9zM233.1 621.9h0.9v0.9h-0.9zM232.2 607.6h0.9v0.9h-0.9zM241.2 599.7h0.9v0.9h-0.9zM240.4 614.8h0.9v0.9h-0.9zM247.7 602.3h0.9v0.9h-0.9zM242.5 614.8h0.9v0.9h-0.9zM236.2 600.4h0.9v0.9h-0.9zM236.4 612.4h0.9v0.9h-0.9zM239.0 615.4h0.9v0.9h-0.9zM236.6 608.7h0.9v0.9h-0.9zM237.6 606.9h0.9v0.9h-0.9zM228.8 606.3h0.9v0.9h-0.9zM238.0 607.7h0.9v0.9h-0.9zM231.0 606.6h0.9v0.9h-0.9zM241.7 619.6h0.9v0.9h-0.9zM235.8 609.2h0.9v0.9h-0.9zM235.8 612.7h0.9v0.9h-0.9zM236.9 622.2h0.9v0.9h-0.9zM244.3 617.9h0.9v0.9h-0.9zM240.4 611.9h0.9v0.9h-0.9zM251.3 613.6h0.9v0.9h-0.9zM252.1 615.8h0.9v0.9h-0.9zM242.7 608.8h0.9v0.9h-0.9zM248.3 612.0h0.9v0.9h-0.9zM236.9 613.0h0.9v0.9h-0.9zM228.4 609.6h0.9v0.9h-0.9zM233.6 618.2h0.9v0.9h-0.9zM249.5 609.8h0.9v0.9h-0.9zM251.3 614.5h0.9v0.9h-0.9zM245.0 609.8h0.9v0.9h-0.9zM241.8 608.1h0.9v0.9h-0.9z" fill="#333"/>
<path d="M224.5 605.2h0.9v0.9h-0.9zM217.8 624.2h0.9v0.9h-0.9zM221.9 592.9h0.9v0.9h-0.9zM211.4 615.8h0.9v0.9h-0.9zM228.1 614.1h0.9v0.9h-0.9zM226.5 624.6h0.9v0.9h-0.9zM208.0 613.4h0.9v0.9h-0.9zM226.9 611.7h0.9v0.9h-0.9zM224.1 626.1h0.9v0.9h-0.9zM214.6 617.2h0.9v0.9h-0.9zM213.0 626.7h0.9v0.9h-0.9zM232.0 595.0h0.9v0.9h-0.9zM220.8 599.5h0.9v0.9h-0.9zM204.4 614.4h0.9v0.9h-0.9zM246.9 608.4h0.9v0.9h-0.9zM215.3 619.4h0.9v0.9h-0.9zM220.7 617.8h0.9v0.9h-0.9zM229.7 616.5h0.9v0.9h-0.9zM208.2 611.6h0.9v0.9h-0.9zM216.0 607.5h0.9v0.9h-0.9zM214.3 611.8h0.9v0.9h-0.9zM222.5 605.5h0.9v0.9h-0.9zM223.4 611.7h0.9v0.9h-0.9zM213.1 609.8h0.9v0.9h-0.9zM227.8 613.9h0.9v0.9h-0.9zM213.7 608.1h0.9v0.9h-0.9zM220.4 607.0h0.9v0.9h-0.9zM214.9 620.6h0.9v0.9h-0.9zM228.5 602.4h0.9v0.9h-0.9zM221.0 626.0h0.9v0.9h-0.9zM226.8 608.7h0.9v0.9h-0.9zM220.4 611.9h0.9v0.9h-0.9zM212.5 623.7h0.9v0.9h-0.9zM224.8 616.8h0.9v0.9h-0.9zM226.9 623.6h0.9v0.9h-0.9zM221.0 616.8h0.9v0.9h-0.9zM222.3 600.1h0.9v0.9h-0.9zM216.7 614.3h0.9v0.9h-0.9zM197.9 621.7h0.9v0.9h-0.9zM220.2 616.0h0.9v0.9h-0.9zM217.0 622.7h0.9v0.9h-0.9zM225.1 611.9h0.9v0.9h-0.9zM205.1 623.6h0.9v0.9h-0.9zM231.2 620.8h0.9v0.9h-0.9zM226.8 613.8h0.9v0.9h-0.9zM217.6 618.2h0.9v0.9h-0.9zM217.5 597.4h0.9v0.9h-0.9zM204.7 624.7h0.9v0.9h-0.9zM208.1 605.3h0.9v0.9h-0.9zM225.8 624.8h0.9v0.9h-0.9zM215.2 612.9h0.9v0.9h-0.9zM208.4 605.5h0.9v0.9h-0.9zM206.0 610.5h0.9v0.9h-0.9zM222.0 606.3h0.9v0.9h-0.9zM205.0 616.2h0.9v0.9h-0.9zM221.3 614.2h0.9v0.9h-0.9zM226.0 614.9h0.9v0.9h-0.9zM228.3 611.3h0.9v0.9h-0.9zM214.9 608.1h0.9v0.9h-0.9zM220.2 616.9h0.9v0.9h-0.9zM213.7 618.7h0.9v0.9h-0.9zM224.7 616.2h0.9v0.9h-0.9zM208.9 618.4h0.9v0.9h-0.9zM207.8 605.8h0.9v0.9h-0.9zM218.3 618.4h0.9v0.9h-0.9zM219.6 614.8h0.9v0.9h-0.9zM223.6 623.0h0.9v0.9h-0.9zM213.7 618.7h0.9v0.9h-0.9zM220.9 615.1h0.9v0.9h-0.9zM232.6 604.7h0.9v0.9h-0.9zM223.1 625.8h0.9v0.9h-0.9zM238.5 618.6h0.9v0.9h-0.9zM218.8 611.0h0.9v0.9h-0.9zM205.1 616.7h0.9v0.9h-0.9zM229.6 615.5h0.9v0.9h-0.9zM214.5 615.2h0.9v0.9h-0.9zM220.1 616.6h0.9v0.9h-0.9zM232.8 621.3h0.9v0.9h-0.9zM232.0 613.4h0.9v0.9h-0.9zM226.7 604.2h0.9v0.9h-0.9zM213.8 615.6h0.9v0.9h-0.9zM212.6 612.1h0.9v0.9h-0.9zM216.2 612.4h0.9v0.9h-0.9zM226.1 600.6h0.9v0.9h-0.9zM238.7 607.6h0.9v0.9h-0.9zM190.2 622.2h0.9v0.9h-0.9zM222.5 624.4h0.9v0.9h-0.9zM210.1 628.0h0.9v0.9h-0.9zM212.3 621.0h0.9v0.9h-0.9zM220.9 617.4h0.9v0.9h-0.9zM248.2 601.6h0.9v0.9h-0.9zM230.2 630.8h0.9v0.9h-0.9zM218.4 611.0h0.9v0.9h-0.9zM224.5 598.9h0.9v0.9h-0.9zM223.2 611.4h0.9v0.9h-0.9zM219.0 606.5h0.9v0.9h-0.9zM209.9 600.2h0.9v0.9h-0.9zM207.6 613.0h0.9v0.9h-0.9zM211.3 630.8h0.9v0.9h-0.9zM204.9 617.0h0.9v0.9h-0.9zM210.4 610.3h0.9v0.9h-0.9zM221.5 613.8h0.9v0.9h-0.9zM230.0 621.9h0.9v0.9h-0.9zM220.5 606.4h0.9v0.9h-0.9zM211.8 624.9h0.9v0.9h-0.9zM218.9 635.3h0.9v0.9h-0.9zM232.8 602.2h0.9v0.9h-0.9zM218.6 608.0h0.9v0.9h-0.9zM221.0 621.1h0.9v0.9h-0.9zM212.8 619.4h0.9v0.9h-0.9zM210.2 616.5h0.9v0.9h-0.9zM223.4 610.2h0.9v0.9h-0.9zM222.8 627.6h0.9v0.9h-0.9zM216.9 605.7h0.9v0.9h-0.9zM221.3 609.9h0.9v0.9h-0.9zM217.4 625.4h0.9v0.9h-0.9zM217.7 606.6h0.9v0.9h-0.9zM228.3 612.3h0.9v0.9h-0.9zM224.2 605.3h0.9v0.9h-0.9zM222.4 605.2h0.9v0.9h-0.9zM216.0 610.7h0.9v0.9h-0.9zM210.7 615.0h0.9v0.9h-0.9zM209.5 613.7h0.9v0.9h-0.9zM216.9 633.3h0.9v0.9h-0.9zM217.0 616.0h0.9v0.9h-0.9zM216.0 597.3h0.9v0.9h-0.9zM222.9 598.8h0.9v0.9h-0.9zM221.9 615.1h0.9v0.9h-0.9zM218.6 607.6h0.9v0.9h-0.9zM236.1 610.5h0.9v0.9h-0.9zM219.3 619.3h0.9v0.9h-0.9zM216.3 610.1h0.9v0.9h-0.9zM232.3 608.0h0.9v0.9h-0.9zM214.7 614.5h0.9v0.9h-0.9zM206.1 611.1h0.9v0.9h-0.9zM211.5 607.9h0.9v0.9h-0.9zM195.2 603.0h0.9v0.9h-0.9zM225.2 614.3h0.9v0.9h-0.9zM232.4 623.0h0.9v0.9h-0.9zM207.8 619.6h0.9v0.9h-0.9zM222.2 635.1h0.9v0.9h-0.9zM221.7 605.1h0.9v0.9h-0.9zM223.8 626.5h0.9v0.9h-0.9zM219.5 619.2h0.9v0.9h-0.9zM217.7 611.4h0.9v0.9h-0.9zM215.1 637.2h0.9v0.9h-0.9zM214.3 615.5h0.9v0.9h-0.9zM217.9 607.9h0.9v0.9h-0.9zM220.7 615.4h0.9v0.9h-0.9zM227.1 622.8h0.9v0.9h-0.9zM219.2 608.2h0.9v0.9h-0.9zM224.3 620.0h0.9v0.9h-0.9zM209.0 607.9h0.9v0.9h-0.9zM223.1 601.1h0.9v0.9h-0.9zM218.0 620.2h0.9v0.9h-0.9zM218.8 623.9h0.9v0.9h-0.9zM226.1 621.1h0.9v0.9h-0.9zM207.9 621.5h0.9v0.9h-0.9zM209.4 615.6h0.9v0.9h-0.9zM211.8 617.6h0.9v0.9h-0.9zM214.3 620.4h0.9v0.9h-0.9zM218.9 611.0h0.9v0.9h-0.9zM210.7 619.8h0.9v0.9h-0.9zM233.8 620.1h0.9v0.9h-0.9zM195.9 623.1h0.9v0.9h-0.9zM217.6 624.7h0.9v0.9h-0.9zM227.1 607.8h0.9v0.9h-0.9zM216.9 604.7h0.9v0.9h-0.9zM225.5 610.3h0.9v0.9h-0.9zM227.8 605.2h0.9v0.9h-0.9zM220.0 612.9h0.9v0.9h-0.9zM227.3 610.2h0.9v0.9h-0.9zM216.9 617.9h0.9v0.9h-0.9zM212.2 619.3h0.9v0.9h-0.9zM227.6 617.5h0.9v0.9h-0.9zM228.5 613.6h0.9v0.9h-0.9zM206.6 602.8h0.9v0.9h-0.9zM221.7 623.5h0.9v0.9h-0.9zM220.5 603.6h0.9v0.9h-0.9zM214.7 611.0h0.9v0.9h-0.9zM211.5 607.9h0.9v0.9h-0.9zM234.7 620.4h0.9v0.9h-0.9zM227.1 614.8h0.9v0.9h-0.9zM217.3 611.5h0.9v0.9h-0.9zM237.2 615.9h0.9v0.9h-0.9zM227.5 603.2h0.9v0.9h-0.9zM216.0 600.6h0.9v0.9h-0.9zM220.3 599.3h0.9v0.9h-0.9zM214.3 620.7h0.9v0.9h-0.9zM220.5 606.7h0.9v0.9h-0.9zM223.2 622.2h0.9v0.9h-0.9zM216.1 618.7h0.9v0.9h-0.9zM229.7 619.4h0.9v0.9h-0.9zM220.3 625.7h0.9v0.9h-0.9zM212.5 612.3h0.9v0.9h-0.9zM218.6 617.6h0.9v0.9h-0.9zM219.8 617.5h0.9v0.9h-0.9zM202.7 604.9h0.9v0.9h-0.9zM208.0 613.1h0.9v0.9h-0.9zM223.7 612.3h0.9v0.9h-0.9zM207.2 622.6h0.9v0.9h-0.9zM218.2 624.9h0.9v0.9h-0.9zM227.0 624.0h0.9v0.9h-0.9zM217.8 604.8h0.9v0.9h-0.9zM225.0 609.0h0.9v0.9h-0.9zM208.4 612.1h0.9v0.9h-0.9zM227.3 619.0h0.9v0.9h-0.9zM214.7 626.7h0.9v0.9h-0.9zM206.2 615.2h0.9v0.9h-0.9zM219.9 617.3h0.9v0.9h-0.9z" fill="#555"/>
<text x="268.3" y="587.6" font-size="10.8" font-weight="bold" text-anchor="end" >84.7%</text>
<text transform="translate(17.0,604.8) rotate(-90)" font-size="14">Tet</text>
<path d="M15.5 610.1L11.0 619.2L20.0 619.2Z M24.6 621.6L24.6 630.0L33.8 625.8Z" fill="#000"/>
<path d="M15.4 619 V625.7 H25" fill="none" stroke="#000" stroke-width="1.2"/>
<text x="19.4" y="645.9" font-size="13.3" font-weight="normal" text-anchor="start" >CD8</text>
<text transform="translate(162.9,634.6) rotate(-90)" font-size="13">CD127</text>
<path d="M161.2 640.2L156.9 648.8L165.5 648.8Z M170 651.4L170 659.6L178.7 654.5Z" fill="#000"/>
<path d="M161.2 648.5 V654.5 H170.5" fill="none" stroke="#000" stroke-width="1.2"/>
<text x="165.0" y="674.6" font-size="13" font-weight="normal" text-anchor="start" >CD62L</text>
<text x="306.2" y="280.6" font-size="16" font-weight="bold" text-anchor="start" >C</text>
<rect x="391.5" y="342.0" width="10.2" height="74.6" fill="#c6c6c6" stroke="#111" stroke-width="1.2"/>
<line x1="412.80" y1="342.90" x2="412.80" y2="349.00" stroke="#111" stroke-width="1.2"/>
<line x1="410.40" y1="342.90" x2="415.20" y2="342.90" stroke="#111" stroke-width="1.3"/>
<rect x="407.6" y="349.5" width="10.4" height="67.1" fill="#c6c6c6" stroke="#111" stroke-width="1.2"/>
<line x1="428.00" y1="351.90" x2="428.00" y2="356.20" stroke="#111" stroke-width="1.2"/>
<line x1="425.60" y1="351.90" x2="430.40" y2="351.90" stroke="#111" stroke-width="1.3"/>
<rect x="423.1" y="356.7" width="9.8" height="59.9" fill="#c6c6c6" stroke="#111" stroke-width="1.2"/>
<line x1="443.05" y1="343.30" x2="443.05" y2="348.40" stroke="#111" stroke-width="1.2"/>
<line x1="440.65" y1="343.30" x2="445.45" y2="343.30" stroke="#111" stroke-width="1.3"/>
<rect x="437.9" y="348.9" width="10.3" height="67.7" fill="#c6c6c6" stroke="#111" stroke-width="1.2"/>
<line x1="458.20" y1="326.40" x2="458.20" y2="336.80" stroke="#111" stroke-width="1.2"/>
<line x1="455.80" y1="326.40" x2="460.60" y2="326.40" stroke="#111" stroke-width="1.3"/>
<rect x="453.3" y="337.3" width="9.8" height="79.3" fill="#c6c6c6" stroke="#111" stroke-width="1.2"/>
<line x1="473.65" y1="330.60" x2="473.65" y2="340.40" stroke="#111" stroke-width="1.2"/>
<line x1="471.25" y1="330.60" x2="476.05" y2="330.60" stroke="#111" stroke-width="1.3"/>
<rect x="468.6" y="340.9" width="10.1" height="75.7" fill="#c6c6c6" stroke="#111" stroke-width="1.2"/>
<line x1="489.10" y1="309.40" x2="489.10" y2="319.00" stroke="#111" stroke-width="1.2"/>
<line x1="486.70" y1="309.40" x2="491.50" y2="309.40" stroke="#111" stroke-width="1.3"/>
<rect x="484.2" y="319.5" width="9.8" height="97.1" fill="#c6c6c6" stroke="#111" stroke-width="1.2"/>
<line x1="504.25" y1="325.30" x2="504.25" y2="328.10" stroke="#111" stroke-width="1.2"/>
<line x1="501.85" y1="325.30" x2="506.65" y2="325.30" stroke="#111" stroke-width="1.3"/>
<rect x="499.1" y="328.6" width="10.3" height="88.0" fill="#c6c6c6" stroke="#111" stroke-width="1.2"/>
<line x1="383.90" y1="294.20" x2="383.90" y2="416.60" stroke="#111" stroke-width="1.2"/>
<line x1="377.90" y1="416.60" x2="510.20" y2="416.60" stroke="#111" stroke-width="1.2"/>
<line x1="377.90" y1="416.60" x2="383.90" y2="416.60" stroke="#111" stroke-width="1.2"/>
<line x1="377.90" y1="403.90" x2="383.90" y2="403.90" stroke="#111" stroke-width="1.2"/>
<line x1="377.90" y1="390.80" x2="383.90" y2="390.80" stroke="#111" stroke-width="1.2"/>
<line x1="377.90" y1="378.90" x2="383.90" y2="378.90" stroke="#111" stroke-width="1.2"/>
<line x1="377.90" y1="366.40" x2="383.90" y2="366.40" stroke="#111" stroke-width="1.2"/>
<line x1="377.90" y1="354.30" x2="383.90" y2="354.30" stroke="#111" stroke-width="1.2"/>
<line x1="377.90" y1="342.20" x2="383.90" y2="342.20" stroke="#111" stroke-width="1.2"/>
<line x1="377.90" y1="329.80" x2="383.90" y2="329.80" stroke="#111" stroke-width="1.2"/>
<line x1="377.90" y1="317.70" x2="383.90" y2="317.70" stroke="#111" stroke-width="1.2"/>
<line x1="377.90" y1="305.70" x2="383.90" y2="305.70" stroke="#111" stroke-width="1.2"/>
<line x1="377.90" y1="294.20" x2="383.90" y2="294.20" stroke="#111" stroke-width="1.2"/>
<text x="376.6" y="424.5" font-size="12.4" font-weight="normal" text-anchor="end" >0</text>
<text x="376.6" y="400.3" font-size="12.4" font-weight="normal" text-anchor="end" >20</text>
<text x="376.6" y="375.9" font-size="12.4" font-weight="normal" text-anchor="end" >40</text>
<text x="376.6" y="351.2" font-size="12.4" font-weight="normal" text-anchor="end" >60</text>
<text x="376.6" y="326.7" font-size="12.4" font-weight="normal" text-anchor="end" >80</text>
<text x="376.6" y="302.8" font-size="12.4" font-weight="normal" text-anchor="end" >100</text>
<line x1="397.50" y1="416.60" x2="397.50" y2="420.00" stroke="#111" stroke-width="1.1"/>
<line x1="412.60" y1="416.60" x2="412.60" y2="420.00" stroke="#111" stroke-width="1.1"/>
<line x1="426.90" y1="416.60" x2="426.90" y2="420.00" stroke="#111" stroke-width="1.1"/>
<line x1="441.40" y1="416.60" x2="441.40" y2="420.00" stroke="#111" stroke-width="1.1"/>
<line x1="457.60" y1="416.60" x2="457.60" y2="420.00" stroke="#111" stroke-width="1.1"/>
<line x1="472.00" y1="416.60" x2="472.00" y2="420.00" stroke="#111" stroke-width="1.1"/>
<line x1="487.30" y1="416.60" x2="487.30" y2="420.00" stroke="#111" stroke-width="1.1"/>
<line x1="502.30" y1="416.60" x2="502.30" y2="420.00" stroke="#111" stroke-width="1.1"/>
<text x="397.5" y="433.8" font-size="13" font-weight="normal" text-anchor="middle" >9</text>
<text x="412.6" y="433.8" font-size="13" font-weight="normal" text-anchor="middle" >12</text>
<text x="426.9" y="433.8" font-size="13" font-weight="normal" text-anchor="middle" >15</text>
<text x="441.4" y="433.8" font-size="13" font-weight="normal" text-anchor="middle" >19</text>
<text x="457.6" y="433.8" font-size="13" font-weight="normal" text-anchor="middle" >23</text>
<text x="472.0" y="433.8" font-size="13" font-weight="normal" text-anchor="middle" >32</text>
<text x="487.3" y="433.8" font-size="13" font-weight="normal" text-anchor="middle" >40</text>
<text x="502.3" y="433.8" font-size="13" font-weight="normal" text-anchor="middle" >60</text>
<text x="401.2" y="296.7" font-size="15.3" font-weight="bold">rec.lv/M-A<tspan font-size="10" dy="4.6">26-35</tspan></text>
<text x="447.6" y="451.9" font-size="13.3" font-weight="normal" text-anchor="middle" >days after immunization</text>
<text transform="translate(332.0,360.8) rotate(-90)" font-size="13" text-anchor="middle">%CD127<tspan font-size="8.5" dy="-5">hi</tspan><tspan dy="5"> cells</tspan></text>
<text transform="translate(347.6,358.5) rotate(-90)" font-size="13.4" text-anchor="middle">among Tet<tspan font-size="8.5" dy="-5">+</tspan><tspan dy="5"> CD8</tspan><tspan font-size="8.5" dy="-5">+</tspan><tspan dy="5"> T cells</tspan></text>
<polygon points="396.70,316.10 397.38,317.87 399.27,317.97 397.79,319.16 398.29,320.98 396.70,319.95 395.11,320.98 395.61,319.16 394.13,317.97 396.02,317.87" fill="#111"/>
<polygon points="412.80,316.10 413.48,317.87 415.37,317.97 413.89,319.16 414.39,320.98 412.80,319.95 411.21,320.98 411.71,319.16 410.23,317.97 412.12,317.87" fill="#111"/>
<polygon points="427.10,316.10 427.78,317.87 429.67,317.97 428.19,319.16 428.69,320.98 427.10,319.95 425.51,320.98 426.01,319.16 424.53,317.97 426.42,317.87" fill="#111"/>
<polygon points="442.50,316.10 443.18,317.87 445.07,317.97 443.59,319.16 444.09,320.98 442.50,319.95 440.91,320.98 441.41,319.16 439.93,317.97 441.82,317.87" fill="#111"/>
<polygon points="458.10,316.10 458.78,317.87 460.67,317.97 459.19,319.16 459.69,320.98 458.10,319.95 456.51,320.98 457.01,319.16 455.53,317.97 457.42,317.87" fill="#111"/>
<polygon points="472.90,316.10 473.58,317.87 475.47,317.97 473.99,319.16 474.49,320.98 472.90,319.95 471.31,320.98 471.81,319.16 470.33,317.97 472.22,317.87" fill="#111"/>
<line x1="397.60" y1="554.60" x2="397.60" y2="563.00" stroke="#111" stroke-width="1.2"/>
<line x1="395.20" y1="554.60" x2="400.00" y2="554.60" stroke="#111" stroke-width="1.3"/>
<rect x="391.9" y="563.5" width="11.4" height="47.5" fill="#303030" stroke="#111" stroke-width="1.2"/>
<line x1="413.35" y1="579.60" x2="413.35" y2="584.50" stroke="#111" stroke-width="1.2"/>
<line x1="410.95" y1="579.60" x2="415.75" y2="579.60" stroke="#111" stroke-width="1.3"/>
<rect x="407.8" y="585.0" width="11.1" height="26.0" fill="#303030" stroke="#111" stroke-width="1.2"/>
<line x1="430.55" y1="558.30" x2="430.55" y2="567.90" stroke="#111" stroke-width="1.2"/>
<line x1="428.15" y1="558.30" x2="432.95" y2="558.30" stroke="#111" stroke-width="1.3"/>
<rect x="424.7" y="568.4" width="11.7" height="42.6" fill="#303030" stroke="#111" stroke-width="1.2"/>
<line x1="447.45" y1="565.00" x2="447.45" y2="568.80" stroke="#111" stroke-width="1.2"/>
<line x1="445.05" y1="565.00" x2="449.85" y2="565.00" stroke="#111" stroke-width="1.3"/>
<rect x="441.7" y="569.3" width="11.5" height="41.7" fill="#303030" stroke="#111" stroke-width="1.2"/>
<line x1="464.50" y1="546.70" x2="464.50" y2="561.20" stroke="#111" stroke-width="1.2"/>
<line x1="462.10" y1="546.70" x2="466.90" y2="546.70" stroke="#111" stroke-width="1.3"/>
<rect x="458.5" y="561.7" width="12.0" height="49.3" fill="#303030" stroke="#111" stroke-width="1.2"/>
<line x1="481.25" y1="540.20" x2="481.25" y2="555.00" stroke="#111" stroke-width="1.2"/>
<line x1="478.85" y1="540.20" x2="483.65" y2="540.20" stroke="#111" stroke-width="1.3"/>
<rect x="475.3" y="555.5" width="11.9" height="55.5" fill="#303030" stroke="#111" stroke-width="1.2"/>
<line x1="498.50" y1="531.30" x2="498.50" y2="538.70" stroke="#111" stroke-width="1.2"/>
<line x1="496.10" y1="531.30" x2="500.90" y2="531.30" stroke="#111" stroke-width="1.3"/>
<rect x="492.7" y="539.2" width="11.6" height="71.8" fill="#303030" stroke="#111" stroke-width="1.2"/>
<line x1="383.70" y1="489.20" x2="383.70" y2="611.00" stroke="#111" stroke-width="1.2"/>
<line x1="377.70" y1="611.00" x2="504.80" y2="611.00" stroke="#111" stroke-width="1.2"/>
<line x1="377.70" y1="611.00" x2="383.70" y2="611.00" stroke="#111" stroke-width="1.2"/>
<line x1="377.70" y1="598.30" x2="383.70" y2="598.30" stroke="#111" stroke-width="1.2"/>
<line x1="377.70" y1="585.50" x2="383.70" y2="585.50" stroke="#111" stroke-width="1.2"/>
<line x1="377.70" y1="573.60" x2="383.70" y2="573.60" stroke="#111" stroke-width="1.2"/>
<line x1="377.70" y1="561.00" x2="383.70" y2="561.00" stroke="#111" stroke-width="1.2"/>
<line x1="377.70" y1="549.10" x2="383.70" y2="549.10" stroke="#111" stroke-width="1.2"/>
<line x1="377.70" y1="536.80" x2="383.70" y2="536.80" stroke="#111" stroke-width="1.2"/>
<line x1="377.70" y1="524.60" x2="383.70" y2="524.60" stroke="#111" stroke-width="1.2"/>
<line x1="377.70" y1="512.00" x2="383.70" y2="512.00" stroke="#111" stroke-width="1.2"/>
<line x1="377.70" y1="500.10" x2="383.70" y2="500.10" stroke="#111" stroke-width="1.2"/>
<line x1="377.70" y1="489.20" x2="383.70" y2="489.20" stroke="#111" stroke-width="1.2"/>
<text x="376.6" y="616.6" font-size="12.4" font-weight="normal" text-anchor="end" >0</text>
<text x="376.6" y="592.4" font-size="12.4" font-weight="normal" text-anchor="end" >20</text>
<text x="376.6" y="568.2" font-size="12.4" font-weight="normal" text-anchor="end" >40</text>
<text x="376.6" y="543.7" font-size="12.4" font-weight="normal" text-anchor="end" >60</text>
<text x="376.6" y="518.9" font-size="12.4" font-weight="normal" text-anchor="end" >80</text>
<text x="376.6" y="494.6" font-size="12.4" font-weight="normal" text-anchor="end" >100</text>
<line x1="397.40" y1="611.00" x2="397.40" y2="614.40" stroke="#111" stroke-width="1.1"/>
<line x1="412.30" y1="611.00" x2="412.30" y2="614.40" stroke="#111" stroke-width="1.1"/>
<line x1="429.20" y1="611.00" x2="429.20" y2="614.40" stroke="#111" stroke-width="1.1"/>
<line x1="447.20" y1="611.00" x2="447.20" y2="614.40" stroke="#111" stroke-width="1.1"/>
<line x1="464.80" y1="611.00" x2="464.80" y2="614.40" stroke="#111" stroke-width="1.1"/>
<line x1="481.40" y1="611.00" x2="481.40" y2="614.40" stroke="#111" stroke-width="1.1"/>
<line x1="498.70" y1="611.00" x2="498.70" y2="614.40" stroke="#111" stroke-width="1.1"/>
<text x="397.4" y="627.8" font-size="13" font-weight="normal" text-anchor="middle" >7</text>
<text x="412.3" y="627.8" font-size="13" font-weight="normal" text-anchor="middle" >9</text>
<text x="429.2" y="627.8" font-size="13" font-weight="normal" text-anchor="middle" >12</text>
<text x="447.2" y="627.8" font-size="13" font-weight="normal" text-anchor="middle" >15</text>
<text x="464.8" y="627.8" font-size="13" font-weight="normal" text-anchor="middle" >23</text>
<text x="481.4" y="627.8" font-size="13" font-weight="normal" text-anchor="middle" >32</text>
<text x="498.7" y="627.8" font-size="13" font-weight="normal" text-anchor="middle" >40</text>
<text x="409.8" y="494.4" font-size="15.3" font-weight="bold">adj/M-A<tspan font-size="10" dy="4.6">26-35</tspan></text>
<text x="446.2" y="645.3" font-size="13.3" font-weight="normal" text-anchor="middle" >Days after immunization</text>
<text transform="translate(331.9,550.2) rotate(-90)" font-size="13" text-anchor="middle">%CD127<tspan font-size="8.5" dy="-5">hi</tspan><tspan dy="5"> cells</tspan></text>
<text transform="translate(347.2,546.9) rotate(-90)" font-size="13.4" text-anchor="middle">among Tet<tspan font-size="8.5" dy="-5">+</tspan><tspan dy="5"> CD8</tspan><tspan font-size="8.5" dy="-5">+</tspan><tspan dy="5"> T cells</tspan></text>
</svg></body></html>
